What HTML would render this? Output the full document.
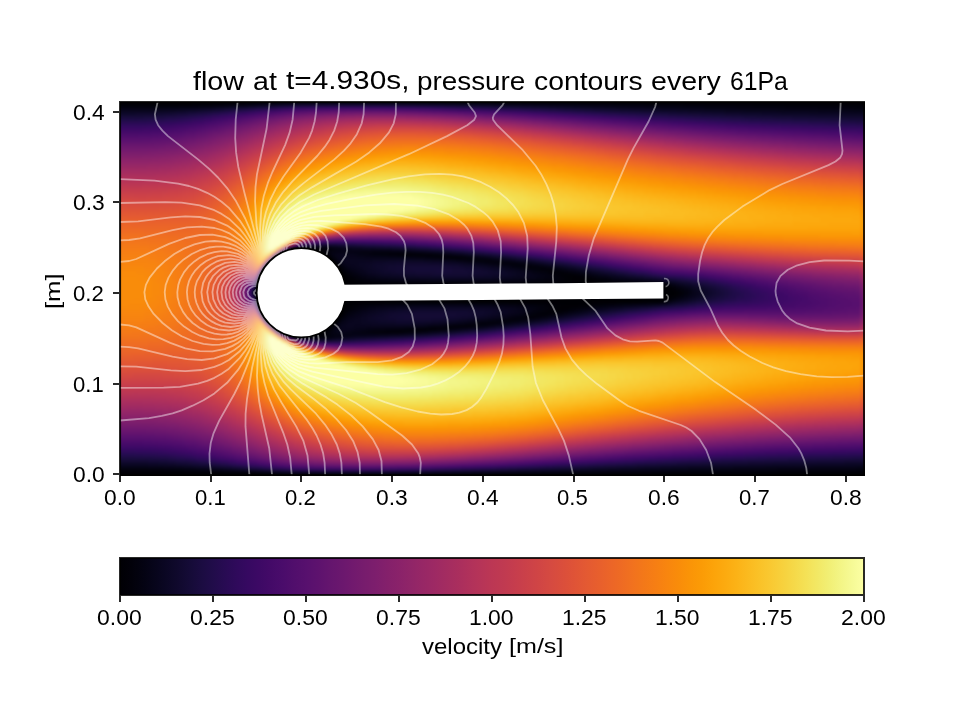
<!DOCTYPE html>
<html><head><meta charset="utf-8"><title>flow</title>
<style>
html,body{margin:0;padding:0;background:#fff}
#c{position:relative;width:960px;height:720px;overflow:hidden;background:#fff;font-family:"Liberation Sans",sans-serif}
#f{position:absolute;left:120px;top:102px;width:745px;height:374px;overflow:hidden;background:#000}
#g{display:flex;width:100%;height:100%;filter:blur(0.8px);}
#g i{display:block;flex:0 0 4px;height:100%}
#g i.n{flex-basis:2px}
#cb{position:absolute;left:120px;top:558px;width:744px;height:37px;background:linear-gradient(90deg,#000004,#02010a,#040312,#07051b,#0b0724,#10092d,#150b37,#1b0c41,#210c4a,#280b53,#2f0a5b,#360961,#3d0965,#440a68,#4a0c6b,#510e6c,#57106e,#5d126e,#64156e,#6a176e,#71196e,#771c6d,#7d1e6d,#84206b,#8a226a,#902568,#972766,#9d2964,#a32c61,#a92e5e,#b0315b,#b63458,#bc3754,#c03a51,#c63d4d,#cb4149,#d04545,#d54a41,#da4e3c,#df5337,#e35933,#e75e2e,#eb6429,#ee6a24,#f1711f,#f37819,#f67e14,#f8850f,#f98c0a,#fa9407,#fb9b06,#fca309,#fcaa0f,#fcb216,#fbba1f,#fac228,#f9c932,#f7d13d,#f5d949,#f4e156,#f2e865,#f1ef75,#f3f586,#f6fa96,#fcffa4)}
svg{position:absolute;left:0;top:0;opacity:.999}
text{font-family:"Liberation Sans",sans-serif;fill:#000}
</style></head><body>
<div id="c">
<div id="f"><div id="g"><i style="background:linear-gradient(#010005,#010106,#040312,#09061f,#0e092b,#160b39,#1f0c48,#280b53,#320a5e,#3b0964,#440a68,#4c0c6b,#540f6d,#5c126e,#64156e,#6c186e,#721a6e,#7a1d6d,#801f6c,#88226a,#8f2469,#952667,#9b2964,#a22b62,#a82e5f,#ae305c,#b43359,#b93556,#bf3952,#c33b4f,#c73e4c,#cc4248,#d04545,#d44842,#d84c3e,#db503b,#de5238,#e15635,#e45a31,#e65d2f,#e9612b,#eb6429,#ec6726,#ee6a24,#ef6e21,#f1711f,#f2741c,#f3761b,#f47918,#f57d15,#f67e14,#f68013,#f78212,#f78410,#f8850f,#f8870e,#f8890c,#f98b0b,#f98b0b,#f98c0a,#f98c0a,#f98c0a,#f98c0a,#f98c0a,#f98c0a,#f98c0a,#f98c0a,#f98b0b,#f98b0b,#f8890c,#f8870e,#f8850f,#f78410,#f78212,#f68013,#f67e14,#f57b17,#f47918,#f3761b,#f1731d,#f06f20,#ef6e21,#ee6a24,#eb6628,#ea632a,#e8602d,#e55c30,#e35933,#e05536,#de5238,#da4e3c,#d74b3f,#d34743,#cf4446,#cb4149,#c63d4d,#c13a50,#bc3754,#b73557,#b1325a,#ab2f5e,#a62d60,#a02a63,#9a2865,#932667,#8c2369,#85216b,#7f1e6c,#771c6d,#71196e,#69166e,#61136e,#59106e,#510e6c,#490b6a,#400a67,#380962,#2d0b59,#240c4f,#1b0c41,#140b34,#0c0826,#060419,#02020c,#010005,#000004)"></i><i style="background:linear-gradient(#010005,#010106,#040312,#09061f,#0e092b,#160b39,#1f0c48,#280b53,#320a5e,#3b0964,#440a68,#4c0c6b,#540f6d,#5c126e,#64156e,#6c186e,#721a6e,#7a1d6d,#801f6c,#88226a,#8f2469,#952667,#9b2964,#a22b62,#a82e5f,#ae305c,#b3325a,#b93556,#bf3952,#c33b4f,#c73e4c,#cc4248,#d04545,#d44842,#d84c3e,#db503b,#de5238,#e15635,#e45a31,#e65d2f,#e8602d,#eb6429,#ec6726,#ee6a24,#ef6e21,#f1711f,#f2741c,#f3761b,#f47918,#f57b17,#f67e14,#f68013,#f78212,#f78410,#f8850f,#f8870e,#f8890c,#f98b0b,#f98b0b,#f98c0a,#f98c0a,#f98c0a,#f98c0a,#f98c0a,#f98c0a,#f98c0a,#f98c0a,#f98b0b,#f98b0b,#f8890c,#f8870e,#f8850f,#f78410,#f78212,#f68013,#f67e14,#f57b17,#f47918,#f3761b,#f1731d,#f06f20,#ef6c23,#ed6925,#eb6628,#ea632a,#e8602d,#e55c30,#e35933,#e05536,#dd513a,#da4e3c,#d74b3f,#d34743,#cf4446,#ca404a,#c63d4d,#c13a50,#bc3754,#b73557,#b1325a,#ab2f5e,#a52c60,#a02a63,#982766,#922568,#8c2369,#85216b,#7d1e6d,#771c6d,#6f196e,#69166e,#61136e,#59106e,#510e6c,#490b6a,#400a67,#380962,#2d0b59,#240c4f,#1b0c41,#140b34,#0c0826,#060419,#02020c,#010005,#000004)"></i><i style="background:linear-gradient(#010005,#010106,#040312,#09061f,#0e092b,#160b39,#1f0c48,#280b53,#320a5e,#3b0964,#440a68,#4c0c6b,#540f6d,#5c126e,#64156e,#6c186e,#721a6e,#7a1d6d,#801f6c,#87216b,#8f2469,#952667,#9b2964,#a22b62,#a82e5f,#ae305c,#b3325a,#b93556,#bd3853,#c33b4f,#c73e4c,#cb4149,#d04545,#d44842,#d84c3e,#da4e3c,#de5238,#e15635,#e35933,#e65d2f,#e8602d,#eb6429,#ec6726,#ee6a24,#ef6e21,#f1711f,#f2741c,#f3761b,#f47918,#f57b17,#f67e14,#f68013,#f78212,#f78410,#f8850f,#f8870e,#f8890c,#f98b0b,#f98b0b,#f98c0a,#f98c0a,#f98c0a,#f98c0a,#f98c0a,#f98c0a,#f98c0a,#f98c0a,#f98b0b,#f8890c,#f8890c,#f8870e,#f8850f,#f78410,#f78212,#f68013,#f67e14,#f57b17,#f47918,#f3761b,#f1731d,#f06f20,#ef6c23,#ed6925,#eb6628,#ea632a,#e8602d,#e55c30,#e35933,#e05536,#dd513a,#d94d3d,#d74b3f,#d34743,#ce4347,#ca404a,#c63d4d,#c13a50,#bc3754,#b73557,#b1325a,#ab2f5e,#a52c60,#9f2a63,#982766,#922568,#8c2369,#85216b,#7d1e6d,#771c6d,#6f196e,#69166e,#61136e,#59106e,#510e6c,#490b6a,#400a67,#380962,#2d0b59,#240c4f,#1b0c41,#140b34,#0c0826,#060419,#02020c,#010005,#000004)"></i><i style="background:linear-gradient(#010005,#010106,#040312,#09061f,#0e092b,#160b39,#1f0c48,#280b53,#320a5e,#3b0964,#440a68,#4c0c6b,#540f6d,#5c126e,#64156e,#6c186e,#721a6e,#7a1d6d,#801f6c,#88226a,#8f2469,#952667,#9b2964,#a22b62,#a82e5f,#ae305c,#b3325a,#b93556,#bd3853,#c33b4f,#c73e4c,#cb4149,#cf4446,#d44842,#d74b3f,#da4e3c,#de5238,#e15635,#e35933,#e65d2f,#e8602d,#ea632a,#ec6726,#ee6a24,#ef6e21,#f1711f,#f2741c,#f3761b,#f47918,#f57b17,#f67e14,#f68013,#f78212,#f78410,#f8850f,#f8870e,#f8890c,#f98b0b,#f98b0b,#f98c0a,#f98c0a,#f98c0a,#f98c0a,#f98c0a,#f98c0a,#f98c0a,#f98b0b,#f98b0b,#f8890c,#f8890c,#f8870e,#f8850f,#f78410,#f78212,#f68013,#f57d15,#f57b17,#f37819,#f3761b,#f1731d,#f06f20,#ef6c23,#ed6925,#eb6628,#ea632a,#e75e2e,#e55c30,#e35933,#e05536,#dd513a,#d94d3d,#d54a41,#d24644,#ce4347,#ca404a,#c63d4d,#c13a50,#bc3754,#b63458,#b1325a,#ab2f5e,#a52c60,#9f2a63,#982766,#922568,#8c2369,#85216b,#7d1e6d,#771c6d,#6f196e,#69166e,#61136e,#59106e,#510e6c,#490b6a,#400a67,#380962,#2d0b59,#240c4f,#1b0c41,#140b34,#0c0826,#060419,#02020c,#010005,#000004)"></i><i style="background:linear-gradient(#010005,#010106,#040312,#09061f,#10092d,#160b39,#1f0c48,#280b53,#320a5e,#3b0964,#440a68,#4c0c6b,#540f6d,#5c126e,#64156e,#6c186e,#721a6e,#7a1d6d,#801f6c,#88226a,#8f2469,#952667,#9b2964,#a22b62,#a82e5f,#ae305c,#b3325a,#b93556,#bd3853,#c33b4f,#c73e4c,#cb4149,#cf4446,#d34743,#d74b3f,#da4e3c,#de5238,#e15635,#e35933,#e65d2f,#e8602d,#ea632a,#ec6726,#ee6a24,#ef6e21,#f1711f,#f1731d,#f3761b,#f47918,#f57b17,#f67e14,#f68013,#f78212,#f78410,#f8850f,#f8870e,#f8890c,#f8890c,#f98b0b,#f98b0b,#f98c0a,#f98c0a,#f98c0a,#f98c0a,#f98c0a,#f98c0a,#f98b0b,#f98b0b,#f8890c,#f8890c,#f8870e,#f8850f,#f78410,#f78212,#f68013,#f57d15,#f57b17,#f37819,#f3761b,#f1731d,#f06f20,#ef6c23,#ed6925,#eb6628,#ea632a,#e75e2e,#e55c30,#e25734,#e05536,#dd513a,#d94d3d,#d54a41,#d24644,#ce4347,#ca404a,#c63d4d,#c03a51,#bc3754,#b63458,#b1325a,#ab2f5e,#a52c60,#9f2a63,#982766,#922568,#8c2369,#85216b,#7d1e6d,#771c6d,#6f196e,#69166e,#61136e,#59106e,#510e6c,#490b6a,#400a67,#380962,#2f0a5b,#240c4f,#1c0c43,#140b34,#0c0826,#060419,#02020c,#010005,#000004)"></i><i style="background:linear-gradient(#010005,#010106,#040312,#09061f,#10092d,#160b39,#1f0c48,#290b55,#320a5e,#3b0964,#440a68,#4d0d6c,#550f6d,#5c126e,#64156e,#6c186e,#741a6e,#7a1d6d,#801f6c,#88226a,#8f2469,#952667,#9b2964,#a22b62,#a82e5f,#ae305c,#b3325a,#b93556,#bd3853,#c33b4f,#c73e4c,#cb4149,#cf4446,#d34743,#d74b3f,#da4e3c,#de5238,#e15635,#e35933,#e65d2f,#e8602d,#ea632a,#eb6628,#ee6a24,#ef6e21,#f06f20,#f1731d,#f3761b,#f37819,#f57b17,#f57d15,#f68013,#f78212,#f78410,#f8850f,#f8870e,#f8890c,#f8890c,#f98b0b,#f98b0b,#f98b0b,#f98c0a,#f98c0a,#f98c0a,#f98c0a,#f98b0b,#f98b0b,#f98b0b,#f8890c,#f8870e,#f8870e,#f8850f,#f78410,#f78212,#f67e14,#f57d15,#f57b17,#f37819,#f2741c,#f1731d,#f06f20,#ef6c23,#ed6925,#eb6628,#ea632a,#e75e2e,#e55c30,#e25734,#e05536,#dd513a,#d94d3d,#d54a41,#d24644,#ce4347,#ca404a,#c63d4d,#c03a51,#bc3754,#b73557,#b1325a,#ab2f5e,#a52c60,#9f2a63,#982766,#922568,#8c2369,#85216b,#7f1e6c,#771c6d,#71196e,#69166e,#61136e,#59106e,#510e6c,#490b6a,#400a67,#380962,#2f0a5b,#240c4f,#1c0c43,#140b34,#0c0826,#060419,#02020c,#000004,#000004)"></i><i style="background:linear-gradient(#010005,#010106,#040312,#09061f,#10092d,#180c3c,#1f0c48,#290b55,#320a5e,#3d0965,#450a69,#4d0d6c,#550f6d,#5d126e,#64156e,#6c186e,#741a6e,#7a1d6d,#82206c,#88226a,#8f2469,#952667,#9b2964,#a22b62,#a82e5f,#ae305c,#b43359,#b93556,#bf3952,#c33b4f,#c73e4c,#cb4149,#cf4446,#d34743,#d74b3f,#da4e3c,#de5238,#e15635,#e35933,#e65d2f,#e8602d,#ea632a,#eb6628,#ed6925,#ef6c23,#f06f20,#f1731d,#f3761b,#f37819,#f57b17,#f57d15,#f67e14,#f78212,#f78410,#f8850f,#f8850f,#f8870e,#f8890c,#f8890c,#f98b0b,#f98b0b,#f98b0b,#f98b0b,#f98b0b,#f98b0b,#f98b0b,#f98b0b,#f8890c,#f8890c,#f8870e,#f8850f,#f78410,#f78212,#f68013,#f67e14,#f57d15,#f47918,#f37819,#f2741c,#f1711f,#f06f20,#ef6c23,#ed6925,#eb6628,#e9612b,#e75e2e,#e55c30,#e25734,#e05536,#dd513a,#d94d3d,#d54a41,#d24644,#ce4347,#ca404a,#c63d4d,#c13a50,#bc3754,#b73557,#b1325a,#ab2f5e,#a62d60,#a02a63,#9a2865,#932667,#8c2369,#85216b,#7f1e6c,#771c6d,#71196e,#69166e,#61136e,#5a116e,#520e6d,#4a0c6b,#420a68,#380962,#2f0a5b,#260c51,#1c0c43,#140b34,#0c0826,#060419,#02020c,#000004,#000004)"></i><i style="background:linear-gradient(#010005,#010106,#040312,#09061f,#10092d,#180c3c,#210c4a,#290b55,#340a5f,#3d0965,#450a69,#4d0d6c,#550f6d,#5d126e,#65156e,#6d186e,#741a6e,#7c1d6d,#82206c,#88226a,#8f2469,#972766,#9d2964,#a32c61,#a82e5f,#ae305c,#b43359,#b93556,#bf3952,#c33b4f,#c73e4c,#cb4149,#d04545,#d44842,#d74b3f,#da4e3c,#de5238,#e15635,#e35933,#e55c30,#e8602d,#ea632a,#eb6628,#ed6925,#ef6c23,#f06f20,#f1731d,#f2741c,#f37819,#f47918,#f57d15,#f67e14,#f68013,#f78212,#f78410,#f8850f,#f8870e,#f8870e,#f8890c,#f8890c,#f98b0b,#f98b0b,#f98b0b,#f98b0b,#f98b0b,#f98b0b,#f8890c,#f8890c,#f8870e,#f8870e,#f8850f,#f78410,#f78212,#f68013,#f67e14,#f57b17,#f47918,#f3761b,#f2741c,#f1711f,#ef6e21,#ee6a24,#ec6726,#eb6429,#e9612b,#e75e2e,#e55c30,#e25734,#e05536,#dd513a,#d94d3d,#d54a41,#d24644,#ce4347,#ca404a,#c63d4d,#c13a50,#bc3754,#b73557,#b1325a,#ab2f5e,#a62d60,#a02a63,#9a2865,#932667,#8d2369,#85216b,#7f1e6c,#781c6d,#71196e,#6a176e,#62146e,#5a116e,#520e6d,#4a0c6b,#420a68,#390963,#2f0a5b,#260c51,#1c0c43,#150b37,#0d0829,#07051b,#02020c,#000004,#000004)"></i><i style="background:linear-gradient(#010005,#010106,#040312,#09061f,#10092d,#180c3c,#210c4a,#2b0b57,#340a5f,#3d0965,#470b6a,#4f0d6c,#57106e,#5f136e,#65156e,#6d186e,#751b6e,#7c1d6d,#82206c,#8a226a,#902568,#972766,#9d2964,#a32c61,#a92e5e,#ae305c,#b43359,#ba3655,#bf3952,#c33b4f,#c83f4b,#cc4248,#d04545,#d44842,#d84c3e,#da4e3c,#de5238,#e15635,#e35933,#e55c30,#e8602d,#ea632a,#eb6628,#ed6925,#ef6c23,#f06f20,#f1731d,#f2741c,#f37819,#f47918,#f57b17,#f67e14,#f68013,#f78212,#f78410,#f8850f,#f8850f,#f8870e,#f8870e,#f8890c,#f8890c,#f8890c,#f8890c,#f8890c,#f8890c,#f8890c,#f8890c,#f8870e,#f8870e,#f8850f,#f78410,#f78212,#f68013,#f67e14,#f57d15,#f57b17,#f47918,#f3761b,#f2741c,#f1711f,#ef6e21,#ee6a24,#ec6726,#eb6429,#e9612b,#e75e2e,#e45a31,#e25734,#df5337,#dd513a,#d94d3d,#d54a41,#d24644,#ce4347,#ca404a,#c63d4d,#c13a50,#bc3754,#b73557,#b1325a,#ad305d,#a62d60,#a02a63,#9a2865,#932667,#8d2369,#87216b,#7f1e6c,#781c6d,#721a6e,#6a176e,#62146e,#5a116e,#540f6d,#4c0c6b,#420a68,#390963,#310a5c,#260c51,#1e0c45,#150b37,#0d0829,#07051b,#02020c,#000004,#000004)"></i><i style="background:linear-gradient(#010005,#010106,#040312,#0a0722,#110a30,#190c3e,#230c4c,#2b0b57,#360961,#3e0966,#470b6a,#4f0d6c,#57106e,#5f136e,#67166e,#6d186e,#751b6e,#7d1e6d,#84206b,#8a226a,#902568,#972766,#9d2964,#a32c61,#a92e5e,#b0315b,#b43359,#ba3655,#bf3952,#c43c4e,#c83f4b,#cc4248,#d04545,#d44842,#d84c3e,#da4e3c,#de5238,#e15635,#e35933,#e55c30,#e8602d,#ea632a,#eb6628,#ed6925,#ef6c23,#f06f20,#f1711f,#f2741c,#f3761b,#f47918,#f57b17,#f57d15,#f67e14,#f68013,#f78212,#f78410,#f8850f,#f8850f,#f8870e,#f8870e,#f8870e,#f8890c,#f8890c,#f8890c,#f8890c,#f8870e,#f8870e,#f8870e,#f8850f,#f78410,#f78410,#f78212,#f68013,#f67e14,#f57d15,#f47918,#f37819,#f3761b,#f1731d,#f06f20,#ef6e21,#ee6a24,#ec6726,#eb6429,#e9612b,#e75e2e,#e45a31,#e25734,#df5337,#dd513a,#d94d3d,#d54a41,#d24644,#cf4446,#ca404a,#c63d4d,#c13a50,#bd3853,#b73557,#b3325a,#ad305d,#a62d60,#a22b62,#9b2964,#952667,#8d2369,#87216b,#801f6c,#7a1d6d,#721a6e,#6a176e,#64156e,#5c126e,#540f6d,#4c0c6b,#440a68,#3b0964,#310a5c,#280b53,#1e0c45,#150b37,#0d0829,#07051b,#02020c,#000004,#000004)"></i><i style="background:linear-gradient(#010005,#010106,#040312,#0a0722,#110a30,#190c3e,#230c4c,#2d0b59,#360961,#400a67,#490b6a,#510e6c,#59106e,#61136e,#67166e,#6f196e,#771c6d,#7d1e6d,#84206b,#8c2369,#922568,#982766,#9f2a63,#a52c60,#ab2f5e,#b0315b,#b63458,#ba3655,#c03a51,#c43c4e,#c83f4b,#cc4248,#d04545,#d44842,#d84c3e,#db503b,#de5238,#e15635,#e35933,#e55c30,#e8602d,#ea632a,#eb6628,#ed6925,#ef6c23,#ef6e21,#f1711f,#f1731d,#f3761b,#f37819,#f57b17,#f57d15,#f67e14,#f68013,#f78212,#f78212,#f78410,#f8850f,#f8850f,#f8850f,#f8870e,#f8870e,#f8870e,#f8870e,#f8870e,#f8870e,#f8850f,#f8850f,#f78410,#f78410,#f78212,#f68013,#f67e14,#f57d15,#f57b17,#f47918,#f37819,#f2741c,#f1731d,#f06f20,#ef6c23,#ee6a24,#ec6726,#eb6429,#e9612b,#e75e2e,#e45a31,#e25734,#df5337,#dd513a,#d94d3d,#d54a41,#d34743,#cf4446,#cb4149,#c73e4c,#c13a50,#bd3853,#b93556,#b3325a,#ad305d,#a82e5f,#a22b62,#9b2964,#952667,#8f2469,#88226a,#82206c,#7a1d6d,#741a6e,#6c186e,#64156e,#5d126e,#550f6d,#4d0d6c,#450a69,#3b0964,#320a5e,#290b55,#1f0c48,#160b39,#0e092b,#07051b,#02020c,#000004,#000004)"></i><i style="background:linear-gradient(#010005,#010106,#040314,#0a0722,#120a32,#1b0c41,#240c4f,#2f0a5b,#380962,#400a67,#4a0c6b,#520e6d,#5a116e,#61136e,#69166e,#71196e,#771c6d,#7f1e6c,#85216b,#8c2369,#922568,#9a2865,#9f2a63,#a52c60,#ab2f5e,#b1325a,#b63458,#bc3754,#c03a51,#c43c4e,#c83f4b,#ce4347,#d24644,#d44842,#d84c3e,#db503b,#de5238,#e15635,#e35933,#e55c30,#e8602d,#ea632a,#eb6628,#ed6925,#ee6a24,#ef6e21,#f1711f,#f1731d,#f3761b,#f37819,#f47918,#f57b17,#f57d15,#f67e14,#f68013,#f78212,#f78212,#f78410,#f78410,#f8850f,#f8850f,#f8850f,#f8850f,#f8850f,#f8850f,#f8850f,#f78410,#f78410,#f78212,#f78212,#f68013,#f67e14,#f57d15,#f57b17,#f47918,#f37819,#f3761b,#f2741c,#f1711f,#f06f20,#ef6c23,#ed6925,#eb6628,#eb6429,#e9612b,#e65d2f,#e45a31,#e25734,#df5337,#dd513a,#d94d3d,#d74b3f,#d34743,#cf4446,#cb4149,#c73e4c,#c33b4f,#bd3853,#b93556,#b43359,#ae305c,#a82e5f,#a32c61,#9d2964,#972766,#902568,#88226a,#82206c,#7c1d6d,#741a6e,#6d186e,#65156e,#5d126e,#550f6d,#4f0d6c,#450a69,#3d0965,#340a5f,#290b55,#1f0c48,#160b39,#0e092b,#08051d,#02020e,#000004,#000004)"></i><i style="background:linear-gradient(#010005,#010106,#040314,#0b0724,#120a32,#1c0c43,#260c51,#2f0a5b,#390963,#420a68,#4a0c6b,#520e6d,#5a116e,#62146e,#6a176e,#721a6e,#781c6d,#801f6c,#87216b,#8d2369,#932667,#9a2865,#a02a63,#a62d60,#ad305d,#b1325a,#b73557,#bc3754,#c13a50,#c63d4d,#ca404a,#ce4347,#d24644,#d54a41,#d84c3e,#db503b,#df5337,#e15635,#e35933,#e65d2f,#e8602d,#ea632a,#eb6628,#ec6726,#ee6a24,#ef6e21,#f06f20,#f1731d,#f2741c,#f3761b,#f37819,#f57b17,#f57b17,#f57d15,#f67e14,#f68013,#f68013,#f78212,#f78212,#f78410,#f78410,#f78410,#f78410,#f78410,#f78410,#f78410,#f78212,#f78212,#f68013,#f68013,#f67e14,#f57d15,#f57d15,#f57b17,#f47918,#f37819,#f2741c,#f1731d,#f1711f,#ef6e21,#ef6c23,#ed6925,#eb6628,#ea632a,#e8602d,#e65d2f,#e45a31,#e25734,#e05536,#dd513a,#da4e3c,#d74b3f,#d34743,#cf4446,#cb4149,#c73e4c,#c33b4f,#bf3952,#ba3655,#b43359,#b0315b,#a92e5e,#a32c61,#9d2964,#972766,#902568,#8a226a,#84206b,#7d1e6d,#751b6e,#6f196e,#67166e,#5f136e,#57106e,#4f0d6c,#470b6a,#3e0966,#360961,#2b0b57,#210c4a,#180c3c,#10092d,#08051d,#02020e,#000004,#000004)"></i><i style="background:linear-gradient(#010005,#010106,#040314,#0b0724,#140b34,#1c0c43,#260c51,#310a5c,#3b0964,#440a68,#4c0c6b,#540f6d,#5c126e,#64156e,#6c186e,#721a6e,#7a1d6d,#801f6c,#88226a,#8f2469,#952667,#9b2964,#a22b62,#a82e5f,#ad305d,#b3325a,#b93556,#bd3853,#c13a50,#c63d4d,#cb4149,#cf4446,#d24644,#d54a41,#d94d3d,#db503b,#df5337,#e15635,#e45a31,#e65d2f,#e8602d,#ea632a,#eb6628,#ec6726,#ee6a24,#ef6e21,#f06f20,#f1711f,#f2741c,#f3761b,#f37819,#f47918,#f57b17,#f57d15,#f57d15,#f67e14,#f67e14,#f68013,#f68013,#f68013,#f78212,#f78212,#f78212,#f78212,#f78212,#f68013,#f68013,#f68013,#f67e14,#f67e14,#f57d15,#f57b17,#f57b17,#f47918,#f37819,#f3761b,#f2741c,#f1711f,#f06f20,#ef6e21,#ee6a24,#ed6925,#eb6628,#ea632a,#e8602d,#e65d2f,#e45a31,#e25734,#e05536,#dd513a,#da4e3c,#d74b3f,#d44842,#d04545,#cc4248,#c83f4b,#c43c4e,#c03a51,#ba3655,#b63458,#b0315b,#ab2f5e,#a52c60,#9f2a63,#982766,#922568,#8c2369,#85216b,#7d1e6d,#771c6d,#6f196e,#69166e,#61136e,#59106e,#510e6c,#490b6a,#400a67,#360961,#2d0b59,#230c4c,#190c3e,#10092d,#08051d,#02020e,#000004,#000004)"></i><i style="background:linear-gradient(#010005,#010106,#040314,#0c0826,#150b37,#1e0c45,#280b53,#320a5e,#3d0965,#450a69,#4d0d6c,#550f6d,#5d126e,#65156e,#6d186e,#741a6e,#7c1d6d,#82206c,#8a226a,#902568,#972766,#9d2964,#a32c61,#a92e5e,#ae305c,#b43359,#b93556,#bf3952,#c33b4f,#c73e4c,#cb4149,#cf4446,#d34743,#d74b3f,#d94d3d,#dd513a,#df5337,#e25734,#e45a31,#e65d2f,#e8602d,#ea632a,#eb6628,#ec6726,#ee6a24,#ef6c23,#f06f20,#f1711f,#f1731d,#f2741c,#f3761b,#f37819,#f47918,#f57b17,#f57b17,#f57d15,#f57d15,#f67e14,#f67e14,#f67e14,#f67e14,#f67e14,#f67e14,#f67e14,#f67e14,#f67e14,#f67e14,#f57d15,#f57d15,#f57b17,#f57b17,#f47918,#f47918,#f37819,#f3761b,#f2741c,#f1731d,#f1711f,#ef6e21,#ef6c23,#ee6a24,#ec6726,#eb6628,#ea632a,#e8602d,#e65d2f,#e45a31,#e25734,#e05536,#de5238,#da4e3c,#d84c3e,#d44842,#d04545,#cc4248,#c83f4b,#c43c4e,#c03a51,#bc3754,#b73557,#b1325a,#ab2f5e,#a62d60,#a02a63,#9a2865,#932667,#8d2369,#87216b,#7f1e6c,#781c6d,#71196e,#6a176e,#62146e,#5a116e,#520e6d,#4a0c6b,#420a68,#380962,#2f0a5b,#240c4f,#1b0c41,#110a30,#09061f,#02020e,#000004,#000004)"></i><i style="background:linear-gradient(#010005,#010106,#050417,#0c0826,#150b37,#1f0c48,#290b55,#340a5f,#3e0966,#470b6a,#4f0d6c,#57106e,#5f136e,#67166e,#6f196e,#771c6d,#7d1e6d,#84206b,#8c2369,#922568,#982766,#9f2a63,#a52c60,#ab2f5e,#b0315b,#b63458,#ba3655,#c03a51,#c43c4e,#c83f4b,#cc4248,#d04545,#d44842,#d74b3f,#da4e3c,#dd513a,#e05536,#e25734,#e45a31,#e65d2f,#e8602d,#ea632a,#eb6628,#ec6726,#ee6a24,#ef6c23,#ef6e21,#f1711f,#f1731d,#f2741c,#f3761b,#f3761b,#f37819,#f47918,#f47918,#f57b17,#f57b17,#f57b17,#f57d15,#f57d15,#f57d15,#f57d15,#f57d15,#f57d15,#f57d15,#f57b17,#f57b17,#f57b17,#f47918,#f47918,#f47918,#f37819,#f3761b,#f3761b,#f2741c,#f1731d,#f1711f,#f06f20,#ef6e21,#ef6c23,#ed6925,#ec6726,#eb6429,#ea632a,#e8602d,#e65d2f,#e45a31,#e25734,#e05536,#de5238,#db503b,#d84c3e,#d54a41,#d24644,#ce4347,#ca404a,#c63d4d,#c13a50,#bd3853,#b73557,#b3325a,#ad305d,#a82e5f,#a22b62,#9b2964,#952667,#8f2469,#88226a,#82206c,#7a1d6d,#741a6e,#6c186e,#64156e,#5c126e,#540f6d,#4c0c6b,#440a68,#3b0964,#310a5c,#260c51,#1b0c41,#120a32,#09061f,#02020e,#000004,#000004)"></i><i style="background:linear-gradient(#010005,#010106,#050417,#0d0829,#160b39,#210c4a,#2b0b57,#360961,#400a67,#490b6a,#520e6d,#5a116e,#62146e,#69166e,#71196e,#781c6d,#7f1e6c,#87216b,#8d2369,#932667,#9a2865,#a02a63,#a62d60,#ad305d,#b1325a,#b73557,#bc3754,#c13a50,#c63d4d,#ca404a,#ce4347,#d24644,#d44842,#d84c3e,#db503b,#de5238,#e05536,#e35933,#e55c30,#e75e2e,#e8602d,#ea632a,#eb6628,#ec6726,#ee6a24,#ef6c23,#ef6e21,#f06f20,#f1711f,#f1731d,#f2741c,#f2741c,#f3761b,#f37819,#f37819,#f37819,#f47918,#f47918,#f47918,#f47918,#f47918,#f47918,#f47918,#f47918,#f47918,#f47918,#f37819,#f37819,#f37819,#f3761b,#f3761b,#f3761b,#f2741c,#f1731d,#f1731d,#f1711f,#f06f20,#ef6e21,#ef6c23,#ee6a24,#ed6925,#ec6726,#eb6429,#ea632a,#e8602d,#e65d2f,#e55c30,#e35933,#e15635,#de5238,#db503b,#d94d3d,#d54a41,#d34743,#cf4446,#cb4149,#c73e4c,#c33b4f,#bf3952,#b93556,#b43359,#ae305c,#a92e5e,#a32c61,#9d2964,#972766,#902568,#8a226a,#84206b,#7c1d6d,#751b6e,#6d186e,#67166e,#5f136e,#57106e,#4f0d6c,#450a69,#3d0965,#320a5e,#280b53,#1c0c43,#120a32,#0a0722,#030210,#010005,#000004)"></i><i style="background:linear-gradient(#010005,#010106,#050417,#0e092b,#180c3c,#230c4c,#2d0b59,#380962,#420a68,#4c0c6b,#540f6d,#5c126e,#64156e,#6c186e,#721a6e,#7a1d6d,#801f6c,#88226a,#8f2469,#952667,#9b2964,#a22b62,#a82e5f,#ae305c,#b3325a,#b93556,#bd3853,#c33b4f,#c73e4c,#cb4149,#cf4446,#d34743,#d54a41,#d94d3d,#db503b,#df5337,#e15635,#e35933,#e55c30,#e75e2e,#e9612b,#ea632a,#eb6628,#ec6726,#ee6a24,#ef6c23,#ef6e21,#f06f20,#f1711f,#f1711f,#f1731d,#f2741c,#f2741c,#f2741c,#f3761b,#f3761b,#f3761b,#f3761b,#f3761b,#f3761b,#f3761b,#f3761b,#f3761b,#f3761b,#f3761b,#f3761b,#f3761b,#f2741c,#f2741c,#f2741c,#f1731d,#f1731d,#f1731d,#f1711f,#f1711f,#f06f20,#ef6e21,#ef6c23,#ef6c23,#ee6a24,#ec6726,#eb6628,#eb6429,#ea632a,#e8602d,#e75e2e,#e55c30,#e35933,#e15635,#df5337,#dd513a,#d94d3d,#d74b3f,#d34743,#d04545,#cc4248,#c83f4b,#c43c4e,#c03a51,#bc3754,#b63458,#b1325a,#ab2f5e,#a52c60,#9f2a63,#9a2865,#922568,#8c2369,#85216b,#7f1e6c,#771c6d,#71196e,#69166e,#61136e,#59106e,#510e6c,#490b6a,#3e0966,#340a5f,#290b55,#1e0c45,#140b34,#0a0722,#030210,#010005,#000004)"></i><i style="background:linear-gradient(#010106,#010108,#060419,#0e092b,#190c3e,#240c4f,#310a5c,#3b0964,#440a68,#4d0d6c,#550f6d,#5d126e,#65156e,#6d186e,#751b6e,#7c1d6d,#84206b,#8a226a,#902568,#982766,#9f2a63,#a52c60,#a92e5e,#b0315b,#b63458,#ba3655,#c03a51,#c43c4e,#c83f4b,#cc4248,#d04545,#d44842,#d74b3f,#da4e3c,#dd513a,#e05536,#e25734,#e45a31,#e65d2f,#e8602d,#e9612b,#eb6429,#eb6628,#ed6925,#ee6a24,#ef6c23,#ef6e21,#f06f20,#f06f20,#f1711f,#f1711f,#f1731d,#f1731d,#f1731d,#f1731d,#f1731d,#f1731d,#f1731d,#f1731d,#f1731d,#f1731d,#f1731d,#f1731d,#f1731d,#f1731d,#f1711f,#f1711f,#f1711f,#f1711f,#f1711f,#f1711f,#f06f20,#f06f20,#f06f20,#ef6e21,#ef6e21,#ef6c23,#ef6c23,#ee6a24,#ed6925,#ec6726,#eb6628,#eb6429,#ea632a,#e8602d,#e75e2e,#e55c30,#e35933,#e25734,#e05536,#dd513a,#da4e3c,#d84c3e,#d44842,#d24644,#ce4347,#ca404a,#c63d4d,#c13a50,#bd3853,#b73557,#b3325a,#ad305d,#a82e5f,#a22b62,#9b2964,#952667,#8f2469,#87216b,#801f6c,#7a1d6d,#721a6e,#6a176e,#62146e,#5a116e,#520e6d,#4a0c6b,#400a67,#380962,#2b0b57,#1f0c48,#150b37,#0b0724,#030210,#010005,#000004)"></i><i style="background:linear-gradient(#010106,#010108,#060419,#10092d,#1b0c41,#260c51,#320a5e,#3d0965,#470b6a,#4f0d6c,#59106e,#61136e,#69166e,#71196e,#771c6d,#7f1e6c,#85216b,#8d2369,#932667,#9a2865,#a02a63,#a62d60,#ad305d,#b3325a,#b73557,#bd3853,#c13a50,#c63d4d,#ca404a,#ce4347,#d24644,#d54a41,#d94d3d,#db503b,#df5337,#e15635,#e35933,#e55c30,#e75e2e,#e8602d,#ea632a,#eb6429,#ec6726,#ed6925,#ee6a24,#ef6c23,#ef6e21,#ef6e21,#f06f20,#f06f20,#f1711f,#f1711f,#f1711f,#f1711f,#f1711f,#f1711f,#f1711f,#f06f20,#f06f20,#f06f20,#f06f20,#f06f20,#ef6e21,#ef6e21,#ef6e21,#ef6e21,#ef6e21,#ef6e21,#ef6e21,#ef6e21,#ef6c23,#ef6c23,#ef6c23,#ef6c23,#ef6c23,#ef6c23,#ee6a24,#ee6a24,#ed6925,#ed6925,#ec6726,#eb6628,#eb6429,#ea632a,#e9612b,#e75e2e,#e65d2f,#e45a31,#e25734,#e05536,#de5238,#db503b,#d94d3d,#d54a41,#d34743,#cf4446,#cb4149,#c73e4c,#c33b4f,#bf3952,#ba3655,#b43359,#b0315b,#a92e5e,#a32c61,#9d2964,#972766,#902568,#8a226a,#84206b,#7c1d6d,#751b6e,#6d186e,#65156e,#5d126e,#550f6d,#4d0d6c,#440a68,#390963,#2f0a5b,#230c4c,#160b39,#0c0826,#040312,#010005,#000004)"></i><i style="background:linear-gradient(#010106,#010108,#07051b,#110a30,#1c0c43,#280b53,#340a5f,#3e0966,#490b6a,#520e6d,#5a116e,#62146e,#6a176e,#721a6e,#7a1d6d,#801f6c,#88226a,#8f2469,#972766,#9d2964,#a32c61,#a92e5e,#ae305c,#b43359,#ba3655,#bf3952,#c43c4e,#c83f4b,#cc4248,#d04545,#d44842,#d74b3f,#da4e3c,#dd513a,#e05536,#e25734,#e45a31,#e65d2f,#e8602d,#e9612b,#eb6429,#eb6628,#ec6726,#ed6925,#ee6a24,#ef6c23,#ef6e21,#ef6e21,#ef6e21,#f06f20,#f06f20,#f06f20,#f06f20,#f06f20,#ef6e21,#ef6e21,#ef6e21,#ef6c23,#ef6c23,#ef6c23,#ee6a24,#ee6a24,#ee6a24,#ed6925,#ed6925,#ed6925,#ed6925,#ed6925,#ed6925,#ed6925,#ed6925,#ed6925,#ed6925,#ed6925,#ed6925,#ed6925,#ed6925,#ed6925,#ed6925,#ec6726,#ec6726,#eb6628,#eb6429,#ea632a,#e9612b,#e8602d,#e65d2f,#e55c30,#e35933,#e15635,#e05536,#dd513a,#da4e3c,#d84c3e,#d44842,#d24644,#ce4347,#ca404a,#c63d4d,#c13a50,#bc3754,#b73557,#b1325a,#ad305d,#a62d60,#a02a63,#9a2865,#932667,#8d2369,#85216b,#7f1e6c,#771c6d,#71196e,#69166e,#61136e,#59106e,#4f0d6c,#450a69,#3b0964,#310a5c,#240c4f,#180c3c,#0d0829,#040312,#010005,#000004)"></i><i style="background:linear-gradient(#010106,#010108,#08051d,#120a32,#1e0c45,#2b0b57,#380962,#420a68,#4c0c6b,#550f6d,#5d126e,#65156e,#6d186e,#751b6e,#7d1e6d,#84206b,#8c2369,#922568,#982766,#9f2a63,#a52c60,#ab2f5e,#b1325a,#b73557,#bc3754,#c13a50,#c63d4d,#ca404a,#cf4446,#d24644,#d54a41,#d94d3d,#dd513a,#df5337,#e15635,#e35933,#e55c30,#e75e2e,#e9612b,#ea632a,#eb6628,#ec6726,#ed6925,#ee6a24,#ef6c23,#ef6c23,#ef6e21,#ef6e21,#ef6e21,#ef6e21,#ef6e21,#ef6e21,#ef6e21,#ef6c23,#ef6c23,#ee6a24,#ed6925,#ed6925,#ec6726,#ec6726,#eb6628,#eb6628,#eb6429,#eb6429,#eb6429,#eb6429,#eb6429,#eb6429,#eb6429,#eb6429,#eb6628,#eb6628,#eb6628,#ec6726,#ec6726,#ec6726,#ec6726,#ec6726,#ec6726,#ec6726,#eb6628,#eb6628,#eb6429,#eb6429,#ea632a,#e9612b,#e75e2e,#e65d2f,#e45a31,#e35933,#e15635,#df5337,#dd513a,#d94d3d,#d74b3f,#d34743,#cf4446,#cc4248,#c83f4b,#c33b4f,#bf3952,#ba3655,#b43359,#b0315b,#a92e5e,#a32c61,#9d2964,#972766,#902568,#88226a,#82206c,#7a1d6d,#721a6e,#6c186e,#64156e,#5a116e,#520e6d,#490b6a,#3e0966,#320a5e,#260c51,#190c3e,#0d0829,#040314,#010005,#000004)"></i><i style="background:linear-gradient(#010106,#010108,#08051d,#140b34,#1f0c48,#2d0b59,#390963,#450a69,#4f0d6c,#57106e,#61136e,#69166e,#71196e,#781c6d,#7f1e6c,#87216b,#8d2369,#952667,#9b2964,#a22b62,#a82e5f,#ae305c,#b43359,#ba3655,#bf3952,#c43c4e,#c83f4b,#cc4248,#d04545,#d44842,#d84c3e,#db503b,#de5238,#e15635,#e35933,#e55c30,#e75e2e,#e9612b,#ea632a,#eb6628,#ec6726,#ed6925,#ee6a24,#ef6c23,#ef6c23,#ef6e21,#ef6e21,#ef6e21,#ef6e21,#ef6e21,#ef6c23,#ef6c23,#ee6a24,#ee6a24,#ed6925,#ec6726,#eb6628,#eb6429,#ea632a,#ea632a,#e9612b,#e8602d,#e8602d,#e8602d,#e75e2e,#e75e2e,#e75e2e,#e8602d,#e8602d,#e8602d,#e9612b,#e9612b,#ea632a,#eb6429,#eb6429,#eb6628,#eb6628,#eb6628,#ec6726,#ec6726,#eb6628,#eb6628,#eb6628,#eb6429,#ea632a,#ea632a,#e8602d,#e75e2e,#e65d2f,#e45a31,#e25734,#e05536,#de5238,#db503b,#d94d3d,#d54a41,#d24644,#ce4347,#ca404a,#c63d4d,#c13a50,#bd3853,#b73557,#b1325a,#ad305d,#a62d60,#a02a63,#9a2865,#922568,#8c2369,#85216b,#7d1e6d,#751b6e,#6d186e,#65156e,#5d126e,#550f6d,#4c0c6b,#420a68,#360961,#290b55,#1c0c43,#0e092b,#040314,#010005,#000004)"></i><i style="background:linear-gradient(#010106,#02010a,#09061f,#150b37,#230c4c,#310a5c,#3d0965,#470b6a,#510e6c,#5a116e,#64156e,#6c186e,#741a6e,#7c1d6d,#82206c,#8a226a,#902568,#982766,#9f2a63,#a52c60,#ab2f5e,#b1325a,#b73557,#bd3853,#c13a50,#c73e4c,#cb4149,#cf4446,#d34743,#d74b3f,#da4e3c,#de5238,#e05536,#e35933,#e55c30,#e75e2e,#e9612b,#ea632a,#eb6628,#ec6726,#ed6925,#ee6a24,#ef6c23,#ef6e21,#ef6e21,#f06f20,#f06f20,#ef6e21,#ef6e21,#ef6e21,#ef6c23,#ee6a24,#ed6925,#ec6726,#eb6628,#eb6429,#ea632a,#e8602d,#e75e2e,#e65d2f,#e55c30,#e45a31,#e45a31,#e35933,#e35933,#e35933,#e35933,#e45a31,#e45a31,#e55c30,#e65d2f,#e75e2e,#e8602d,#e9612b,#e9612b,#ea632a,#eb6429,#eb6628,#eb6628,#ec6726,#ec6726,#ec6726,#eb6628,#eb6628,#eb6628,#eb6429,#ea632a,#e9612b,#e75e2e,#e65d2f,#e45a31,#e25734,#e05536,#de5238,#db503b,#d84c3e,#d44842,#d04545,#cc4248,#c83f4b,#c43c4e,#c03a51,#ba3655,#b63458,#b0315b,#a92e5e,#a32c61,#9d2964,#952667,#8f2469,#88226a,#801f6c,#781c6d,#71196e,#69166e,#61136e,#59106e,#4f0d6c,#450a69,#390963,#2b0b57,#1e0c45,#10092d,#050417,#010005,#000004)"></i><i style="background:linear-gradient(#010106,#02010a,#0a0722,#160b39,#240c4f,#320a5e,#400a67,#4a0c6b,#540f6d,#5d126e,#65156e,#6f196e,#771c6d,#7f1e6c,#85216b,#8d2369,#932667,#9b2964,#a22b62,#a82e5f,#ae305c,#b43359,#ba3655,#c03a51,#c43c4e,#ca404a,#ce4347,#d24644,#d54a41,#d94d3d,#dd513a,#e05536,#e25734,#e55c30,#e75e2e,#e9612b,#eb6429,#eb6628,#ed6925,#ee6a24,#ef6c23,#ef6e21,#f06f20,#f06f20,#f1711f,#f1711f,#f06f20,#f06f20,#ef6e21,#ef6e21,#ef6c23,#ed6925,#ec6726,#eb6628,#ea632a,#e8602d,#e75e2e,#e55c30,#e35933,#e25734,#e15635,#e05536,#df5337,#de5238,#de5238,#de5238,#df5337,#df5337,#e05536,#e15635,#e25734,#e45a31,#e55c30,#e65d2f,#e8602d,#e9612b,#ea632a,#eb6429,#eb6628,#ec6726,#ec6726,#ec6726,#ec6726,#ec6726,#ec6726,#eb6628,#eb6429,#ea632a,#e9612b,#e8602d,#e65d2f,#e45a31,#e25734,#e05536,#de5238,#da4e3c,#d84c3e,#d44842,#d04545,#cc4248,#c73e4c,#c33b4f,#bd3853,#b93556,#b3325a,#ad305d,#a62d60,#a02a63,#9a2865,#922568,#8c2369,#84206b,#7c1d6d,#751b6e,#6d186e,#64156e,#5c126e,#520e6d,#490b6a,#3d0965,#2f0a5b,#1f0c48,#110a30,#050417,#010005,#000004)"></i><i style="background:linear-gradient(#010106,#02010a,#0b0724,#180c3c,#280b53,#360961,#420a68,#4d0d6c,#57106e,#61136e,#69166e,#721a6e,#7a1d6d,#82206c,#88226a,#902568,#982766,#9f2a63,#a52c60,#ab2f5e,#b1325a,#b73557,#bd3853,#c33b4f,#c83f4b,#cc4248,#d04545,#d54a41,#d94d3d,#dd513a,#df5337,#e25734,#e55c30,#e75e2e,#e9612b,#eb6429,#ec6726,#ee6a24,#ef6c23,#ef6e21,#f06f20,#f1711f,#f1731d,#f1731d,#f1731d,#f1731d,#f1731d,#f1711f,#f06f20,#ef6e21,#ee6a24,#ed6925,#eb6628,#ea632a,#e8602d,#e65d2f,#e45a31,#e25734,#df5337,#dd513a,#db503b,#d94d3d,#d84c3e,#d84c3e,#d74b3f,#d74b3f,#d84c3e,#d94d3d,#da4e3c,#dd513a,#df5337,#e05536,#e25734,#e45a31,#e65d2f,#e8602d,#ea632a,#eb6429,#eb6628,#ec6726,#ed6925,#ee6a24,#ee6a24,#ee6a24,#ee6a24,#ed6925,#ec6726,#eb6628,#eb6429,#ea632a,#e8602d,#e75e2e,#e55c30,#e25734,#e05536,#de5238,#da4e3c,#d74b3f,#d34743,#cf4446,#cb4149,#c63d4d,#c13a50,#bc3754,#b63458,#b0315b,#a92e5e,#a32c61,#9d2964,#972766,#8f2469,#87216b,#801f6c,#781c6d,#71196e,#67166e,#5f136e,#550f6d,#4c0c6b,#400a67,#320a5e,#230c4c,#140b34,#060419,#010005,#000004)"></i><i style="background:linear-gradient(#010106,#02020c,#0c0826,#1b0c41,#290b55,#390963,#450a69,#510e6c,#5a116e,#64156e,#6d186e,#751b6e,#7d1e6d,#85216b,#8d2369,#932667,#9b2964,#a22b62,#a82e5f,#b0315b,#b63458,#bc3754,#c13a50,#c63d4d,#cb4149,#cf4446,#d44842,#d84c3e,#db503b,#df5337,#e25734,#e55c30,#e75e2e,#e9612b,#eb6628,#ed6925,#ee6a24,#ef6e21,#f06f20,#f1731d,#f2741c,#f2741c,#f3761b,#f3761b,#f3761b,#f3761b,#f2741c,#f1731d,#f1711f,#ef6e21,#ef6c23,#ed6925,#eb6429,#e9612b,#e65d2f,#e35933,#e05536,#de5238,#da4e3c,#d74b3f,#d44842,#d24644,#d04545,#cf4446,#ce4347,#cf4446,#d04545,#d24644,#d44842,#d74b3f,#d94d3d,#dd513a,#df5337,#e25734,#e55c30,#e75e2e,#e9612b,#eb6429,#ec6726,#ed6925,#ee6a24,#ef6c23,#ef6e21,#ef6e21,#ef6e21,#ef6c23,#ef6c23,#ee6a24,#ed6925,#eb6628,#eb6429,#e9612b,#e75e2e,#e55c30,#e35933,#e05536,#de5238,#da4e3c,#d74b3f,#d34743,#ce4347,#ca404a,#c43c4e,#c03a51,#ba3655,#b43359,#ae305c,#a82e5f,#a02a63,#9a2865,#932667,#8c2369,#84206b,#7c1d6d,#741a6e,#6c186e,#62146e,#59106e,#4f0d6c,#440a68,#340a5f,#240c4f,#150b37,#07051b,#010106,#000004)"></i><i style="background:linear-gradient(#010106,#02020c,#0d0829,#1c0c43,#2d0b59,#3b0964,#490b6a,#540f6d,#5d126e,#67166e,#71196e,#781c6d,#801f6c,#88226a,#902568,#982766,#9f2a63,#a62d60,#ad305d,#b3325a,#b93556,#bf3952,#c43c4e,#ca404a,#cf4446,#d34743,#d74b3f,#db503b,#df5337,#e25734,#e55c30,#e75e2e,#ea632a,#eb6628,#ed6925,#ef6c23,#f06f20,#f1731d,#f2741c,#f3761b,#f37819,#f47918,#f47918,#f57b17,#f47918,#f47918,#f37819,#f3761b,#f1731d,#f1711f,#ef6c23,#ed6925,#eb6429,#e8602d,#e55c30,#e15635,#dd513a,#d84c3e,#d44842,#cf4446,#cb4149,#c83f4b,#c63d4d,#c43c4e,#c33b4f,#c43c4e,#c63d4d,#c83f4b,#cb4149,#cf4446,#d44842,#d84c3e,#dd513a,#e05536,#e35933,#e65d2f,#e9612b,#eb6628,#ed6925,#ef6c23,#ef6e21,#f06f20,#f1711f,#f1711f,#f1711f,#f1711f,#f1711f,#f06f20,#ef6e21,#ee6a24,#ed6925,#eb6628,#ea632a,#e8602d,#e65d2f,#e35933,#e05536,#de5238,#da4e3c,#d54a41,#d24644,#ce4347,#c83f4b,#c33b4f,#bf3952,#b93556,#b1325a,#ab2f5e,#a52c60,#9f2a63,#972766,#8f2469,#88226a,#801f6c,#771c6d,#6f196e,#65156e,#5c126e,#520e6d,#470b6a,#380962,#280b53,#160b39,#08051d,#010106,#000004)"></i><i style="background:linear-gradient(#010106,#02020e,#0e092b,#1e0c45,#2f0a5b,#3e0966,#4c0c6b,#57106e,#62146e,#6a176e,#741a6e,#7c1d6d,#84206b,#8c2369,#932667,#9b2964,#a22b62,#a92e5e,#b0315b,#b73557,#bd3853,#c33b4f,#c83f4b,#cc4248,#d24644,#d74b3f,#da4e3c,#de5238,#e25734,#e55c30,#e8602d,#ea632a,#ec6726,#ee6a24,#ef6e21,#f1731d,#f2741c,#f37819,#f47918,#f57d15,#f57d15,#f67e14,#f67e14,#f68013,#f67e14,#f67e14,#f57d15,#f47918,#f37819,#f1731d,#f06f20,#ee6a24,#eb6429,#e75e2e,#e35933,#df5337,#d94d3d,#d34743,#cc4248,#c73e4c,#c03a51,#bc3754,#b73557,#b63458,#b43359,#b63458,#b93556,#bc3754,#c13a50,#c73e4c,#ce4347,#d34743,#d94d3d,#de5238,#e25734,#e65d2f,#ea632a,#ec6726,#ee6a24,#f06f20,#f1711f,#f2741c,#f3761b,#f3761b,#f3761b,#f3761b,#f3761b,#f2741c,#f1731d,#f1711f,#ef6e21,#ee6a24,#ec6726,#eb6429,#e9612b,#e65d2f,#e45a31,#e15635,#de5238,#d94d3d,#d54a41,#d24644,#cc4248,#c73e4c,#c13a50,#bc3754,#b63458,#b0315b,#a92e5e,#a22b62,#9b2964,#932667,#8c2369,#84206b,#7c1d6d,#741a6e,#6a176e,#61136e,#550f6d,#4a0c6b,#3b0964,#2b0b57,#190c3e,#09061f,#010106,#000004)"></i><i style="background:linear-gradient(#010106,#02020e,#10092d,#210c4a,#320a5e,#420a68,#4f0d6c,#5a116e,#65156e,#6f196e,#771c6d,#801f6c,#88226a,#902568,#982766,#9f2a63,#a62d60,#ad305d,#b43359,#ba3655,#c03a51,#c63d4d,#cb4149,#d04545,#d54a41,#da4e3c,#de5238,#e15635,#e55c30,#e8602d,#eb6429,#ec6726,#ef6c23,#f1711f,#f2741c,#f37819,#f57b17,#f57d15,#f68013,#f78212,#f78410,#f8850f,#f8850f,#f8850f,#f8850f,#f78410,#f78212,#f67e14,#f57b17,#f37819,#f1731d,#ef6c23,#eb6628,#e8602d,#e35933,#dd513a,#d54a41,#ce4347,#c43c4e,#bc3754,#b3325a,#ab2f5e,#a52c60,#a22b62,#a22b62,#a32c61,#a62d60,#ad305d,#b43359,#bd3853,#c63d4d,#ce4347,#d54a41,#dd513a,#e25734,#e75e2e,#eb6429,#ee6a24,#f06f20,#f2741c,#f37819,#f47918,#f57b17,#f57d15,#f57d15,#f57d15,#f57d15,#f57b17,#f47918,#f3761b,#f2741c,#f1711f,#ef6e21,#ee6a24,#eb6628,#ea632a,#e75e2e,#e45a31,#e15635,#de5238,#d94d3d,#d54a41,#d04545,#cb4149,#c63d4d,#c03a51,#ba3655,#b43359,#ad305d,#a62d60,#9f2a63,#982766,#902568,#88226a,#801f6c,#771c6d,#6d186e,#64156e,#5a116e,#4d0d6c,#400a67,#2f0a5b,#1b0c41,#0a0722,#010106,#000004)"></i><i class="n" style="background:linear-gradient(#010106,#030210,#110a30,#230c4c,#360961,#450a69,#520e6d,#5d126e,#69166e,#721a6e,#7a1d6d,#84206b,#8c2369,#932667,#9b2964,#a22b62,#a92e5e,#b0315b,#b73557,#bd3853,#c33b4f,#ca404a,#cf4446,#d34743,#d84c3e,#dd513a,#e05536,#e45a31,#e75e2e,#ea632a,#ec6726,#ef6c23,#f1711f,#f2741c,#f47918,#f57d15,#f68013,#f78212,#f8850f,#f8870e,#f8890c,#f98b0b,#f98b0b,#f98b0b,#f98b0b,#f8890c,#f8870e,#f8850f,#f68013,#f57d15,#f3761b,#f1711f,#ed6925,#e9612b,#e35933,#db503b,#d34743,#c83f4b,#bf3952,#b3325a,#a62d60,#9d2964,#952667,#902568,#8f2469,#922568,#972766,#a02a63,#a92e5e,#b63458,#c03a51,#cb4149,#d44842,#dd513a,#e35933,#e9612b,#ec6726,#ef6e21,#f2741c,#f37819,#f57d15,#f67e14,#f68013,#f78212,#f78212,#f78212,#f78212,#f68013,#f67e14,#f57d15,#f47918,#f3761b,#f1731d,#f06f20,#ee6a24,#eb6628,#ea632a,#e75e2e,#e35933,#e05536,#dd513a,#d84c3e,#d34743,#cf4446,#ca404a,#c33b4f,#bd3853,#b73557,#b1325a,#a92e5e,#a22b62,#9b2964,#932667,#8c2369,#84206b,#7a1d6d,#71196e,#67166e,#5c126e,#510e6c,#420a68,#310a5c,#1c0c43,#0b0724,#010108,#000004)"></i><i class="n" style="background:linear-gradient(#010106,#030210,#110a30,#240c4f,#360961,#470b6a,#540f6d,#5f136e,#6a176e,#741a6e,#7c1d6d,#85216b,#8d2369,#952667,#9d2964,#a52c60,#ab2f5e,#b3325a,#b93556,#c03a51,#c63d4d,#cb4149,#d04545,#d54a41,#da4e3c,#de5238,#e25734,#e55c30,#e9612b,#eb6628,#ee6a24,#f06f20,#f2741c,#f37819,#f57d15,#f68013,#f78410,#f8870e,#f8890c,#f98b0b,#f98e09,#f98e09,#fa9008,#fa9008,#fa9008,#f98e09,#f98c0a,#f8890c,#f8850f,#f68013,#f57b17,#f1731d,#ef6c23,#ea632a,#e45a31,#db503b,#d24644,#c73e4c,#ba3655,#ad305d,#9f2a63,#922568,#88226a,#82206c,#801f6c,#84206b,#8c2369,#952667,#a22b62,#b0315b,#bd3853,#ca404a,#d44842,#dd513a,#e45a31,#ea632a,#ee6a24,#f1711f,#f37819,#f57d15,#f68013,#f78410,#f8850f,#f8870e,#f8870e,#f8870e,#f8850f,#f78410,#f78212,#f68013,#f57d15,#f47918,#f3761b,#f1731d,#ef6e21,#ee6a24,#eb6628,#e9612b,#e55c30,#e25734,#de5238,#da4e3c,#d54a41,#d04545,#cb4149,#c63d4d,#c03a51,#b93556,#b3325a,#ab2f5e,#a52c60,#9d2964,#952667,#8d2369,#85216b,#7c1d6d,#741a6e,#69166e,#5f136e,#520e6d,#440a68,#320a5e,#1e0c45,#0b0724,#010108,#000004)"></i><i class="n" style="background:linear-gradient(#010108,#030210,#120a32,#240c4f,#380962,#490b6a,#550f6d,#61136e,#6c186e,#751b6e,#7f1e6c,#87216b,#8f2469,#972766,#9f2a63,#a62d60,#ae305c,#b43359,#bc3754,#c13a50,#c73e4c,#cc4248,#d24644,#d74b3f,#db503b,#e05536,#e45a31,#e75e2e,#eb6429,#ed6925,#ef6e21,#f1731d,#f37819,#f57b17,#f68013,#f78410,#f8870e,#f98b0b,#f98e09,#fa9008,#fa9207,#fa9407,#fa9407,#fa9407,#fa9407,#fa9407,#fa9008,#f98e09,#f98b0b,#f8850f,#f67e14,#f37819,#f06f20,#eb6628,#e55c30,#dd513a,#d24644,#c43c4e,#b63458,#a52c60,#952667,#85216b,#7a1d6d,#721a6e,#71196e,#741a6e,#7d1e6d,#8c2369,#9a2865,#ab2f5e,#ba3655,#c83f4b,#d44842,#df5337,#e65d2f,#eb6628,#f06f20,#f3761b,#f57d15,#f78212,#f8850f,#f8890c,#f98b0b,#f98c0a,#f98c0a,#f98c0a,#f98b0b,#f8890c,#f8870e,#f78410,#f78212,#f67e14,#f47918,#f3761b,#f1711f,#ef6e21,#ed6925,#ea632a,#e75e2e,#e45a31,#e05536,#dd513a,#d84c3e,#d34743,#ce4347,#c83f4b,#c13a50,#bc3754,#b43359,#ae305c,#a62d60,#9f2a63,#982766,#8f2469,#87216b,#7f1e6c,#751b6e,#6c186e,#61136e,#540f6d,#450a69,#340a5f,#1f0c48,#0c0826,#010108,#000004)"></i><i class="n" style="background:linear-gradient(#010108,#040312,#120a32,#260c51,#390963,#4a0c6b,#57106e,#62146e,#6d186e,#771c6d,#801f6c,#88226a,#902568,#982766,#a02a63,#a82e5f,#b0315b,#b63458,#bd3853,#c33b4f,#ca404a,#cf4446,#d44842,#d94d3d,#de5238,#e25734,#e55c30,#e9612b,#eb6628,#ef6c23,#f1711f,#f3761b,#f57b17,#f67e14,#f78410,#f8870e,#f98b0b,#f98e09,#fa9207,#fa9407,#fb9706,#fb9906,#fb9906,#fb9906,#fb9906,#fb9906,#fb9606,#fa9407,#fa9008,#f98b0b,#f78410,#f57d15,#f1731d,#ed6925,#e75e2e,#de5238,#d24644,#c43c4e,#b3325a,#a02a63,#8c2369,#781c6d,#6a176e,#5f136e,#5d126e,#62146e,#6f196e,#7f1e6c,#922568,#a62d60,#b93556,#c83f4b,#d54a41,#e05536,#e8602d,#ee6a24,#f1731d,#f57b17,#f78212,#f8870e,#f98b0b,#f98e09,#fa9008,#fa9207,#fa9207,#fa9207,#fa9008,#f98e09,#f98c0a,#f8890c,#f8850f,#f78212,#f67e14,#f47918,#f3761b,#f1711f,#ef6c23,#ec6726,#e9612b,#e65d2f,#e25734,#de5238,#d94d3d,#d44842,#cf4446,#ca404a,#c43c4e,#bd3853,#b73557,#b0315b,#a92e5e,#a22b62,#9a2865,#922568,#8a226a,#801f6c,#771c6d,#6d186e,#62146e,#550f6d,#470b6a,#360961,#210c4a,#0d0829,#010108,#000004)"></i><i class="n" style="background:linear-gradient(#010108,#040312,#140b34,#280b53,#3b0964,#4c0c6b,#59106e,#65156e,#6f196e,#781c6d,#82206c,#8c2369,#932667,#9b2964,#a32c61,#ab2f5e,#b1325a,#b93556,#bf3952,#c63d4d,#cb4149,#d04545,#d74b3f,#db503b,#e05536,#e35933,#e75e2e,#eb6429,#ed6925,#f06f20,#f2741c,#f47918,#f67e14,#f78410,#f8870e,#f98c0a,#fa9008,#fa9407,#fb9706,#fb9906,#fb9b06,#fb9d07,#fc9f07,#fc9f07,#fc9f07,#fc9f07,#fb9d07,#fb9906,#fb9606,#fa9008,#f98b0b,#f78212,#f47918,#ef6e21,#e9612b,#e05536,#d44842,#c43c4e,#b1325a,#9a2865,#82206c,#6c186e,#59106e,#4a0c6b,#470b6a,#4f0d6c,#5f136e,#741a6e,#8c2369,#a32c61,#b73557,#ca404a,#d84c3e,#e35933,#eb6429,#f06f20,#f47918,#f78212,#f8890c,#f98e09,#fa9207,#fa9407,#fb9606,#fb9706,#fb9706,#fb9706,#fb9606,#fa9407,#fa9008,#f98e09,#f98b0b,#f8870e,#f78212,#f67e14,#f47918,#f2741c,#f06f20,#ee6a24,#eb6429,#e8602d,#e45a31,#e05536,#db503b,#d74b3f,#d24644,#cc4248,#c63d4d,#c03a51,#b93556,#b3325a,#ab2f5e,#a32c61,#9b2964,#932667,#8c2369,#84206b,#7a1d6d,#6f196e,#64156e,#59106e,#4a0c6b,#380962,#230c4c,#0d0829,#02010a,#000004)"></i><i class="n" style="background:linear-gradient(#010108,#040312,#150b37,#290b55,#3d0965,#4d0d6c,#5a116e,#67166e,#71196e,#7c1d6d,#84206b,#8d2369,#952667,#9d2964,#a52c60,#ad305d,#b43359,#ba3655,#c13a50,#c73e4c,#ce4347,#d34743,#d84c3e,#dd513a,#e15635,#e55c30,#e9612b,#ec6726,#ef6c23,#f1731d,#f37819,#f57d15,#f78212,#f8870e,#f98c0a,#fa9008,#fa9407,#fb9706,#fb9b06,#fc9f07,#fca108,#fca50a,#fca50a,#fca60c,#fca60c,#fca50a,#fca50a,#fca108,#fb9d07,#fb9706,#fa9207,#f8890c,#f68013,#f2741c,#ec6726,#e45a31,#d84c3e,#c63d4d,#b1325a,#972766,#7c1d6d,#5f136e,#450a69,#310a5c,#2b0b57,#380962,#4f0d6c,#6a176e,#87216b,#a22b62,#b93556,#cc4248,#db503b,#e75e2e,#ee6a24,#f3761b,#f68013,#f8890c,#fa9008,#fb9606,#fb9906,#fb9b06,#fb9d07,#fc9f07,#fb9d07,#fb9d07,#fb9b06,#fb9906,#fb9606,#fa9407,#fa9008,#f98b0b,#f8870e,#f78212,#f57d15,#f37819,#f1731d,#ef6e21,#ec6726,#ea632a,#e65d2f,#e25734,#de5238,#d94d3d,#d44842,#cf4446,#c83f4b,#c33b4f,#bc3754,#b43359,#ae305c,#a62d60,#9f2a63,#972766,#8d2369,#85216b,#7c1d6d,#721a6e,#67166e,#5a116e,#4c0c6b,#390963,#240c4f,#0e092b,#02010a,#000004)"></i><i class="n" style="background:linear-gradient(#010108,#040314,#150b37,#2b0b57,#3e0966,#4f0d6c,#5d126e,#69166e,#741a6e,#7d1e6d,#87216b,#8f2469,#972766,#9f2a63,#a62d60,#ae305c,#b63458,#bd3853,#c33b4f,#ca404a,#cf4446,#d54a41,#da4e3c,#df5337,#e35933,#e75e2e,#eb6429,#ee6a24,#f06f20,#f3761b,#f57b17,#f68013,#f8850f,#f98b0b,#fa9008,#fb9606,#fb9906,#fb9d07,#fca108,#fca50a,#fca60c,#fcaa0f,#fcac11,#fcac11,#fcac11,#fcac11,#fcaa0f,#fca80d,#fca50a,#fca108,#fb9906,#fa9207,#f8890c,#f57d15,#f06f20,#e8602d,#db503b,#ca404a,#b1325a,#932667,#721a6e,#4f0d6c,#2d0b59,#160b39,#120a32,#1f0c48,#3b0964,#5c126e,#7f1e6c,#a02a63,#bc3754,#d24644,#e15635,#eb6628,#f1731d,#f68013,#f8890c,#fa9207,#fb9706,#fb9d07,#fca108,#fca50a,#fca50a,#fca50a,#fca50a,#fca50a,#fca108,#fc9f07,#fb9b06,#fb9906,#fa9407,#fa9008,#f98b0b,#f8870e,#f78212,#f57d15,#f3761b,#f1711f,#ee6a24,#eb6628,#e8602d,#e45a31,#e05536,#db503b,#d74b3f,#d04545,#cb4149,#c43c4e,#bf3952,#b73557,#b0315b,#a82e5f,#a02a63,#982766,#902568,#87216b,#7d1e6d,#741a6e,#69166e,#5c126e,#4d0d6c,#3b0964,#260c51,#10092d,#02010a,#000004)"></i><i class="n" style="background:linear-gradient(#010108,#040314,#160b39,#2d0b59,#400a67,#510e6c,#5f136e,#6a176e,#751b6e,#7f1e6c,#88226a,#902568,#9a2865,#a22b62,#a92e5e,#b1325a,#b73557,#bf3952,#c63d4d,#cb4149,#d24644,#d74b3f,#db503b,#e15635,#e55c30,#e9612b,#ec6726,#ef6c23,#f1731d,#f47918,#f67e14,#f78410,#f98b0b,#fa9008,#fa9407,#fb9906,#fc9f07,#fca309,#fca60c,#fcaa0f,#fcae12,#fcb014,#fcb216,#fcb418,#fcb418,#fcb418,#fcb418,#fcb216,#fcae12,#fcaa0f,#fca50a,#fb9d07,#fa9407,#f8870e,#f47918,#ed6925,#e15635,#cb4149,#ab2f5e,#82206c,#57106e,#2d0b59,#120a32,#060419,#030210,#0a0722,#1b0c41,#3d0965,#67166e,#902568,#b73557,#d44842,#e65d2f,#f06f20,#f67e14,#f98b0b,#fa9407,#fb9b06,#fca309,#fca60c,#fcaa0f,#fcac11,#fcae12,#fcae12,#fcac11,#fcaa0f,#fca80d,#fca60c,#fca309,#fc9f07,#fb9906,#fb9606,#fa9008,#f98b0b,#f8850f,#f68013,#f57b17,#f2741c,#f06f20,#ed6925,#ea632a,#e65d2f,#e25734,#de5238,#d84c3e,#d34743,#cc4248,#c73e4c,#c03a51,#b93556,#b3325a,#ab2f5e,#a32c61,#9b2964,#922568,#8a226a,#801f6c,#751b6e,#6a176e,#5d126e,#4f0d6c,#3d0965,#260c51,#10092d,#02010a,#000004)"></i><i class="n" style="background:linear-gradient(#010108,#050417,#180c3c,#2f0a5b,#420a68,#520e6d,#61136e,#6c186e,#771c6d,#801f6c,#8a226a,#932667,#9b2964,#a32c61,#ab2f5e,#b3325a,#ba3655,#c03a51,#c73e4c,#ce4347,#d34743,#d94d3d,#de5238,#e25734,#e75e2e,#eb6429,#ee6a24,#f06f20,#f3761b,#f57d15,#f78212,#f8890c,#f98e09,#fa9407,#fb9906,#fc9f07,#fca309,#fca80d,#fcac11,#fcb014,#fcb418,#fbb61a,#fbba1f,#fbbc21,#fbbc21,#fbbc21,#fbbc21,#fbbc21,#fbb81d,#fcb418,#fcb014,#fca80d,#fc9f07,#fa9407,#f8850f,#f1711f,#df5337,#bc3754,#7f1e6c,#3b0964,#0d0829,#040312,#02010a,#010106,#010005,#010108,#02020c,#050417,#190c3e,#510e6c,#952667,#ca404a,#e75e2e,#f37819,#f98b0b,#fb9706,#fca108,#fca80d,#fcae12,#fcb216,#fcb418,#fbb61a,#fbb61a,#fbb61a,#fcb418,#fcb216,#fcb014,#fcac11,#fca80d,#fca50a,#fc9f07,#fb9b06,#fb9606,#fa9008,#f98b0b,#f78410,#f67e14,#f37819,#f1731d,#ef6c23,#eb6628,#e8602d,#e45a31,#e05536,#da4e3c,#d54a41,#cf4446,#ca404a,#c33b4f,#bc3754,#b43359,#ad305d,#a52c60,#9d2964,#952667,#8c2369,#82206c,#781c6d,#6d186e,#61136e,#510e6c,#3e0966,#280b53,#110a30,#02020c,#000004)"></i><i class="n" style="background:linear-gradient(#010108,#050417,#180c3c,#2f0a5b,#440a68,#540f6d,#62146e,#6f196e,#781c6d,#84206b,#8c2369,#952667,#9d2964,#a52c60,#ad305d,#b43359,#bc3754,#c33b4f,#ca404a,#cf4446,#d54a41,#da4e3c,#e05536,#e45a31,#e8602d,#eb6628,#ef6c23,#f1731d,#f47918,#f68013,#f8850f,#f98c0a,#fa9207,#fb9706,#fc9f07,#fca309,#fca80d,#fcae12,#fcb216,#fbb61a,#fbba1f,#fbbe23,#fac026,#fac42a,#fac42a,#fac62d,#fac62d,#fac62d,#fac42a,#fac026,#fbbc21,#fbb61a,#fcae12,#fca108,#f98e09,#ee6a24,#c63d4d,#6d186e,#150b37,#02020e,#000004,#000004,#000004,#000004,#000004,#000004,#000004,#000004,#010005,#050417,#2d0b59,#8d2369,#d84c3e,#f37819,#fb9606,#fca50a,#fcae12,#fbb61a,#fbba1f,#fbbe23,#fac026,#fac026,#fac026,#fbbe23,#fbbc21,#fbba1f,#fbb61a,#fcb418,#fcae12,#fcaa0f,#fca60c,#fca108,#fb9b06,#fb9606,#f98e09,#f8890c,#f78212,#f57d15,#f3761b,#f06f20,#ed6925,#ea632a,#e65d2f,#e15635,#dd513a,#d74b3f,#d24644,#cb4149,#c43c4e,#bf3952,#b73557,#b0315b,#a82e5f,#a02a63,#972766,#8f2469,#85216b,#7a1d6d,#6f196e,#62146e,#540f6d,#420a68,#290b55,#120a32,#02020c,#000004)"></i><i class="n" style="background:linear-gradient(#010108,#060419,#190c3e,#310a5c,#450a69,#550f6d,#64156e,#71196e,#7c1d6d,#85216b,#8f2469,#972766,#a02a63,#a82e5f,#b0315b,#b73557,#bf3952,#c43c4e,#cb4149,#d24644,#d74b3f,#dd513a,#e15635,#e65d2f,#ea632a,#ed6925,#f06f20,#f3761b,#f57d15,#f78410,#f98b0b,#fa9008,#fb9706,#fb9d07,#fca309,#fca80d,#fcae12,#fcb418,#fbb81d,#fbbe23,#fac228,#fac62d,#f9c72f,#f9cb35,#f8cd37,#f8cf3a,#f8cf3a,#f8cf3a,#f8cf3a,#f8cd37,#f9c932,#fac42a,#fbba1f,#fca80d,#f78410,#d34743,#61136e,#08051d,#010005,#000004,#000004,#000004,#000004,#000004,#000004,#000004,#000004,#000004,#000004,#000004,#010108,#150b37,#8a226a,#e55c30,#fa9008,#fcae12,#fbbc21,#fac42a,#f9c72f,#f9c932,#f9cb35,#f9cb35,#f9c932,#f9c72f,#fac62d,#fac228,#fbbe23,#fbba1f,#fbb61a,#fcb014,#fcac11,#fca60c,#fca108,#fb9906,#fa9407,#f98e09,#f8870e,#f68013,#f47918,#f1731d,#ef6c23,#eb6628,#e8602d,#e35933,#df5337,#d94d3d,#d44842,#ce4347,#c73e4c,#c03a51,#b93556,#b1325a,#a92e5e,#a22b62,#9a2865,#902568,#87216b,#7d1e6d,#71196e,#64156e,#550f6d,#440a68,#2b0b57,#120a32,#02020c,#000004)"></i><i class="n" style="background:linear-gradient(#010108,#060419,#1b0c41,#320a5e,#470b6a,#57106e,#65156e,#721a6e,#7d1e6d,#87216b,#902568,#9a2865,#a22b62,#a92e5e,#b1325a,#b93556,#c03a51,#c73e4c,#ce4347,#d34743,#d94d3d,#df5337,#e35933,#e8602d,#eb6628,#ef6c23,#f1731d,#f47918,#f68013,#f8870e,#f98e09,#fb9606,#fb9b06,#fca309,#fca80d,#fcae12,#fcb418,#fbba1f,#fbbe23,#fac42a,#f9c72f,#f9cb35,#f8cf3a,#f7d340,#f6d746,#f5d949,#f5db4c,#f5db4c,#f5db4c,#f5db4c,#f6d746,#f8cf3a,#fac026,#fb9b06,#e05536,#67166e,#040312,#000004,#000004,#000004,#000004,#000004,#000004,#000004,#000004,#000004,#000004,#000004,#000004,#000004,#000004,#010005,#0b0724,#952667,#ef6e21,#fca80d,#fac62d,#f7d13d,#f6d543,#f6d746,#f6d746,#f6d543,#f7d340,#f7d13d,#f8cd37,#f9c932,#fac62d,#fac228,#fbbc21,#fbb81d,#fcb216,#fcac11,#fca60c,#fc9f07,#fb9906,#fa9207,#f98b0b,#f8850f,#f67e14,#f37819,#f06f20,#ed6925,#ea632a,#e55c30,#e15635,#db503b,#d54a41,#d04545,#ca404a,#c33b4f,#bc3754,#b43359,#ad305d,#a32c61,#9b2964,#922568,#88226a,#7f1e6c,#741a6e,#67166e,#57106e,#450a69,#2d0b59,#140b34,#02020e,#000004)"></i><i class="n" style="background:linear-gradient(#010108,#07051b,#1c0c43,#340a5f,#490b6a,#5a116e,#67166e,#741a6e,#7f1e6c,#88226a,#922568,#9b2964,#a32c61,#ab2f5e,#b3325a,#ba3655,#c13a50,#c83f4b,#cf4446,#d54a41,#db503b,#e05536,#e55c30,#e9612b,#ed6925,#f06f20,#f3761b,#f57d15,#f8850f,#f98b0b,#fa9207,#fb9906,#fca108,#fca60c,#fcae12,#fcb418,#fbba1f,#fac026,#fac62d,#f9c932,#f8cf3a,#f7d340,#f6d746,#f5db4c,#f4df53,#f3e35a,#f3e55d,#f2e661,#f2e865,#f2e865,#f3e55d,#f6d746,#fbb61a,#ef6e21,#87216b,#050417,#000004,#000004,#000004,#000004,#000004,#000004,#000004,#000004,#000004,#000004,#000004,#000004,#000004,#000004,#000004,#000004,#000004,#1c0c43,#b3325a,#f8850f,#fac228,#f5db4c,#f3e35a,#f3e55d,#f3e55d,#f3e35a,#f4df53,#f5db4c,#f6d746,#f7d340,#f8cd37,#f9c932,#fac42a,#fbbe23,#fbb81d,#fcb216,#fcac11,#fca50a,#fc9f07,#fb9706,#fa9008,#f8890c,#f78212,#f57b17,#f2741c,#ef6c23,#eb6628,#e75e2e,#e35933,#de5238,#d84c3e,#d24644,#cb4149,#c43c4e,#bd3853,#b63458,#ae305c,#a62d60,#9f2a63,#952667,#8c2369,#801f6c,#751b6e,#69166e,#59106e,#470b6a,#2f0a5b,#150b37,#02020e,#000004)"></i><i class="n" style="background:linear-gradient(#010108,#07051b,#1c0c43,#360961,#4a0c6b,#5c126e,#6a176e,#751b6e,#801f6c,#8c2369,#952667,#9d2964,#a62d60,#ae305c,#b63458,#bd3853,#c43c4e,#cb4149,#d24644,#d84c3e,#dd513a,#e25734,#e75e2e,#eb6429,#ef6c23,#f1731d,#f47918,#f78212,#f8890c,#fa9008,#fb9706,#fb9d07,#fca50a,#fcac11,#fcb216,#fbba1f,#fac026,#fac62d,#f9cb35,#f7d13d,#f6d543,#f5db4c,#f4e156,#f3e55d,#f2e865,#f1ec6d,#f1ef75,#f2f27d,#f2f482,#f2f482,#f1ec6d,#f7d340,#fa9008,#b43359,#190c3e,#000004,#000004,#000004,#000004,#000004,#000004,#000004,#000004,#000004,#000004,#000004,#000004,#000004,#000004,#000004,#000004,#000004,#000004,#010106,#450a69,#d74b3f,#fca80d,#f5db4c,#f1ed71,#f1f179,#f1f179,#f1ed71,#f2ea69,#f3e55d,#f4e156,#f5db4c,#f6d746,#f7d13d,#f9cb35,#fac62d,#fbbe23,#fbb81d,#fcb216,#fcaa0f,#fca309,#fb9b06,#fb9606,#f98c0a,#f8850f,#f67e14,#f37819,#f06f20,#ed6925,#e9612b,#e55c30,#e05536,#da4e3c,#d44842,#ce4347,#c73e4c,#c03a51,#b93556,#b1325a,#a82e5f,#a02a63,#972766,#8d2369,#84206b,#771c6d,#6a176e,#5a116e,#490b6a,#310a5c,#160b39,#02020e,#000004)"></i><i class="n" style="background:linear-gradient(#010108,#08051d,#1e0c45,#380962,#4c0c6b,#5d126e,#6c186e,#781c6d,#84206b,#8d2369,#972766,#9f2a63,#a82e5f,#b0315b,#b73557,#bf3952,#c63d4d,#cc4248,#d34743,#d94d3d,#df5337,#e45a31,#e8602d,#ec6726,#f06f20,#f3761b,#f57d15,#f8850f,#f98c0a,#fa9407,#fb9b06,#fca309,#fcaa0f,#fcb014,#fbb81d,#fbbe23,#fac62d,#f9cb35,#f7d13d,#f6d746,#f4dd4f,#f3e35a,#f2e865,#f1ed71,#f1f179,#f3f586,#f4f88e,#f6fa96,#f9fc9d,#f6fa96,#f1ef75,#fbbc21,#df5337,#490b6a,#010106,#000004,#000004,#000004,#000004,#000004,#000004,#000004,#000004,#000004,#000004,#000004,#000004,#000004,#000004,#000004,#000004,#000004,#000004,#000004,#040314,#7d1e6d,#f2741c,#f8cd37,#f2f27d,#f5f992,#f5f992,#f3f68a,#f2f482,#f1ef75,#f2ea69,#f3e55d,#f4df53,#f5d949,#f7d13d,#f9cb35,#fac62d,#fbbe23,#fbb81d,#fcb014,#fca80d,#fca108,#fb9906,#fa9207,#f98b0b,#f78212,#f57b17,#f1731d,#ef6c23,#eb6429,#e65d2f,#e25734,#dd513a,#d74b3f,#d04545,#ca404a,#c33b4f,#ba3655,#b3325a,#ab2f5e,#a22b62,#9a2865,#902568,#85216b,#7a1d6d,#6c186e,#5d126e,#4a0c6b,#320a5e,#160b39,#030210,#000004)"></i><i class="n" style="background:linear-gradient(#010108,#08051d,#1f0c48,#390963,#4d0d6c,#5f136e,#6d186e,#7a1d6d,#85216b,#8f2469,#982766,#a22b62,#a92e5e,#b1325a,#ba3655,#c13a50,#c83f4b,#cf4446,#d54a41,#db503b,#e15635,#e55c30,#ea632a,#ee6a24,#f1711f,#f47918,#f68013,#f8890c,#fa9008,#fb9706,#fc9f07,#fca60c,#fcae12,#fbb61a,#fbbe23,#fac42a,#f9cb35,#f7d13d,#f6d746,#f4df53,#f3e55d,#f2ea69,#f1ef75,#f2f482,#f4f88e,#f8fb9a,#fcffa4,#fcffa4,#fcffa4,#fafda1,#f3e55d,#f98c0a,#8c2369,#060419,#000004,#000004,#000004,#000004,#000004,#000004,#000004,#000004,#000004,#000004,#000004,#000004,#000004,#000004,#000004,#000004,#000004,#000004,#000004,#000004,#000004,#150b37,#bd3853,#fcac11,#f1ef75,#fcffa4,#fcffa4,#fcffa4,#f8fb9a,#f3f68a,#f2f27d,#f1ed71,#f2e661,#f4e156,#f5d949,#f7d340,#f9cb35,#fac42a,#fbbe23,#fbb61a,#fcae12,#fca60c,#fc9f07,#fb9606,#f98e09,#f8870e,#f67e14,#f37819,#f06f20,#ec6726,#e8602d,#e45a31,#df5337,#d94d3d,#d34743,#cb4149,#c43c4e,#bd3853,#b63458,#ad305d,#a52c60,#9b2964,#922568,#88226a,#7c1d6d,#6f196e,#5f136e,#4c0c6b,#340a5f,#180c3c,#030210,#000004)"></i><i class="n" style="background:linear-gradient(#010108,#09061f,#1f0c48,#3b0964,#4f0d6c,#61136e,#6f196e,#7c1d6d,#87216b,#922568,#9a2865,#a32c61,#ad305d,#b43359,#bc3754,#c33b4f,#ca404a,#d04545,#d74b3f,#dd513a,#e25734,#e75e2e,#eb6628,#ef6e21,#f2741c,#f57d15,#f78410,#f98c0a,#fa9407,#fb9d07,#fca50a,#fcac11,#fcb418,#fbbc21,#fac228,#f9c932,#f7d13d,#f6d746,#f4df53,#f3e55d,#f1ec6d,#f1f179,#f3f586,#f6fa96,#fafda1,#fcffa4,#fcffa4,#fcffa4,#fcffa4,#f9fc9d,#f9c932,#d34743,#1c0c43,#000004,#000004,#000004,#000004,#000004,#000004,#000004,#000004,#000004,#000004,#000004,#000004,#000004,#000004,#000004,#000004,#000004,#000004,#000004,#000004,#000004,#000004,#000004,#57106e,#f1731d,#f4dd4f,#fcffa4,#fcffa4,#fcffa4,#fcffa4,#fafda1,#f5f992,#f2f482,#f1ed71,#f2e865,#f4e156,#f5d949,#f7d13d,#f9c932,#fac42a,#fbbc21,#fcb418,#fcac11,#fca309,#fb9b06,#fa9207,#f98b0b,#f78212,#f57b17,#f1731d,#ee6a24,#ea632a,#e55c30,#e05536,#da4e3c,#d44842,#ce4347,#c73e4c,#c03a51,#b73557,#b0315b,#a62d60,#9f2a63,#952667,#8a226a,#7d1e6d,#71196e,#61136e,#4d0d6c,#360961,#190c3e,#040312,#000004)"></i><i class="n" style="background:linear-gradient(#010108,#09061f,#210c4a,#3b0964,#510e6c,#62146e,#71196e,#7d1e6d,#88226a,#932667,#9d2964,#a52c60,#ae305c,#b63458,#bd3853,#c63d4d,#cc4248,#d34743,#d94d3d,#df5337,#e45a31,#e9612b,#ed6925,#f06f20,#f37819,#f68013,#f8870e,#fa9008,#fb9706,#fca108,#fca80d,#fcb014,#fbb81d,#fac026,#f9c72f,#f8cf3a,#f6d543,#f4dd4f,#f3e55d,#f1ec6d,#f1f179,#f3f68a,#f8fb9a,#fcffa4,#fcffa4,#fcffa4,#fcffa4,#fcffa4,#fcffa4,#f2f27d,#fa9207,#721a6e,#010005,#000004,#000004,#000004,#000004,#000004,#000004,#000004,#000004,#000004,#000004,#000004,#000004,#000004,#000004,#000004,#000004,#000004,#000004,#000004,#000004,#000004,#000004,#000004,#07051b,#b0315b,#fcb418,#f6fa96,#fcffa4,#fcffa4,#fcffa4,#fcffa4,#fcffa4,#f6fa96,#f3f586,#f1ef75,#f2e865,#f4e156,#f5d949,#f7d13d,#f9c932,#fac228,#fbb81d,#fcb014,#fca80d,#fc9f07,#fb9706,#f98e09,#f8870e,#f67e14,#f3761b,#ef6e21,#eb6628,#e75e2e,#e25734,#dd513a,#d74b3f,#d04545,#c83f4b,#c13a50,#ba3655,#b1325a,#a92e5e,#a02a63,#972766,#8c2369,#801f6c,#721a6e,#62146e,#4f0d6c,#380962,#1b0c41,#040312,#000004)"></i><i class="n" style="background:linear-gradient(#010108,#0a0722,#230c4c,#3d0965,#520e6d,#64156e,#721a6e,#7f1e6c,#8c2369,#952667,#9f2a63,#a82e5f,#b0315b,#b73557,#c03a51,#c73e4c,#ce4347,#d44842,#db503b,#e15635,#e65d2f,#eb6429,#ee6a24,#f1731d,#f57b17,#f78410,#f98b0b,#fa9407,#fb9d07,#fca50a,#fcac11,#fbb61a,#fbbe23,#fac62d,#f8cd37,#f7d340,#f5db4c,#f3e35a,#f2ea69,#f1f179,#f3f68a,#f8fb9a,#fcffa4,#fcffa4,#fcffa4,#fcffa4,#fcffa4,#fcffa4,#fcffa4,#f8cf3a,#d54a41,#180c3c,#000004,#000004,#000004,#000004,#000004,#000004,#000004,#000004,#000004,#000004,#000004,#000004,#000004,#000004,#000004,#000004,#000004,#000004,#000004,#000004,#000004,#000004,#000004,#000004,#000004,#4d0d6c,#f2741c,#f2e661,#fcffa4,#fcffa4,#fcffa4,#fcffa4,#fcffa4,#fcffa4,#f6fa96,#f2f482,#f1ed71,#f2e661,#f4df53,#f6d746,#f8cd37,#fac62d,#fbbe23,#fbb61a,#fcae12,#fca50a,#fb9b06,#fa9407,#f98b0b,#f78212,#f47918,#f1711f,#ed6925,#e9612b,#e45a31,#df5337,#d94d3d,#d24644,#cb4149,#c43c4e,#bc3754,#b43359,#ab2f5e,#a22b62,#982766,#8f2469,#82206c,#751b6e,#65156e,#510e6c,#390963,#1b0c41,#040314,#000004)"></i><i class="n" style="background:linear-gradient(#010108,#0a0722,#240c4f,#3e0966,#540f6d,#65156e,#751b6e,#82206c,#8d2369,#972766,#a02a63,#a92e5e,#b1325a,#ba3655,#c13a50,#c83f4b,#d04545,#d74b3f,#dd513a,#e25734,#e75e2e,#eb6628,#ef6e21,#f3761b,#f67e14,#f8870e,#f98e09,#fb9706,#fca108,#fca80d,#fcb216,#fbba1f,#fac228,#f9c932,#f7d13d,#f5d949,#f4e156,#f2e865,#f1ef75,#f3f586,#f6fa96,#fcffa4,#fcffa4,#fcffa4,#fcffa4,#fcffa4,#fcffa4,#fcffa4,#f6fa96,#fb9b06,#84206b,#02010a,#000004,#000004,#000004,#000004,#000004,#000004,#000004,#000004,#000004,#000004,#000004,#000004,#000004,#000004,#000004,#000004,#000004,#000004,#000004,#000004,#000004,#000004,#000004,#000004,#000004,#0d0829,#bc3754,#fbbe23,#fcffa4,#fcffa4,#fcffa4,#fcffa4,#fcffa4,#fcffa4,#fcffa4,#f5f992,#f2f482,#f1ec6d,#f3e55d,#f4dd4f,#f7d340,#f9cb35,#fac42a,#fbba1f,#fcb216,#fca80d,#fca108,#fb9706,#f98e09,#f8850f,#f57d15,#f2741c,#ef6c23,#eb6429,#e65d2f,#e15635,#da4e3c,#d44842,#ce4347,#c63d4d,#bf3952,#b63458,#ae305c,#a52c60,#9b2964,#902568,#84206b,#771c6d,#67166e,#540f6d,#3b0964,#1c0c43,#040314,#000004)"></i><i class="n" style="background:linear-gradient(#010108,#0b0724,#240c4f,#400a67,#550f6d,#67166e,#771c6d,#84206b,#8f2469,#9a2865,#a32c61,#ab2f5e,#b43359,#bc3754,#c43c4e,#cb4149,#d24644,#d84c3e,#df5337,#e45a31,#e9612b,#ed6925,#f1711f,#f47918,#f78212,#f98b0b,#fa9207,#fb9b06,#fca50a,#fcae12,#fbb61a,#fbbe23,#fac62d,#f8cf3a,#f6d746,#f4df53,#f2e661,#f1ed71,#f2f482,#f5f992,#fcffa4,#fcffa4,#fcffa4,#fcffa4,#fcffa4,#fcffa4,#fcffa4,#fcffa4,#f4df53,#e65d2f,#3d0965,#000004,#000004,#000004,#000004,#000004,#000004,#000004,#000004,#000004,#000004,#000004,#000004,#000004,#000004,#000004,#000004,#000004,#000004,#000004,#000004,#000004,#000004,#000004,#000004,#000004,#000004,#02020c,#721a6e,#f8870e,#f2f27d,#fcffa4,#fcffa4,#fcffa4,#fcffa4,#fcffa4,#fcffa4,#fafda1,#f4f88e,#f2f27d,#f2ea69,#f3e35a,#f5d949,#f7d13d,#f9c72f,#fac026,#fbb61a,#fcae12,#fca50a,#fb9b06,#fa9207,#f8890c,#f68013,#f37819,#f06f20,#ec6726,#e8602d,#e25734,#dd513a,#d74b3f,#cf4446,#c83f4b,#c03a51,#b93556,#b0315b,#a62d60,#9d2964,#922568,#87216b,#781c6d,#69166e,#550f6d,#3d0965,#1e0c45,#040314,#000004)"></i><i class="n" style="background:linear-gradient(#010108,#0b0724,#260c51,#420a68,#57106e,#69166e,#781c6d,#85216b,#902568,#9b2964,#a52c60,#ae305c,#b63458,#bd3853,#c63d4d,#cc4248,#d44842,#da4e3c,#e05536,#e55c30,#eb6429,#ef6c23,#f2741c,#f57d15,#f8850f,#f98e09,#fb9606,#fc9f07,#fca80d,#fcb216,#fbba1f,#fac228,#f9cb35,#f7d340,#f5db4c,#f3e35a,#f1ec6d,#f2f27d,#f4f88e,#fafda1,#fcffa4,#fcffa4,#fcffa4,#fcffa4,#fcffa4,#fcffa4,#fcffa4,#fcffa4,#fbb61a,#b1325a,#0e092b,#000004,#000004,#000004,#000004,#000004,#000004,#000004,#000004,#000004,#000004,#000004,#000004,#000004,#000004,#000004,#000004,#000004,#000004,#000004,#000004,#000004,#000004,#000004,#000004,#000004,#000004,#010005,#360961,#de5238,#f7d340,#fcffa4,#fcffa4,#fcffa4,#fcffa4,#fcffa4,#fcffa4,#fcffa4,#f8fb9a,#f3f68a,#f1ef75,#f2e661,#f4df53,#f6d543,#f8cd37,#fac42a,#fbbc21,#fcb216,#fca80d,#fc9f07,#fb9606,#f98c0a,#f78410,#f57b17,#f1731d,#ee6a24,#e9612b,#e45a31,#df5337,#d84c3e,#d24644,#ca404a,#c33b4f,#ba3655,#b1325a,#a92e5e,#9f2a63,#952667,#88226a,#7a1d6d,#6a176e,#57106e,#3e0966,#1f0c48,#050417,#000004)"></i><i class="n" style="background:linear-gradient(#010108,#0c0826,#280b53,#440a68,#59106e,#6a176e,#7a1d6d,#87216b,#922568,#9d2964,#a62d60,#b0315b,#b73557,#c03a51,#c73e4c,#cf4446,#d54a41,#db503b,#e25734,#e75e2e,#eb6628,#ef6e21,#f3761b,#f68013,#f8890c,#fa9207,#fb9906,#fca309,#fcac11,#fbb61a,#fbbe23,#f9c72f,#f8cf3a,#f6d746,#f4e156,#f2e865,#f1ef75,#f3f68a,#f8fb9a,#fcffa4,#fcffa4,#fcffa4,#fcffa4,#fcffa4,#fcffa4,#fcffa4,#fcffa4,#f2f27d,#f8850f,#751b6e,#02020e,#000004,#000004,#000004,#000004,#000004,#000004,#000004,#000004,#000004,#000004,#000004,#000004,#000004,#000004,#000004,#000004,#000004,#000004,#000004,#000004,#000004,#000004,#000004,#000004,#000004,#000004,#000004,#0b0724,#ad305d,#fcaa0f,#f9fc9d,#fcffa4,#fcffa4,#fcffa4,#fcffa4,#fcffa4,#fcffa4,#fcffa4,#f6fa96,#f2f482,#f1ec6d,#f3e55d,#f5db4c,#f7d13d,#f9c932,#fac026,#fbb61a,#fcae12,#fca50a,#fb9b06,#fa9008,#f8870e,#f67e14,#f3761b,#ef6e21,#eb6429,#e65d2f,#e05536,#da4e3c,#d34743,#cc4248,#c43c4e,#bd3853,#b43359,#ab2f5e,#a22b62,#972766,#8a226a,#7d1e6d,#6c186e,#59106e,#400a67,#1f0c48,#050417,#000004)"></i><i class="n" style="background:linear-gradient(#010108,#0c0826,#280b53,#440a68,#5a116e,#6c186e,#7c1d6d,#88226a,#952667,#9f2a63,#a82e5f,#b1325a,#ba3655,#c13a50,#ca404a,#d04545,#d84c3e,#de5238,#e35933,#e9612b,#ed6925,#f1711f,#f47918,#f78212,#f98b0b,#fa9407,#fb9d07,#fca60c,#fcb014,#fbba1f,#fac228,#f9cb35,#f7d340,#f4dd4f,#f3e55d,#f1ec6d,#f2f482,#f5f992,#fcffa4,#fcffa4,#fcffa4,#fcffa4,#fcffa4,#fcffa4,#fcffa4,#fcffa4,#fcffa4,#f6d543,#e15635,#400a67,#010005,#000004,#000004,#000004,#000004,#000004,#000004,#000004,#000004,#000004,#000004,#000004,#000004,#000004,#000004,#000004,#000004,#000004,#000004,#000004,#000004,#000004,#000004,#000004,#000004,#000004,#000004,#000004,#010106,#771c6d,#f57d15,#f2ea69,#fcffa4,#fcffa4,#fcffa4,#fcffa4,#fcffa4,#fcffa4,#fcffa4,#fafda1,#f4f88e,#f1f179,#f2e865,#f4df53,#f6d746,#f8cd37,#fac42a,#fbbc21,#fcb216,#fca80d,#fc9f07,#fa9407,#f98b0b,#f78212,#f47918,#f06f20,#ec6726,#e8602d,#e25734,#dd513a,#d54a41,#ce4347,#c73e4c,#bf3952,#b63458,#ad305d,#a32c61,#982766,#8d2369,#7f1e6c,#6d186e,#5a116e,#420a68,#210c4a,#060419,#000004)"></i><i class="n" style="background:linear-gradient(#02010a,#0c0826,#290b55,#450a69,#5c126e,#6d186e,#7d1e6d,#8a226a,#972766,#a02a63,#a92e5e,#b3325a,#bc3754,#c33b4f,#cb4149,#d34743,#d94d3d,#df5337,#e55c30,#ea632a,#ee6a24,#f2741c,#f57d15,#f8850f,#f98e09,#fb9706,#fca108,#fcaa0f,#fcb418,#fbbe23,#fac62d,#f8cf3a,#f6d746,#f4e156,#f2e865,#f1f179,#f3f68a,#f9fc9d,#fcffa4,#fcffa4,#fcffa4,#fcffa4,#fcffa4,#fcffa4,#fcffa4,#fcffa4,#fcffa4,#fcac11,#b93556,#1b0c41,#000004,#000004,#000004,#000004,#000004,#000004,#000004,#000004,#000004,#000004,#000004,#000004,#000004,#000004,#000004,#000004,#000004,#000004,#000004,#000004,#000004,#000004,#000004,#000004,#000004,#000004,#000004,#000004,#000004,#4a0c6b,#dd513a,#f9cb35,#fcffa4,#fcffa4,#fcffa4,#fcffa4,#fcffa4,#fcffa4,#fcffa4,#fcffa4,#f6fa96,#f2f482,#f1ed71,#f3e55d,#f5db4c,#f7d13d,#f9c932,#fac026,#fbb61a,#fcac11,#fca309,#fb9906,#f98e09,#f8850f,#f57d15,#f1731d,#ee6a24,#e9612b,#e45a31,#de5238,#d84c3e,#d04545,#c83f4b,#c03a51,#b93556,#b0315b,#a52c60,#9b2964,#8f2469,#801f6c,#6f196e,#5c126e,#420a68,#230c4c,#060419,#000004)"></i><i class="n" style="background:linear-gradient(#02010a,#0d0829,#2b0b57,#470b6a,#5d126e,#6f196e,#7f1e6c,#8d2369,#982766,#a32c61,#ad305d,#b43359,#bd3853,#c63d4d,#cc4248,#d44842,#da4e3c,#e15635,#e65d2f,#eb6628,#ef6e21,#f3761b,#f68013,#f8890c,#fa9207,#fb9b06,#fca50a,#fcae12,#fbb81d,#fac228,#f9c932,#f7d340,#f5db4c,#f3e55d,#f1ec6d,#f2f482,#f5f992,#fcffa4,#fcffa4,#fcffa4,#fcffa4,#fcffa4,#fcffa4,#fcffa4,#fcffa4,#fcffa4,#f1ed71,#f78410,#902568,#0b0724,#000004,#000004,#000004,#000004,#000004,#000004,#000004,#000004,#000004,#000004,#000004,#000004,#000004,#000004,#000004,#000004,#000004,#000004,#000004,#000004,#000004,#000004,#000004,#000004,#000004,#000004,#000004,#000004,#000004,#2b0b57,#ba3655,#fca60c,#f6fa96,#fcffa4,#fcffa4,#fcffa4,#fcffa4,#fcffa4,#fcffa4,#fcffa4,#fafda1,#f4f88e,#f1f179,#f2e865,#f4df53,#f6d746,#f8cd37,#fac42a,#fbba1f,#fcb014,#fca60c,#fb9d07,#fa9207,#f8890c,#f67e14,#f3761b,#ef6c23,#eb6429,#e55c30,#e05536,#d94d3d,#d24644,#cb4149,#c33b4f,#ba3655,#b1325a,#a82e5f,#9d2964,#902568,#82206c,#721a6e,#5d126e,#440a68,#230c4c,#060419,#000004)"></i><i class="n" style="background:linear-gradient(#02010a,#0d0829,#2b0b57,#490b6a,#5f136e,#71196e,#801f6c,#8f2469,#9a2865,#a52c60,#ae305c,#b73557,#bf3952,#c73e4c,#cf4446,#d54a41,#dd513a,#e25734,#e8602d,#ec6726,#f1711f,#f47918,#f78212,#f98c0a,#fb9606,#fc9f07,#fca80d,#fcb216,#fbbc21,#fac62d,#f8cd37,#f6d746,#f4df53,#f2e865,#f1ef75,#f3f68a,#f9fc9d,#fcffa4,#fcffa4,#fcffa4,#fcffa4,#fcffa4,#fcffa4,#fcffa4,#fcffa4,#fcffa4,#f6d543,#e9612b,#71196e,#02020e,#000004,#000004,#000004,#000004,#000004,#000004,#000004,#000004,#000004,#000004,#000004,#000004,#000004,#000004,#000004,#000004,#000004,#000004,#000004,#000004,#000004,#000004,#000004,#000004,#000004,#000004,#000004,#000004,#000004,#160b39,#9a2865,#f78212,#f2e865,#fcffa4,#fcffa4,#fcffa4,#fcffa4,#fcffa4,#fcffa4,#fcffa4,#fcffa4,#f6fa96,#f2f482,#f1ec6d,#f3e35a,#f5db4c,#f7d13d,#f9c72f,#fbbe23,#fcb418,#fcaa0f,#fc9f07,#fb9606,#f98c0a,#f78212,#f47918,#f06f20,#ec6726,#e75e2e,#e15635,#db503b,#d44842,#cc4248,#c43c4e,#bc3754,#b3325a,#a92e5e,#9f2a63,#922568,#84206b,#741a6e,#5f136e,#450a69,#240c4f,#07051b,#000004)"></i><i class="n" style="background:linear-gradient(#02010a,#0e092b,#2d0b59,#4a0c6b,#61136e,#721a6e,#82206c,#902568,#9b2964,#a62d60,#b0315b,#b93556,#c13a50,#c83f4b,#d04545,#d84c3e,#de5238,#e45a31,#e9612b,#ee6a24,#f1731d,#f57d15,#f8850f,#f98e09,#fb9906,#fca309,#fcac11,#fbb61a,#fac026,#f9c72f,#f7d13d,#f5db4c,#f3e35a,#f1ec6d,#f2f27d,#f5f992,#fcffa4,#fcffa4,#fcffa4,#fcffa4,#fcffa4,#fcffa4,#fcffa4,#fcffa4,#fcffa4,#fafda1,#fbb61a,#d34743,#550f6d,#010005,#000004,#000004,#000004,#000004,#000004,#000004,#000004,#000004,#000004,#000004,#000004,#000004,#000004,#000004,#000004,#000004,#000004,#000004,#000004,#000004,#000004,#000004,#000004,#000004,#000004,#000004,#000004,#000004,#000004,#09061f,#7f1e6c,#ea632a,#f8cf3a,#fcffa4,#fcffa4,#fcffa4,#fcffa4,#fcffa4,#fcffa4,#fcffa4,#fcffa4,#f9fc9d,#f3f68a,#f1ef75,#f2e865,#f4df53,#f6d543,#f9cb35,#fac228,#fbb81d,#fcae12,#fca309,#fb9906,#f98e09,#f8850f,#f57b17,#f1731d,#ed6925,#e9612b,#e35933,#dd513a,#d54a41,#cf4446,#c73e4c,#bf3952,#b63458,#ab2f5e,#a02a63,#932667,#85216b,#751b6e,#61136e,#470b6a,#260c51,#07051b,#000004)"></i><i class="n" style="background:linear-gradient(#02010a,#0e092b,#2d0b59,#4a0c6b,#61136e,#741a6e,#84206b,#922568,#9d2964,#a82e5f,#b1325a,#ba3655,#c33b4f,#cb4149,#d24644,#d94d3d,#e05536,#e55c30,#eb6429,#ef6c23,#f3761b,#f67e14,#f8870e,#fa9207,#fb9b06,#fca60c,#fcb014,#fbba1f,#fac228,#f9cb35,#f6d543,#f4df53,#f2e661,#f1ef75,#f3f586,#f8fb9a,#fcffa4,#fcffa4,#fcffa4,#fcffa4,#fcffa4,#fcffa4,#fcffa4,#fcffa4,#fcffa4,#f1ef75,#fb9606,#b93556,#3e0966,#010005,#000004,#000004,#000004,#000004,#000004,#000004,#000004,#000004,#000004,#000004,#000004,#000004,#000004,#000004,#000004,#000004,#000004,#000004,#000004,#000004,#000004,#000004,#000004,#000004,#000004,#000004,#000004,#000004,#000004,#050417,#65156e,#d74b3f,#fcb216,#f6fa96,#fcffa4,#fcffa4,#fcffa4,#fcffa4,#fcffa4,#fcffa4,#fcffa4,#fcffa4,#f5f992,#f2f27d,#f1ec6d,#f3e35a,#f5d949,#f8cf3a,#fac62d,#fbbc21,#fcb216,#fca60c,#fb9d07,#fa9207,#f8890c,#f67e14,#f2741c,#ef6c23,#ea632a,#e45a31,#df5337,#d84c3e,#d04545,#c83f4b,#c03a51,#b73557,#ad305d,#a22b62,#972766,#88226a,#771c6d,#62146e,#490b6a,#260c51,#07051b,#000004)"></i><i class="n" style="background:linear-gradient(#02010a,#0e092b,#2f0a5b,#4c0c6b,#62146e,#751b6e,#85216b,#932667,#9f2a63,#a92e5e,#b3325a,#bc3754,#c43c4e,#cc4248,#d44842,#da4e3c,#e15635,#e75e2e,#eb6628,#f06f20,#f37819,#f78212,#f98b0b,#fa9407,#fc9f07,#fca80d,#fcb418,#fbbc21,#fac62d,#f8cf3a,#f5d949,#f4e156,#f2ea69,#f2f27d,#f4f88e,#fafda1,#fcffa4,#fcffa4,#fcffa4,#fcffa4,#fcffa4,#fcffa4,#fcffa4,#fcffa4,#fcffa4,#f5db4c,#f47918,#9f2a63,#2f0a5b,#000004,#000004,#000004,#000004,#000004,#000004,#000004,#000004,#000004,#000004,#000004,#000004,#000004,#000004,#000004,#000004,#000004,#000004,#000004,#000004,#000004,#000004,#000004,#000004,#000004,#000004,#000004,#000004,#000004,#000004,#040312,#520e6d,#c03a51,#fb9606,#f1ed71,#fcffa4,#fcffa4,#fcffa4,#fcffa4,#fcffa4,#fcffa4,#fcffa4,#fcffa4,#f8fb9a,#f3f586,#f1ed71,#f3e55d,#f4dd4f,#f7d340,#f9c932,#fac026,#fbb61a,#fcaa0f,#fca108,#fb9606,#f98b0b,#f78212,#f37819,#ef6e21,#eb6628,#e65d2f,#e05536,#d94d3d,#d24644,#ca404a,#c13a50,#b93556,#b0315b,#a52c60,#982766,#8a226a,#781c6d,#62146e,#490b6a,#280b53,#08051d,#000004)"></i><i class="n" style="background:linear-gradient(#02010a,#10092d,#2f0a5b,#4d0d6c,#64156e,#771c6d,#87216b,#952667,#a02a63,#ab2f5e,#b43359,#bd3853,#c63d4d,#ce4347,#d54a41,#dd513a,#e25734,#e8602d,#ec6726,#f1711f,#f47918,#f78410,#f98c0a,#fb9706,#fca108,#fcac11,#fbb61a,#fac026,#f9c932,#f7d13d,#f5db4c,#f3e55d,#f1ec6d,#f2f482,#f6fa96,#fcffa4,#fcffa4,#fcffa4,#fcffa4,#fcffa4,#fcffa4,#fcffa4,#fcffa4,#fcffa4,#fcffa4,#fac62d,#e8602d,#8c2369,#260c51,#000004,#000004,#000004,#000004,#000004,#000004,#000004,#000004,#000004,#000004,#000004,#000004,#000004,#000004,#000004,#000004,#000004,#000004,#000004,#000004,#000004,#000004,#000004,#000004,#000004,#000004,#000004,#000004,#000004,#000004,#030210,#440a68,#ab2f5e,#f57d15,#f5db4c,#fcffa4,#fcffa4,#fcffa4,#fcffa4,#fcffa4,#fcffa4,#fcffa4,#fcffa4,#fafda1,#f4f88e,#f1f179,#f2e865,#f4df53,#f6d543,#f9cb35,#fac228,#fbb81d,#fcae12,#fca309,#fb9706,#f98e09,#f78410,#f47918,#f1711f,#ec6726,#e75e2e,#e15635,#db503b,#d44842,#cc4248,#c43c4e,#ba3655,#b1325a,#a62d60,#9a2865,#8c2369,#7a1d6d,#64156e,#4a0c6b,#280b53,#08051d,#000004)"></i><i class="n" style="background:linear-gradient(#02010a,#10092d,#310a5c,#4d0d6c,#65156e,#781c6d,#88226a,#972766,#a22b62,#ad305d,#b63458,#bf3952,#c73e4c,#cf4446,#d74b3f,#de5238,#e35933,#e9612b,#ee6a24,#f1731d,#f57d15,#f8850f,#fa9008,#fb9906,#fca309,#fcae12,#fbb81d,#fac228,#f9cb35,#f7d340,#f4dd4f,#f2e661,#f1ed71,#f3f586,#f8fb9a,#fcffa4,#fcffa4,#fcffa4,#fcffa4,#fcffa4,#fcffa4,#fcffa4,#fcffa4,#fcffa4,#f3f68a,#fcae12,#d94d3d,#7c1d6d,#1e0c45,#000004,#000004,#000004,#000004,#000004,#000004,#000004,#000004,#000004,#000004,#000004,#000004,#000004,#000004,#000004,#000004,#000004,#000004,#000004,#000004,#000004,#000004,#000004,#000004,#000004,#000004,#000004,#000004,#000004,#000004,#02020e,#390963,#9a2865,#eb6628,#f9c72f,#fafda1,#fcffa4,#fcffa4,#fcffa4,#fcffa4,#fcffa4,#fcffa4,#fcffa4,#fcffa4,#f5f992,#f2f27d,#f2ea69,#f4e156,#f6d746,#f8cd37,#fac42a,#fbba1f,#fcb014,#fca50a,#fb9b06,#fa9008,#f8850f,#f57d15,#f1731d,#ed6925,#e9612b,#e35933,#dd513a,#d54a41,#ce4347,#c63d4d,#bc3754,#b3325a,#a82e5f,#9b2964,#8c2369,#7a1d6d,#65156e,#4a0c6b,#290b55,#08051d,#000004)"></i><i class="n" style="background:linear-gradient(#02010a,#10092d,#310a5c,#4f0d6c,#65156e,#7a1d6d,#8a226a,#982766,#a32c61,#ae305c,#b73557,#c03a51,#c83f4b,#d04545,#d84c3e,#df5337,#e45a31,#ea632a,#ef6c23,#f2741c,#f67e14,#f8870e,#fa9207,#fb9b06,#fca60c,#fcb014,#fbba1f,#fac42a,#f8cd37,#f6d543,#f4df53,#f2e865,#f1ef75,#f3f68a,#f9fc9d,#fcffa4,#fcffa4,#fcffa4,#fcffa4,#fcffa4,#fcffa4,#fcffa4,#fcffa4,#fcffa4,#f2ea69,#fb9906,#cb4149,#6f196e,#190c3e,#000004,#000004,#000004,#000004,#000004,#000004,#000004,#000004,#000004,#000004,#000004,#000004,#000004,#000004,#000004,#000004,#000004,#000004,#000004,#000004,#000004,#000004,#000004,#000004,#000004,#000004,#000004,#000004,#000004,#000004,#02020c,#320a5e,#8c2369,#e15635,#fcb418,#f3f586,#fcffa4,#fcffa4,#fcffa4,#fcffa4,#fcffa4,#fcffa4,#fcffa4,#fcffa4,#f6fa96,#f2f482,#f1ec6d,#f3e35a,#f5d949,#f8cf3a,#fac62d,#fbbc21,#fcb216,#fca80d,#fb9d07,#fa9207,#f8890c,#f67e14,#f2741c,#ef6c23,#ea632a,#e45a31,#de5238,#d74b3f,#cf4446,#c73e4c,#bd3853,#b43359,#a92e5e,#9d2964,#8d2369,#7c1d6d,#67166e,#4c0c6b,#290b55,#08051d,#000004)"></i><i class="n" style="background:linear-gradient(#02010a,#10092d,#310a5c,#4f0d6c,#67166e,#7a1d6d,#8c2369,#982766,#a52c60,#b0315b,#b93556,#c13a50,#ca404a,#d24644,#d94d3d,#e05536,#e65d2f,#eb6429,#ef6e21,#f3761b,#f68013,#f8890c,#fa9407,#fb9d07,#fca80d,#fcb216,#fbbc21,#fac62d,#f8cf3a,#f6d746,#f4e156,#f2ea69,#f1f179,#f4f88e,#fafda1,#fcffa4,#fcffa4,#fcffa4,#fcffa4,#fcffa4,#fcffa4,#fcffa4,#fcffa4,#fcffa4,#f5db4c,#f78410,#bc3754,#64156e,#160b39,#000004,#000004,#000004,#000004,#000004,#000004,#000004,#000004,#000004,#000004,#000004,#000004,#000004,#000004,#000004,#000004,#000004,#000004,#000004,#000004,#000004,#000004,#000004,#000004,#000004,#000004,#000004,#000004,#000004,#000004,#02020c,#2b0b57,#7f1e6c,#d44842,#fc9f07,#f2ea69,#fcffa4,#fcffa4,#fcffa4,#fcffa4,#fcffa4,#fcffa4,#fcffa4,#fcffa4,#f8fb9a,#f3f586,#f1ed71,#f3e55d,#f5db4c,#f7d13d,#f9c932,#fbbe23,#fcb418,#fcaa0f,#fc9f07,#fb9606,#f98b0b,#f68013,#f3761b,#ef6e21,#eb6429,#e55c30,#df5337,#d84c3e,#d04545,#c83f4b,#c03a51,#b63458,#ab2f5e,#9f2a63,#8f2469,#7d1e6d,#67166e,#4c0c6b,#290b55,#08051d,#000004)"></i><i class="n" style="background:linear-gradient(#02010a,#10092d,#320a5e,#510e6c,#69166e,#7c1d6d,#8c2369,#9a2865,#a62d60,#b1325a,#ba3655,#c33b4f,#cc4248,#d34743,#da4e3c,#e15635,#e75e2e,#eb6628,#f06f20,#f37819,#f78212,#f98c0a,#fb9606,#fc9f07,#fcaa0f,#fcb418,#fbbe23,#f9c72f,#f7d13d,#f5d949,#f3e35a,#f1ec6d,#f2f27d,#f5f992,#fafda1,#fcffa4,#fcffa4,#fcffa4,#fcffa4,#fcffa4,#fcffa4,#fcffa4,#fcffa4,#fafda1,#f9cb35,#f1731d,#ae305c,#5a116e,#140b34,#000004,#000004,#000004,#000004,#000004,#000004,#000004,#000004,#000004,#000004,#000004,#000004,#000004,#000004,#000004,#000004,#000004,#000004,#000004,#000004,#000004,#000004,#000004,#000004,#000004,#000004,#000004,#000004,#000004,#000004,#02020c,#260c51,#741a6e,#c73e4c,#f98c0a,#f4dd4f,#fcffa4,#fcffa4,#fcffa4,#fcffa4,#fcffa4,#fcffa4,#fcffa4,#fcffa4,#f9fc9d,#f3f68a,#f1ef75,#f2e661,#f4dd4f,#f6d543,#f9cb35,#fac228,#fbb61a,#fcac11,#fca108,#fb9706,#f98c0a,#f78212,#f47918,#f06f20,#eb6628,#e65d2f,#e05536,#d94d3d,#d24644,#ca404a,#c13a50,#b73557,#ad305d,#a02a63,#902568,#7f1e6c,#69166e,#4d0d6c,#290b55,#08051d,#000004)"></i><i class="n" style="background:linear-gradient(#02010a,#10092d,#320a5e,#510e6c,#69166e,#7d1e6d,#8d2369,#9b2964,#a82e5f,#b3325a,#bc3754,#c63d4d,#ce4347,#d44842,#db503b,#e25734,#e8602d,#ec6726,#f1711f,#f57b17,#f78410,#f98e09,#fb9706,#fca309,#fcac11,#fbb61a,#fac026,#f9c932,#f7d340,#f5db4c,#f3e55d,#f1ed71,#f2f482,#f6fa96,#fcffa4,#fcffa4,#fcffa4,#fcffa4,#fcffa4,#fcffa4,#fcffa4,#fcffa4,#fcffa4,#f3f68a,#fbba1f,#ea632a,#a32c61,#520e6d,#110a30,#010005,#000004,#000004,#000004,#000004,#000004,#000004,#000004,#000004,#000004,#000004,#000004,#000004,#000004,#000004,#000004,#000004,#000004,#000004,#000004,#000004,#000004,#000004,#000004,#000004,#000004,#000004,#000004,#000004,#000004,#02020c,#230c4c,#6a176e,#bc3754,#f57d15,#f8cd37,#f9fc9d,#fcffa4,#fcffa4,#fcffa4,#fcffa4,#fcffa4,#fcffa4,#fcffa4,#fafda1,#f4f88e,#f1f179,#f2e865,#f4df53,#f6d543,#f8cd37,#fac42a,#fbb81d,#fcae12,#fca50a,#fb9906,#f98e09,#f8850f,#f57b17,#f1711f,#ec6726,#e75e2e,#e25734,#db503b,#d44842,#cb4149,#c33b4f,#b93556,#ae305c,#a22b62,#922568,#7f1e6c,#69166e,#4d0d6c,#2b0b57,#08051d,#000004)"></i><i class="n" style="background:linear-gradient(#02010a,#110a30,#320a5e,#510e6c,#6a176e,#7d1e6d,#8f2469,#9d2964,#a92e5e,#b43359,#bd3853,#c73e4c,#cf4446,#d54a41,#dd513a,#e35933,#e9612b,#ed6925,#f1731d,#f57d15,#f8850f,#fa9008,#fb9906,#fca50a,#fcae12,#fbb81d,#fac228,#f9cb35,#f6d543,#f4dd4f,#f2e661,#f1ef75,#f3f586,#f8fb9a,#fcffa4,#fcffa4,#fcffa4,#fcffa4,#fcffa4,#fcffa4,#fcffa4,#fcffa4,#fcffa4,#f1ed71,#fcaa0f,#e15635,#982766,#4c0c6b,#10092d,#010106,#000004,#000004,#000004,#000004,#000004,#000004,#000004,#000004,#000004,#000004,#000004,#000004,#000004,#000004,#000004,#000004,#000004,#000004,#000004,#000004,#000004,#000004,#000004,#000004,#000004,#000004,#000004,#000004,#000004,#02020e,#1e0c45,#62146e,#b1325a,#ef6e21,#fac026,#f3f68a,#fcffa4,#fcffa4,#fcffa4,#fcffa4,#fcffa4,#fcffa4,#fcffa4,#fafda1,#f5f992,#f2f27d,#f2ea69,#f4e156,#f6d746,#f8cd37,#fac62d,#fbba1f,#fcb014,#fca60c,#fb9b06,#fa9008,#f8870e,#f57d15,#f1731d,#ed6925,#e9612b,#e35933,#dd513a,#d54a41,#cc4248,#c43c4e,#ba3655,#b0315b,#a32c61,#932667,#801f6c,#6a176e,#4f0d6c,#2b0b57,#08051d,#000004)"></i><i class="n" style="background:linear-gradient(#02010a,#110a30,#320a5e,#520e6d,#6a176e,#7f1e6c,#902568,#9f2a63,#ab2f5e,#b63458,#bf3952,#c83f4b,#d04545,#d84c3e,#de5238,#e45a31,#ea632a,#ee6a24,#f2741c,#f67e14,#f8870e,#fa9207,#fb9b06,#fca60c,#fcb014,#fbba1f,#fac42a,#f8cd37,#f6d543,#f4df53,#f2e865,#f1ef75,#f3f68a,#f8fb9a,#fcffa4,#fcffa4,#fcffa4,#fcffa4,#fcffa4,#fcffa4,#fcffa4,#fcffa4,#fcffa4,#f3e35a,#fb9b06,#d84c3e,#8f2469,#450a69,#10092d,#010106,#000004,#000004,#000004,#000004,#000004,#000004,#000004,#000004,#000004,#000004,#000004,#000004,#000004,#000004,#000004,#000004,#000004,#000004,#000004,#000004,#000004,#000004,#000004,#000004,#000004,#000004,#000004,#000004,#000004,#02020e,#1c0c43,#5c126e,#a62d60,#e9612b,#fcb216,#f1ed71,#fcffa4,#fcffa4,#fcffa4,#fcffa4,#fcffa4,#fcffa4,#fcffa4,#fcffa4,#f5f992,#f2f482,#f1ec6d,#f3e35a,#f5d949,#f8cf3a,#fac62d,#fbbc21,#fcb216,#fca80d,#fb9d07,#fa9207,#f8890c,#f67e14,#f2741c,#ee6a24,#ea632a,#e45a31,#de5238,#d74b3f,#cf4446,#c63d4d,#bc3754,#b1325a,#a32c61,#952667,#82206c,#6c186e,#4f0d6c,#2b0b57,#08051d,#000004)"></i><i class="n" style="background:linear-gradient(#02010a,#110a30,#340a5f,#520e6d,#6c186e,#801f6c,#922568,#a02a63,#ad305d,#b73557,#c03a51,#ca404a,#d24644,#d94d3d,#df5337,#e55c30,#eb6429,#ef6c23,#f3761b,#f68013,#f8890c,#fa9407,#fb9d07,#fca80d,#fcb216,#fbbc21,#fac62d,#f8cf3a,#f6d746,#f4e156,#f2ea69,#f1f179,#f4f88e,#f9fc9d,#fcffa4,#fcffa4,#fcffa4,#fcffa4,#fcffa4,#fcffa4,#fcffa4,#fcffa4,#fcffa4,#f6d746,#f98c0a,#cf4446,#85216b,#400a67,#0e092b,#010106,#000004,#000004,#000004,#000004,#000004,#000004,#000004,#000004,#000004,#000004,#000004,#000004,#000004,#000004,#000004,#000004,#000004,#000004,#000004,#000004,#000004,#000004,#000004,#000004,#000004,#000004,#000004,#000004,#000004,#02020e,#1b0c41,#550f6d,#9f2a63,#e25734,#fca50a,#f3e55d,#fcffa4,#fcffa4,#fcffa4,#fcffa4,#fcffa4,#fcffa4,#fcffa4,#fcffa4,#f6fa96,#f3f586,#f1ed71,#f3e55d,#f5db4c,#f7d13d,#f9c72f,#fbbe23,#fcb418,#fcaa0f,#fc9f07,#fb9606,#f98b0b,#f68013,#f3761b,#ef6e21,#eb6429,#e55c30,#df5337,#d84c3e,#d04545,#c73e4c,#bd3853,#b3325a,#a52c60,#952667,#84206b,#6c186e,#510e6c,#2d0b59,#09061f,#000004)"></i><i class="n" style="background:linear-gradient(#02010a,#110a30,#340a5f,#540f6d,#6c186e,#801f6c,#922568,#a02a63,#ad305d,#b73557,#c13a50,#ca404a,#d34743,#d94d3d,#e05536,#e65d2f,#eb6628,#ef6e21,#f37819,#f78212,#f98b0b,#fb9606,#fc9f07,#fca80d,#fcb418,#fbbe23,#f9c72f,#f8cf3a,#f5d949,#f3e35a,#f2ea69,#f2f27d,#f4f88e,#fafda1,#fcffa4,#fcffa4,#fcffa4,#fcffa4,#fcffa4,#fcffa4,#fcffa4,#fcffa4,#f5f992,#f9cb35,#f68013,#c73e4c,#7f1e6c,#3d0965,#0d0829,#010106,#000004,#000004,#000004,#000004,#000004,#000004,#000004,#000004,#000004,#000004,#000004,#000004,#000004,#000004,#000004,#000004,#000004,#000004,#000004,#000004,#000004,#000004,#000004,#000004,#000004,#000004,#000004,#000004,#000004,#02020e,#190c3e,#510e6c,#972766,#da4e3c,#fb9706,#f5db4c,#fafda1,#fcffa4,#fcffa4,#fcffa4,#fcffa4,#fcffa4,#fcffa4,#fcffa4,#f8fb9a,#f3f586,#f1ef75,#f2e661,#f4dd4f,#f7d340,#f9c932,#fac026,#fbb61a,#fcac11,#fca108,#fb9706,#f98c0a,#f78212,#f37819,#f06f20,#eb6628,#e65d2f,#e05536,#d94d3d,#d24644,#c83f4b,#bf3952,#b43359,#a62d60,#972766,#84206b,#6d186e,#510e6c,#2d0b59,#09061f,#000004)"></i><i class="n" style="background:linear-gradient(#02010a,#110a30,#340a5f,#540f6d,#6d186e,#82206c,#932667,#a22b62,#ae305c,#b93556,#c33b4f,#cb4149,#d44842,#da4e3c,#e15635,#e75e2e,#ec6726,#f06f20,#f47918,#f78212,#f98c0a,#fb9706,#fca108,#fcaa0f,#fbb61a,#fac026,#f9c72f,#f7d13d,#f5db4c,#f3e35a,#f1ec6d,#f2f27d,#f5f992,#fafda1,#fcffa4,#fcffa4,#fcffa4,#fcffa4,#fcffa4,#fcffa4,#fcffa4,#fcffa4,#f2f482,#fac026,#f2741c,#bf3952,#781c6d,#390963,#0d0829,#010106,#010005,#000004,#000004,#000004,#000004,#000004,#000004,#000004,#000004,#000004,#000004,#000004,#000004,#000004,#000004,#000004,#000004,#000004,#000004,#000004,#000004,#000004,#000004,#000004,#000004,#000004,#000004,#000004,#010005,#02020e,#180c3c,#4d0d6c,#8f2469,#d34743,#f98c0a,#f7d13d,#f6fa96,#fcffa4,#fcffa4,#fcffa4,#fcffa4,#fcffa4,#fcffa4,#fcffa4,#f8fb9a,#f3f68a,#f1ef75,#f2e865,#f4df53,#f6d543,#f9cb35,#fac228,#fbb81d,#fcae12,#fca309,#fb9906,#f98e09,#f78410,#f47918,#f1711f,#ec6726,#e75e2e,#e15635,#da4e3c,#d34743,#ca404a,#c03a51,#b43359,#a82e5f,#982766,#85216b,#6d186e,#510e6c,#2d0b59,#09061f,#000004)"></i><i class="n" style="background:linear-gradient(#02010a,#110a30,#360961,#540f6d,#6d186e,#84206b,#952667,#a32c61,#b0315b,#ba3655,#c43c4e,#cc4248,#d44842,#db503b,#e25734,#e8602d,#ed6925,#f1711f,#f57b17,#f78410,#f98e09,#fb9706,#fca309,#fcac11,#fbb61a,#fac026,#f9c932,#f7d340,#f4dd4f,#f3e55d,#f1ed71,#f2f482,#f5f992,#fcffa4,#fcffa4,#fcffa4,#fcffa4,#fcffa4,#fcffa4,#fcffa4,#fcffa4,#fcffa4,#f1ed71,#fbb61a,#ee6a24,#b73557,#721a6e,#360961,#0d0829,#010108,#010106,#000004,#000004,#000004,#000004,#000004,#000004,#000004,#000004,#000004,#000004,#000004,#000004,#000004,#000004,#000004,#000004,#000004,#000004,#000004,#000004,#000004,#000004,#000004,#000004,#000004,#000004,#000004,#010106,#030210,#160b39,#4a0c6b,#88226a,#cc4248,#f78212,#f9c72f,#f3f586,#fcffa4,#fcffa4,#fcffa4,#fcffa4,#fcffa4,#fcffa4,#fcffa4,#f9fc9d,#f3f68a,#f1f179,#f2e865,#f4df53,#f6d746,#f8cd37,#fac42a,#fbba1f,#fcb014,#fca50a,#fb9906,#fa9008,#f8850f,#f57b17,#f1731d,#ed6925,#e8602d,#e25734,#db503b,#d44842,#cb4149,#c13a50,#b63458,#a92e5e,#9a2865,#85216b,#6f196e,#520e6d,#2d0b59,#09061f,#000004)"></i><i class="n" style="background:linear-gradient(#02010a,#110a30,#360961,#550f6d,#6f196e,#84206b,#952667,#a52c60,#b1325a,#bc3754,#c63d4d,#ce4347,#d54a41,#dd513a,#e35933,#e9612b,#ee6a24,#f1731d,#f57d15,#f8850f,#fa9008,#fb9906,#fca50a,#fcae12,#fbb81d,#fac228,#f9cb35,#f6d543,#f4dd4f,#f2e661,#f1ed71,#f3f586,#f6fa96,#fcffa4,#fcffa4,#fcffa4,#fcffa4,#fcffa4,#fcffa4,#fcffa4,#fcffa4,#fcffa4,#f3e55d,#fcaa0f,#e9612b,#b0315b,#6d186e,#340a5f,#0c0826,#010108,#010108,#010005,#000004,#000004,#000004,#000004,#000004,#000004,#000004,#000004,#000004,#000004,#000004,#000004,#000004,#000004,#000004,#000004,#000004,#000004,#000004,#000004,#000004,#000004,#000004,#000004,#000004,#010005,#010108,#030210,#160b39,#470b6a,#84206b,#c63d4d,#f37819,#fbbe23,#f1ef75,#fcffa4,#fcffa4,#fcffa4,#fcffa4,#fcffa4,#fcffa4,#fcffa4,#f9fc9d,#f4f88e,#f1f179,#f2ea69,#f4e156,#f6d746,#f8cf3a,#fac62d,#fbbc21,#fcb216,#fca60c,#fb9b06,#fa9207,#f8870e,#f57d15,#f2741c,#ee6a24,#e9612b,#e35933,#dd513a,#d54a41,#cc4248,#c33b4f,#b73557,#ab2f5e,#9a2865,#87216b,#6f196e,#520e6d,#2d0b59,#09061f,#000004)"></i><i class="n" style="background:linear-gradient(#02010a,#110a30,#360961,#550f6d,#6f196e,#85216b,#972766,#a52c60,#b3325a,#bd3853,#c73e4c,#cf4446,#d74b3f,#de5238,#e45a31,#ea632a,#ee6a24,#f2741c,#f67e14,#f8870e,#fa9207,#fb9b06,#fca60c,#fcb014,#fbba1f,#fac42a,#f8cd37,#f6d543,#f4df53,#f2e661,#f1ef75,#f3f586,#f8fb9a,#fcffa4,#fcffa4,#fcffa4,#fcffa4,#fcffa4,#fcffa4,#fcffa4,#fcffa4,#fafda1,#f4dd4f,#fca108,#e45a31,#a92e5e,#6a176e,#320a5e,#0c0826,#02010a,#02020c,#010106,#000004,#000004,#000004,#000004,#000004,#000004,#000004,#000004,#000004,#000004,#000004,#000004,#000004,#000004,#000004,#000004,#000004,#000004,#000004,#000004,#000004,#000004,#000004,#000004,#000004,#010108,#02010a,#040312,#160b39,#450a69,#7f1e6c,#bf3952,#f06f20,#fcb418,#f2e865,#fcffa4,#fcffa4,#fcffa4,#fcffa4,#fcffa4,#fcffa4,#fcffa4,#fafda1,#f5f992,#f2f27d,#f2ea69,#f3e35a,#f5d949,#f8cf3a,#fac62d,#fbbc21,#fcb216,#fca80d,#fb9d07,#fa9407,#f8890c,#f67e14,#f3761b,#ef6c23,#ea632a,#e45a31,#de5238,#d74b3f,#ce4347,#c43c4e,#b93556,#ab2f5e,#9b2964,#88226a,#71196e,#520e6d,#2f0a5b,#09061f,#000004)"></i><i class="n" style="background:linear-gradient(#02010a,#110a30,#360961,#550f6d,#71196e,#85216b,#982766,#a62d60,#b3325a,#bf3952,#c83f4b,#d04545,#d84c3e,#df5337,#e55c30,#eb6429,#ef6c23,#f3761b,#f67e14,#f8890c,#fa9407,#fb9d07,#fca60c,#fcb216,#fbbc21,#fac42a,#f8cd37,#f6d746,#f4df53,#f2e865,#f1ef75,#f3f68a,#f8fb9a,#fcffa4,#fcffa4,#fcffa4,#fcffa4,#fcffa4,#fcffa4,#fcffa4,#fcffa4,#f6fa96,#f6d543,#fb9706,#df5337,#a52c60,#67166e,#310a5c,#0d0829,#02020c,#02020e,#02010a,#010005,#000004,#000004,#000004,#000004,#000004,#000004,#000004,#000004,#000004,#000004,#000004,#000004,#000004,#000004,#000004,#000004,#000004,#000004,#000004,#000004,#000004,#000004,#000004,#010106,#02020c,#02020c,#040312,#160b39,#440a68,#7c1d6d,#ba3655,#ec6726,#fcac11,#f3e35a,#fafda1,#fcffa4,#fcffa4,#fcffa4,#fcffa4,#fcffa4,#fcffa4,#fafda1,#f5f992,#f2f482,#f1ec6d,#f3e35a,#f5db4c,#f7d13d,#f9c72f,#fbbe23,#fcb418,#fcaa0f,#fc9f07,#fb9606,#f98b0b,#f68013,#f3761b,#ef6e21,#eb6429,#e55c30,#df5337,#d84c3e,#cf4446,#c63d4d,#ba3655,#ad305d,#9d2964,#88226a,#71196e,#540f6d,#2f0a5b,#09061f,#000004)"></i><i class="n" style="background:linear-gradient(#02010a,#120a32,#360961,#57106e,#71196e,#87216b,#982766,#a82e5f,#b43359,#bf3952,#c83f4b,#d24644,#d94d3d,#e05536,#e65d2f,#eb6429,#ef6e21,#f37819,#f68013,#f98b0b,#fa9407,#fc9f07,#fca80d,#fcb216,#fbbc21,#fac62d,#f8cf3a,#f5d949,#f4e156,#f2ea69,#f1f179,#f3f68a,#f8fb9a,#fcffa4,#fcffa4,#fcffa4,#fcffa4,#fcffa4,#fcffa4,#fcffa4,#fcffa4,#f3f68a,#f8cd37,#f98e09,#da4e3c,#a02a63,#64156e,#310a5c,#0d0829,#02020e,#030210,#030210,#010108,#000004,#000004,#000004,#000004,#000004,#000004,#000004,#000004,#000004,#000004,#000004,#000004,#000004,#000004,#000004,#000004,#000004,#000004,#000004,#000004,#000004,#000004,#000004,#02010a,#030210,#02020e,#040314,#160b39,#420a68,#781c6d,#b43359,#e9612b,#fca309,#f5db4c,#f6fa96,#fcffa4,#fcffa4,#fcffa4,#fcffa4,#fcffa4,#fcffa4,#fcffa4,#f6fa96,#f2f482,#f1ed71,#f3e55d,#f5db4c,#f7d340,#f9c932,#fac026,#fbb61a,#fcac11,#fca108,#fb9606,#f98c0a,#f78212,#f37819,#f06f20,#eb6628,#e65d2f,#e05536,#d84c3e,#d04545,#c73e4c,#bc3754,#ae305c,#9d2964,#8a226a,#721a6e,#540f6d,#2f0a5b,#09061f,#000004)"></i><i class="n" style="background:linear-gradient(#02010a,#120a32,#380962,#57106e,#721a6e,#87216b,#9a2865,#a82e5f,#b63458,#c03a51,#ca404a,#d34743,#da4e3c,#e15635,#e75e2e,#eb6628,#f06f20,#f47918,#f78212,#f98c0a,#fb9606,#fca108,#fcaa0f,#fcb418,#fbbe23,#f9c72f,#f8cf3a,#f5d949,#f3e35a,#f2ea69,#f1f179,#f4f88e,#f9fc9d,#fcffa4,#fcffa4,#fcffa4,#fcffa4,#fcffa4,#fcffa4,#fcffa4,#fcffa4,#f2f27d,#fac62d,#f8850f,#d54a41,#9b2964,#61136e,#310a5c,#0e092b,#030210,#040312,#040314,#02020e,#010106,#000004,#000004,#000004,#000004,#000004,#000004,#000004,#000004,#000004,#000004,#000004,#000004,#000004,#000004,#000004,#000004,#000004,#000004,#000004,#000004,#000004,#010108,#030210,#040314,#030210,#050417,#180c3c,#400a67,#751b6e,#b0315b,#e55c30,#fb9b06,#f6d543,#f4f88e,#fcffa4,#fcffa4,#fcffa4,#fcffa4,#fcffa4,#fcffa4,#fcffa4,#f6fa96,#f3f586,#f1ed71,#f2e661,#f4dd4f,#f7d340,#f9c932,#fac228,#fbb81d,#fcac11,#fca309,#fb9706,#f98e09,#f78410,#f47918,#f06f20,#ec6726,#e75e2e,#e15635,#d94d3d,#d24644,#c73e4c,#bc3754,#ae305c,#9f2a63,#8a226a,#721a6e,#540f6d,#2f0a5b,#09061f,#000004)"></i><i class="n" style="background:linear-gradient(#02010a,#120a32,#380962,#57106e,#721a6e,#88226a,#9a2865,#a92e5e,#b63458,#c13a50,#cb4149,#d44842,#db503b,#e25734,#e75e2e,#ec6726,#f1711f,#f47918,#f78410,#f98c0a,#fb9706,#fca108,#fcac11,#fbb61a,#fac026,#f9c72f,#f7d13d,#f5db4c,#f3e35a,#f1ec6d,#f2f27d,#f4f88e,#f9fc9d,#fcffa4,#fcffa4,#fcffa4,#fcffa4,#fcffa4,#fcffa4,#fcffa4,#fcffa4,#f1ed71,#fbbe23,#f67e14,#d04545,#972766,#5f136e,#2f0a5b,#0e092b,#040312,#040312,#050417,#040312,#02010a,#010005,#000004,#000004,#000004,#000004,#000004,#000004,#000004,#000004,#000004,#000004,#000004,#000004,#000004,#000004,#000004,#000004,#000004,#000004,#000004,#010005,#02020e,#040314,#040314,#030210,#060419,#180c3c,#400a67,#721a6e,#ad305d,#e15635,#fa9407,#f8cd37,#f2f482,#fcffa4,#fcffa4,#fcffa4,#fcffa4,#fcffa4,#fcffa4,#fcffa4,#f6fa96,#f3f586,#f1ef75,#f2e661,#f4df53,#f6d543,#f9cb35,#fac228,#fbb81d,#fcae12,#fca50a,#fb9906,#f98e09,#f8850f,#f57b17,#f1711f,#ec6726,#e8602d,#e15635,#da4e3c,#d24644,#c83f4b,#bd3853,#b0315b,#9f2a63,#8c2369,#721a6e,#550f6d,#2f0a5b,#09061f,#000004)"></i><i class="n" style="background:linear-gradient(#02010a,#120a32,#380962,#59106e,#721a6e,#88226a,#9b2964,#ab2f5e,#b73557,#c33b4f,#cc4248,#d44842,#db503b,#e25734,#e8602d,#ed6925,#f1731d,#f57b17,#f8850f,#f98e09,#fb9906,#fca309,#fcac11,#fbb61a,#fac026,#f9c932,#f7d340,#f5db4c,#f3e55d,#f1ec6d,#f2f27d,#f5f992,#fafda1,#fcffa4,#fcffa4,#fcffa4,#fcffa4,#fcffa4,#fcffa4,#fcffa4,#fcffa4,#f2e865,#fbb81d,#f37819,#cc4248,#932667,#5d126e,#2f0a5b,#10092d,#040314,#040314,#060419,#050417,#030210,#010108,#000004,#000004,#000004,#000004,#000004,#000004,#000004,#000004,#000004,#000004,#000004,#000004,#000004,#000004,#000004,#000004,#000004,#000004,#010005,#02010a,#040312,#050417,#050417,#040312,#07051b,#190c3e,#400a67,#71196e,#a82e5f,#de5238,#f98c0a,#f9c72f,#f1f179,#fcffa4,#fcffa4,#fcffa4,#fcffa4,#fcffa4,#fcffa4,#fcffa4,#f8fb9a,#f3f586,#f1ef75,#f2e865,#f4df53,#f6d543,#f8cd37,#fac42a,#fbba1f,#fcb014,#fca50a,#fb9b06,#fa9008,#f8870e,#f57d15,#f1731d,#ed6925,#e8602d,#e25734,#db503b,#d34743,#ca404a,#bf3952,#b1325a,#a02a63,#8c2369,#741a6e,#550f6d,#2f0a5b,#09061f,#000004)"></i><i class="n" style="background:linear-gradient(#02010a,#120a32,#380962,#59106e,#741a6e,#8a226a,#9b2964,#ab2f5e,#b93556,#c43c4e,#ce4347,#d54a41,#dd513a,#e35933,#e9612b,#ee6a24,#f1731d,#f57d15,#f8850f,#fa9008,#fb9906,#fca50a,#fcae12,#fbb81d,#fac228,#f9cb35,#f7d340,#f4dd4f,#f3e55d,#f1ed71,#f2f482,#f5f992,#fafda1,#fcffa4,#fcffa4,#fcffa4,#fcffa4,#fcffa4,#fcffa4,#fcffa4,#fafda1,#f3e35a,#fcb014,#f1731d,#c83f4b,#902568,#5c126e,#2f0a5b,#110a30,#040314,#040314,#060419,#060419,#050417,#02020e,#010005,#000004,#000004,#000004,#000004,#000004,#000004,#000004,#000004,#000004,#000004,#000004,#000004,#000004,#000004,#000004,#000004,#000004,#010108,#030210,#050417,#060419,#050417,#040312,#07051b,#190c3e,#400a67,#6f196e,#a52c60,#da4e3c,#f8870e,#fac228,#f1ec6d,#fcffa4,#fcffa4,#fcffa4,#fcffa4,#fcffa4,#fcffa4,#fcffa4,#f8fb9a,#f3f68a,#f1f179,#f2e865,#f4e156,#f6d746,#f8cd37,#fac42a,#fbbc21,#fcb216,#fca60c,#fb9d07,#fa9207,#f8870e,#f67e14,#f2741c,#ee6a24,#e9612b,#e35933,#dd513a,#d44842,#cb4149,#c03a51,#b1325a,#a22b62,#8d2369,#741a6e,#550f6d,#2f0a5b,#09061f,#000004)"></i><i class="n" style="background:linear-gradient(#02010a,#120a32,#380962,#59106e,#741a6e,#8a226a,#9d2964,#ad305d,#b93556,#c43c4e,#ce4347,#d74b3f,#de5238,#e45a31,#ea632a,#ee6a24,#f2741c,#f67e14,#f8870e,#fa9207,#fb9b06,#fca50a,#fcb014,#fbba1f,#fac228,#f9cb35,#f6d543,#f4dd4f,#f2e661,#f1ed71,#f2f482,#f5f992,#fafda1,#fcffa4,#fcffa4,#fcffa4,#fcffa4,#fcffa4,#fcffa4,#fcffa4,#f6fa96,#f4dd4f,#fcaa0f,#ef6c23,#c43c4e,#8f2469,#5c126e,#2f0a5b,#110a30,#050417,#040314,#07051b,#07051b,#060419,#040314,#02020c,#010005,#000004,#000004,#000004,#000004,#000004,#000004,#000004,#000004,#000004,#000004,#000004,#000004,#000004,#000004,#000004,#010106,#02020e,#050417,#07051b,#07051b,#060419,#040312,#08051d,#1b0c41,#400a67,#6d186e,#a22b62,#d74b3f,#f78212,#fbbc21,#f2e865,#f9fc9d,#fcffa4,#fcffa4,#fcffa4,#fcffa4,#fcffa4,#fcffa4,#f8fb9a,#f3f68a,#f1f179,#f2ea69,#f4e156,#f6d746,#f8cf3a,#fac62d,#fbbc21,#fcb216,#fca80d,#fb9d07,#fa9407,#f8890c,#f67e14,#f3761b,#ef6c23,#ea632a,#e45a31,#de5238,#d54a41,#cb4149,#c03a51,#b3325a,#a22b62,#8d2369,#741a6e,#550f6d,#310a5c,#09061f,#000004)"></i><i class="n" style="background:linear-gradient(#02010a,#120a32,#380962,#59106e,#741a6e,#8a226a,#9d2964,#ad305d,#ba3655,#c63d4d,#cf4446,#d84c3e,#df5337,#e55c30,#ea632a,#ef6c23,#f3761b,#f67e14,#f8890c,#fa9207,#fb9d07,#fca60c,#fcb014,#fbba1f,#fac42a,#f8cd37,#f6d543,#f4df53,#f2e661,#f1ed71,#f3f586,#f6fa96,#fcffa4,#fcffa4,#fcffa4,#fcffa4,#fcffa4,#fcffa4,#fcffa4,#fcffa4,#f4f88e,#f6d746,#fca50a,#ec6726,#c13a50,#8c2369,#5a116e,#310a5c,#120a32,#060419,#040314,#07051b,#08051d,#08051d,#060419,#030210,#02010a,#010005,#000004,#000004,#000004,#000004,#000004,#000004,#000004,#000004,#000004,#000004,#000004,#000004,#000004,#010106,#02020c,#040314,#060419,#08051d,#08051d,#060419,#040314,#09061f,#1b0c41,#400a67,#6c186e,#a02a63,#d44842,#f57d15,#fbb61a,#f3e35a,#f8fb9a,#fcffa4,#fcffa4,#fcffa4,#fcffa4,#fcffa4,#fcffa4,#f9fc9d,#f4f88e,#f1f179,#f2ea69,#f3e35a,#f5d949,#f8cf3a,#f9c72f,#fbbe23,#fcb418,#fca80d,#fc9f07,#fa9407,#f98b0b,#f68013,#f37819,#ef6e21,#eb6429,#e55c30,#de5238,#d74b3f,#cc4248,#c13a50,#b3325a,#a32c61,#8d2369,#751b6e,#550f6d,#310a5c,#09061f,#000004)"></i><i class="n" style="background:linear-gradient(#02010a,#120a32,#380962,#59106e,#741a6e,#8c2369,#9f2a63,#ae305c,#bc3754,#c73e4c,#d04545,#d84c3e,#df5337,#e55c30,#eb6429,#ef6e21,#f3761b,#f68013,#f8890c,#fa9407,#fb9d07,#fca80d,#fcb216,#fbbc21,#fac42a,#f8cd37,#f6d746,#f4df53,#f2e865,#f1ef75,#f3f586,#f6fa96,#fcffa4,#fcffa4,#fcffa4,#fcffa4,#fcffa4,#fcffa4,#fcffa4,#fcffa4,#f3f586,#f7d340,#fc9f07,#ea632a,#bf3952,#8a226a,#5a116e,#310a5c,#120a32,#060419,#040314,#07051b,#08051d,#08051d,#07051b,#040314,#02020e,#010108,#010005,#000004,#000004,#000004,#000004,#000004,#000004,#000004,#000004,#000004,#000004,#000004,#010106,#02010a,#030210,#050417,#07051b,#08051d,#08051d,#060419,#040314,#0a0722,#1c0c43,#400a67,#6c186e,#9d2964,#d04545,#f37819,#fcb216,#f4df53,#f5f992,#fcffa4,#fcffa4,#fcffa4,#fcffa4,#fcffa4,#fcffa4,#f9fc9d,#f4f88e,#f2f27d,#f2ea69,#f3e35a,#f5d949,#f7d13d,#f9c72f,#fbbe23,#fcb418,#fcaa0f,#fca108,#fb9606,#f98c0a,#f78212,#f37819,#ef6e21,#eb6628,#e55c30,#df5337,#d74b3f,#ce4347,#c33b4f,#b43359,#a32c61,#8f2469,#751b6e,#550f6d,#310a5c,#09061f,#000004)"></i><i class="n" style="background:linear-gradient(#02010a,#120a32,#380962,#5a116e,#751b6e,#8c2369,#9f2a63,#b0315b,#bc3754,#c73e4c,#d04545,#d94d3d,#e05536,#e65d2f,#eb6628,#f06f20,#f37819,#f78212,#f98b0b,#fb9606,#fc9f07,#fca80d,#fcb216,#fbbc21,#fac62d,#f8cf3a,#f6d746,#f4e156,#f2e865,#f1ef75,#f3f586,#f6fa96,#fcffa4,#fcffa4,#fcffa4,#fcffa4,#fcffa4,#fcffa4,#fcffa4,#fcffa4,#f2f27d,#f8cd37,#fb9906,#e8602d,#bc3754,#88226a,#59106e,#310a5c,#140b34,#07051b,#040314,#07051b,#09061f,#09061f,#08051d,#060419,#040312,#02020c,#010108,#010005,#000004,#000004,#000004,#000004,#000004,#000004,#000004,#000004,#000004,#010005,#010108,#02020e,#040314,#060419,#08051d,#09061f,#08051d,#050417,#040314,#0a0722,#1e0c45,#400a67,#6a176e,#9b2964,#ce4347,#f1731d,#fcac11,#f5db4c,#f3f68a,#fcffa4,#fcffa4,#fcffa4,#fcffa4,#fcffa4,#fcffa4,#f9fc9d,#f4f88e,#f2f27d,#f1ec6d,#f3e35a,#f5db4c,#f7d13d,#f9c932,#fac026,#fbb61a,#fcac11,#fca108,#fb9706,#f98c0a,#f78410,#f47918,#f06f20,#eb6628,#e65d2f,#e05536,#d84c3e,#cf4446,#c33b4f,#b63458,#a32c61,#8f2469,#751b6e,#57106e,#310a5c,#09061f,#000004)"></i><i class="n" style="background:linear-gradient(#02010a,#120a32,#380962,#5a116e,#751b6e,#8d2369,#a02a63,#b0315b,#bd3853,#c83f4b,#d24644,#da4e3c,#e15635,#e75e2e,#ec6726,#f06f20,#f47918,#f78212,#f98c0a,#fb9606,#fca108,#fcaa0f,#fcb418,#fbbe23,#fac62d,#f8cf3a,#f5d949,#f4e156,#f2e865,#f1f179,#f3f68a,#f8fb9a,#fcffa4,#fcffa4,#fcffa4,#fcffa4,#fcffa4,#fcffa4,#fcffa4,#fcffa4,#f1ef75,#f9c932,#fa9407,#e55c30,#b93556,#87216b,#59106e,#320a5e,#150b37,#07051b,#040314,#060419,#08051d,#09061f,#08051d,#07051b,#040314,#02020e,#02010a,#010106,#000004,#000004,#000004,#000004,#000004,#000004,#000004,#000004,#010005,#010106,#02020c,#030210,#050417,#07051b,#09061f,#09061f,#08051d,#050417,#040314,#0b0724,#1e0c45,#400a67,#6a176e,#9a2865,#cb4149,#f06f20,#fca80d,#f6d746,#f3f586,#fcffa4,#fcffa4,#fcffa4,#fcffa4,#fcffa4,#fcffa4,#f9fc9d,#f4f88e,#f2f27d,#f1ec6d,#f3e55d,#f5db4c,#f7d340,#f9c932,#fac026,#fbb61a,#fcac11,#fca309,#fb9706,#f98e09,#f78410,#f57b17,#f1711f,#ec6726,#e75e2e,#e15635,#d94d3d,#cf4446,#c43c4e,#b63458,#a52c60,#8f2469,#751b6e,#57106e,#310a5c,#09061f,#000004)"></i><i class="n" style="background:linear-gradient(#02010a,#120a32,#390963,#5a116e,#751b6e,#8d2369,#a02a63,#b0315b,#bd3853,#c83f4b,#d34743,#da4e3c,#e15635,#e75e2e,#ec6726,#f1711f,#f47918,#f78410,#f98c0a,#fb9706,#fca108,#fcaa0f,#fcb418,#fbbe23,#f9c72f,#f8cf3a,#f5d949,#f4e156,#f2ea69,#f1f179,#f3f68a,#f8fb9a,#fcffa4,#fcffa4,#fcffa4,#fcffa4,#fcffa4,#fcffa4,#fcffa4,#fcffa4,#f1ec6d,#fac42a,#f98e09,#e35933,#b73557,#85216b,#59106e,#320a5e,#150b37,#08051d,#040314,#060419,#08051d,#09061f,#09061f,#07051b,#050417,#030210,#02020c,#010108,#010005,#000004,#000004,#000004,#000004,#000004,#000004,#000004,#010005,#010108,#02020e,#040312,#060419,#08051d,#09061f,#09061f,#07051b,#050417,#040314,#0c0826,#1f0c48,#420a68,#6a176e,#982766,#ca404a,#ef6c23,#fca309,#f7d340,#f2f27d,#fcffa4,#fcffa4,#fcffa4,#fcffa4,#fcffa4,#fcffa4,#fafda1,#f5f992,#f2f482,#f1ec6d,#f3e55d,#f4dd4f,#f7d340,#f9c932,#fac228,#fbb81d,#fcae12,#fca309,#fb9906,#fa9008,#f8850f,#f57b17,#f1731d,#ed6925,#e8602d,#e15635,#d94d3d,#d04545,#c43c4e,#b73557,#a52c60,#902568,#751b6e,#57106e,#310a5c,#09061f,#000004)"></i><i class="n" style="background:linear-gradient(#02010a,#120a32,#390963,#5a116e,#751b6e,#8d2369,#a02a63,#b1325a,#bf3952,#ca404a,#d34743,#db503b,#e25734,#e8602d,#ed6925,#f1711f,#f57b17,#f8850f,#f98e09,#fb9706,#fca309,#fcac11,#fbb61a,#fac026,#f9c72f,#f7d13d,#f5d949,#f3e35a,#f2ea69,#f1f179,#f3f68a,#f8fb9a,#fcffa4,#fcffa4,#fcffa4,#fcffa4,#fcffa4,#fcffa4,#fcffa4,#f9fc9d,#f2e865,#fac026,#f98b0b,#e15635,#b43359,#84206b,#59106e,#320a5e,#160b39,#08051d,#040314,#060419,#08051d,#09061f,#09061f,#08051d,#060419,#040312,#02020e,#010108,#010005,#000004,#000004,#000004,#000004,#000004,#000004,#000004,#010106,#02010a,#030210,#040314,#060419,#08051d,#09061f,#09061f,#07051b,#040314,#050417,#0c0826,#1f0c48,#420a68,#6a176e,#972766,#c73e4c,#ed6925,#fc9f07,#f8cf3a,#f1ef75,#fcffa4,#fcffa4,#fcffa4,#fcffa4,#fcffa4,#fcffa4,#fafda1,#f5f992,#f2f482,#f1ed71,#f3e55d,#f4dd4f,#f6d543,#f9cb35,#fac228,#fbb81d,#fcae12,#fca50a,#fb9b06,#fa9008,#f8870e,#f57d15,#f1731d,#ed6925,#e8602d,#e25734,#da4e3c,#d04545,#c63d4d,#b73557,#a62d60,#902568,#771c6d,#57106e,#310a5c,#09061f,#000004)"></i><i class="n" style="background:linear-gradient(#02010a,#120a32,#390963,#5a116e,#771c6d,#8d2369,#a22b62,#b1325a,#bf3952,#cb4149,#d44842,#db503b,#e35933,#e9612b,#ed6925,#f1731d,#f57d15,#f8850f,#fa9008,#fb9906,#fca309,#fcac11,#fbb61a,#fac026,#f9c932,#f7d13d,#f5db4c,#f3e35a,#f2ea69,#f1f179,#f4f88e,#f8fb9a,#fcffa4,#fcffa4,#fcffa4,#fcffa4,#fcffa4,#fcffa4,#fcffa4,#f8fb9a,#f3e55d,#fbbc21,#f8870e,#df5337,#b3325a,#84206b,#59106e,#340a5f,#160b39,#09061f,#040314,#050417,#08051d,#09061f,#09061f,#08051d,#060419,#040314,#030210,#02010a,#010106,#000004,#000004,#000004,#000004,#000004,#000004,#000004,#010108,#02020c,#030210,#050417,#07051b,#09061f,#09061f,#08051d,#060419,#040314,#050417,#0d0829,#210c4a,#420a68,#69166e,#972766,#c63d4d,#eb6628,#fb9b06,#f9cb35,#f1ed71,#fafda1,#fcffa4,#fcffa4,#fcffa4,#fcffa4,#fcffa4,#fafda1,#f5f992,#f2f482,#f1ed71,#f2e661,#f4dd4f,#f6d543,#f9cb35,#fac42a,#fbba1f,#fcb014,#fca60c,#fb9b06,#fa9207,#f8870e,#f67e14,#f2741c,#ee6a24,#e9612b,#e25734,#db503b,#d24644,#c63d4d,#b73557,#a62d60,#902568,#771c6d,#57106e,#310a5c,#09061f,#000004)"></i><i class="n" style="background:linear-gradient(#02010a,#120a32,#390963,#5a116e,#771c6d,#8f2469,#a22b62,#b3325a,#c03a51,#cb4149,#d44842,#dd513a,#e35933,#e9612b,#ee6a24,#f2741c,#f57d15,#f8870e,#fa9008,#fb9906,#fca50a,#fcae12,#fbb81d,#fac026,#f9c932,#f7d340,#f5db4c,#f3e35a,#f1ec6d,#f2f27d,#f4f88e,#f9fc9d,#fcffa4,#fcffa4,#fcffa4,#fcffa4,#fcffa4,#fcffa4,#fcffa4,#f6fa96,#f3e35a,#fbb81d,#f78410,#dd513a,#b1325a,#82206c,#59106e,#340a5f,#180c3c,#09061f,#040314,#050417,#07051b,#09061f,#09061f,#09061f,#07051b,#050417,#030210,#02020c,#010106,#000004,#000004,#000004,#000004,#000004,#000004,#010005,#010108,#02020e,#040312,#060419,#08051d,#09061f,#09061f,#08051d,#060419,#040314,#050417,#0e092b,#230c4c,#440a68,#69166e,#952667,#c43c4e,#ea632a,#fb9706,#f9c72f,#f2ea69,#f8fb9a,#fcffa4,#fcffa4,#fcffa4,#fcffa4,#fcffa4,#fafda1,#f5f992,#f2f482,#f1ed71,#f2e661,#f4df53,#f6d543,#f8cd37,#fac42a,#fbba1f,#fcb014,#fca60c,#fb9d07,#fa9207,#f8890c,#f67e14,#f2741c,#ef6c23,#e9612b,#e35933,#db503b,#d24644,#c73e4c,#b93556,#a62d60,#902568,#771c6d,#57106e,#310a5c,#09061f,#000004)"></i><i class="n" style="background:linear-gradient(#02010a,#120a32,#390963,#5a116e,#771c6d,#8f2469,#a22b62,#b3325a,#c03a51,#cc4248,#d54a41,#de5238,#e45a31,#ea632a,#ef6c23,#f2741c,#f67e14,#f8870e,#fa9207,#fb9b06,#fca50a,#fcae12,#fbb81d,#fac228,#f9c932,#f7d340,#f5db4c,#f3e55d,#f1ec6d,#f2f27d,#f4f88e,#f9fc9d,#fcffa4,#fcffa4,#fcffa4,#fcffa4,#fcffa4,#fcffa4,#fcffa4,#f4f88e,#f4df53,#fcb418,#f68013,#db503b,#b0315b,#82206c,#59106e,#340a5f,#180c3c,#09061f,#040314,#040314,#07051b,#09061f,#0a0722,#09061f,#08051d,#060419,#040312,#02020e,#010108,#000004,#000004,#000004,#000004,#000004,#000004,#010005,#02010a,#02020e,#040314,#060419,#08051d,#09061f,#09061f,#08051d,#060419,#040312,#050417,#0e092b,#230c4c,#440a68,#69166e,#952667,#c33b4f,#e9612b,#fa9407,#fac42a,#f2e865,#f6fa96,#fcffa4,#fcffa4,#fcffa4,#fcffa4,#fcffa4,#fafda1,#f6fa96,#f3f586,#f1ef75,#f2e661,#f4df53,#f6d746,#f8cd37,#fac42a,#fbbc21,#fcb216,#fca80d,#fb9d07,#fa9407,#f8890c,#f68013,#f3761b,#ef6c23,#ea632a,#e45a31,#dd513a,#d34743,#c73e4c,#b93556,#a82e5f,#922568,#771c6d,#57106e,#310a5c,#09061f,#000004)"></i><i class="n" style="background:linear-gradient(#02010a,#120a32,#390963,#5a116e,#771c6d,#8f2469,#a32c61,#b3325a,#c13a50,#cc4248,#d54a41,#de5238,#e45a31,#ea632a,#ef6c23,#f3761b,#f67e14,#f8890c,#fa9207,#fb9b06,#fca60c,#fcb014,#fbba1f,#fac228,#f9cb35,#f7d340,#f4dd4f,#f3e55d,#f1ec6d,#f2f27d,#f4f88e,#f9fc9d,#fcffa4,#fcffa4,#fcffa4,#fcffa4,#fcffa4,#fcffa4,#fcffa4,#f3f68a,#f5db4c,#fcb014,#f57d15,#d94d3d,#ae305c,#801f6c,#59106e,#360961,#190c3e,#09061f,#040312,#040314,#07051b,#09061f,#0a0722,#0a0722,#08051d,#07051b,#040314,#02020e,#010108,#000004,#000004,#000004,#000004,#000004,#000004,#010005,#02010a,#030210,#050417,#07051b,#09061f,#0a0722,#09061f,#08051d,#050417,#040312,#050417,#10092d,#240c4f,#440a68,#69166e,#932667,#c13a50,#e75e2e,#fa9008,#fac228,#f3e55d,#f5f992,#fcffa4,#fcffa4,#fcffa4,#fcffa4,#fcffa4,#fafda1,#f6fa96,#f3f586,#f1ef75,#f2e865,#f4df53,#f6d746,#f8cd37,#fac62d,#fbbc21,#fcb216,#fca80d,#fc9f07,#fa9407,#f98b0b,#f68013,#f37819,#ef6e21,#eb6429,#e45a31,#dd513a,#d34743,#c83f4b,#b93556,#a82e5f,#922568,#771c6d,#57106e,#310a5c,#09061f,#000004)"></i><i class="n" style="background:linear-gradient(#02010a,#120a32,#390963,#5a116e,#771c6d,#8f2469,#a32c61,#b43359,#c13a50,#ce4347,#d74b3f,#df5337,#e55c30,#eb6429,#ef6e21,#f3761b,#f68013,#f8890c,#fa9407,#fb9d07,#fca60c,#fcb014,#fbba1f,#fac42a,#f9cb35,#f6d543,#f4dd4f,#f3e55d,#f1ec6d,#f2f482,#f4f88e,#f9fc9d,#fcffa4,#fcffa4,#fcffa4,#fcffa4,#fcffa4,#fcffa4,#fcffa4,#f2f482,#f6d746,#fcac11,#f47918,#d84c3e,#ad305d,#801f6c,#59106e,#360961,#190c3e,#0a0722,#040312,#040312,#07051b,#09061f,#0a0722,#0a0722,#09061f,#07051b,#050417,#030210,#010108,#000004,#000004,#000004,#000004,#000004,#000004,#010005,#02010a,#040312,#060419,#08051d,#0a0722,#0a0722,#0a0722,#08051d,#050417,#030210,#050417,#10092d,#240c4f,#450a69,#6a176e,#932667,#c03a51,#e65d2f,#f98e09,#fbbe23,#f3e35a,#f4f88e,#fcffa4,#fcffa4,#fcffa4,#fcffa4,#fcffa4,#fafda1,#f6fa96,#f3f586,#f1ef75,#f2e865,#f4e156,#f6d746,#f8cf3a,#fac62d,#fbbc21,#fcb418,#fcaa0f,#fc9f07,#fb9606,#f98b0b,#f78212,#f37819,#ef6e21,#eb6429,#e55c30,#de5238,#d44842,#c83f4b,#ba3655,#a82e5f,#922568,#771c6d,#57106e,#310a5c,#09061f,#000004)"></i><i class="n" style="background:linear-gradient(#02010a,#120a32,#390963,#5a116e,#771c6d,#8f2469,#a32c61,#b43359,#c33b4f,#ce4347,#d74b3f,#df5337,#e55c30,#eb6429,#ef6e21,#f37819,#f68013,#f98b0b,#fa9407,#fb9d07,#fca80d,#fcb216,#fbba1f,#fac42a,#f8cd37,#f6d543,#f4dd4f,#f2e661,#f1ed71,#f2f482,#f5f992,#f9fc9d,#fcffa4,#fcffa4,#fcffa4,#fcffa4,#fcffa4,#fcffa4,#fcffa4,#f2f27d,#f6d543,#fcaa0f,#f3761b,#d74b3f,#ad305d,#801f6c,#59106e,#360961,#1b0c41,#0a0722,#040312,#040312,#060419,#09061f,#0a0722,#0b0724,#0a0722,#08051d,#050417,#030210,#02010a,#000004,#000004,#000004,#000004,#000004,#000004,#010005,#02020c,#040312,#060419,#09061f,#0a0722,#0a0722,#0a0722,#08051d,#050417,#030210,#050417,#10092d,#260c51,#450a69,#6a176e,#932667,#bf3952,#e55c30,#f98b0b,#fbbc21,#f4e156,#f3f68a,#fcffa4,#fcffa4,#fcffa4,#fcffa4,#fcffa4,#fafda1,#f6fa96,#f3f586,#f1ef75,#f2e865,#f4e156,#f5d949,#f8cf3a,#fac62d,#fbbe23,#fcb418,#fcaa0f,#fca108,#fb9606,#f98c0a,#f78212,#f47918,#f06f20,#eb6628,#e55c30,#de5238,#d44842,#c83f4b,#ba3655,#a82e5f,#922568,#771c6d,#57106e,#310a5c,#09061f,#000004)"></i><i class="n" style="background:linear-gradient(#02010a,#120a32,#390963,#5a116e,#771c6d,#902568,#a32c61,#b43359,#c33b4f,#ce4347,#d84c3e,#e05536,#e65d2f,#eb6628,#f06f20,#f37819,#f78212,#f98b0b,#fa9407,#fc9f07,#fca80d,#fcb216,#fbbc21,#fac42a,#f8cd37,#f6d543,#f4df53,#f2e661,#f1ed71,#f2f482,#f5f992,#f9fc9d,#fcffa4,#fcffa4,#fcffa4,#fcffa4,#fcffa4,#fcffa4,#fcffa4,#f1f179,#f7d13d,#fca60c,#f2741c,#d54a41,#ab2f5e,#801f6c,#59106e,#380962,#1b0c41,#0a0722,#040312,#040312,#060419,#09061f,#0b0724,#0b0724,#0a0722,#09061f,#060419,#040312,#02010a,#000004,#000004,#000004,#000004,#000004,#000004,#010005,#02020c,#040314,#07051b,#09061f,#0b0724,#0b0724,#0a0722,#08051d,#040314,#030210,#050417,#110a30,#260c51,#470b6a,#6a176e,#922568,#bf3952,#e45a31,#f8890c,#fbb81d,#f4dd4f,#f3f586,#fcffa4,#fcffa4,#fcffa4,#fcffa4,#fcffa4,#fcffa4,#f6fa96,#f3f586,#f1ef75,#f2e865,#f4e156,#f5d949,#f8cf3a,#f9c72f,#fbbe23,#fcb418,#fcaa0f,#fca108,#fb9706,#f98c0a,#f78410,#f47918,#f06f20,#eb6628,#e65d2f,#df5337,#d54a41,#ca404a,#ba3655,#a82e5f,#922568,#771c6d,#57106e,#310a5c,#09061f,#000004)"></i><i style="background:linear-gradient(#02010a,#120a32,#380962,#5a116e,#771c6d,#902568,#a52c60,#b63458,#c33b4f,#cf4446,#d84c3e,#e05536,#e75e2e,#ec6726,#f06f20,#f47918,#f78212,#f98c0a,#fb9606,#fc9f07,#fca80d,#fcb216,#fbbc21,#fac62d,#f8cd37,#f6d746,#f4df53,#f2e661,#f1ed71,#f2f482,#f5f992,#fafda1,#fcffa4,#fcffa4,#fcffa4,#fcffa4,#fcffa4,#fcffa4,#f9fc9d,#f1ed71,#f8cd37,#fca309,#f1711f,#d34743,#a92e5e,#7f1e6c,#59106e,#380962,#1c0c43,#0b0724,#040312,#030210,#060419,#09061f,#0b0724,#0c0826,#0b0724,#0a0722,#07051b,#040314,#02010a,#000004,#000004,#000004,#000004,#000004,#000004,#010005,#02020e,#050417,#08051d,#0a0722,#0c0826,#0c0826,#0a0722,#08051d,#040314,#02020e,#060419,#110a30,#280b53,#470b6a,#6a176e,#922568,#bd3853,#e25734,#f8850f,#fcb418,#f5d949,#f2f27d,#fafda1,#fcffa4,#fcffa4,#fcffa4,#fcffa4,#fcffa4,#f6fa96,#f3f68a,#f1f179,#f2ea69,#f4e156,#f5d949,#f7d13d,#f9c72f,#fac026,#fbb61a,#fcac11,#fca309,#fb9706,#f98e09,#f78410,#f57b17,#f1711f,#ec6726,#e65d2f,#df5337,#d54a41,#ca404a,#bc3754,#a92e5e,#922568,#771c6d,#57106e,#2f0a5b,#09061f,#000004)"></i><i style="background:linear-gradient(#02010a,#120a32,#380962,#5a116e,#771c6d,#902568,#a52c60,#b63458,#c43c4e,#d04545,#d94d3d,#e15635,#e75e2e,#ec6726,#f1711f,#f57b17,#f78410,#f98e09,#fb9706,#fca108,#fcaa0f,#fcb418,#fbbe23,#fac62d,#f8cf3a,#f6d746,#f4df53,#f2e865,#f1ef75,#f2f482,#f5f992,#fafda1,#fcffa4,#fcffa4,#fcffa4,#fcffa4,#fcffa4,#fcffa4,#f8fb9a,#f2ea69,#f9c932,#fb9d07,#ef6e21,#d24644,#a82e5f,#7f1e6c,#5a116e,#390963,#1c0c43,#0b0724,#030210,#02020e,#060419,#0a0722,#0c0826,#0d0829,#0c0826,#0b0724,#08051d,#040314,#02020c,#000004,#000004,#000004,#000004,#000004,#000004,#010005,#02020e,#060419,#09061f,#0b0724,#0d0829,#0c0826,#0b0724,#08051d,#040312,#02020c,#060419,#120a32,#290b55,#490b6a,#6c186e,#922568,#bc3754,#e15635,#f78212,#fcb014,#f6d543,#f1ef75,#f9fc9d,#fcffa4,#fcffa4,#fcffa4,#fcffa4,#fcffa4,#f6fa96,#f3f68a,#f1f179,#f2ea69,#f3e35a,#f5db4c,#f7d13d,#f9c932,#fac026,#fbb61a,#fcae12,#fca309,#fb9906,#fa9008,#f8850f,#f57d15,#f1731d,#ed6925,#e75e2e,#e05536,#d74b3f,#cb4149,#bc3754,#a92e5e,#922568,#771c6d,#57106e,#2f0a5b,#09061f,#000004)"></i><i style="background:linear-gradient(#02010a,#120a32,#380962,#5a116e,#771c6d,#902568,#a52c60,#b73557,#c63d4d,#d04545,#da4e3c,#e25734,#e8602d,#ed6925,#f1731d,#f57d15,#f8850f,#f98e09,#fb9906,#fca309,#fcac11,#fbb61a,#fbbe23,#f9c72f,#f8cf3a,#f5d949,#f4e156,#f2e865,#f1ef75,#f3f586,#f5f992,#fafda1,#fcffa4,#fcffa4,#fcffa4,#fcffa4,#fcffa4,#fcffa4,#f5f992,#f3e55d,#fac42a,#fb9706,#ee6a24,#cf4446,#a82e5f,#7f1e6c,#5a116e,#3b0964,#1e0c45,#0c0826,#030210,#02020e,#060419,#0a0722,#0d0829,#0e092b,#0d0829,#0c0826,#09061f,#050417,#02020c,#000004,#000004,#000004,#000004,#000004,#000004,#010005,#030210,#07051b,#0a0722,#0c0826,#0e092b,#0d0829,#0b0724,#08051d,#040312,#02020c,#060419,#140b34,#2b0b57,#4a0c6b,#6c186e,#922568,#ba3655,#df5337,#f67e14,#fcac11,#f7d13d,#f1ed71,#f6fa96,#fcffa4,#fcffa4,#fcffa4,#fcffa4,#fcffa4,#f6fa96,#f3f68a,#f1f179,#f2ea69,#f3e35a,#f5db4c,#f7d340,#f9c932,#fac228,#fbb81d,#fcae12,#fca50a,#fb9b06,#fa9008,#f8870e,#f57d15,#f1731d,#ed6925,#e8602d,#e15635,#d84c3e,#cb4149,#bc3754,#a92e5e,#922568,#771c6d,#550f6d,#2f0a5b,#09061f,#000004)"></i><i style="background:linear-gradient(#02010a,#110a30,#380962,#5a116e,#771c6d,#902568,#a52c60,#b73557,#c63d4d,#d24644,#db503b,#e35933,#e9612b,#ee6a24,#f2741c,#f57d15,#f8870e,#fa9008,#fb9906,#fca309,#fcac11,#fbb61a,#fac026,#f9c72f,#f7d13d,#f5d949,#f4e156,#f2e865,#f1ef75,#f3f586,#f6fa96,#fafda1,#fcffa4,#fcffa4,#fcffa4,#fcffa4,#fcffa4,#fcffa4,#f3f68a,#f4e156,#fac026,#fa9407,#ec6726,#ce4347,#a62d60,#801f6c,#5c126e,#3b0964,#1f0c48,#0c0826,#030210,#02020c,#060419,#0a0722,#0d0829,#0e092b,#0e092b,#0d0829,#0a0722,#060419,#02020c,#000004,#000004,#000004,#000004,#000004,#000004,#010005,#030210,#07051b,#0b0724,#0d0829,#0e092b,#0e092b,#0c0826,#08051d,#040312,#02010a,#07051b,#150b37,#2d0b59,#4c0c6b,#6d186e,#932667,#ba3655,#de5238,#f57b17,#fca80d,#f8cd37,#f2ea69,#f5f992,#fcffa4,#fcffa4,#fcffa4,#fcffa4,#fafda1,#f6fa96,#f3f68a,#f1f179,#f2ea69,#f3e35a,#f5db4c,#f7d340,#f9cb35,#fac228,#fbb81d,#fcb014,#fca60c,#fb9b06,#fa9207,#f8890c,#f67e14,#f2741c,#ee6a24,#e8602d,#e15635,#d84c3e,#cc4248,#bd3853,#a92e5e,#922568,#771c6d,#550f6d,#2f0a5b,#09061f,#000004)"></i><i style="background:linear-gradient(#02010a,#110a30,#380962,#59106e,#771c6d,#902568,#a52c60,#b73557,#c63d4d,#d24644,#db503b,#e35933,#ea632a,#ef6c23,#f2741c,#f67e14,#f8870e,#fa9008,#fb9b06,#fca50a,#fcae12,#fbb61a,#fac026,#f9c72f,#f7d13d,#f5d949,#f4e156,#f2e865,#f1ef75,#f3f586,#f6fa96,#fafda1,#fcffa4,#fcffa4,#fcffa4,#fcffa4,#fcffa4,#fcffa4,#f2f482,#f4dd4f,#fbbc21,#fa9207,#eb6628,#ce4347,#a62d60,#801f6c,#5d126e,#3d0965,#210c4a,#0d0829,#030210,#02020c,#060419,#0a0722,#0e092b,#10092d,#10092d,#0e092b,#0b0724,#060419,#02020e,#000004,#000004,#000004,#000004,#000004,#000004,#010106,#040312,#08051d,#0c0826,#0e092b,#10092d,#0e092b,#0c0826,#08051d,#030210,#02010a,#07051b,#160b39,#2f0a5b,#4d0d6c,#6f196e,#932667,#ba3655,#de5238,#f47918,#fca50a,#f9c932,#f2e661,#f3f68a,#fafda1,#fcffa4,#fcffa4,#fcffa4,#fafda1,#f6fa96,#f3f68a,#f1f179,#f1ec6d,#f3e55d,#f5db4c,#f7d340,#f9cb35,#fac228,#fbba1f,#fcb014,#fca60c,#fb9d07,#fa9407,#f8890c,#f68013,#f3761b,#ef6c23,#e9612b,#e25734,#d84c3e,#cc4248,#bd3853,#a92e5e,#922568,#751b6e,#550f6d,#2f0a5b,#09061f,#000004)"></i><i style="background:linear-gradient(#02010a,#110a30,#360961,#59106e,#771c6d,#902568,#a52c60,#b73557,#c73e4c,#d34743,#dd513a,#e45a31,#ea632a,#ef6c23,#f3761b,#f67e14,#f8890c,#fa9207,#fb9b06,#fca50a,#fcae12,#fbb81d,#fac026,#f9c932,#f7d13d,#f5d949,#f4e156,#f2e865,#f1ef75,#f3f586,#f6fa96,#fafda1,#fcffa4,#fcffa4,#fcffa4,#fcffa4,#fcffa4,#f9fc9d,#f2f27d,#f5db4c,#fbb81d,#f98e09,#eb6429,#cc4248,#a62d60,#801f6c,#5d126e,#3e0966,#210c4a,#0d0829,#030210,#02010a,#050417,#0b0724,#0e092b,#110a30,#110a30,#0e092b,#0b0724,#07051b,#02020e,#000004,#000004,#000004,#000004,#000004,#000004,#010106,#040312,#09061f,#0d0829,#10092d,#110a30,#10092d,#0c0826,#08051d,#030210,#02010a,#08051d,#180c3c,#310a5c,#4f0d6c,#71196e,#932667,#ba3655,#dd513a,#f37819,#fca309,#f9c72f,#f3e55d,#f3f586,#f9fc9d,#fcffa4,#fcffa4,#fcffa4,#fafda1,#f6fa96,#f3f68a,#f1f179,#f1ec6d,#f3e55d,#f4dd4f,#f7d340,#f9cb35,#fac42a,#fbba1f,#fcb014,#fca60c,#fb9d07,#fa9407,#f98b0b,#f68013,#f3761b,#ef6c23,#e9612b,#e25734,#d94d3d,#cc4248,#bd3853,#a92e5e,#922568,#751b6e,#540f6d,#2d0b59,#08051d,#000004)"></i><i style="background:linear-gradient(#02010a,#110a30,#360961,#59106e,#751b6e,#8f2469,#a52c60,#b73557,#c73e4c,#d34743,#dd513a,#e45a31,#eb6429,#ef6e21,#f3761b,#f68013,#f8890c,#fa9207,#fb9d07,#fca60c,#fcae12,#fbb81d,#fac228,#f9c932,#f7d13d,#f5db4c,#f3e35a,#f2ea69,#f1ef75,#f3f586,#f6fa96,#fafda1,#fcffa4,#fcffa4,#fcffa4,#fcffa4,#fcffa4,#f8fb9a,#f1ef75,#f6d746,#fbb61a,#f98c0a,#ea632a,#cc4248,#a62d60,#82206c,#5f136e,#400a67,#230c4c,#0e092b,#040312,#02010a,#050417,#0b0724,#0e092b,#110a30,#110a30,#10092d,#0c0826,#07051b,#02020e,#000004,#000004,#000004,#000004,#000004,#000004,#010106,#040312,#09061f,#0d0829,#110a30,#110a30,#10092d,#0c0826,#08051d,#02020e,#02010a,#09061f,#190c3e,#320a5e,#510e6c,#721a6e,#952667,#ba3655,#dd513a,#f3761b,#fc9f07,#fac42a,#f4e156,#f2f482,#f8fb9a,#fcffa4,#fcffa4,#fcffa4,#fafda1,#f6fa96,#f3f68a,#f1f179,#f1ec6d,#f3e55d,#f4dd4f,#f6d543,#f9cb35,#fac42a,#fbba1f,#fcb216,#fca80d,#fc9f07,#fa9407,#f98b0b,#f78212,#f37819,#ef6e21,#ea632a,#e25734,#d94d3d,#cc4248,#bd3853,#a92e5e,#902568,#741a6e,#540f6d,#2d0b59,#08051d,#000004)"></i><i style="background:linear-gradient(#02010a,#110a30,#360961,#57106e,#751b6e,#8f2469,#a52c60,#b73557,#c73e4c,#d34743,#dd513a,#e45a31,#eb6429,#ef6e21,#f37819,#f68013,#f98b0b,#fa9407,#fb9d07,#fca60c,#fcb014,#fbb81d,#fac228,#f9c932,#f7d13d,#f5db4c,#f3e35a,#f2ea69,#f1ef75,#f3f586,#f5f992,#fafda1,#fcffa4,#fcffa4,#fcffa4,#fcffa4,#fcffa4,#f6fa96,#f1ed71,#f6d543,#fcb216,#f98b0b,#e9612b,#cc4248,#a82e5f,#82206c,#61136e,#420a68,#240c4f,#10092d,#040312,#010108,#050417,#0b0724,#10092d,#120a32,#120a32,#110a30,#0c0826,#08051d,#02020e,#000004,#000004,#000004,#000004,#000004,#000004,#010106,#040314,#0a0722,#0e092b,#110a30,#120a32,#110a30,#0d0829,#08051d,#02020e,#02010a,#09061f,#1b0c41,#340a5f,#520e6d,#741a6e,#972766,#bc3754,#dd513a,#f3761b,#fb9d07,#fac228,#f4df53,#f2f27d,#f6fa96,#fcffa4,#fcffa4,#fcffa4,#f9fc9d,#f6fa96,#f3f68a,#f1f179,#f1ec6d,#f3e55d,#f4dd4f,#f6d543,#f9cb35,#fac42a,#fbbc21,#fcb216,#fca80d,#fc9f07,#fb9606,#f98b0b,#f78212,#f37819,#ef6e21,#ea632a,#e35933,#d94d3d,#cc4248,#bd3853,#a82e5f,#902568,#741a6e,#520e6d,#2b0b57,#08051d,#000004)"></i><i style="background:linear-gradient(#02010a,#10092d,#340a5f,#57106e,#741a6e,#8f2469,#a52c60,#b73557,#c73e4c,#d34743,#dd513a,#e55c30,#eb6429,#ef6e21,#f37819,#f68013,#f98b0b,#fa9407,#fb9d07,#fca60c,#fcb014,#fbb81d,#fac228,#f9c932,#f7d13d,#f5db4c,#f3e35a,#f2e865,#f1ef75,#f3f586,#f5f992,#f9fc9d,#fcffa4,#fcffa4,#fcffa4,#fcffa4,#fcffa4,#f5f992,#f2ea69,#f7d13d,#fcb014,#f8890c,#e9612b,#cc4248,#a82e5f,#84206b,#62146e,#440a68,#260c51,#110a30,#040314,#010108,#050417,#0b0724,#10092d,#120a32,#120a32,#110a30,#0d0829,#08051d,#030210,#000004,#000004,#000004,#000004,#000004,#000004,#010106,#040314,#0a0722,#0e092b,#120a32,#120a32,#110a30,#0d0829,#08051d,#02020c,#02010a,#0a0722,#1c0c43,#360961,#540f6d,#751b6e,#982766,#bc3754,#dd513a,#f2741c,#fb9d07,#fac026,#f4dd4f,#f1f179,#f5f992,#fafda1,#fcffa4,#fcffa4,#f9fc9d,#f6fa96,#f3f68a,#f1f179,#f1ec6d,#f3e55d,#f4dd4f,#f6d543,#f8cd37,#fac42a,#fbbc21,#fcb216,#fca80d,#fc9f07,#fb9606,#f98c0a,#f78212,#f37819,#ef6e21,#ea632a,#e35933,#d94d3d,#cc4248,#bc3754,#a82e5f,#8f2469,#721a6e,#520e6d,#2b0b57,#08051d,#000004)"></i><i style="background:linear-gradient(#02010a,#10092d,#340a5f,#550f6d,#741a6e,#8d2369,#a32c61,#b73557,#c73e4c,#d34743,#dd513a,#e55c30,#eb6429,#ef6e21,#f37819,#f78212,#f98b0b,#fa9407,#fb9d07,#fca60c,#fcb014,#fbb81d,#fac228,#f9c932,#f7d13d,#f5d949,#f4e156,#f2e865,#f1ef75,#f2f482,#f5f992,#f9fc9d,#fcffa4,#fcffa4,#fcffa4,#fcffa4,#fafda1,#f3f68a,#f2e865,#f8cf3a,#fcae12,#f8870e,#e8602d,#cc4248,#a92e5e,#85216b,#64156e,#450a69,#280b53,#110a30,#040314,#010108,#040314,#0b0724,#10092d,#120a32,#140b34,#120a32,#0d0829,#08051d,#030210,#000004,#000004,#000004,#000004,#000004,#000004,#010106,#040314,#0a0722,#10092d,#120a32,#140b34,#110a30,#0d0829,#07051b,#02020c,#02020c,#0b0724,#1e0c45,#390963,#57106e,#771c6d,#9a2865,#bd3853,#dd513a,#f2741c,#fb9b06,#fbbe23,#f5db4c,#f1ef75,#f5f992,#f9fc9d,#fcffa4,#fafda1,#f9fc9d,#f5f992,#f3f586,#f1f179,#f1ec6d,#f3e55d,#f4dd4f,#f6d543,#f8cd37,#fac42a,#fbbc21,#fcb216,#fcaa0f,#fca108,#fb9606,#f98c0a,#f78212,#f47918,#ef6e21,#ea632a,#e35933,#d94d3d,#cc4248,#bc3754,#a62d60,#8f2469,#721a6e,#510e6c,#2b0b57,#08051d,#000004)"></i><i style="background:linear-gradient(#02010a,#10092d,#320a5e,#550f6d,#721a6e,#8d2369,#a32c61,#b63458,#c63d4d,#d34743,#dd513a,#e55c30,#eb6429,#ef6e21,#f37819,#f78212,#f98b0b,#fa9407,#fb9d07,#fca60c,#fcae12,#fbb81d,#fac026,#f9c932,#f7d13d,#f5d949,#f4e156,#f2e865,#f1ed71,#f2f482,#f4f88e,#f8fb9a,#fcffa4,#fcffa4,#fcffa4,#fcffa4,#f9fc9d,#f3f586,#f2e661,#f9cb35,#fcac11,#f8850f,#e8602d,#cc4248,#ab2f5e,#87216b,#65156e,#470b6a,#290b55,#120a32,#050417,#010106,#040314,#0b0724,#10092d,#140b34,#140b34,#120a32,#0e092b,#09061f,#030210,#010005,#000004,#000004,#000004,#000004,#000004,#010106,#040314,#0b0724,#10092d,#120a32,#140b34,#110a30,#0d0829,#07051b,#02010a,#02020e,#0c0826,#1f0c48,#3b0964,#59106e,#781c6d,#9b2964,#bf3952,#de5238,#f2741c,#fb9906,#fbbe23,#f5d949,#f1ed71,#f4f88e,#f9fc9d,#fafda1,#fafda1,#f8fb9a,#f5f992,#f3f586,#f1f179,#f2ea69,#f3e55d,#f4dd4f,#f6d543,#f8cd37,#fac42a,#fbbc21,#fcb216,#fcaa0f,#fca108,#fb9706,#f98c0a,#f78410,#f47918,#ef6e21,#eb6429,#e35933,#d94d3d,#cc4248,#bc3754,#a62d60,#8d2369,#71196e,#510e6c,#290b55,#08051d,#000004)"></i><i style="background:linear-gradient(#02010a,#10092d,#320a5e,#540f6d,#71196e,#8c2369,#a22b62,#b63458,#c63d4d,#d34743,#dd513a,#e55c30,#eb6429,#ef6e21,#f37819,#f78212,#f98b0b,#fa9407,#fb9d07,#fca60c,#fcae12,#fbb81d,#fac026,#f9c72f,#f8cf3a,#f5d949,#f4df53,#f2e661,#f1ed71,#f2f27d,#f4f88e,#f6fa96,#fafda1,#fcffa4,#fcffa4,#fcffa4,#f8fb9a,#f2f482,#f3e35a,#f9c932,#fcaa0f,#f78410,#e8602d,#ce4347,#ab2f5e,#88226a,#67166e,#490b6a,#2b0b57,#140b34,#060419,#010108,#040314,#0a0722,#10092d,#140b34,#150b37,#120a32,#0e092b,#09061f,#030210,#010005,#000004,#000004,#000004,#000004,#000004,#010106,#050417,#0b0724,#10092d,#140b34,#140b34,#110a30,#0c0826,#07051b,#02010a,#02020e,#0d0829,#210c4a,#3d0965,#5c126e,#7c1d6d,#9d2964,#c03a51,#de5238,#f2741c,#fb9906,#fbbc21,#f6d746,#f1ec6d,#f3f68a,#f8fb9a,#fafda1,#f9fc9d,#f8fb9a,#f5f992,#f3f586,#f1f179,#f2ea69,#f3e55d,#f4dd4f,#f6d543,#f8cd37,#fac42a,#fbbc21,#fcb216,#fcaa0f,#fca108,#fb9706,#f98c0a,#f78410,#f47918,#f06f20,#eb6429,#e35933,#d94d3d,#cb4149,#ba3655,#a52c60,#8c2369,#6f196e,#4f0d6c,#290b55,#07051b,#000004)"></i><i style="background:linear-gradient(#02010a,#0e092b,#310a5c,#520e6d,#71196e,#8a226a,#a22b62,#b43359,#c63d4d,#d24644,#dd513a,#e45a31,#eb6429,#ef6e21,#f37819,#f68013,#f98b0b,#fa9407,#fb9d07,#fca50a,#fcae12,#fbb61a,#fac026,#f9c72f,#f8cf3a,#f6d746,#f4df53,#f2e661,#f1ec6d,#f2f27d,#f3f68a,#f6fa96,#f9fc9d,#fcffa4,#fcffa4,#fafda1,#f5f992,#f1f179,#f4e156,#f9c72f,#fca80d,#f78410,#e8602d,#ce4347,#ad305d,#8a226a,#6a176e,#4c0c6b,#2f0a5b,#160b39,#07051b,#010108,#040312,#0a0722,#10092d,#140b34,#150b37,#140b34,#10092d,#09061f,#030210,#010005,#000004,#000004,#000004,#000004,#000004,#010106,#050417,#0b0724,#110a30,#140b34,#140b34,#110a30,#0c0826,#060419,#010108,#030210,#0e092b,#240c4f,#400a67,#5d126e,#7d1e6d,#9f2a63,#c13a50,#df5337,#f2741c,#fb9906,#fbbc21,#f6d746,#f2ea69,#f3f586,#f6fa96,#f9fc9d,#f9fc9d,#f8fb9a,#f4f88e,#f3f586,#f1f179,#f2ea69,#f3e35a,#f4dd4f,#f6d543,#f8cd37,#fac42a,#fbbc21,#fcb216,#fcaa0f,#fca108,#fb9706,#f98c0a,#f78410,#f47918,#ef6e21,#ea632a,#e25734,#d84c3e,#cb4149,#b93556,#a52c60,#8c2369,#6d186e,#4d0d6c,#280b53,#07051b,#000004)"></i><i style="background:linear-gradient(#02010a,#0e092b,#310a5c,#520e6d,#6f196e,#8a226a,#a02a63,#b43359,#c43c4e,#d24644,#dd513a,#e45a31,#eb6429,#ef6e21,#f37819,#f68013,#f8890c,#fa9207,#fb9b06,#fca50a,#fcae12,#fbb61a,#fbbe23,#f9c72f,#f8cf3a,#f6d746,#f4df53,#f3e55d,#f1ec6d,#f1f179,#f3f586,#f5f992,#f8fb9a,#fafda1,#fafda1,#f9fc9d,#f4f88e,#f1ef75,#f4df53,#fac62d,#fca60c,#f78410,#e8602d,#cf4446,#ae305c,#8c2369,#6c186e,#4d0d6c,#310a5c,#180c3c,#08051d,#010108,#040312,#0a0722,#10092d,#140b34,#150b37,#140b34,#10092d,#0a0722,#030210,#010005,#000004,#000004,#000004,#000004,#000004,#010106,#050417,#0c0826,#110a30,#140b34,#140b34,#110a30,#0c0826,#060419,#010108,#040312,#110a30,#260c51,#420a68,#61136e,#7f1e6c,#a22b62,#c33b4f,#df5337,#f3761b,#fb9906,#fbba1f,#f6d543,#f2e865,#f2f482,#f6fa96,#f8fb9a,#f8fb9a,#f6fa96,#f4f88e,#f2f482,#f1ef75,#f2ea69,#f3e35a,#f4dd4f,#f6d543,#f9cb35,#fac42a,#fbbc21,#fcb216,#fcaa0f,#fca108,#fb9706,#f98c0a,#f78410,#f47918,#ef6e21,#ea632a,#e25734,#d84c3e,#ca404a,#b93556,#a32c61,#8a226a,#6d186e,#4d0d6c,#280b53,#07051b,#000004)"></i><i style="background:linear-gradient(#02010a,#0e092b,#2f0a5b,#510e6c,#6d186e,#88226a,#9f2a63,#b3325a,#c43c4e,#d24644,#db503b,#e45a31,#eb6429,#ef6e21,#f37819,#f68013,#f8890c,#fa9207,#fb9b06,#fca50a,#fcac11,#fbb61a,#fbbe23,#fac62d,#f8cd37,#f6d543,#f4dd4f,#f3e55d,#f2ea69,#f1f179,#f3f586,#f4f88e,#f6fa96,#f9fc9d,#f9fc9d,#f8fb9a,#f3f68a,#f1ed71,#f4dd4f,#fac42a,#fca50a,#f78410,#e9612b,#d04545,#b0315b,#8f2469,#6d186e,#4f0d6c,#320a5e,#190c3e,#09061f,#02010a,#030210,#09061f,#10092d,#140b34,#150b37,#140b34,#10092d,#0a0722,#030210,#010005,#000004,#000004,#000004,#000004,#000004,#010106,#050417,#0c0826,#110a30,#140b34,#140b34,#110a30,#0b0724,#050417,#010108,#040314,#120a32,#290b55,#450a69,#62146e,#82206c,#a32c61,#c43c4e,#e05536,#f3761b,#fb9906,#fbba1f,#f7d340,#f2e865,#f2f482,#f5f992,#f8fb9a,#f8fb9a,#f6fa96,#f4f88e,#f2f482,#f1ef75,#f2ea69,#f3e35a,#f5db4c,#f7d340,#f9cb35,#fac42a,#fbbc21,#fcb216,#fcaa0f,#fca108,#fb9706,#f98c0a,#f78410,#f47918,#ef6e21,#ea632a,#e25734,#d74b3f,#ca404a,#b73557,#a22b62,#88226a,#6c186e,#4c0c6b,#260c51,#07051b,#000004)"></i><i style="background:linear-gradient(#010108,#0d0829,#2f0a5b,#4f0d6c,#6c186e,#87216b,#9f2a63,#b3325a,#c33b4f,#d04545,#db503b,#e35933,#ea632a,#ef6e21,#f3761b,#f68013,#f8890c,#fa9207,#fb9b06,#fca309,#fcac11,#fcb418,#fbbc21,#fac62d,#f8cd37,#f6d543,#f5db4c,#f3e35a,#f2ea69,#f1ef75,#f2f482,#f4f88e,#f6fa96,#f8fb9a,#f8fb9a,#f6fa96,#f3f586,#f1ec6d,#f5db4c,#fac228,#fca50a,#f78212,#e9612b,#d04545,#b1325a,#902568,#71196e,#520e6d,#360961,#1b0c41,#0a0722,#02010a,#02020e,#09061f,#0e092b,#140b34,#150b37,#140b34,#10092d,#0a0722,#040312,#010005,#000004,#000004,#000004,#000004,#000004,#010106,#050417,#0c0826,#110a30,#140b34,#140b34,#110a30,#0b0724,#040314,#010108,#060419,#140b34,#2b0b57,#490b6a,#65156e,#85216b,#a52c60,#c63d4d,#e15635,#f3761b,#fb9906,#fbba1f,#f7d340,#f2e661,#f2f27d,#f4f88e,#f6fa96,#f6fa96,#f5f992,#f3f68a,#f2f482,#f1ef75,#f2e865,#f3e35a,#f5db4c,#f7d340,#f9cb35,#fac42a,#fbbc21,#fcb216,#fcaa0f,#fca108,#fb9706,#f98c0a,#f78410,#f47918,#ef6e21,#ea632a,#e15635,#d74b3f,#c83f4b,#b63458,#a02a63,#87216b,#6a176e,#4a0c6b,#260c51,#07051b,#000004)"></i><i style="background:linear-gradient(#010108,#0d0829,#2d0b59,#4d0d6c,#6a176e,#85216b,#9d2964,#b1325a,#c13a50,#cf4446,#da4e3c,#e35933,#ea632a,#ef6c23,#f3761b,#f67e14,#f8870e,#fa9008,#fb9906,#fca309,#fcaa0f,#fcb418,#fbbc21,#fac42a,#f9cb35,#f7d340,#f5db4c,#f4e156,#f2e865,#f1ed71,#f2f27d,#f3f68a,#f5f992,#f6fa96,#f6fa96,#f5f992,#f2f482,#f2ea69,#f5d949,#fac228,#fca309,#f78212,#e9612b,#d24644,#b43359,#932667,#721a6e,#540f6d,#380962,#1e0c45,#0b0724,#02020c,#02020e,#08051d,#0e092b,#140b34,#150b37,#140b34,#110a30,#0a0722,#040312,#010005,#000004,#000004,#000004,#000004,#000004,#010106,#050417,#0c0826,#110a30,#140b34,#140b34,#10092d,#0a0722,#040312,#010108,#07051b,#160b39,#2f0a5b,#4a0c6b,#69166e,#87216b,#a82e5f,#c73e4c,#e25734,#f37819,#fb9906,#fbb81d,#f7d340,#f3e55d,#f1f179,#f4f88e,#f6fa96,#f6fa96,#f5f992,#f3f68a,#f2f27d,#f1ed71,#f2e865,#f4e156,#f5db4c,#f7d340,#f9cb35,#fac42a,#fbba1f,#fcb216,#fca80d,#fca108,#fb9606,#f98c0a,#f78212,#f37819,#ef6e21,#e9612b,#e15635,#d54a41,#c73e4c,#b63458,#9f2a63,#85216b,#69166e,#490b6a,#240c4f,#060419,#000004)"></i><i style="background:linear-gradient(#010108,#0d0829,#2b0b57,#4d0d6c,#6a176e,#84206b,#9b2964,#b0315b,#c13a50,#cf4446,#da4e3c,#e35933,#ea632a,#ef6c23,#f3761b,#f67e14,#f8870e,#fa9008,#fb9906,#fca108,#fcaa0f,#fcb216,#fbba1f,#fac228,#f9c932,#f7d13d,#f5d949,#f4e156,#f2e661,#f1ec6d,#f1f179,#f3f586,#f4f88e,#f5f992,#f5f992,#f4f88e,#f2f27d,#f2e865,#f6d746,#fac026,#fca309,#f78410,#ea632a,#d34743,#b63458,#952667,#751b6e,#57106e,#3b0964,#1f0c48,#0c0826,#02020e,#02020c,#08051d,#0e092b,#140b34,#150b37,#150b37,#110a30,#0a0722,#040312,#010005,#000004,#000004,#000004,#000004,#000004,#010106,#050417,#0c0826,#110a30,#140b34,#140b34,#10092d,#0a0722,#040312,#02010a,#08051d,#180c3c,#310a5c,#4d0d6c,#6a176e,#8a226a,#ab2f5e,#ca404a,#e35933,#f47918,#fb9906,#fbb81d,#f7d13d,#f3e55d,#f1f179,#f3f68a,#f5f992,#f5f992,#f4f88e,#f3f586,#f2f27d,#f1ed71,#f2e865,#f4e156,#f5d949,#f7d340,#f9cb35,#fac228,#fbba1f,#fcb216,#fca80d,#fc9f07,#fb9606,#f98c0a,#f78212,#f37819,#ef6c23,#e9612b,#e05536,#d54a41,#c63d4d,#b43359,#9d2964,#84206b,#67166e,#470b6a,#230c4c,#060419,#000004)"></i><i style="background:linear-gradient(#010108,#0d0829,#2b0b57,#4c0c6b,#69166e,#82206c,#9a2865,#ae305c,#c03a51,#ce4347,#d94d3d,#e25734,#e9612b,#ee6a24,#f2741c,#f67e14,#f8870e,#fa9008,#fb9706,#fca108,#fca80d,#fcb216,#fbba1f,#fac228,#f9c932,#f7d13d,#f6d746,#f4df53,#f3e55d,#f1ec6d,#f1f179,#f2f482,#f3f68a,#f4f88e,#f4f88e,#f3f68a,#f1f179,#f2e661,#f6d543,#fbbe23,#fca309,#f78410,#eb6429,#d44842,#b73557,#982766,#781c6d,#5a116e,#3d0965,#230c4c,#0e092b,#030210,#02010a,#07051b,#0d0829,#120a32,#150b37,#150b37,#110a30,#0a0722,#040312,#010005,#000004,#000004,#000004,#000004,#000004,#010106,#050417,#0c0826,#110a30,#140b34,#140b34,#0e092b,#09061f,#030210,#02010a,#0a0722,#1b0c41,#340a5f,#510e6c,#6d186e,#8d2369,#ad305d,#cb4149,#e45a31,#f47918,#fb9b06,#fbb81d,#f7d13d,#f3e35a,#f1ef75,#f3f586,#f4f88e,#f4f88e,#f4f88e,#f3f586,#f1f179,#f1ec6d,#f2e661,#f4e156,#f5d949,#f7d13d,#f9c932,#fac228,#fbba1f,#fcb216,#fca80d,#fc9f07,#fb9606,#f98c0a,#f78212,#f37819,#ef6c23,#e8602d,#e05536,#d44842,#c63d4d,#b3325a,#9b2964,#82206c,#65156e,#470b6a,#230c4c,#060419,#000004)"></i><i style="background:linear-gradient(#010108,#0c0826,#290b55,#4a0c6b,#67166e,#801f6c,#982766,#ad305d,#bf3952,#cc4248,#d84c3e,#e15635,#e8602d,#ee6a24,#f2741c,#f57d15,#f8850f,#f98e09,#fb9706,#fc9f07,#fca80d,#fcb014,#fbb81d,#fac026,#f9c72f,#f8cf3a,#f6d746,#f4dd4f,#f3e55d,#f2ea69,#f1ef75,#f2f27d,#f3f586,#f3f68a,#f3f68a,#f3f586,#f1ef75,#f3e55d,#f7d340,#fbbe23,#fca309,#f78410,#eb6429,#d54a41,#ba3655,#9a2865,#7a1d6d,#5c126e,#400a67,#240c4f,#10092d,#040312,#02010a,#060419,#0d0829,#120a32,#150b37,#150b37,#110a30,#0b0724,#040312,#010005,#000004,#000004,#000004,#000004,#000004,#010106,#060419,#0c0826,#110a30,#140b34,#120a32,#0e092b,#08051d,#02020e,#02020c,#0b0724,#1e0c45,#380962,#540f6d,#71196e,#902568,#b0315b,#ce4347,#e55c30,#f57b17,#fb9b06,#fbb81d,#f7d13d,#f3e35a,#f1ef75,#f3f586,#f4f88e,#f4f88e,#f3f68a,#f2f482,#f1f179,#f1ec6d,#f2e661,#f4df53,#f5d949,#f7d13d,#f9c932,#fac228,#fbba1f,#fcb014,#fca80d,#fc9f07,#fb9606,#f98b0b,#f78212,#f3761b,#ef6c23,#e8602d,#df5337,#d34743,#c43c4e,#b1325a,#9a2865,#801f6c,#64156e,#450a69,#210c4a,#060419,#000004)"></i><i style="background:linear-gradient(#010108,#0c0826,#280b53,#490b6a,#65156e,#7f1e6c,#972766,#ab2f5e,#bd3853,#cc4248,#d84c3e,#e15635,#e8602d,#ed6925,#f1731d,#f57d15,#f8850f,#f98c0a,#fb9606,#fc9f07,#fca60c,#fcae12,#fbb61a,#fac026,#fac62d,#f8cd37,#f6d543,#f5db4c,#f3e35a,#f2e865,#f1ed71,#f1f179,#f2f482,#f3f586,#f3f586,#f2f482,#f1ed71,#f3e35a,#f7d340,#fbbc21,#fca108,#f78410,#eb6628,#d74b3f,#bc3754,#9d2964,#7d1e6d,#5f136e,#440a68,#280b53,#120a32,#040314,#010108,#060419,#0c0826,#120a32,#150b37,#150b37,#110a30,#0b0724,#040312,#010005,#000004,#000004,#000004,#000004,#000004,#010106,#060419,#0c0826,#110a30,#140b34,#120a32,#0d0829,#08051d,#02020c,#02020e,#0d0829,#1f0c48,#3b0964,#57106e,#741a6e,#922568,#b1325a,#cf4446,#e65d2f,#f57d15,#fb9b06,#fbb81d,#f8cf3a,#f3e35a,#f1ed71,#f2f482,#f3f68a,#f3f68a,#f3f586,#f2f482,#f1ef75,#f2ea69,#f3e55d,#f4df53,#f6d746,#f7d13d,#f9c932,#fac228,#fbb81d,#fcb014,#fca60c,#fb9d07,#fa9407,#f98b0b,#f68013,#f3761b,#ee6a24,#e75e2e,#de5238,#d24644,#c33b4f,#b0315b,#982766,#7f1e6c,#62146e,#440a68,#210c4a,#060419,#000004)"></i><i style="background:linear-gradient(#010108,#0c0826,#280b53,#470b6a,#64156e,#7d1e6d,#952667,#a92e5e,#bc3754,#cb4149,#d74b3f,#e05536,#e75e2e,#ed6925,#f1731d,#f57b17,#f78410,#f98c0a,#fb9606,#fb9d07,#fca60c,#fcae12,#fbb61a,#fbbe23,#fac62d,#f8cd37,#f7d340,#f5db4c,#f4e156,#f2e661,#f1ec6d,#f1f179,#f2f27d,#f2f482,#f2f482,#f2f27d,#f1ec6d,#f3e35a,#f7d13d,#fbbc21,#fca309,#f8850f,#ec6726,#d94d3d,#bf3952,#a02a63,#801f6c,#62146e,#470b6a,#2b0b57,#140b34,#060419,#010108,#050417,#0c0826,#110a30,#140b34,#140b34,#110a30,#0b0724,#040312,#010005,#000004,#000004,#000004,#000004,#000004,#010106,#060419,#0c0826,#110a30,#140b34,#110a30,#0d0829,#07051b,#02010a,#040312,#0e092b,#230c4c,#3e0966,#5a116e,#771c6d,#952667,#b43359,#d24644,#e8602d,#f67e14,#fb9d07,#fbba1f,#f7d13d,#f4e156,#f1ed71,#f2f482,#f3f68a,#f3f68a,#f3f586,#f2f27d,#f1ef75,#f2ea69,#f3e55d,#f4df53,#f6d746,#f8cf3a,#f9c72f,#fac026,#fbb81d,#fcb014,#fca60c,#fb9d07,#fa9407,#f98b0b,#f68013,#f3761b,#ee6a24,#e75e2e,#de5238,#d24644,#c13a50,#ae305c,#972766,#7d1e6d,#61136e,#420a68,#1f0c48,#050417,#000004)"></i><i style="background:linear-gradient(#010108,#0b0724,#260c51,#450a69,#62146e,#7c1d6d,#932667,#a82e5f,#ba3655,#ca404a,#d54a41,#df5337,#e75e2e,#ec6726,#f1711f,#f57b17,#f78410,#f98c0a,#fa9407,#fb9d07,#fca50a,#fcac11,#fcb418,#fbbe23,#fac42a,#f9cb35,#f7d340,#f5d949,#f4e156,#f2e661,#f1ec6d,#f1ef75,#f2f27d,#f2f482,#f2f482,#f1f179,#f1ec6d,#f4e156,#f7d13d,#fbbc21,#fca309,#f8850f,#ed6925,#da4e3c,#c03a51,#a22b62,#84206b,#65156e,#490b6a,#2d0b59,#160b39,#07051b,#010108,#040314,#0b0724,#110a30,#140b34,#140b34,#110a30,#0b0724,#040312,#010005,#000004,#000004,#000004,#000004,#000004,#010106,#060419,#0c0826,#110a30,#120a32,#110a30,#0c0826,#060419,#02010a,#040314,#110a30,#260c51,#420a68,#5d126e,#7a1d6d,#982766,#b73557,#d34743,#e9612b,#f68013,#fc9f07,#fbba1f,#f7d13d,#f4e156,#f1ed71,#f2f27d,#f3f586,#f3f68a,#f3f586,#f2f27d,#f1ef75,#f2ea69,#f3e55d,#f4dd4f,#f6d746,#f8cf3a,#f9c72f,#fac026,#fbb81d,#fcb014,#fca60c,#fb9d07,#fa9407,#f98b0b,#f68013,#f2741c,#ed6925,#e65d2f,#dd513a,#d04545,#c03a51,#ad305d,#952667,#7c1d6d,#5f136e,#400a67,#1f0c48,#050417,#000004)"></i><i style="background:linear-gradient(#010108,#0b0724,#240c4f,#440a68,#61136e,#7a1d6d,#902568,#a62d60,#b93556,#c83f4b,#d44842,#df5337,#e65d2f,#ec6726,#f1711f,#f47918,#f78212,#f98b0b,#fa9407,#fb9b06,#fca50a,#fcac11,#fcb418,#fbbc21,#fac42a,#f9cb35,#f7d13d,#f5d949,#f4df53,#f3e55d,#f2ea69,#f1ed71,#f1f179,#f2f27d,#f2f27d,#f1ef75,#f2ea69,#f4e156,#f7d13d,#fbbc21,#fca309,#f8870e,#ee6a24,#db503b,#c33b4f,#a52c60,#87216b,#69166e,#4c0c6b,#310a5c,#180c3c,#08051d,#02010a,#040312,#0a0722,#10092d,#140b34,#140b34,#110a30,#0b0724,#040312,#010005,#000004,#000004,#000004,#000004,#000004,#010106,#060419,#0c0826,#110a30,#120a32,#10092d,#0b0724,#050417,#02010a,#060419,#140b34,#290b55,#450a69,#61136e,#7d1e6d,#9b2964,#ba3655,#d54a41,#ea632a,#f78212,#fc9f07,#fbbc21,#f7d13d,#f4e156,#f1ec6d,#f2f27d,#f3f586,#f3f586,#f2f482,#f2f27d,#f1ed71,#f2ea69,#f3e55d,#f4dd4f,#f6d746,#f8cf3a,#f9c72f,#fac026,#fbb81d,#fcb014,#fca60c,#fb9d07,#fa9407,#f8890c,#f67e14,#f2741c,#ed6925,#e65d2f,#db503b,#cf4446,#bf3952,#ab2f5e,#932667,#7a1d6d,#5d126e,#3e0966,#1e0c45,#050417,#000004)"></i><i style="background:linear-gradient(#010108,#0b0724,#240c4f,#440a68,#5d126e,#771c6d,#8f2469,#a52c60,#b73557,#c73e4c,#d34743,#de5238,#e55c30,#eb6628,#f06f20,#f47918,#f78212,#f98b0b,#fa9207,#fb9b06,#fca309,#fcaa0f,#fcb216,#fbba1f,#fac228,#f9c932,#f7d13d,#f6d746,#f4dd4f,#f3e35a,#f2e865,#f1ed71,#f1ef75,#f1f179,#f1f179,#f1ef75,#f2e865,#f4df53,#f8cf3a,#fbbc21,#fca309,#f8870e,#ef6c23,#dd513a,#c43c4e,#a82e5f,#88226a,#6c186e,#4f0d6c,#340a5f,#1b0c41,#0a0722,#02020c,#030210,#09061f,#0e092b,#120a32,#140b34,#110a30,#0b0724,#040312,#010005,#000004,#000004,#000004,#000004,#000004,#010106,#050417,#0c0826,#110a30,#110a30,#10092d,#0a0722,#040314,#02010a,#07051b,#160b39,#2d0b59,#490b6a,#64156e,#801f6c,#9f2a63,#bd3853,#d74b3f,#eb6628,#f78410,#fca108,#fbbc21,#f7d13d,#f4e156,#f1ec6d,#f2f27d,#f3f586,#f3f586,#f2f482,#f1f179,#f1ed71,#f2e865,#f3e35a,#f4dd4f,#f6d543,#f8cf3a,#f9c72f,#fac026,#fbb81d,#fcae12,#fca60c,#fb9d07,#fa9407,#f8890c,#f67e14,#f1731d,#ec6726,#e55c30,#da4e3c,#ce4347,#bd3853,#a82e5f,#922568,#771c6d,#5c126e,#3e0966,#1c0c43,#050417,#000004)"></i><i style="background:linear-gradient(#010108,#0a0722,#230c4c,#420a68,#5c126e,#751b6e,#8d2369,#a32c61,#b63458,#c63d4d,#d24644,#dd513a,#e55c30,#eb6429,#ef6e21,#f37819,#f68013,#f8890c,#fa9207,#fb9906,#fca108,#fcaa0f,#fcb216,#fbba1f,#fac228,#f9c72f,#f8cf3a,#f6d543,#f4dd4f,#f3e35a,#f2e865,#f1ec6d,#f1ef75,#f1f179,#f1ef75,#f1ed71,#f2e865,#f4df53,#f8cf3a,#fbbc21,#fca309,#f8890c,#ef6c23,#df5337,#c73e4c,#ab2f5e,#8c2369,#6f196e,#520e6d,#380962,#1e0c45,#0c0826,#02020e,#02020e,#08051d,#0e092b,#120a32,#120a32,#10092d,#0b0724,#040312,#010005,#000004,#000004,#000004,#000004,#000004,#010106,#050417,#0c0826,#10092d,#110a30,#0e092b,#09061f,#040312,#02010a,#09061f,#180c3c,#310a5c,#4c0c6b,#67166e,#84206b,#a22b62,#bf3952,#d94d3d,#ec6726,#f8850f,#fca309,#fbbc21,#f7d13d,#f4e156,#f1ec6d,#f2f27d,#f2f482,#f2f482,#f2f482,#f1f179,#f1ed71,#f2e865,#f3e35a,#f4dd4f,#f6d543,#f8cf3a,#f9c72f,#fac026,#fbb81d,#fcae12,#fca60c,#fb9d07,#fa9207,#f8890c,#f67e14,#f1731d,#eb6628,#e45a31,#da4e3c,#cc4248,#bc3754,#a62d60,#8f2469,#751b6e,#5a116e,#3d0965,#1c0c43,#050417,#000004)"></i><i style="background:linear-gradient(#010108,#0a0722,#210c4a,#400a67,#5a116e,#741a6e,#8c2369,#a02a63,#b43359,#c43c4e,#d04545,#db503b,#e45a31,#eb6429,#ef6e21,#f3761b,#f68013,#f8890c,#fa9008,#fb9906,#fca108,#fca80d,#fcb014,#fbb81d,#fac026,#f9c72f,#f8cd37,#f6d543,#f5db4c,#f4e156,#f2e661,#f2ea69,#f1ed71,#f1ef75,#f1ef75,#f1ec6d,#f2e661,#f4dd4f,#f8cf3a,#fbbc21,#fca50a,#f8890c,#ef6e21,#e05536,#ca404a,#ae305c,#8f2469,#721a6e,#550f6d,#3b0964,#210c4a,#0d0829,#030210,#02020e,#07051b,#0d0829,#110a30,#120a32,#10092d,#0a0722,#040312,#010005,#000004,#000004,#000004,#000004,#000004,#010106,#050417,#0c0826,#10092d,#10092d,#0d0829,#08051d,#030210,#02020c,#0a0722,#1b0c41,#340a5f,#4f0d6c,#6a176e,#87216b,#a52c60,#c13a50,#db503b,#ed6925,#f8870e,#fca50a,#fbbe23,#f7d13d,#f4e156,#f1ec6d,#f1f179,#f2f482,#f2f482,#f2f27d,#f1f179,#f1ec6d,#f2e865,#f3e35a,#f5db4c,#f6d543,#f8cd37,#fac62d,#fbbe23,#fbb61a,#fcae12,#fca50a,#fb9b06,#fa9207,#f8870e,#f57d15,#f1711f,#eb6628,#e35933,#d94d3d,#cb4149,#b93556,#a52c60,#8d2369,#741a6e,#59106e,#3b0964,#1b0c41,#040314,#000004)"></i><i style="background:linear-gradient(#010108,#0a0722,#210c4a,#3e0966,#59106e,#721a6e,#88226a,#9f2a63,#b3325a,#c33b4f,#cf4446,#da4e3c,#e35933,#ea632a,#ef6c23,#f3761b,#f67e14,#f8870e,#fa9008,#fb9706,#fc9f07,#fca60c,#fcb014,#fbb81d,#fbbe23,#fac62d,#f8cd37,#f7d340,#f5d949,#f4df53,#f3e55d,#f2e865,#f1ec6d,#f1ed71,#f1ed71,#f1ec6d,#f2e661,#f4dd4f,#f8cd37,#fbbc21,#fca50a,#f98b0b,#f06f20,#e15635,#cb4149,#b0315b,#922568,#751b6e,#59106e,#3e0966,#240c4f,#10092d,#040312,#02020c,#060419,#0c0826,#110a30,#120a32,#10092d,#0a0722,#040312,#010005,#000004,#000004,#000004,#000004,#000004,#010106,#050417,#0b0724,#0e092b,#10092d,#0c0826,#07051b,#02020e,#030210,#0c0826,#1e0c45,#380962,#520e6d,#6d186e,#8a226a,#a82e5f,#c43c4e,#dd513a,#ef6c23,#f8890c,#fca60c,#fbbe23,#f7d13d,#f4e156,#f1ec6d,#f1f179,#f2f27d,#f2f482,#f2f27d,#f1ef75,#f1ec6d,#f2e661,#f4e156,#f5db4c,#f6d543,#f8cd37,#fac62d,#fbbe23,#fbb61a,#fcae12,#fca50a,#fb9b06,#fa9207,#f8870e,#f57d15,#f1711f,#eb6429,#e25734,#d84c3e,#ca404a,#b73557,#a32c61,#8c2369,#721a6e,#57106e,#390963,#1b0c41,#040314,#000004)"></i><i style="background:linear-gradient(#010108,#09061f,#1f0c48,#3d0965,#57106e,#71196e,#87216b,#9d2964,#b0315b,#c03a51,#ce4347,#d94d3d,#e25734,#e9612b,#ee6a24,#f2741c,#f57d15,#f8850f,#f98e09,#fb9606,#fc9f07,#fca60c,#fcae12,#fbb61a,#fbbe23,#fac42a,#f9cb35,#f7d13d,#f5d949,#f4df53,#f3e35a,#f2e865,#f2ea69,#f1ec6d,#f1ec6d,#f2ea69,#f3e55d,#f5db4c,#f8cd37,#fbbc21,#fca50a,#f98c0a,#f1711f,#e35933,#ce4347,#b3325a,#952667,#781c6d,#5c126e,#420a68,#280b53,#120a32,#050417,#02020c,#050417,#0b0724,#10092d,#110a30,#10092d,#0a0722,#040312,#010005,#000004,#000004,#000004,#000004,#000004,#010106,#050417,#0b0724,#0e092b,#0e092b,#0b0724,#060419,#02020c,#040312,#0e092b,#210c4a,#3b0964,#550f6d,#721a6e,#8f2469,#ab2f5e,#c73e4c,#df5337,#ef6e21,#f98b0b,#fca60c,#fac026,#f7d340,#f4e156,#f2ea69,#f1f179,#f2f27d,#f2f27d,#f1f179,#f1ef75,#f1ec6d,#f2e661,#f4e156,#f5db4c,#f7d340,#f8cd37,#fac62d,#fbbe23,#fbb61a,#fcac11,#fca50a,#fb9906,#fa9008,#f8850f,#f57b17,#f06f20,#ea632a,#e25734,#d74b3f,#c73e4c,#b63458,#a22b62,#8a226a,#71196e,#550f6d,#380962,#190c3e,#040314,#000004)"></i><i style="background:linear-gradient(#010108,#09061f,#1f0c48,#3b0964,#550f6d,#6d186e,#85216b,#9a2865,#ae305c,#bf3952,#cc4248,#d84c3e,#e15635,#e8602d,#ee6a24,#f1731d,#f57d15,#f8850f,#f98c0a,#fb9606,#fb9d07,#fca50a,#fcac11,#fcb418,#fbbc21,#fac42a,#f9c932,#f7d13d,#f6d746,#f4dd4f,#f3e35a,#f2e661,#f2ea69,#f1ec6d,#f1ec6d,#f2e865,#f3e35a,#f5db4c,#f8cd37,#fbbc21,#fca60c,#f98c0a,#f1731d,#e45a31,#cf4446,#b63458,#9a2865,#7c1d6d,#61136e,#450a69,#2b0b57,#150b37,#060419,#02020c,#040314,#0a0722,#0e092b,#110a30,#0e092b,#0a0722,#040312,#010005,#000004,#000004,#000004,#000004,#000004,#010106,#050417,#0b0724,#0d0829,#0d0829,#0a0722,#050417,#02020c,#040314,#110a30,#240c4f,#3e0966,#5a116e,#751b6e,#922568,#ae305c,#ca404a,#e15635,#f1711f,#f98c0a,#fca80d,#fac026,#f7d340,#f4e156,#f2ea69,#f1ef75,#f2f27d,#f2f27d,#f1f179,#f1ed71,#f2ea69,#f2e661,#f4e156,#f5d949,#f7d340,#f9cb35,#fac62d,#fbbe23,#fcb418,#fcac11,#fca309,#fb9906,#fa9008,#f8850f,#f47918,#ef6e21,#e9612b,#e15635,#d54a41,#c63d4d,#b43359,#9f2a63,#87216b,#6f196e,#540f6d,#360961,#190c3e,#040314,#000004)"></i><i style="background:linear-gradient(#010108,#09061f,#1e0c45,#390963,#540f6d,#6c186e,#84206b,#982766,#ad305d,#bd3853,#cb4149,#d74b3f,#e05536,#e75e2e,#ed6925,#f1731d,#f57b17,#f78410,#f98c0a,#fa9407,#fb9b06,#fca309,#fcac11,#fcb216,#fbba1f,#fac228,#f9c932,#f8cf3a,#f6d543,#f5db4c,#f4e156,#f3e55d,#f2e865,#f2ea69,#f2ea69,#f2e865,#f3e35a,#f5d949,#f8cd37,#fbbc21,#fca60c,#f98e09,#f2741c,#e55c30,#d24644,#b93556,#9d2964,#7f1e6c,#64156e,#490b6a,#2f0a5b,#160b39,#08051d,#02020c,#040312,#09061f,#0d0829,#10092d,#0e092b,#0a0722,#040312,#010005,#000004,#000004,#000004,#000004,#000004,#010106,#050417,#0a0722,#0d0829,#0c0826,#09061f,#040314,#02020c,#060419,#140b34,#280b53,#420a68,#5d126e,#781c6d,#952667,#b1325a,#cc4248,#e25734,#f1731d,#f98e09,#fcaa0f,#fac228,#f7d340,#f4e156,#f2ea69,#f1ef75,#f1f179,#f1f179,#f1f179,#f1ed71,#f2ea69,#f3e55d,#f4df53,#f5d949,#f7d340,#f9cb35,#fac42a,#fbbc21,#fcb418,#fcac11,#fca309,#fb9906,#f98e09,#f78410,#f47918,#ef6e21,#e9612b,#e05536,#d34743,#c43c4e,#b3325a,#9d2964,#85216b,#6c186e,#520e6d,#360961,#180c3c,#040314,#000004)"></i><i style="background:linear-gradient(#010106,#08051d,#1c0c43,#380962,#520e6d,#6a176e,#801f6c,#972766,#a92e5e,#bc3754,#ca404a,#d54a41,#df5337,#e65d2f,#ec6726,#f1711f,#f47918,#f78212,#f98b0b,#fa9207,#fb9b06,#fca309,#fcaa0f,#fcb216,#fbba1f,#fac026,#f9c72f,#f8cd37,#f7d340,#f5d949,#f4df53,#f3e35a,#f2e661,#f2e865,#f2e865,#f2e661,#f4e156,#f5d949,#f9cb35,#fbbc21,#fca60c,#fa9008,#f3761b,#e75e2e,#d44842,#bc3754,#a02a63,#84206b,#67166e,#4c0c6b,#320a5e,#190c3e,#0a0722,#02020e,#030210,#08051d,#0c0826,#0e092b,#0d0829,#09061f,#040312,#010005,#000004,#000004,#000004,#000004,#000004,#010106,#040314,#0a0722,#0c0826,#0b0724,#08051d,#040312,#02020c,#08051d,#160b39,#2b0b57,#470b6a,#61136e,#7c1d6d,#982766,#b43359,#cf4446,#e45a31,#f2741c,#fa9207,#fcac11,#fac228,#f7d340,#f4e156,#f2ea69,#f1ef75,#f1f179,#f1f179,#f1ef75,#f1ec6d,#f2e865,#f3e55d,#f4df53,#f5d949,#f7d13d,#f9cb35,#fac42a,#fbbc21,#fcb418,#fcaa0f,#fca108,#fb9706,#f98e09,#f78410,#f37819,#ef6c23,#e8602d,#df5337,#d24644,#c33b4f,#b0315b,#9b2964,#84206b,#6a176e,#510e6c,#340a5f,#180c3c,#040312,#000004)"></i><i style="background:linear-gradient(#010106,#08051d,#1c0c43,#360961,#510e6c,#67166e,#7f1e6c,#932667,#a82e5f,#b93556,#c83f4b,#d44842,#de5238,#e55c30,#eb6628,#f06f20,#f37819,#f68013,#f8890c,#fa9207,#fb9906,#fca108,#fca80d,#fcb014,#fbb81d,#fac026,#fac62d,#f9cb35,#f7d340,#f5d949,#f4dd4f,#f4e156,#f3e55d,#f2e661,#f2e661,#f3e55d,#f4e156,#f6d746,#f9cb35,#fbbc21,#fca60c,#fa9008,#f37819,#e8602d,#d54a41,#bf3952,#a32c61,#87216b,#6a176e,#4f0d6c,#360961,#1c0c43,#0c0826,#030210,#02020e,#07051b,#0c0826,#0e092b,#0d0829,#09061f,#030210,#010005,#000004,#000004,#000004,#000004,#000004,#010106,#040314,#09061f,#0b0724,#0a0722,#07051b,#030210,#02020e,#0a0722,#190c3e,#310a5c,#4a0c6b,#64156e,#7f1e6c,#9b2964,#b73557,#d24644,#e65d2f,#f37819,#fa9407,#fcae12,#fac42a,#f7d340,#f4e156,#f2ea69,#f1ed71,#f1f179,#f1f179,#f1ef75,#f1ec6d,#f2e865,#f3e35a,#f4dd4f,#f6d746,#f7d13d,#f9c932,#fac228,#fbba1f,#fcb216,#fcaa0f,#fca108,#fb9706,#f98c0a,#f78212,#f3761b,#ee6a24,#e75e2e,#dd513a,#d04545,#c03a51,#ae305c,#982766,#82206c,#69166e,#4f0d6c,#320a5e,#160b39,#040312,#000004)"></i><i style="background:linear-gradient(#010106,#08051d,#1b0c41,#340a5f,#4d0d6c,#65156e,#7c1d6d,#922568,#a52c60,#b73557,#c63d4d,#d34743,#dd513a,#e45a31,#eb6429,#ef6e21,#f37819,#f68013,#f8870e,#fa9008,#fb9706,#fc9f07,#fca60c,#fcae12,#fbb61a,#fbbe23,#fac42a,#f9cb35,#f7d13d,#f6d746,#f5db4c,#f4e156,#f3e35a,#f3e55d,#f2e661,#f3e55d,#f4df53,#f6d746,#f9cb35,#fbbc21,#fca80d,#fa9207,#f47918,#e9612b,#d84c3e,#c13a50,#a62d60,#8a226a,#6d186e,#540f6d,#390963,#1f0c48,#0d0829,#040312,#02020c,#060419,#0b0724,#0d0829,#0c0826,#09061f,#030210,#010005,#000004,#000004,#000004,#000004,#000004,#010106,#040314,#09061f,#0a0722,#09061f,#060419,#02020e,#030210,#0b0724,#1c0c43,#340a5f,#4d0d6c,#69166e,#84206b,#9f2a63,#ba3655,#d44842,#e75e2e,#f47918,#fb9606,#fcae12,#fac42a,#f6d543,#f4e156,#f2e865,#f1ed71,#f1ef75,#f1ef75,#f1ed71,#f1ec6d,#f2e661,#f3e35a,#f4dd4f,#f6d746,#f8cf3a,#f9c932,#fac228,#fbba1f,#fcb216,#fca80d,#fc9f07,#fb9606,#f98b0b,#f68013,#f3761b,#ed6925,#e65d2f,#db503b,#cf4446,#bf3952,#ad305d,#972766,#7f1e6c,#67166e,#4d0d6c,#310a5c,#150b37,#040312,#000004)"></i><i style="background:linear-gradient(#010106,#07051b,#190c3e,#320a5e,#4c0c6b,#64156e,#7a1d6d,#8f2469,#a32c61,#b63458,#c43c4e,#d04545,#db503b,#e35933,#ea632a,#ef6c23,#f3761b,#f67e14,#f8870e,#f98e09,#fb9606,#fc9f07,#fca60c,#fcae12,#fcb418,#fbbc21,#fac42a,#f9c932,#f8cf3a,#f6d543,#f5db4c,#f4df53,#f3e35a,#f3e55d,#f3e55d,#f3e35a,#f4df53,#f6d746,#f9cb35,#fbbc21,#fca80d,#fa9207,#f57b17,#eb6429,#d94d3d,#c43c4e,#a92e5e,#8d2369,#721a6e,#57106e,#3d0965,#230c4c,#10092d,#050417,#02020c,#050417,#09061f,#0c0826,#0c0826,#08051d,#030210,#010005,#000004,#000004,#000004,#000004,#000004,#010106,#040314,#08051d,#0a0722,#08051d,#050417,#02020c,#040312,#0d0829,#1f0c48,#380962,#510e6c,#6c186e,#87216b,#a32c61,#bd3853,#d54a41,#e9612b,#f57d15,#fb9706,#fcb014,#fac62d,#f6d543,#f4e156,#f2e865,#f1ed71,#f1ef75,#f1ef75,#f1ed71,#f2ea69,#f2e661,#f4e156,#f4dd4f,#f6d543,#f8cf3a,#f9c72f,#fac228,#fbba1f,#fcb014,#fca80d,#fc9f07,#fb9606,#f98b0b,#f68013,#f2741c,#ec6726,#e55c30,#da4e3c,#ce4347,#bd3853,#a92e5e,#952667,#7d1e6d,#65156e,#4c0c6b,#2f0a5b,#150b37,#040312,#000004)"></i><i style="background:linear-gradient(#010106,#07051b,#190c3e,#310a5c,#4a0c6b,#62146e,#781c6d,#8d2369,#a22b62,#b3325a,#c33b4f,#cf4446,#da4e3c,#e25734,#e9612b,#ee6a24,#f2741c,#f57d15,#f8850f,#f98c0a,#fb9606,#fb9d07,#fca50a,#fcac11,#fcb418,#fbba1f,#fac228,#f9c72f,#f8cd37,#f7d340,#f5d949,#f4dd4f,#f4e156,#f3e35a,#f3e35a,#f4e156,#f4dd4f,#f6d543,#f9cb35,#fbbc21,#fca80d,#fa9407,#f57d15,#eb6628,#db503b,#c63d4d,#ad305d,#902568,#751b6e,#5a116e,#400a67,#280b53,#120a32,#060419,#02020c,#040314,#08051d,#0b0724,#0b0724,#08051d,#030210,#010005,#000004,#000004,#000004,#000004,#000004,#010106,#040312,#08051d,#09061f,#07051b,#040312,#02020c,#050417,#10092d,#230c4c,#3b0964,#550f6d,#6f196e,#8a226a,#a62d60,#c03a51,#d84c3e,#eb6429,#f67e14,#fb9906,#fcb216,#fac62d,#f6d543,#f4e156,#f2e865,#f1ed71,#f1ef75,#f1ed71,#f1ec6d,#f2ea69,#f2e661,#f4e156,#f5db4c,#f6d543,#f8cf3a,#f9c72f,#fac026,#fbb81d,#fcb014,#fca60c,#fb9d07,#fa9407,#f8890c,#f67e14,#f1731d,#eb6628,#e45a31,#d94d3d,#cb4149,#ba3655,#a82e5f,#922568,#7c1d6d,#62146e,#490b6a,#2d0b59,#140b34,#040312,#000004)"></i><i style="background:linear-gradient(#010106,#07051b,#180c3c,#310a5c,#490b6a,#5f136e,#751b6e,#8c2369,#9f2a63,#b1325a,#c03a51,#ce4347,#d94d3d,#e15635,#e8602d,#ed6925,#f1731d,#f57b17,#f78410,#f98c0a,#fa9407,#fb9b06,#fca309,#fcaa0f,#fcb216,#fbba1f,#fac026,#fac62d,#f8cd37,#f7d13d,#f6d746,#f5db4c,#f4df53,#f4e156,#f4e156,#f4e156,#f4dd4f,#f6d543,#f9c932,#fbbc21,#fcaa0f,#fb9606,#f67e14,#ec6726,#de5238,#c83f4b,#b0315b,#932667,#781c6d,#5d126e,#440a68,#2b0b57,#150b37,#08051d,#02020c,#030210,#07051b,#0a0722,#0a0722,#07051b,#030210,#010005,#000004,#000004,#000004,#000004,#000004,#010106,#040312,#07051b,#08051d,#060419,#030210,#02020c,#07051b,#120a32,#260c51,#3e0966,#59106e,#721a6e,#8d2369,#a92e5e,#c33b4f,#da4e3c,#eb6628,#f68013,#fb9b06,#fcb418,#fac62d,#f6d543,#f4e156,#f2e865,#f1ec6d,#f1ed71,#f1ed71,#f1ec6d,#f2e865,#f3e55d,#f4e156,#f5db4c,#f6d543,#f8cd37,#f9c72f,#fac026,#fbb81d,#fcb014,#fca60c,#fb9d07,#fa9207,#f8890c,#f57d15,#f1711f,#eb6429,#e35933,#d84c3e,#ca404a,#b93556,#a52c60,#902568,#781c6d,#61136e,#470b6a,#2d0b59,#140b34,#040312,#000004)"></i><i style="background:linear-gradient(#010106,#07051b,#180c3c,#2f0a5b,#470b6a,#5d126e,#741a6e,#88226a,#9d2964,#ae305c,#bf3952,#cc4248,#d74b3f,#e05536,#e75e2e,#ec6726,#f1711f,#f47918,#f78212,#f98b0b,#fa9207,#fb9906,#fca108,#fca80d,#fcb014,#fbb81d,#fbbe23,#fac62d,#f9cb35,#f7d13d,#f6d543,#f5db4c,#f4dd4f,#f4df53,#f4e156,#f4df53,#f5db4c,#f6d543,#f9c932,#fbbc21,#fcaa0f,#fb9606,#f68013,#ed6925,#df5337,#cb4149,#b3325a,#982766,#7c1d6d,#62146e,#490b6a,#2f0a5b,#180c3c,#0a0722,#02020e,#02020e,#060419,#09061f,#09061f,#07051b,#030210,#010005,#000004,#000004,#000004,#000004,#000004,#010106,#030210,#060419,#07051b,#050417,#02020e,#02020e,#08051d,#150b37,#290b55,#440a68,#5c126e,#771c6d,#922568,#ad305d,#c63d4d,#dd513a,#ed6925,#f78410,#fb9d07,#fcb418,#f9c72f,#f6d746,#f4e156,#f2e865,#f1ec6d,#f1ed71,#f1ed71,#f1ec6d,#f2e865,#f3e55d,#f4df53,#f5d949,#f7d340,#f8cd37,#fac62d,#fbbe23,#fbb61a,#fcae12,#fca50a,#fb9b06,#fa9207,#f8870e,#f57b17,#f06f20,#ea632a,#e15635,#d74b3f,#c83f4b,#b73557,#a32c61,#8d2369,#771c6d,#5f136e,#450a69,#2b0b57,#120a32,#030210,#000004)"></i><i style="background:linear-gradient(#010106,#060419,#160b39,#2d0b59,#450a69,#5c126e,#71196e,#87216b,#9a2865,#ad305d,#bd3853,#ca404a,#d54a41,#df5337,#e65d2f,#eb6628,#f06f20,#f47918,#f68013,#f8890c,#fa9008,#fb9906,#fca108,#fca60c,#fcae12,#fbb61a,#fbbc21,#fac42a,#f9c932,#f8cf3a,#f6d543,#f5d949,#f4dd4f,#f4df53,#f4df53,#f4dd4f,#f5d949,#f7d340,#f9c932,#fbbc21,#fcaa0f,#fb9706,#f78212,#ef6c23,#e15635,#ce4347,#b63458,#9b2964,#801f6c,#65156e,#4c0c6b,#320a5e,#1b0c41,#0c0826,#030210,#02020c,#050417,#08051d,#09061f,#060419,#02020e,#000004,#000004,#000004,#000004,#000004,#000004,#010106,#030210,#050417,#060419,#040314,#02020c,#030210,#0a0722,#180c3c,#2f0a5b,#470b6a,#61136e,#7a1d6d,#952667,#b0315b,#c83f4b,#df5337,#ee6a24,#f8850f,#fc9f07,#fbb61a,#f9c72f,#f6d746,#f4e156,#f2e865,#f1ec6d,#f1ec6d,#f1ec6d,#f2ea69,#f2e661,#f3e35a,#f4df53,#f5d949,#f7d340,#f9cb35,#fac62d,#fbbe23,#fbb61a,#fcac11,#fca50a,#fb9906,#fa9008,#f8850f,#f47918,#ef6e21,#e9612b,#e05536,#d44842,#c63d4d,#b43359,#a22b62,#8c2369,#751b6e,#5d126e,#440a68,#290b55,#120a32,#030210,#000004)"></i><i style="background:linear-gradient(#010106,#060419,#150b37,#2b0b57,#440a68,#5a116e,#6f196e,#84206b,#982766,#a92e5e,#ba3655,#c83f4b,#d44842,#de5238,#e55c30,#eb6429,#ef6e21,#f37819,#f68013,#f8870e,#fa9008,#fb9706,#fc9f07,#fca60c,#fcac11,#fcb418,#fbbc21,#fac228,#f9c72f,#f8cd37,#f7d340,#f6d746,#f5db4c,#f4dd4f,#f4dd4f,#f4dd4f,#f5d949,#f7d340,#f9c932,#fbbc21,#fcac11,#fb9706,#f78410,#ef6e21,#e25734,#d04545,#b93556,#9f2a63,#84206b,#69166e,#4f0d6c,#360961,#1f0c48,#0d0829,#040314,#02020c,#040312,#07051b,#08051d,#060419,#02020e,#000004,#000004,#000004,#000004,#000004,#000004,#010005,#030210,#050417,#050417,#030210,#02010a,#040312,#0c0826,#1c0c43,#320a5e,#4a0c6b,#64156e,#7d1e6d,#982766,#b3325a,#cb4149,#e05536,#ef6e21,#f8870e,#fca108,#fbb61a,#f9c72f,#f6d746,#f4e156,#f2e661,#f2ea69,#f1ec6d,#f2ea69,#f2e865,#f2e661,#f4e156,#f4dd4f,#f6d746,#f7d13d,#f9c932,#fac42a,#fbbc21,#fcb418,#fcac11,#fca309,#fb9906,#f98e09,#f78410,#f37819,#ef6c23,#e8602d,#df5337,#d34743,#c43c4e,#b3325a,#9f2a63,#88226a,#721a6e,#5a116e,#420a68,#280b53,#110a30,#030210,#000004)"></i><i style="background:linear-gradient(#010106,#060419,#150b37,#290b55,#420a68,#57106e,#6d186e,#82206c,#952667,#a82e5f,#b93556,#c73e4c,#d34743,#dd513a,#e45a31,#ea632a,#ef6c23,#f3761b,#f67e14,#f8850f,#f98e09,#fb9606,#fb9d07,#fca50a,#fcac11,#fcb216,#fbba1f,#fac026,#fac62d,#f9cb35,#f7d13d,#f6d543,#f5d949,#f5db4c,#f4dd4f,#f5db4c,#f6d746,#f7d13d,#f9c932,#fbbc21,#fcac11,#fb9906,#f8850f,#f06f20,#e45a31,#d24644,#bc3754,#a22b62,#87216b,#6d186e,#540f6d,#3b0964,#230c4c,#10092d,#050417,#02010a,#030210,#060419,#07051b,#050417,#02020e,#000004,#000004,#000004,#000004,#000004,#000004,#010005,#02020e,#040314,#040314,#02020e,#02010a,#050417,#0e092b,#1f0c48,#360961,#4f0d6c,#67166e,#82206c,#9b2964,#b63458,#ce4347,#e25734,#f06f20,#f8890c,#fca309,#fbb81d,#f9c932,#f6d543,#f4df53,#f2e661,#f2ea69,#f2ea69,#f2ea69,#f2e865,#f3e55d,#f4e156,#f5db4c,#f6d543,#f8cf3a,#f9c932,#fac228,#fbba1f,#fcb216,#fcaa0f,#fca108,#fb9706,#f98c0a,#f78212,#f3761b,#ee6a24,#e65d2f,#dd513a,#d04545,#c13a50,#b0315b,#9b2964,#87216b,#71196e,#59106e,#400a67,#260c51,#110a30,#030210,#000004)"></i><i style="background:linear-gradient(#010106,#050417,#140b34,#280b53,#400a67,#550f6d,#6a176e,#7f1e6c,#932667,#a52c60,#b63458,#c43c4e,#d04545,#da4e3c,#e35933,#e9612b,#ee6a24,#f2741c,#f57d15,#f8850f,#f98c0a,#fa9407,#fb9b06,#fca309,#fcaa0f,#fcb216,#fbb81d,#fbbe23,#fac62d,#f9c932,#f8cf3a,#f7d340,#f6d746,#f5d949,#f5db4c,#f5d949,#f6d746,#f7d13d,#f9c72f,#fbbc21,#fcac11,#fb9906,#f8850f,#f1711f,#e55c30,#d44842,#bf3952,#a52c60,#8c2369,#71196e,#57106e,#3e0966,#260c51,#120a32,#07051b,#02020c,#02020e,#040314,#060419,#050417,#02020c,#000004,#000004,#000004,#000004,#000004,#000004,#010005,#02020e,#040312,#030210,#02020c,#02010a,#060419,#110a30,#230c4c,#390963,#520e6d,#6c186e,#85216b,#9f2a63,#b93556,#d04545,#e45a31,#f1731d,#f98b0b,#fca309,#fbb81d,#f9c932,#f6d543,#f4df53,#f3e55d,#f2e865,#f2e865,#f2e865,#f2e661,#f3e35a,#f4df53,#f5d949,#f7d340,#f8cd37,#f9c72f,#fac026,#fbba1f,#fcb014,#fca80d,#fc9f07,#fb9606,#f98b0b,#f68013,#f2741c,#ec6726,#e55c30,#db503b,#cf4446,#bf3952,#ad305d,#9a2865,#84206b,#6d186e,#57106e,#3e0966,#260c51,#10092d,#030210,#000004)"></i><i style="background:linear-gradient(#010106,#050417,#140b34,#280b53,#3e0966,#540f6d,#69166e,#7d1e6d,#902568,#a32c61,#b43359,#c33b4f,#cf4446,#d94d3d,#e25734,#e8602d,#ed6925,#f1731d,#f57b17,#f78410,#f98b0b,#fa9207,#fb9906,#fca108,#fca80d,#fcb014,#fbb61a,#fbbe23,#fac42a,#f9c932,#f8cd37,#f7d340,#f6d543,#f5d949,#f5d949,#f5d949,#f6d543,#f7d13d,#f9c72f,#fbbc21,#fcac11,#fb9b06,#f8870e,#f1731d,#e65d2f,#d74b3f,#c13a50,#a92e5e,#8f2469,#741a6e,#5a116e,#420a68,#290b55,#160b39,#09061f,#02020e,#02020c,#040312,#050417,#040314,#02020c,#000004,#000004,#000004,#000004,#000004,#000004,#010005,#02020c,#030210,#02020e,#02010a,#02020c,#08051d,#140b34,#260c51,#3e0966,#550f6d,#6f196e,#88226a,#a32c61,#bc3754,#d34743,#e55c30,#f2741c,#f98c0a,#fca50a,#fbba1f,#f9c932,#f6d543,#f4df53,#f3e55d,#f2e661,#f2e865,#f2e661,#f3e55d,#f4e156,#f4dd4f,#f5d949,#f7d340,#f8cd37,#fac62d,#fac026,#fbb81d,#fcb014,#fca60c,#fb9d07,#fa9407,#f8890c,#f67e14,#f1731d,#eb6628,#e45a31,#d94d3d,#cc4248,#bd3853,#ab2f5e,#972766,#82206c,#6c186e,#550f6d,#3d0965,#240c4f,#10092d,#030210,#000004)"></i><i style="background:linear-gradient(#010106,#050417,#120a32,#260c51,#3d0965,#520e6d,#67166e,#7a1d6d,#8f2469,#a02a63,#b1325a,#c13a50,#ce4347,#d84c3e,#e05536,#e75e2e,#ec6726,#f1711f,#f47918,#f78212,#f8890c,#fa9207,#fb9906,#fc9f07,#fca60c,#fcae12,#fcb418,#fbbc21,#fac228,#f9c72f,#f8cd37,#f7d13d,#f6d543,#f6d746,#f5d949,#f6d746,#f6d543,#f8cf3a,#f9c72f,#fbbc21,#fcae12,#fb9b06,#f8890c,#f2741c,#e8602d,#d84c3e,#c43c4e,#ad305d,#922568,#781c6d,#5f136e,#450a69,#2d0b59,#190c3e,#0b0724,#030210,#02010a,#030210,#040314,#040312,#02020c,#000004,#000004,#000004,#000004,#000004,#000004,#010005,#02020c,#02020e,#02020c,#010108,#030210,#0a0722,#160b39,#290b55,#420a68,#5a116e,#721a6e,#8c2369,#a62d60,#bf3952,#d54a41,#e75e2e,#f3761b,#f98e09,#fca60c,#fbba1f,#f9c932,#f6d543,#f4df53,#f3e35a,#f2e661,#f2e661,#f2e661,#f3e55d,#f4e156,#f4dd4f,#f6d746,#f7d13d,#f9cb35,#fac42a,#fbbe23,#fbb61a,#fcae12,#fca50a,#fb9b06,#fa9207,#f8870e,#f57d15,#f1711f,#eb6429,#e25734,#d84c3e,#ca404a,#ba3655,#a82e5f,#952667,#7f1e6c,#6a176e,#520e6d,#3b0964,#230c4c,#0e092b,#02020e,#000004)"></i><i style="background:linear-gradient(#010106,#050417,#120a32,#240c4f,#3b0964,#510e6c,#64156e,#781c6d,#8c2369,#9f2a63,#b0315b,#bf3952,#cb4149,#d74b3f,#df5337,#e65d2f,#eb6628,#f06f20,#f37819,#f68013,#f8890c,#fa9008,#fb9706,#fc9f07,#fca60c,#fcac11,#fcb418,#fbba1f,#fac026,#fac62d,#f9cb35,#f8cf3a,#f7d340,#f6d543,#f6d746,#f6d746,#f7d340,#f8cf3a,#f9c72f,#fbbc21,#fcae12,#fb9d07,#f98b0b,#f3761b,#e9612b,#da4e3c,#c73e4c,#b0315b,#952667,#7c1d6d,#62146e,#4a0c6b,#320a5e,#1c0c43,#0d0829,#040314,#02010a,#02020e,#040312,#030210,#02010a,#000004,#000004,#000004,#000004,#000004,#000004,#010005,#02010a,#02020c,#02010a,#010108,#040312,#0c0826,#190c3e,#2f0a5b,#450a69,#5d126e,#751b6e,#8f2469,#a92e5e,#c13a50,#d84c3e,#e9612b,#f47918,#fa9008,#fca80d,#fbba1f,#f9c932,#f6d543,#f4dd4f,#f3e35a,#f3e55d,#f2e661,#f3e55d,#f3e35a,#f4df53,#f5db4c,#f6d543,#f8cf3a,#f9c932,#fac42a,#fbbc21,#fcb418,#fcac11,#fca309,#fb9906,#fa9008,#f8850f,#f57b17,#ef6e21,#ea632a,#e15635,#d54a41,#c83f4b,#b93556,#a62d60,#922568,#7d1e6d,#67166e,#510e6c,#390963,#210c4a,#0e092b,#02020e,#000004)"></i><i style="background:linear-gradient(#010106,#040314,#110a30,#230c4c,#390963,#4d0d6c,#62146e,#771c6d,#8a226a,#9b2964,#ad305d,#bd3853,#ca404a,#d44842,#de5238,#e55c30,#eb6429,#ef6e21,#f3761b,#f67e14,#f8870e,#f98e09,#fb9606,#fb9d07,#fca50a,#fcaa0f,#fcb216,#fbb81d,#fac026,#fac42a,#f9c932,#f8cd37,#f7d13d,#f6d543,#f6d543,#f6d543,#f7d340,#f8cf3a,#f9c72f,#fbbc21,#fcae12,#fc9f07,#f98c0a,#f37819,#ea632a,#db503b,#ca404a,#b3325a,#982766,#7f1e6c,#65156e,#4d0d6c,#360961,#1f0c48,#10092d,#050417,#02010a,#02010a,#030210,#030210,#02010a,#000004,#000004,#000004,#000004,#000004,#000004,#010005,#010108,#02010a,#010108,#02010a,#050417,#0e092b,#1e0c45,#320a5e,#4a0c6b,#61136e,#7a1d6d,#932667,#ad305d,#c43c4e,#d94d3d,#ea632a,#f57b17,#fa9207,#fca80d,#fbbc21,#f9c932,#f6d543,#f4dd4f,#f3e35a,#f3e55d,#f3e55d,#f3e55d,#f4e156,#f4df53,#f5d949,#f6d543,#f8cf3a,#f9c932,#fac228,#fbba1f,#fcb418,#fcaa0f,#fca108,#fb9706,#f98e09,#f78410,#f37819,#ef6c23,#e8602d,#e05536,#d44842,#c63d4d,#b63458,#a32c61,#902568,#7c1d6d,#65156e,#4f0d6c,#380962,#210c4a,#0e092b,#02020e,#000004)"></i><i style="background:linear-gradient(#010106,#040314,#110a30,#230c4c,#380962,#4c0c6b,#61136e,#741a6e,#87216b,#9a2865,#ab2f5e,#ba3655,#c83f4b,#d34743,#dd513a,#e45a31,#ea632a,#ef6c23,#f2741c,#f57d15,#f8850f,#f98c0a,#fa9407,#fb9b06,#fca309,#fcaa0f,#fcb014,#fbb81d,#fbbe23,#fac42a,#f9c72f,#f8cd37,#f7d13d,#f7d340,#f6d543,#f6d543,#f7d340,#f8cd37,#f9c72f,#fbbc21,#fcb014,#fc9f07,#f98c0a,#f47918,#eb6628,#de5238,#cb4149,#b63458,#9d2964,#82206c,#6a176e,#510e6c,#390963,#230c4c,#120a32,#07051b,#02020c,#010108,#02020c,#02020e,#02010a,#000004,#000004,#000004,#000004,#000004,#000004,#010005,#010108,#010108,#010106,#02020c,#07051b,#110a30,#210c4a,#360961,#4d0d6c,#65156e,#7d1e6d,#972766,#b0315b,#c73e4c,#db503b,#eb6628,#f57d15,#fa9407,#fcaa0f,#fbbc21,#f9c932,#f6d543,#f4dd4f,#f4e156,#f3e55d,#f3e55d,#f3e35a,#f4e156,#f4dd4f,#f5d949,#f7d340,#f8cd37,#f9c72f,#fac026,#fbba1f,#fcb216,#fca80d,#fca108,#fb9606,#f98c0a,#f78212,#f3761b,#ee6a24,#e75e2e,#de5238,#d24644,#c43c4e,#b3325a,#a22b62,#8d2369,#781c6d,#64156e,#4d0d6c,#360961,#1f0c48,#0d0829,#02020e,#000004)"></i><i style="background:linear-gradient(#010106,#040314,#10092d,#210c4a,#360961,#4a0c6b,#5d126e,#721a6e,#85216b,#972766,#a82e5f,#b93556,#c63d4d,#d24644,#db503b,#e35933,#e9612b,#ee6a24,#f2741c,#f57d15,#f78410,#f98c0a,#fa9407,#fb9906,#fca108,#fca80d,#fcb014,#fbb61a,#fbbc21,#fac228,#f9c72f,#f9cb35,#f8cf3a,#f7d13d,#f7d340,#f7d340,#f7d13d,#f8cd37,#fac62d,#fbbc21,#fcb014,#fca108,#f98e09,#f57b17,#ec6726,#e05536,#ce4347,#b93556,#a02a63,#87216b,#6d186e,#550f6d,#3e0966,#260c51,#150b37,#09061f,#02020e,#010108,#02010a,#02020c,#010108,#000004,#000004,#000004,#000004,#000004,#000004,#010005,#010106,#010106,#010106,#030210,#09061f,#140b34,#240c4f,#390963,#510e6c,#69166e,#801f6c,#9a2865,#b3325a,#ca404a,#de5238,#ec6726,#f67e14,#fb9606,#fcac11,#fbbe23,#f9cb35,#f6d543,#f4dd4f,#f4e156,#f3e35a,#f3e35a,#f4e156,#f4df53,#f5db4c,#f6d746,#f7d13d,#f9cb35,#fac62d,#fac026,#fbb81d,#fcb014,#fca80d,#fc9f07,#fb9606,#f98b0b,#f68013,#f2741c,#ed6925,#e65d2f,#dd513a,#d04545,#c13a50,#b1325a,#9f2a63,#8c2369,#771c6d,#61136e,#4c0c6b,#340a5f,#1e0c45,#0d0829,#02020e,#000004)"></i><i style="background:linear-gradient(#010106,#040314,#10092d,#1f0c48,#340a5f,#490b6a,#5c126e,#6f196e,#82206c,#952667,#a62d60,#b63458,#c43c4e,#cf4446,#d94d3d,#e25734,#e8602d,#ed6925,#f1731d,#f57b17,#f78212,#f98b0b,#fa9207,#fb9906,#fca108,#fca60c,#fcae12,#fcb418,#fbba1f,#fac026,#fac62d,#f9c932,#f8cd37,#f7d13d,#f7d340,#f7d340,#f7d13d,#f8cd37,#fac62d,#fbbc21,#fcb014,#fca108,#fa9008,#f57d15,#ed6925,#e15635,#d04545,#bc3754,#a32c61,#8a226a,#71196e,#59106e,#420a68,#2b0b57,#180c3c,#0b0724,#040312,#010108,#010108,#02010a,#010108,#000004,#000004,#000004,#000004,#000004,#000004,#000004,#010106,#010005,#010108,#040312,#0b0724,#160b39,#280b53,#3e0966,#550f6d,#6c186e,#84206b,#9d2964,#b63458,#cc4248,#e05536,#ee6a24,#f78212,#fb9706,#fcac11,#fbbe23,#f9cb35,#f6d543,#f5db4c,#f4e156,#f3e35a,#f3e35a,#f4e156,#f4df53,#f5db4c,#f6d543,#f7d13d,#f9cb35,#fac62d,#fbbe23,#fbb61a,#fcae12,#fca60c,#fb9d07,#fa9407,#f8890c,#f67e14,#f1731d,#eb6628,#e45a31,#da4e3c,#ce4347,#c03a51,#ae305c,#9d2964,#88226a,#741a6e,#5f136e,#4a0c6b,#320a5e,#1e0c45,#0c0826,#02020e,#000004)"></i><i style="background:linear-gradient(#010106,#040314,#0e092b,#1e0c45,#320a5e,#470b6a,#5a116e,#6d186e,#801f6c,#922568,#a32c61,#b43359,#c13a50,#ce4347,#d84c3e,#e05536,#e75e2e,#ec6726,#f1711f,#f47918,#f78212,#f8890c,#fa9008,#fb9706,#fc9f07,#fca50a,#fcac11,#fcb216,#fbba1f,#fac026,#fac42a,#f9c932,#f8cd37,#f8cf3a,#f7d13d,#f7d13d,#f8cf3a,#f9cb35,#fac62d,#fbbc21,#fcb014,#fca309,#fa9207,#f67e14,#ee6a24,#e25734,#d34743,#bf3952,#a62d60,#8d2369,#751b6e,#5d126e,#450a69,#2f0a5b,#1b0c41,#0d0829,#050417,#02010a,#010106,#010108,#010106,#000004,#000004,#000004,#000004,#000004,#000004,#000004,#010005,#010005,#02010a,#050417,#0d0829,#190c3e,#2b0b57,#420a68,#59106e,#6f196e,#88226a,#a02a63,#b93556,#cf4446,#e15635,#ef6c23,#f78410,#fb9906,#fcae12,#fbbe23,#f9cb35,#f6d543,#f5db4c,#f4df53,#f4e156,#f4e156,#f4df53,#f4dd4f,#f5d949,#f6d543,#f8cf3a,#f9c932,#fac42a,#fbbc21,#fbb61a,#fcac11,#fca50a,#fb9b06,#fa9207,#f8870e,#f57d15,#f1711f,#eb6429,#e35933,#d94d3d,#cc4248,#bd3853,#ad305d,#9a2865,#87216b,#721a6e,#5d126e,#490b6a,#320a5e,#1c0c43,#0c0826,#02020c,#000004)"></i><i style="background:linear-gradient(#010106,#040312,#0e092b,#1e0c45,#310a5c,#450a69,#59106e,#6c186e,#7d1e6d,#902568,#a22b62,#b1325a,#c03a51,#cc4248,#d74b3f,#df5337,#e65d2f,#eb6628,#f06f20,#f37819,#f68013,#f8870e,#f98e09,#fb9606,#fb9d07,#fca50a,#fcaa0f,#fcb216,#fbb81d,#fbbe23,#fac42a,#f9c72f,#f9cb35,#f8cf3a,#f8cf3a,#f7d13d,#f8cf3a,#f9cb35,#fac62d,#fbbc21,#fcb014,#fca309,#fa9207,#f68013,#ef6e21,#e45a31,#d44842,#c13a50,#a92e5e,#902568,#781c6d,#61136e,#4a0c6b,#320a5e,#1e0c45,#10092d,#07051b,#02020c,#010106,#010106,#010106,#000004,#000004,#000004,#000004,#000004,#000004,#000004,#010005,#010106,#02020e,#07051b,#10092d,#1c0c43,#310a5c,#450a69,#5c126e,#741a6e,#8c2369,#a32c61,#bc3754,#d04545,#e35933,#f06f20,#f8850f,#fb9b06,#fcb014,#fac026,#f9cb35,#f6d543,#f5db4c,#f4df53,#f4e156,#f4e156,#f4df53,#f5db4c,#f6d746,#f7d340,#f8cd37,#f9c72f,#fac228,#fbbc21,#fcb418,#fcac11,#fca309,#fb9906,#fa9008,#f8850f,#f57b17,#f06f20,#ea632a,#e25734,#d74b3f,#ca404a,#ba3655,#a92e5e,#982766,#84206b,#71196e,#5c126e,#470b6a,#310a5c,#1b0c41,#0c0826,#02020c,#000004)"></i><i style="background:linear-gradient(#010106,#040312,#0d0829,#1c0c43,#2f0a5b,#440a68,#57106e,#69166e,#7c1d6d,#8d2369,#9f2a63,#b0315b,#bd3853,#ca404a,#d44842,#de5238,#e55c30,#eb6429,#ef6e21,#f3761b,#f67e14,#f8850f,#f98e09,#fa9407,#fb9b06,#fca309,#fcaa0f,#fcb014,#fbb61a,#fbbc21,#fac228,#fac62d,#f9c932,#f8cd37,#f8cf3a,#f8cf3a,#f8cd37,#f9cb35,#fac62d,#fbbc21,#fcb216,#fca309,#fa9407,#f78212,#f06f20,#e55c30,#d74b3f,#c33b4f,#ad305d,#952667,#7c1d6d,#64156e,#4d0d6c,#380962,#230c4c,#120a32,#08051d,#030210,#010106,#010005,#010005,#000004,#000004,#000004,#000004,#000004,#000004,#000004,#010005,#010108,#030210,#09061f,#120a32,#210c4a,#340a5f,#4a0c6b,#5f136e,#771c6d,#8f2469,#a62d60,#bf3952,#d34743,#e55c30,#f1711f,#f8870e,#fb9d07,#fcb014,#fac026,#f9cb35,#f6d543,#f5db4c,#f4df53,#f4df53,#f4df53,#f4dd4f,#f5db4c,#f6d746,#f7d340,#f8cd37,#f9c72f,#fac228,#fbba1f,#fcb216,#fcaa0f,#fca108,#fb9706,#f98e09,#f78410,#f37819,#ef6c23,#e9612b,#e05536,#d54a41,#c83f4b,#b93556,#a82e5f,#952667,#82206c,#6d186e,#59106e,#450a69,#2f0a5b,#1b0c41,#0b0724,#02020c,#000004)"></i><i style="background:linear-gradient(#010005,#040312,#0d0829,#1b0c41,#2d0b59,#420a68,#540f6d,#67166e,#781c6d,#8c2369,#9d2964,#ad305d,#bc3754,#c83f4b,#d34743,#dd513a,#e45a31,#ea632a,#ef6c23,#f2741c,#f57d15,#f78410,#f98c0a,#fa9407,#fb9906,#fca108,#fca80d,#fcae12,#fcb418,#fbba1f,#fac026,#fac62d,#f9c932,#f9cb35,#f8cd37,#f8cf3a,#f8cd37,#f9c932,#fac62d,#fbbc21,#fcb216,#fca50a,#fa9407,#f78410,#f1711f,#e75e2e,#d84c3e,#c63d4d,#b0315b,#982766,#7f1e6c,#69166e,#510e6c,#3b0964,#260c51,#150b37,#0a0722,#040312,#010108,#010005,#010005,#000004,#000004,#000004,#000004,#000004,#000004,#000004,#010005,#02010a,#040314,#0a0722,#150b37,#240c4f,#380962,#4d0d6c,#64156e,#7a1d6d,#922568,#a92e5e,#c03a51,#d54a41,#e65d2f,#f1731d,#f8890c,#fc9f07,#fcb216,#fac026,#f9cb35,#f6d543,#f5db4c,#f4dd4f,#f4df53,#f4df53,#f4dd4f,#f5d949,#f6d543,#f7d13d,#f9cb35,#fac62d,#fac026,#fbb81d,#fcb014,#fca80d,#fc9f07,#fb9606,#f98c0a,#f78212,#f3761b,#ee6a24,#e75e2e,#df5337,#d34743,#c63d4d,#b63458,#a52c60,#932667,#7f1e6c,#6c186e,#57106e,#440a68,#2d0b59,#190c3e,#0b0724,#02020c,#000004)"></i><i style="background:linear-gradient(#010005,#040312,#0c0826,#1b0c41,#2d0b59,#400a67,#520e6d,#65156e,#771c6d,#88226a,#9a2865,#ab2f5e,#ba3655,#c73e4c,#d24644,#db503b,#e25734,#e9612b,#ee6a24,#f1731d,#f57b17,#f78410,#f98b0b,#fa9207,#fb9906,#fc9f07,#fca60c,#fcac11,#fcb418,#fbba1f,#fbbe23,#fac42a,#f9c72f,#f9cb35,#f8cd37,#f8cd37,#f9cb35,#f9c932,#fac42a,#fbbc21,#fcb216,#fca50a,#fb9606,#f8850f,#f1731d,#e8602d,#da4e3c,#c83f4b,#b3325a,#9b2964,#84206b,#6c186e,#550f6d,#3e0966,#290b55,#180c3c,#0c0826,#050417,#02010a,#010005,#000004,#000004,#000004,#000004,#000004,#000004,#000004,#000004,#010106,#02020c,#050417,#0c0826,#180c3c,#280b53,#3b0964,#510e6c,#67166e,#7d1e6d,#952667,#ad305d,#c33b4f,#d84c3e,#e8602d,#f3761b,#f98b0b,#fc9f07,#fcb216,#fac228,#f9cb35,#f6d543,#f5d949,#f4dd4f,#f4df53,#f4dd4f,#f5db4c,#f5d949,#f6d543,#f8cf3a,#f9cb35,#fac62d,#fbbe23,#fbb81d,#fcb014,#fca60c,#fb9d07,#fa9407,#f98b0b,#f68013,#f2741c,#ed6925,#e65d2f,#dd513a,#d24644,#c43c4e,#b43359,#a32c61,#902568,#7d1e6d,#6a176e,#550f6d,#420a68,#2b0b57,#190c3e,#0a0722,#02020c,#000004)"></i><i style="background:linear-gradient(#010005,#040312,#0c0826,#190c3e,#2b0b57,#3e0966,#510e6c,#62146e,#751b6e,#87216b,#982766,#a82e5f,#b73557,#c43c4e,#d04545,#d94d3d,#e15635,#e8602d,#ed6925,#f1711f,#f47918,#f78212,#f8890c,#fa9008,#fb9706,#fc9f07,#fca50a,#fcac11,#fcb216,#fbb81d,#fbbe23,#fac228,#fac62d,#f9c932,#f9cb35,#f8cd37,#f9cb35,#f9c932,#fac42a,#fbbc21,#fcb216,#fca50a,#fb9706,#f8850f,#f2741c,#e9612b,#db503b,#cb4149,#b63458,#9f2a63,#87216b,#6f196e,#59106e,#440a68,#2d0b59,#1b0c41,#0e092b,#07051b,#02020e,#010106,#000004,#000004,#000004,#000004,#000004,#000004,#000004,#000004,#010106,#02020e,#07051b,#0e092b,#1b0c41,#2b0b57,#400a67,#540f6d,#6a176e,#82206c,#982766,#b0315b,#c63d4d,#da4e3c,#e9612b,#f37819,#f98c0a,#fca108,#fcb418,#fac228,#f9cb35,#f7d340,#f5d949,#f4dd4f,#f4dd4f,#f4dd4f,#f5db4c,#f6d746,#f7d340,#f8cf3a,#f9c932,#fac42a,#fbbe23,#fbb61a,#fcae12,#fca50a,#fb9d07,#fa9207,#f8890c,#f67e14,#f1731d,#ec6726,#e55c30,#db503b,#cf4446,#c13a50,#b1325a,#a02a63,#8f2469,#7c1d6d,#67166e,#540f6d,#400a67,#2b0b57,#180c3c,#0a0722,#02020c,#000004)"></i><i style="background:linear-gradient(#010005,#030210,#0c0826,#190c3e,#290b55,#3d0965,#4f0d6c,#61136e,#721a6e,#84206b,#952667,#a62d60,#b63458,#c33b4f,#ce4347,#d84c3e,#e05536,#e75e2e,#ec6726,#f06f20,#f37819,#f68013,#f8870e,#f98e09,#fb9606,#fb9d07,#fca50a,#fcaa0f,#fcb014,#fbb61a,#fbbc21,#fac228,#fac62d,#f9c72f,#f9cb35,#f9cb35,#f9cb35,#f9c72f,#fac42a,#fbbc21,#fcb216,#fca60c,#fb9706,#f8870e,#f3761b,#ea632a,#de5238,#cc4248,#b93556,#a22b62,#8a226a,#721a6e,#5c126e,#470b6a,#320a5e,#1f0c48,#110a30,#08051d,#030210,#010108,#010005,#000004,#000004,#000004,#000004,#000004,#000004,#000004,#010108,#040312,#09061f,#110a30,#1e0c45,#2f0a5b,#440a68,#59106e,#6d186e,#85216b,#9b2964,#b3325a,#c83f4b,#db503b,#eb6429,#f47918,#f98e09,#fca309,#fcb418,#fac228,#f9cb35,#f7d340,#f5d949,#f5db4c,#f4dd4f,#f5db4c,#f5d949,#f6d746,#f7d340,#f8cd37,#f9c72f,#fac228,#fbbc21,#fcb418,#fcac11,#fca50a,#fb9b06,#fa9008,#f8870e,#f57d15,#f1711f,#eb6429,#e35933,#d94d3d,#ce4347,#c03a51,#b0315b,#9f2a63,#8c2369,#781c6d,#65156e,#520e6d,#3e0966,#290b55,#160b39,#0a0722,#02020c,#000004)"></i><i style="background:linear-gradient(#010005,#030210,#0b0724,#180c3c,#280b53,#3b0964,#4d0d6c,#5f136e,#71196e,#82206c,#932667,#a32c61,#b3325a,#c03a51,#cc4248,#d74b3f,#df5337,#e65d2f,#eb6628,#ef6e21,#f3761b,#f67e14,#f8850f,#f98e09,#fb9606,#fb9b06,#fca309,#fca80d,#fcb014,#fbb61a,#fbba1f,#fac026,#fac42a,#f9c72f,#f9c932,#f9cb35,#f9c932,#f9c72f,#fac42a,#fbbc21,#fcb216,#fca60c,#fb9906,#f8890c,#f37819,#eb6628,#df5337,#cf4446,#bc3754,#a52c60,#8d2369,#771c6d,#61136e,#4a0c6b,#360961,#230c4c,#140b34,#0a0722,#040314,#02010a,#010005,#000004,#000004,#000004,#000004,#000004,#000004,#010005,#02010a,#040314,#0a0722,#140b34,#210c4a,#320a5e,#470b6a,#5c126e,#721a6e,#88226a,#9f2a63,#b63458,#cb4149,#de5238,#eb6628,#f57b17,#fa9008,#fca50a,#fbb61a,#fac228,#f8cd37,#f7d340,#f5d949,#f5db4c,#f5db4c,#f5db4c,#f5d949,#f6d543,#f7d13d,#f8cd37,#f9c72f,#fac228,#fbba1f,#fcb418,#fcaa0f,#fca309,#fb9906,#fa9008,#f8850f,#f47918,#f06f20,#ea632a,#e25734,#d84c3e,#cb4149,#bd3853,#ae305c,#9d2964,#8a226a,#771c6d,#64156e,#510e6c,#3d0965,#280b53,#160b39,#09061f,#02020c,#000004)"></i><i style="background:linear-gradient(#010005,#030210,#0b0724,#160b39,#280b53,#390963,#4c0c6b,#5d126e,#6f196e,#801f6c,#902568,#a22b62,#b1325a,#bf3952,#cb4149,#d44842,#de5238,#e45a31,#eb6429,#ef6c23,#f2741c,#f57d15,#f8850f,#f98c0a,#fa9407,#fb9906,#fca108,#fca80d,#fcae12,#fcb418,#fbba1f,#fbbe23,#fac228,#fac62d,#f9c72f,#f9c932,#f9c932,#f9c72f,#fac42a,#fbbc21,#fcb418,#fca60c,#fb9906,#f98b0b,#f47918,#ec6726,#e15635,#d24644,#bf3952,#a82e5f,#922568,#7a1d6d,#64156e,#4f0d6c,#390963,#260c51,#160b39,#0c0826,#050417,#02020c,#010106,#000004,#000004,#000004,#000004,#000004,#000004,#010005,#02020c,#050417,#0c0826,#160b39,#240c4f,#380962,#4a0c6b,#5f136e,#751b6e,#8c2369,#a22b62,#b93556,#ce4347,#df5337,#ec6726,#f57d15,#fa9207,#fca50a,#fbb61a,#fac42a,#f8cd37,#f7d340,#f5d949,#f5db4c,#f5db4c,#f5d949,#f6d746,#f6d543,#f7d13d,#f9cb35,#fac62d,#fac026,#fbba1f,#fcb216,#fcaa0f,#fca108,#fb9706,#f98e09,#f78410,#f37819,#ef6c23,#e9612b,#e15635,#d74b3f,#ca404a,#bc3754,#ab2f5e,#9a2865,#88226a,#751b6e,#62146e,#4f0d6c,#3b0964,#260c51,#150b37,#09061f,#02020c,#000004)"></i><i style="background:linear-gradient(#010005,#030210,#0b0724,#160b39,#260c51,#380962,#4a0c6b,#5c126e,#6c186e,#7d1e6d,#8f2469,#9f2a63,#ae305c,#bd3853,#c83f4b,#d34743,#dd513a,#e35933,#ea632a,#ee6a24,#f2741c,#f57b17,#f78410,#f98b0b,#fa9207,#fb9906,#fc9f07,#fca60c,#fcac11,#fcb216,#fbb81d,#fbbe23,#fac228,#fac62d,#f9c72f,#f9c932,#f9c72f,#fac62d,#fac228,#fbbc21,#fcb418,#fca80d,#fb9b06,#f98b0b,#f57b17,#ed6925,#e25734,#d34743,#c13a50,#ab2f5e,#952667,#7d1e6d,#67166e,#520e6d,#3d0965,#290b55,#190c3e,#0e092b,#07051b,#02020e,#010106,#000004,#000004,#000004,#000004,#000004,#000004,#010005,#02020c,#060419,#0d0829,#190c3e,#280b53,#3b0964,#4f0d6c,#62146e,#781c6d,#8f2469,#a52c60,#bc3754,#d04545,#e15635,#ee6a24,#f68013,#fa9407,#fca60c,#fbb61a,#fac42a,#f8cd37,#f7d340,#f6d746,#f5d949,#f5d949,#f5d949,#f6d746,#f7d340,#f8cf3a,#f9c932,#fac42a,#fbbe23,#fbb81d,#fcb014,#fca80d,#fc9f07,#fb9606,#f98c0a,#f78212,#f3761b,#ee6a24,#e8602d,#df5337,#d44842,#c73e4c,#b93556,#a92e5e,#982766,#85216b,#721a6e,#61136e,#4d0d6c,#390963,#260c51,#150b37,#09061f,#02010a,#000004)"></i><i style="background:linear-gradient(#010005,#030210,#0a0722,#150b37,#240c4f,#360961,#490b6a,#59106e,#6a176e,#7c1d6d,#8d2369,#9d2964,#ad305d,#ba3655,#c73e4c,#d24644,#da4e3c,#e25734,#e9612b,#ed6925,#f1731d,#f57b17,#f78212,#f8890c,#fa9008,#fb9706,#fc9f07,#fca50a,#fcac11,#fcb216,#fbb61a,#fbbc21,#fac026,#fac42a,#fac62d,#f9c72f,#f9c72f,#fac62d,#fac228,#fbbc21,#fcb418,#fca80d,#fb9b06,#f98c0a,#f57d15,#ee6a24,#e45a31,#d54a41,#c43c4e,#ae305c,#982766,#801f6c,#6a176e,#550f6d,#420a68,#2d0b59,#1c0c43,#110a30,#08051d,#030210,#010108,#000004,#000004,#000004,#000004,#000004,#000004,#010005,#02020e,#07051b,#10092d,#1b0c41,#2b0b57,#3e0966,#520e6d,#67166e,#7c1d6d,#922568,#a82e5f,#bf3952,#d24644,#e35933,#ef6c23,#f78212,#fb9606,#fca80d,#fbb81d,#fac42a,#f9cb35,#f7d340,#f6d746,#f5d949,#f5d949,#f6d746,#f6d543,#f7d13d,#f8cd37,#f9c932,#fac42a,#fbbe23,#fbb61a,#fcae12,#fca60c,#fb9d07,#fa9407,#f8890c,#f68013,#f2741c,#ed6925,#e65d2f,#de5238,#d34743,#c63d4d,#b73557,#a62d60,#952667,#84206b,#71196e,#5d126e,#4c0c6b,#380962,#240c4f,#140b34,#09061f,#02010a,#000004)"></i><i style="background:linear-gradient(#010005,#030210,#0a0722,#150b37,#230c4c,#340a5f,#470b6a,#57106e,#69166e,#7a1d6d,#8a226a,#9a2865,#a92e5e,#b93556,#c63d4d,#d04545,#d94d3d,#e15635,#e75e2e,#ec6726,#f1711f,#f47918,#f68013,#f8890c,#fa9008,#fb9606,#fb9d07,#fca50a,#fcaa0f,#fcb014,#fbb61a,#fbba1f,#fac026,#fac42a,#fac62d,#f9c72f,#f9c72f,#fac62d,#fac228,#fbbc21,#fcb418,#fca80d,#fb9d07,#f98e09,#f67e14,#ef6c23,#e55c30,#d74b3f,#c63d4d,#b1325a,#9b2964,#85216b,#6f196e,#59106e,#450a69,#320a5e,#1f0c48,#120a32,#0a0722,#040312,#010108,#000004,#000004,#000004,#000004,#000004,#000004,#010005,#030210,#09061f,#120a32,#1e0c45,#2f0a5b,#420a68,#550f6d,#6a176e,#7f1e6c,#952667,#ab2f5e,#c03a51,#d44842,#e45a31,#ef6e21,#f78410,#fb9706,#fca80d,#fbb81d,#fac42a,#f9cb35,#f7d13d,#f6d543,#f6d746,#f6d746,#f6d746,#f7d340,#f7d13d,#f9cb35,#f9c72f,#fac228,#fbbc21,#fcb418,#fcac11,#fca50a,#fb9b06,#fa9207,#f8870e,#f57d15,#f1731d,#ec6726,#e55c30,#dd513a,#d04545,#c43c4e,#b43359,#a52c60,#932667,#82206c,#6f196e,#5c126e,#4a0c6b,#360961,#230c4c,#140b34,#08051d,#02010a,#000004)"></i><i style="background:linear-gradient(#010005,#02020e,#0a0722,#140b34,#230c4c,#340a5f,#450a69,#550f6d,#67166e,#771c6d,#88226a,#982766,#a82e5f,#b73557,#c33b4f,#ce4347,#d84c3e,#e05536,#e65d2f,#eb6628,#f06f20,#f37819,#f67e14,#f8870e,#f98e09,#fb9606,#fb9b06,#fca309,#fca80d,#fcae12,#fcb418,#fbba1f,#fbbe23,#fac228,#fac42a,#fac62d,#fac62d,#fac62d,#fac228,#fbbc21,#fcb418,#fcaa0f,#fb9d07,#fa9008,#f68013,#ef6e21,#e65d2f,#d94d3d,#c83f4b,#b43359,#9f2a63,#88226a,#721a6e,#5d126e,#490b6a,#360961,#230c4c,#150b37,#0b0724,#050417,#02010a,#000004,#000004,#000004,#000004,#000004,#000004,#010005,#030210,#0a0722,#140b34,#210c4a,#320a5e,#450a69,#59106e,#6d186e,#82206c,#982766,#ae305c,#c33b4f,#d74b3f,#e55c30,#f1711f,#f78410,#fb9706,#fcaa0f,#fbb81d,#fac42a,#f9cb35,#f7d13d,#f6d543,#f6d746,#f6d746,#f6d543,#f7d340,#f8cf3a,#f9cb35,#fac62d,#fac026,#fbba1f,#fcb216,#fcaa0f,#fca309,#fb9906,#fa9008,#f8850f,#f57b17,#f1711f,#eb6429,#e45a31,#da4e3c,#cf4446,#c13a50,#b3325a,#a32c61,#922568,#7f1e6c,#6d186e,#5a116e,#490b6a,#360961,#230c4c,#140b34,#08051d,#02010a,#000004)"></i><i style="background:linear-gradient(#010005,#02020e,#09061f,#140b34,#210c4a,#320a5e,#440a68,#540f6d,#65156e,#751b6e,#85216b,#972766,#a62d60,#b43359,#c13a50,#cc4248,#d74b3f,#df5337,#e55c30,#eb6429,#ef6e21,#f3761b,#f67e14,#f8850f,#f98c0a,#fa9407,#fb9b06,#fca108,#fca80d,#fcae12,#fcb418,#fbb81d,#fbbe23,#fac228,#fac42a,#fac62d,#fac62d,#fac42a,#fac228,#fbbc21,#fcb418,#fcaa0f,#fc9f07,#fa9008,#f68013,#f1711f,#e8602d,#db503b,#cb4149,#b73557,#a22b62,#8c2369,#751b6e,#61136e,#4d0d6c,#390963,#280b53,#180c3c,#0d0829,#060419,#02010a,#000004,#000004,#000004,#000004,#000004,#000004,#010106,#040312,#0b0724,#160b39,#240c4f,#360961,#490b6a,#5c126e,#71196e,#87216b,#9b2964,#b1325a,#c63d4d,#d84c3e,#e75e2e,#f1731d,#f8850f,#fb9906,#fcaa0f,#fbb81d,#fac42a,#f9cb35,#f7d13d,#f6d543,#f6d543,#f6d543,#f7d340,#f7d13d,#f8cd37,#f9c932,#fac42a,#fbbe23,#fbb81d,#fcb216,#fca80d,#fca108,#fb9706,#f98e09,#f78410,#f47918,#ef6e21,#ea632a,#e25734,#d94d3d,#ce4347,#c03a51,#b1325a,#a02a63,#8f2469,#7d1e6d,#6c186e,#59106e,#470b6a,#340a5f,#210c4a,#120a32,#08051d,#02010a,#000004)"></i><i style="background:linear-gradient(#010005,#02020e,#09061f,#120a32,#1f0c48,#310a5c,#420a68,#520e6d,#62146e,#741a6e,#84206b,#932667,#a32c61,#b3325a,#c03a51,#cb4149,#d54a41,#de5238,#e45a31,#ea632a,#ef6c23,#f2741c,#f57d15,#f78410,#f98b0b,#fa9207,#fb9906,#fc9f07,#fca60c,#fcac11,#fcb216,#fbb81d,#fbbc21,#fac026,#fac228,#fac42a,#fac62d,#fac42a,#fac026,#fbbc21,#fcb418,#fcaa0f,#fc9f07,#fa9207,#f78212,#f1731d,#e9612b,#dd513a,#cc4248,#ba3655,#a52c60,#8f2469,#7a1d6d,#64156e,#510e6c,#3d0965,#2b0b57,#1b0c41,#0e092b,#07051b,#02020c,#000004,#000004,#000004,#000004,#000004,#000004,#010106,#040314,#0c0826,#180c3c,#280b53,#390963,#4d0d6c,#61136e,#741a6e,#8a226a,#9f2a63,#b43359,#c83f4b,#da4e3c,#e8602d,#f2741c,#f8870e,#fb9b06,#fcaa0f,#fbb81d,#fac42a,#f9cb35,#f7d13d,#f7d340,#f6d543,#f6d543,#f7d340,#f8cf3a,#f8cd37,#f9c72f,#fac42a,#fbbe23,#fbb61a,#fcb014,#fca60c,#fc9f07,#fb9606,#f98c0a,#f78212,#f37819,#ef6c23,#e9612b,#e15635,#d74b3f,#cb4149,#bd3853,#ae305c,#9f2a63,#8d2369,#7c1d6d,#6a176e,#57106e,#450a69,#320a5e,#210c4a,#120a32,#07051b,#02010a,#000004)"></i><i style="background:linear-gradient(#010005,#02020e,#09061f,#120a32,#1f0c48,#2f0a5b,#400a67,#510e6c,#61136e,#721a6e,#82206c,#922568,#a22b62,#b0315b,#bd3853,#ca404a,#d34743,#dd513a,#e35933,#e9612b,#ee6a24,#f1731d,#f57b17,#f78212,#f98b0b,#fa9207,#fb9706,#fc9f07,#fca50a,#fcaa0f,#fcb014,#fbb61a,#fbba1f,#fbbe23,#fac228,#fac42a,#fac42a,#fac42a,#fac026,#fbbc21,#fcb418,#fcac11,#fc9f07,#fa9207,#f78410,#f2741c,#ea632a,#de5238,#cf4446,#bd3853,#a82e5f,#922568,#7d1e6d,#69166e,#540f6d,#400a67,#2f0a5b,#1e0c45,#110a30,#08051d,#02020e,#000004,#000004,#000004,#000004,#000004,#000004,#010106,#050417,#0e092b,#1b0c41,#2b0b57,#3d0965,#510e6c,#64156e,#771c6d,#8d2369,#a22b62,#b73557,#cb4149,#db503b,#ea632a,#f3761b,#f8890c,#fb9b06,#fcac11,#fbba1f,#fac42a,#f9cb35,#f8cf3a,#f7d340,#f7d340,#f7d340,#f7d13d,#f8cf3a,#f9cb35,#f9c72f,#fac228,#fbbc21,#fbb61a,#fcae12,#fca60c,#fb9d07,#fa9407,#f98b0b,#f68013,#f3761b,#ee6a24,#e8602d,#e05536,#d54a41,#ca404a,#bc3754,#ad305d,#9d2964,#8c2369,#7a1d6d,#67166e,#550f6d,#440a68,#310a5c,#1f0c48,#110a30,#07051b,#02010a,#000004)"></i><i style="background:linear-gradient(#010005,#02020e,#08051d,#120a32,#1e0c45,#2d0b59,#3e0966,#4f0d6c,#5f136e,#6f196e,#801f6c,#902568,#9f2a63,#ae305c,#bc3754,#c73e4c,#d24644,#da4e3c,#e25734,#e8602d,#ed6925,#f1711f,#f47918,#f78212,#f8890c,#fa9008,#fb9706,#fb9d07,#fca50a,#fcaa0f,#fcb014,#fbb61a,#fbba1f,#fbbe23,#fac228,#fac42a,#fac42a,#fac228,#fac026,#fbbc21,#fcb418,#fcac11,#fca108,#fa9407,#f8850f,#f3761b,#eb6429,#e05536,#d24644,#c03a51,#ab2f5e,#972766,#801f6c,#6c186e,#57106e,#450a69,#320a5e,#210c4a,#140b34,#09061f,#02020e,#000004,#000004,#000004,#000004,#000004,#000004,#010106,#050417,#10092d,#1e0c45,#2f0a5b,#400a67,#540f6d,#67166e,#7c1d6d,#902568,#a52c60,#b93556,#cc4248,#de5238,#eb6429,#f37819,#f98b0b,#fb9d07,#fcac11,#fbba1f,#fac42a,#f9c932,#f8cf3a,#f7d13d,#f7d340,#f7d340,#f7d13d,#f8cd37,#f9c932,#fac62d,#fac026,#fbba1f,#fcb418,#fcac11,#fca50a,#fb9b06,#fa9207,#f8890c,#f67e14,#f2741c,#ed6925,#e65d2f,#de5238,#d44842,#c73e4c,#ba3655,#ab2f5e,#9a2865,#8a226a,#781c6d,#65156e,#540f6d,#420a68,#310a5c,#1f0c48,#110a30,#07051b,#02010a,#000004)"></i><i style="background:linear-gradient(#010005,#02020e,#08051d,#110a30,#1e0c45,#2d0b59,#3d0965,#4d0d6c,#5d126e,#6d186e,#7d1e6d,#8d2369,#9d2964,#ad305d,#ba3655,#c63d4d,#d04545,#d94d3d,#e15635,#e75e2e,#ec6726,#f06f20,#f37819,#f68013,#f8870e,#f98e09,#fb9606,#fb9d07,#fca309,#fca80d,#fcae12,#fcb418,#fbb81d,#fbbc21,#fac026,#fac228,#fac42a,#fac228,#fac026,#fbbc21,#fbb61a,#fcac11,#fca108,#fb9606,#f8870e,#f37819,#eb6628,#e15635,#d34743,#c33b4f,#ae305c,#9a2865,#84206b,#6f196e,#5c126e,#490b6a,#360961,#240c4f,#150b37,#0a0722,#030210,#000004,#000004,#000004,#000004,#000004,#000004,#010106,#060419,#110a30,#1f0c48,#320a5e,#440a68,#57106e,#6a176e,#7f1e6c,#932667,#a82e5f,#bc3754,#cf4446,#df5337,#eb6628,#f47918,#f98c0a,#fb9d07,#fcae12,#fbba1f,#fac42a,#f9c932,#f8cf3a,#f7d13d,#f7d13d,#f7d13d,#f8cf3a,#f8cd37,#f9c932,#fac42a,#fbbe23,#fbb81d,#fcb216,#fcaa0f,#fca309,#fb9906,#fa9008,#f8870e,#f57d15,#f1731d,#ec6726,#e55c30,#dd513a,#d24644,#c63d4d,#b73557,#a82e5f,#982766,#87216b,#751b6e,#64156e,#520e6d,#400a67,#2f0a5b,#1e0c45,#110a30,#07051b,#02010a,#000004)"></i><i style="background:linear-gradient(#010005,#02020e,#08051d,#110a30,#1c0c43,#2b0b57,#3b0964,#4c0c6b,#5c126e,#6c186e,#7c1d6d,#8c2369,#9b2964,#a92e5e,#b73557,#c43c4e,#cf4446,#d84c3e,#e05536,#e65d2f,#eb6628,#ef6e21,#f3761b,#f67e14,#f8850f,#f98e09,#fa9407,#fb9b06,#fca108,#fca80d,#fcae12,#fcb216,#fbb81d,#fbbc21,#fac026,#fac228,#fac228,#fac228,#fac026,#fbbc21,#fbb61a,#fcac11,#fca309,#fb9606,#f8870e,#f47918,#ed6925,#e35933,#d54a41,#c43c4e,#b1325a,#9d2964,#87216b,#721a6e,#5f136e,#4c0c6b,#390963,#280b53,#180c3c,#0b0724,#030210,#010005,#000004,#000004,#000004,#000004,#000004,#010106,#07051b,#120a32,#230c4c,#340a5f,#490b6a,#5a116e,#6d186e,#82206c,#972766,#ab2f5e,#bf3952,#d24644,#e15635,#ed6925,#f57b17,#f98e09,#fc9f07,#fcae12,#fbba1f,#fac42a,#f9c932,#f8cd37,#f7d13d,#f7d13d,#f7d13d,#f8cf3a,#f9cb35,#f9c72f,#fac42a,#fbbe23,#fbb81d,#fcb014,#fca80d,#fca108,#fb9706,#f98e09,#f8850f,#f57b17,#f06f20,#eb6628,#e45a31,#db503b,#d04545,#c43c4e,#b63458,#a62d60,#972766,#85216b,#741a6e,#62146e,#510e6c,#400a67,#2d0b59,#1c0c43,#10092d,#07051b,#02010a,#000004)"></i><i style="background:linear-gradient(#010005,#02020e,#08051d,#10092d,#1c0c43,#290b55,#3b0964,#4a0c6b,#5a116e,#6a176e,#7a1d6d,#8a226a,#982766,#a82e5f,#b63458,#c33b4f,#cc4248,#d74b3f,#df5337,#e55c30,#eb6429,#ef6e21,#f3761b,#f57d15,#f8850f,#f98c0a,#fa9407,#fb9906,#fca108,#fca60c,#fcac11,#fcb216,#fbb61a,#fbba1f,#fbbe23,#fac026,#fac228,#fac228,#fac026,#fbbc21,#fbb61a,#fcae12,#fca309,#fb9706,#f8890c,#f57b17,#ee6a24,#e45a31,#d74b3f,#c73e4c,#b43359,#a02a63,#8c2369,#771c6d,#62146e,#4f0d6c,#3d0965,#290b55,#190c3e,#0c0826,#040312,#010005,#000004,#000004,#000004,#000004,#000004,#010106,#08051d,#150b37,#240c4f,#380962,#4c0c6b,#5d126e,#71196e,#85216b,#9a2865,#ae305c,#c13a50,#d34743,#e25734,#ee6a24,#f57d15,#f98e09,#fca108,#fcae12,#fbba1f,#fac42a,#f9c932,#f8cd37,#f8cf3a,#f7d13d,#f8cf3a,#f8cd37,#f9c932,#fac62d,#fac228,#fbbc21,#fbb61a,#fcae12,#fca60c,#fc9f07,#fb9606,#f98c0a,#f78410,#f47918,#ef6e21,#ea632a,#e35933,#da4e3c,#cf4446,#c13a50,#b43359,#a52c60,#952667,#84206b,#721a6e,#61136e,#4f0d6c,#3e0966,#2d0b59,#1c0c43,#10092d,#060419,#02010a,#000004)"></i><i style="background:linear-gradient(#010005,#02020c,#07051b,#10092d,#1b0c41,#290b55,#390963,#490b6a,#59106e,#69166e,#781c6d,#87216b,#972766,#a62d60,#b43359,#c03a51,#cb4149,#d54a41,#de5238,#e45a31,#ea632a,#ef6c23,#f2741c,#f57d15,#f78410,#f98b0b,#fa9207,#fb9906,#fc9f07,#fca50a,#fcaa0f,#fcb014,#fbb61a,#fbba1f,#fbbe23,#fac026,#fac228,#fac026,#fbbe23,#fbbc21,#fbb61a,#fcae12,#fca309,#fb9706,#f98b0b,#f57b17,#ef6c23,#e55c30,#d94d3d,#ca404a,#b73557,#a32c61,#8f2469,#7a1d6d,#65156e,#540f6d,#400a67,#2d0b59,#1c0c43,#0e092b,#040312,#010005,#000004,#000004,#000004,#000004,#000004,#010108,#08051d,#160b39,#280b53,#3b0964,#4f0d6c,#61136e,#741a6e,#88226a,#9d2964,#b1325a,#c43c4e,#d54a41,#e45a31,#ef6c23,#f67e14,#fa9008,#fca108,#fcb014,#fbba1f,#fac42a,#f9c932,#f8cd37,#f8cf3a,#f8cf3a,#f8cf3a,#f9cb35,#f9c932,#fac62d,#fac026,#fbba1f,#fcb418,#fcae12,#fca60c,#fb9d07,#fa9407,#f98b0b,#f78212,#f37819,#ef6c23,#e9612b,#e25734,#d84c3e,#ce4347,#c03a51,#b3325a,#a32c61,#922568,#82206c,#71196e,#5f136e,#4f0d6c,#3d0965,#2b0b57,#1b0c41,#0e092b,#060419,#02010a,#000004)"></i><i style="background:linear-gradient(#010005,#02020c,#07051b,#10092d,#1b0c41,#280b53,#380962,#470b6a,#57106e,#67166e,#751b6e,#85216b,#952667,#a32c61,#b1325a,#bf3952,#ca404a,#d44842,#dd513a,#e35933,#e9612b,#ee6a24,#f1731d,#f57b17,#f78212,#f8890c,#fa9008,#fb9706,#fb9d07,#fca50a,#fcaa0f,#fcb014,#fcb418,#fbb81d,#fbbc21,#fac026,#fac026,#fac026,#fbbe23,#fbbc21,#fbb61a,#fcae12,#fca50a,#fb9906,#f98c0a,#f57d15,#ef6e21,#e75e2e,#da4e3c,#cb4149,#ba3655,#a62d60,#922568,#7d1e6d,#6a176e,#57106e,#440a68,#310a5c,#1f0c48,#10092d,#040314,#010005,#000004,#000004,#000004,#000004,#000004,#010108,#09061f,#180c3c,#2b0b57,#3e0966,#520e6d,#65156e,#781c6d,#8c2369,#a02a63,#b3325a,#c63d4d,#d74b3f,#e55c30,#ef6e21,#f68013,#fa9207,#fca309,#fcb014,#fbba1f,#fac42a,#f9c932,#f8cd37,#f8cd37,#f8cf3a,#f8cd37,#f9cb35,#f9c72f,#fac42a,#fac026,#fbba1f,#fcb418,#fcac11,#fca50a,#fb9b06,#fa9207,#f8890c,#f68013,#f3761b,#ee6a24,#e8602d,#e05536,#d74b3f,#cb4149,#bf3952,#b0315b,#a02a63,#902568,#801f6c,#6f196e,#5d126e,#4d0d6c,#3b0964,#290b55,#1b0c41,#0e092b,#060419,#02010a,#000004)"></i><i style="background:linear-gradient(#010005,#02020c,#07051b,#0e092b,#190c3e,#260c51,#360961,#450a69,#550f6d,#65156e,#741a6e,#84206b,#932667,#a22b62,#b0315b,#bd3853,#c83f4b,#d24644,#db503b,#e25734,#e8602d,#ed6925,#f1711f,#f47918,#f68013,#f8890c,#fa9008,#fb9606,#fb9d07,#fca309,#fca80d,#fcae12,#fcb418,#fbb81d,#fbbc21,#fbbe23,#fac026,#fac026,#fbbe23,#fbba1f,#fbb61a,#fcae12,#fca50a,#fb9906,#f98c0a,#f67e14,#f06f20,#e8602d,#dd513a,#ce4347,#bd3853,#a92e5e,#952667,#801f6c,#6d186e,#5a116e,#490b6a,#360961,#230c4c,#110a30,#050417,#010005,#000004,#000004,#000004,#000004,#000004,#010108,#0a0722,#1b0c41,#2f0a5b,#420a68,#550f6d,#69166e,#7c1d6d,#8f2469,#a32c61,#b63458,#c83f4b,#d94d3d,#e65d2f,#f06f20,#f78212,#fa9407,#fca309,#fcb014,#fbba1f,#fac228,#f9c72f,#f9cb35,#f8cd37,#f8cd37,#f9cb35,#f9c932,#f9c72f,#fac228,#fbbe23,#fbb81d,#fcb216,#fcaa0f,#fca309,#fb9906,#fa9207,#f8870e,#f67e14,#f2741c,#ed6925,#e75e2e,#df5337,#d54a41,#ca404a,#bd3853,#ae305c,#9f2a63,#8f2469,#7f1e6c,#6d186e,#5c126e,#4c0c6b,#3b0964,#290b55,#1b0c41,#0e092b,#060419,#010108,#000004)"></i><i style="background:linear-gradient(#010005,#02020c,#07051b,#0e092b,#190c3e,#260c51,#340a5f,#450a69,#540f6d,#62146e,#721a6e,#82206c,#902568,#a02a63,#ae305c,#bc3754,#c73e4c,#d04545,#d94d3d,#e15635,#e75e2e,#ec6726,#f06f20,#f37819,#f68013,#f8870e,#f98e09,#fb9606,#fb9b06,#fca309,#fca80d,#fcae12,#fcb216,#fbb81d,#fbba1f,#fbbe23,#fac026,#fac026,#fbbe23,#fbba1f,#fbb61a,#fcae12,#fca50a,#fb9b06,#f98e09,#f68013,#f1711f,#e9612b,#de5238,#cf4446,#bf3952,#ad305d,#982766,#84206b,#71196e,#5d126e,#4c0c6b,#390963,#260c51,#140b34,#060419,#010005,#000004,#000004,#000004,#000004,#000004,#010108,#0b0724,#1e0c45,#320a5e,#450a69,#59106e,#6c186e,#7f1e6c,#922568,#a52c60,#b93556,#cb4149,#da4e3c,#e8602d,#f1711f,#f78410,#fa9407,#fca309,#fcb014,#fbba1f,#fac228,#f9c72f,#f9cb35,#f8cd37,#f8cd37,#f9cb35,#f9c932,#fac62d,#fac228,#fbbc21,#fbb61a,#fcb014,#fca80d,#fca108,#fb9906,#fa9008,#f8850f,#f57d15,#f1731d,#ec6726,#e65d2f,#de5238,#d44842,#c83f4b,#ba3655,#ad305d,#9d2964,#8d2369,#7d1e6d,#6c186e,#5a116e,#4a0c6b,#390963,#280b53,#190c3e,#0e092b,#060419,#010108,#000004)"></i><i style="background:linear-gradient(#010005,#02020c,#060419,#0d0829,#180c3c,#240c4f,#340a5f,#440a68,#520e6d,#61136e,#71196e,#801f6c,#8f2469,#9f2a63,#ad305d,#b93556,#c63d4d,#cf4446,#d84c3e,#e05536,#e65d2f,#eb6628,#ef6e21,#f3761b,#f67e14,#f8850f,#f98c0a,#fa9407,#fb9b06,#fca108,#fca60c,#fcac11,#fcb216,#fbb61a,#fbba1f,#fbbc21,#fbbe23,#fbbe23,#fbbe23,#fbba1f,#fbb61a,#fcae12,#fca60c,#fb9b06,#f98e09,#f78212,#f1731d,#ea632a,#df5337,#d24644,#c13a50,#b0315b,#9b2964,#87216b,#741a6e,#61136e,#4f0d6c,#3d0965,#290b55,#160b39,#07051b,#010005,#000004,#000004,#000004,#000004,#000004,#02010a,#0d0829,#210c4a,#360961,#490b6a,#5c126e,#6f196e,#82206c,#952667,#a82e5f,#ba3655,#cc4248,#dd513a,#e9612b,#f1731d,#f78410,#fb9606,#fca50a,#fcb014,#fbba1f,#fac228,#f9c72f,#f9cb35,#f9cb35,#f9cb35,#f9c932,#f9c72f,#fac42a,#fac026,#fbbc21,#fbb61a,#fcae12,#fca60c,#fc9f07,#fb9706,#f98e09,#f8850f,#f57b17,#f1711f,#eb6628,#e55c30,#dd513a,#d24644,#c73e4c,#b93556,#ab2f5e,#9b2964,#8c2369,#7a1d6d,#6a176e,#5a116e,#490b6a,#380962,#280b53,#190c3e,#0d0829,#050417,#010108,#000004)"></i><i style="background:linear-gradient(#010005,#02020c,#060419,#0d0829,#180c3c,#240c4f,#320a5e,#420a68,#510e6c,#5f136e,#6f196e,#7d1e6d,#8d2369,#9b2964,#a92e5e,#b73557,#c33b4f,#ce4347,#d74b3f,#df5337,#e55c30,#eb6429,#ef6e21,#f3761b,#f57d15,#f8850f,#f98c0a,#fa9207,#fb9906,#fc9f07,#fca60c,#fcac11,#fcb014,#fbb61a,#fbba1f,#fbbc21,#fbbe23,#fbbe23,#fbbc21,#fbba1f,#fbb61a,#fcae12,#fca60c,#fb9d07,#fa9008,#f78212,#f2741c,#eb6429,#e15635,#d34743,#c43c4e,#b1325a,#9f2a63,#8a226a,#771c6d,#64156e,#520e6d,#400a67,#2b0b57,#190c3e,#0a0722,#010108,#000004,#000004,#000004,#000004,#000004,#02020e,#10092d,#230c4c,#380962,#4c0c6b,#5f136e,#71196e,#84206b,#972766,#ab2f5e,#bd3853,#cf4446,#de5238,#ea632a,#f2741c,#f8850f,#fb9606,#fca50a,#fcb216,#fbba1f,#fac228,#f9c72f,#f9c932,#f9cb35,#f9cb35,#f9c932,#f9c72f,#fac42a,#fac026,#fbba1f,#fcb418,#fcac11,#fca60c,#fb9d07,#fb9606,#f98c0a,#f78410,#f47918,#f06f20,#eb6429,#e45a31,#db503b,#d04545,#c43c4e,#b73557,#a92e5e,#9a2865,#8a226a,#781c6d,#69166e,#59106e,#490b6a,#380962,#260c51,#180c3c,#0d0829,#050417,#010108,#000004)"></i><i style="background:linear-gradient(#010005,#02020c,#060419,#0d0829,#160b39,#230c4c,#310a5c,#400a67,#4f0d6c,#5d126e,#6d186e,#7c1d6d,#8c2369,#9a2865,#a82e5f,#b63458,#c13a50,#cc4248,#d54a41,#de5238,#e45a31,#ea632a,#ef6c23,#f2741c,#f57d15,#f78410,#f98b0b,#fa9207,#fb9706,#fc9f07,#fca50a,#fcaa0f,#fcb014,#fcb418,#fbb81d,#fbbc21,#fbbc21,#fbbe23,#fbbc21,#fbba1f,#fbb61a,#fcb014,#fca60c,#fb9d07,#fa9207,#f78410,#f3761b,#eb6628,#e25734,#d54a41,#c63d4d,#b43359,#a02a63,#8d2369,#7a1d6d,#67166e,#540f6d,#420a68,#2f0a5b,#1b0c41,#0c0826,#030210,#010106,#000004,#000004,#010005,#010108,#060419,#120a32,#240c4f,#390963,#4d0d6c,#61136e,#741a6e,#87216b,#9a2865,#ad305d,#bf3952,#d04545,#df5337,#eb6429,#f3761b,#f8870e,#fb9706,#fca50a,#fcb216,#fbba1f,#fac228,#fac62d,#f9c932,#f9c932,#f9c932,#f9c72f,#fac62d,#fac228,#fbbe23,#fbb81d,#fcb216,#fcac11,#fca50a,#fb9d07,#fa9407,#f98b0b,#f78212,#f37819,#ef6e21,#ea632a,#e25734,#da4e3c,#cf4446,#c33b4f,#b63458,#a82e5f,#982766,#88226a,#771c6d,#67166e,#57106e,#470b6a,#360961,#260c51,#180c3c,#0d0829,#050417,#010108,#000004)"></i><i style="background:linear-gradient(#010005,#02020c,#060419,#0d0829,#160b39,#230c4c,#310a5c,#3e0966,#4d0d6c,#5c126e,#6c186e,#7a1d6d,#8a226a,#982766,#a62d60,#b43359,#c03a51,#cb4149,#d44842,#dd513a,#e35933,#e9612b,#ee6a24,#f1731d,#f57b17,#f78212,#f8890c,#fa9008,#fb9706,#fb9d07,#fca50a,#fcaa0f,#fcae12,#fcb418,#fbb81d,#fbba1f,#fbbc21,#fbbc21,#fbbc21,#fbba1f,#fbb61a,#fcb014,#fca60c,#fb9d07,#fa9207,#f8850f,#f3761b,#ec6726,#e35933,#d74b3f,#c73e4c,#b63458,#a32c61,#902568,#7d1e6d,#6a176e,#57106e,#440a68,#310a5c,#1c0c43,#0e092b,#050417,#02010a,#010005,#000004,#010106,#02020e,#09061f,#150b37,#260c51,#3b0964,#4f0d6c,#62146e,#751b6e,#88226a,#9b2964,#b0315b,#c13a50,#d24644,#e05536,#eb6628,#f37819,#f8870e,#fb9706,#fca60c,#fcb216,#fbba1f,#fac228,#fac62d,#f9c932,#f9c932,#f9c932,#f9c72f,#fac42a,#fac228,#fbbc21,#fbb81d,#fcb216,#fcaa0f,#fca309,#fb9b06,#fa9207,#f8890c,#f68013,#f3761b,#ef6c23,#e9612b,#e15635,#d84c3e,#ce4347,#c13a50,#b43359,#a52c60,#972766,#87216b,#751b6e,#65156e,#550f6d,#450a69,#340a5f,#240c4f,#180c3c,#0c0826,#050417,#010108,#000004)"></i><i style="background:linear-gradient(#010005,#02020c,#060419,#0c0826,#150b37,#210c4a,#2f0a5b,#3e0966,#4c0c6b,#5c126e,#6a176e,#781c6d,#87216b,#972766,#a52c60,#b1325a,#bf3952,#ca404a,#d34743,#db503b,#e25734,#e8602d,#ed6925,#f1711f,#f47918,#f68013,#f8890c,#fa9008,#fb9606,#fb9d07,#fca309,#fca80d,#fcae12,#fcb216,#fbb61a,#fbba1f,#fbbc21,#fbbc21,#fbbc21,#fbba1f,#fbb61a,#fcb014,#fca80d,#fb9d07,#fa9207,#f8850f,#f37819,#ed6925,#e45a31,#d84c3e,#ca404a,#b93556,#a62d60,#922568,#7f1e6c,#6c186e,#59106e,#450a69,#320a5e,#1f0c48,#110a30,#08051d,#030210,#010108,#010106,#02010a,#040314,#0b0724,#180c3c,#280b53,#3d0965,#510e6c,#64156e,#781c6d,#8c2369,#9f2a63,#b1325a,#c33b4f,#d34743,#e15635,#ec6726,#f37819,#f8890c,#fb9906,#fca60c,#fcb216,#fbba1f,#fac228,#fac62d,#f9c72f,#f9c932,#f9c72f,#fac62d,#fac42a,#fac026,#fbbc21,#fbb61a,#fcb014,#fca80d,#fca108,#fb9906,#fa9008,#f8870e,#f67e14,#f2741c,#ed6925,#e8602d,#e05536,#d74b3f,#cc4248,#c03a51,#b3325a,#a32c61,#952667,#85216b,#741a6e,#64156e,#540f6d,#440a68,#340a5f,#240c4f,#160b39,#0c0826,#050417,#010108,#000004)"></i><i style="background:linear-gradient(#010005,#02020c,#050417,#0c0826,#150b37,#210c4a,#2f0a5b,#3d0965,#4c0c6b,#5a116e,#69166e,#771c6d,#85216b,#952667,#a32c61,#b0315b,#bd3853,#c83f4b,#d24644,#da4e3c,#e15635,#e75e2e,#ec6726,#f06f20,#f37819,#f68013,#f8870e,#f98e09,#fb9606,#fb9b06,#fca108,#fca60c,#fcac11,#fcb216,#fbb61a,#fbb81d,#fbba1f,#fbbc21,#fbbc21,#fbba1f,#fbb61a,#fcb014,#fca80d,#fc9f07,#fa9407,#f8870e,#f47918,#ee6a24,#e55c30,#d94d3d,#cb4149,#ba3655,#a82e5f,#952667,#801f6c,#6d186e,#5a116e,#470b6a,#340a5f,#210c4a,#140b34,#0a0722,#040314,#02020c,#02010a,#02020e,#060419,#0d0829,#190c3e,#2b0b57,#3e0966,#520e6d,#67166e,#7a1d6d,#8d2369,#a02a63,#b3325a,#c43c4e,#d54a41,#e25734,#ed6925,#f47918,#f8890c,#fb9906,#fca60c,#fcb216,#fbba1f,#fac026,#fac62d,#f9c72f,#f9c72f,#f9c72f,#fac62d,#fac228,#fbbe23,#fbba1f,#fcb418,#fcae12,#fca60c,#fc9f07,#fb9706,#f98e09,#f8850f,#f57d15,#f1731d,#ec6726,#e75e2e,#df5337,#d54a41,#cb4149,#bf3952,#b1325a,#a22b62,#932667,#84206b,#741a6e,#62146e,#520e6d,#440a68,#320a5e,#230c4c,#160b39,#0c0826,#050417,#010108,#000004)"></i><i style="background:linear-gradient(#010005,#02010a,#050417,#0c0826,#150b37,#1f0c48,#2d0b59,#3b0964,#4a0c6b,#59106e,#67166e,#751b6e,#84206b,#922568,#a02a63,#ae305c,#bc3754,#c63d4d,#d04545,#d94d3d,#e05536,#e75e2e,#eb6628,#f06f20,#f3761b,#f67e14,#f8850f,#f98c0a,#fa9407,#fb9b06,#fca108,#fca60c,#fcac11,#fcb014,#fcb418,#fbb81d,#fbba1f,#fbbc21,#fbba1f,#fbb81d,#fbb61a,#fcb014,#fca80d,#fc9f07,#fa9407,#f8870e,#f47918,#ef6c23,#e65d2f,#da4e3c,#cc4248,#bc3754,#a92e5e,#972766,#84206b,#6f196e,#5c126e,#4a0c6b,#360961,#240c4f,#150b37,#0c0826,#060419,#030210,#02020e,#040314,#08051d,#10092d,#1c0c43,#2d0b59,#420a68,#540f6d,#69166e,#7c1d6d,#8f2469,#a22b62,#b43359,#c63d4d,#d74b3f,#e35933,#ed6925,#f57b17,#f98b0b,#fb9906,#fca60c,#fcb216,#fbba1f,#fac026,#fac42a,#fac62d,#f9c72f,#fac62d,#fac42a,#fac228,#fbbe23,#fbb81d,#fcb418,#fcac11,#fca60c,#fc9f07,#fb9606,#f98e09,#f78410,#f57b17,#f1711f,#eb6628,#e65d2f,#de5238,#d44842,#ca404a,#bd3853,#b0315b,#a02a63,#902568,#82206c,#721a6e,#62146e,#520e6d,#420a68,#320a5e,#230c4c,#150b37,#0c0826,#050417,#010108,#000004)"></i><i style="background:linear-gradient(#010005,#02010a,#050417,#0b0724,#140b34,#1f0c48,#2b0b57,#3b0964,#490b6a,#57106e,#65156e,#741a6e,#82206c,#902568,#9f2a63,#ad305d,#b93556,#c43c4e,#cf4446,#d84c3e,#df5337,#e65d2f,#eb6429,#ef6e21,#f3761b,#f57d15,#f8850f,#f98c0a,#fa9207,#fb9906,#fc9f07,#fca50a,#fcaa0f,#fcb014,#fcb418,#fbb61a,#fbba1f,#fbba1f,#fbba1f,#fbb81d,#fcb418,#fcb014,#fca80d,#fc9f07,#fb9606,#f8890c,#f57b17,#ef6c23,#e75e2e,#db503b,#ce4347,#bf3952,#ad305d,#982766,#85216b,#721a6e,#5f136e,#4c0c6b,#390963,#260c51,#180c3c,#0d0829,#08051d,#040314,#040314,#060419,#0a0722,#120a32,#1f0c48,#310a5c,#440a68,#57106e,#6a176e,#7d1e6d,#902568,#a32c61,#b63458,#c83f4b,#d84c3e,#e45a31,#ee6a24,#f57b17,#f98b0b,#fb9906,#fca60c,#fcb216,#fbba1f,#fac026,#fac42a,#fac62d,#fac62d,#fac62d,#fac42a,#fac026,#fbbc21,#fbb81d,#fcb216,#fcac11,#fca50a,#fb9d07,#fb9606,#f98c0a,#f78410,#f47918,#f06f20,#eb6429,#e45a31,#dd513a,#d34743,#c73e4c,#ba3655,#ad305d,#9f2a63,#8f2469,#801f6c,#71196e,#61136e,#510e6c,#400a67,#310a5c,#210c4a,#150b37,#0b0724,#040314,#010108,#000004)"></i><i style="background:linear-gradient(#010005,#02010a,#050417,#0b0724,#140b34,#1e0c45,#2b0b57,#390963,#470b6a,#550f6d,#64156e,#721a6e,#801f6c,#8f2469,#9d2964,#ab2f5e,#b73557,#c33b4f,#ce4347,#d74b3f,#de5238,#e55c30,#eb6429,#ef6c23,#f2741c,#f57d15,#f78410,#f98b0b,#fa9207,#fb9706,#fc9f07,#fca50a,#fcaa0f,#fcae12,#fcb216,#fbb61a,#fbb81d,#fbba1f,#fbba1f,#fbb81d,#fcb418,#fcb014,#fca80d,#fc9f07,#fb9606,#f8890c,#f57d15,#ef6e21,#e8602d,#dd513a,#cf4446,#c03a51,#ae305c,#9b2964,#87216b,#741a6e,#61136e,#4d0d6c,#3b0964,#290b55,#1b0c41,#10092d,#0a0722,#07051b,#060419,#08051d,#0c0826,#150b37,#210c4a,#320a5e,#450a69,#59106e,#6c186e,#7f1e6c,#922568,#a52c60,#b73557,#c83f4b,#d84c3e,#e55c30,#ef6c23,#f57d15,#f98c0a,#fb9b06,#fca60c,#fcb216,#fbba1f,#fac026,#fac42a,#fac62d,#fac62d,#fac42a,#fac228,#fac026,#fbbc21,#fbb61a,#fcb014,#fcaa0f,#fca309,#fb9b06,#fa9407,#f98b0b,#f78212,#f37819,#ef6e21,#ea632a,#e35933,#db503b,#d24644,#c63d4d,#b93556,#ab2f5e,#9d2964,#8d2369,#7f1e6c,#6f196e,#5f136e,#4f0d6c,#400a67,#310a5c,#210c4a,#150b37,#0b0724,#040314,#010108,#000004)"></i><i style="background:linear-gradient(#010005,#02010a,#050417,#0b0724,#140b34,#1e0c45,#290b55,#380962,#470b6a,#540f6d,#62146e,#71196e,#7f1e6c,#8d2369,#9b2964,#a92e5e,#b63458,#c13a50,#cc4248,#d54a41,#de5238,#e45a31,#ea632a,#ee6a24,#f1731d,#f57b17,#f78212,#f8890c,#fa9008,#fb9706,#fb9d07,#fca309,#fca80d,#fcae12,#fcb216,#fbb61a,#fbb81d,#fbba1f,#fbb81d,#fbb81d,#fcb418,#fcb014,#fca80d,#fca108,#fb9606,#f98b0b,#f57d15,#f06f20,#e8602d,#de5238,#d04545,#c13a50,#b0315b,#9d2964,#8a226a,#751b6e,#62146e,#510e6c,#3e0966,#2d0b59,#1e0c45,#120a32,#0c0826,#09061f,#08051d,#0a0722,#0e092b,#180c3c,#240c4f,#360961,#470b6a,#5a116e,#6d186e,#801f6c,#932667,#a62d60,#b93556,#ca404a,#d94d3d,#e65d2f,#ef6c23,#f57d15,#f98c0a,#fb9b06,#fca60c,#fcb216,#fbba1f,#fbbe23,#fac228,#fac42a,#fac42a,#fac42a,#fac228,#fbbe23,#fbba1f,#fbb61a,#fcb014,#fca80d,#fca108,#fb9906,#fa9207,#f8890c,#f68013,#f3761b,#ef6c23,#e9612b,#e25734,#da4e3c,#d04545,#c43c4e,#b73557,#a92e5e,#9b2964,#8d2369,#7d1e6d,#6d186e,#5d126e,#4f0d6c,#3e0966,#2f0a5b,#210c4a,#150b37,#0b0724,#040314,#010108,#000004)"></i><i style="background:linear-gradient(#010005,#02010a,#050417,#0b0724,#120a32,#1c0c43,#290b55,#380962,#450a69,#520e6d,#61136e,#6f196e,#7d1e6d,#8c2369,#9a2865,#a82e5f,#b43359,#c03a51,#cb4149,#d44842,#dd513a,#e35933,#e9612b,#ed6925,#f1711f,#f47918,#f78212,#f8890c,#fa9008,#fb9606,#fb9d07,#fca309,#fca80d,#fcac11,#fcb014,#fcb418,#fbb61a,#fbb81d,#fbb81d,#fbb61a,#fcb418,#fcb014,#fca80d,#fca108,#fb9606,#f98b0b,#f67e14,#f06f20,#e9612b,#df5337,#d24644,#c33b4f,#b1325a,#9f2a63,#8c2369,#781c6d,#65156e,#520e6d,#400a67,#2f0a5b,#210c4a,#150b37,#0e092b,#0b0724,#0a0722,#0c0826,#110a30,#190c3e,#260c51,#380962,#490b6a,#5c126e,#6f196e,#82206c,#952667,#a82e5f,#ba3655,#cb4149,#da4e3c,#e65d2f,#ef6e21,#f57d15,#f98c0a,#fb9b06,#fca60c,#fcb014,#fbb81d,#fbbe23,#fac228,#fac42a,#fac42a,#fac228,#fac026,#fbbc21,#fbb81d,#fcb418,#fcae12,#fca60c,#fca108,#fb9906,#fa9008,#f8870e,#f67e14,#f2741c,#ee6a24,#e8602d,#e15635,#d94d3d,#cf4446,#c33b4f,#b63458,#a82e5f,#9a2865,#8c2369,#7c1d6d,#6c186e,#5c126e,#4d0d6c,#3e0966,#2f0a5b,#1f0c48,#140b34,#0b0724,#040314,#010108,#000004)"></i><i style="background:linear-gradient(#010005,#02010a,#040314,#0a0722,#120a32,#1c0c43,#280b53,#360961,#440a68,#520e6d,#5f136e,#6d186e,#7c1d6d,#8a226a,#982766,#a62d60,#b3325a,#bf3952,#ca404a,#d34743,#db503b,#e25734,#e8602d,#ec6726,#f1711f,#f37819,#f68013,#f8870e,#f98e09,#fb9606,#fb9b06,#fca108,#fca60c,#fcac11,#fcb014,#fcb418,#fbb61a,#fbb81d,#fbb81d,#fbb61a,#fcb418,#fcae12,#fca80d,#fca108,#fb9706,#f98b0b,#f67e14,#f1711f,#ea632a,#e05536,#d34743,#c43c4e,#b43359,#a02a63,#8d2369,#7a1d6d,#67166e,#550f6d,#440a68,#320a5e,#230c4c,#180c3c,#110a30,#0d0829,#0c0826,#0e092b,#140b34,#1c0c43,#290b55,#390963,#4a0c6b,#5c126e,#6f196e,#82206c,#952667,#a82e5f,#ba3655,#cb4149,#da4e3c,#e65d2f,#ef6e21,#f67e14,#f98c0a,#fb9b06,#fca60c,#fcb014,#fbb81d,#fbbe23,#fac026,#fac228,#fac228,#fac228,#fbbe23,#fbbc21,#fbb81d,#fcb216,#fcac11,#fca60c,#fc9f07,#fb9706,#f98e09,#f8850f,#f57d15,#f1731d,#ed6925,#e75e2e,#e05536,#d84c3e,#ce4347,#c13a50,#b43359,#a62d60,#982766,#8a226a,#7a1d6d,#6a176e,#5c126e,#4c0c6b,#3d0965,#2d0b59,#1f0c48,#140b34,#0b0724,#040314,#010108,#000004)"></i><i style="background:linear-gradient(#010005,#02010a,#040314,#0a0722,#120a32,#1b0c41,#280b53,#340a5f,#420a68,#510e6c,#5d126e,#6c186e,#7a1d6d,#88226a,#972766,#a32c61,#b1325a,#bd3853,#c83f4b,#d24644,#da4e3c,#e15635,#e75e2e,#ec6726,#f06f20,#f37819,#f67e14,#f8870e,#f98c0a,#fa9407,#fb9b06,#fca108,#fca60c,#fcaa0f,#fcae12,#fcb216,#fbb61a,#fbb61a,#fbb81d,#fbb61a,#fcb418,#fcae12,#fca80d,#fca108,#fb9706,#f98c0a,#f68013,#f1731d,#eb6429,#e15635,#d44842,#c63d4d,#b63458,#a32c61,#902568,#7d1e6d,#6a176e,#57106e,#470b6a,#360961,#260c51,#1b0c41,#140b34,#10092d,#0e092b,#110a30,#160b39,#1e0c45,#2b0b57,#3b0964,#4c0c6b,#5d126e,#71196e,#84206b,#972766,#a92e5e,#bc3754,#cc4248,#db503b,#e75e2e,#ef6e21,#f67e14,#f98c0a,#fb9b06,#fca60c,#fcb014,#fbb81d,#fbbc21,#fac026,#fac228,#fac228,#fac026,#fbbe23,#fbba1f,#fbb61a,#fcb014,#fcaa0f,#fca50a,#fb9d07,#fb9606,#f98c0a,#f78410,#f57b17,#f1711f,#ec6726,#e75e2e,#df5337,#d74b3f,#cc4248,#c03a51,#b3325a,#a52c60,#972766,#88226a,#781c6d,#6a176e,#5a116e,#4c0c6b,#3b0964,#2d0b59,#1e0c45,#140b34,#0a0722,#040314,#010108,#000004)"></i><i style="background:linear-gradient(#010005,#02010a,#040314,#0a0722,#110a30,#1b0c41,#260c51,#340a5f,#420a68,#4f0d6c,#5d126e,#6a176e,#781c6d,#87216b,#952667,#a22b62,#b0315b,#bc3754,#c73e4c,#d04545,#d94d3d,#e05536,#e65d2f,#eb6628,#ef6e21,#f3761b,#f67e14,#f8850f,#f98c0a,#fa9407,#fb9906,#fc9f07,#fca50a,#fcaa0f,#fcae12,#fcb216,#fcb418,#fbb61a,#fbb61a,#fbb61a,#fcb216,#fcae12,#fca80d,#fca108,#fb9706,#f98c0a,#f68013,#f1731d,#eb6429,#e25734,#d54a41,#c73e4c,#b73557,#a52c60,#922568,#7f1e6c,#6c186e,#5a116e,#490b6a,#390963,#290b55,#1e0c45,#160b39,#120a32,#110a30,#140b34,#180c3c,#210c4a,#2d0b59,#3d0965,#4d0d6c,#5f136e,#71196e,#84206b,#972766,#a92e5e,#bc3754,#cc4248,#db503b,#e75e2e,#ef6e21,#f67e14,#f98c0a,#fb9b06,#fca60c,#fcb014,#fbb61a,#fbbc21,#fbbe23,#fac026,#fac026,#fbbe23,#fbbc21,#fbb81d,#fcb418,#fcb014,#fcaa0f,#fca309,#fb9b06,#fa9407,#f98c0a,#f78410,#f47918,#f06f20,#eb6628,#e65d2f,#de5238,#d54a41,#cb4149,#bf3952,#b1325a,#a32c61,#952667,#87216b,#771c6d,#69166e,#59106e,#4a0c6b,#3b0964,#2b0b57,#1e0c45,#120a32,#0a0722,#040314,#010108,#000004)"></i><i style="background:linear-gradient(#010005,#02010a,#040314,#0a0722,#110a30,#1b0c41,#260c51,#320a5e,#400a67,#4d0d6c,#5c126e,#69166e,#771c6d,#85216b,#932667,#a02a63,#ae305c,#ba3655,#c63d4d,#cf4446,#d84c3e,#df5337,#e55c30,#eb6429,#ef6c23,#f2741c,#f57d15,#f78410,#f98b0b,#fa9207,#fb9706,#fc9f07,#fca50a,#fca80d,#fcae12,#fcb014,#fcb418,#fbb61a,#fbb61a,#fcb418,#fcb216,#fcae12,#fca80d,#fca108,#fb9706,#f98c0a,#f78212,#f2741c,#eb6628,#e25734,#d74b3f,#c83f4b,#b93556,#a62d60,#932667,#801f6c,#6f196e,#5d126e,#4c0c6b,#3d0965,#2d0b59,#210c4a,#190c3e,#150b37,#140b34,#160b39,#1b0c41,#230c4c,#2f0a5b,#3e0966,#4d0d6c,#5f136e,#71196e,#84206b,#972766,#a92e5e,#bc3754,#cc4248,#db503b,#e75e2e,#ef6e21,#f67e14,#f98c0a,#fb9906,#fca60c,#fcae12,#fbb61a,#fbba1f,#fbbe23,#fac026,#fbbe23,#fbbe23,#fbbc21,#fbb81d,#fcb418,#fcae12,#fca80d,#fca108,#fb9b06,#fa9207,#f98b0b,#f78212,#f37819,#f06f20,#eb6429,#e55c30,#dd513a,#d44842,#ca404a,#bd3853,#b0315b,#a32c61,#932667,#85216b,#751b6e,#67166e,#59106e,#490b6a,#390963,#2b0b57,#1e0c45,#120a32,#0a0722,#040314,#010108,#000004)"></i><i style="background:linear-gradient(#010005,#02010a,#040314,#0a0722,#110a30,#190c3e,#240c4f,#320a5e,#400a67,#4d0d6c,#5a116e,#69166e,#751b6e,#84206b,#922568,#9f2a63,#ad305d,#b93556,#c43c4e,#ce4347,#d74b3f,#de5238,#e45a31,#ea632a,#ef6c23,#f2741c,#f57b17,#f78410,#f98b0b,#fa9008,#fb9706,#fb9d07,#fca309,#fca80d,#fcac11,#fcb014,#fcb216,#fcb418,#fbb61a,#fcb418,#fcb216,#fcae12,#fca80d,#fca108,#fb9706,#f98e09,#f78212,#f2741c,#ec6726,#e35933,#d84c3e,#ca404a,#ba3655,#a82e5f,#972766,#84206b,#71196e,#5f136e,#4f0d6c,#3e0966,#310a5c,#240c4f,#1c0c43,#180c3c,#160b39,#180c3c,#1c0c43,#240c4f,#310a5c,#3e0966,#4f0d6c,#5f136e,#71196e,#84206b,#972766,#a92e5e,#bc3754,#cc4248,#db503b,#e75e2e,#ef6e21,#f67e14,#f98c0a,#fb9906,#fca50a,#fcae12,#fbb61a,#fbba1f,#fbbc21,#fbbe23,#fbbe23,#fbbc21,#fbba1f,#fbb61a,#fcb216,#fcac11,#fca60c,#fca108,#fb9906,#fa9008,#f8890c,#f68013,#f3761b,#ef6e21,#ea632a,#e45a31,#db503b,#d34743,#c83f4b,#bc3754,#ae305c,#a22b62,#922568,#84206b,#751b6e,#65156e,#57106e,#490b6a,#390963,#290b55,#1c0c43,#120a32,#0a0722,#040312,#010108,#000004)"></i><i style="background:linear-gradient(#010005,#02010a,#040314,#09061f,#10092d,#190c3e,#240c4f,#310a5c,#3e0966,#4c0c6b,#59106e,#67166e,#741a6e,#82206c,#902568,#9d2964,#ab2f5e,#b73557,#c33b4f,#cc4248,#d54a41,#dd513a,#e45a31,#e9612b,#ee6a24,#f1731d,#f57b17,#f78212,#f8890c,#fa9008,#fb9606,#fb9d07,#fca309,#fca60c,#fcac11,#fcb014,#fcb216,#fcb418,#fcb418,#fcb418,#fcb216,#fcae12,#fca80d,#fca108,#fb9706,#f98e09,#f78212,#f3761b,#ec6726,#e45a31,#d94d3d,#cb4149,#bc3754,#ab2f5e,#982766,#85216b,#741a6e,#62146e,#510e6c,#420a68,#340a5f,#280b53,#1f0c48,#1b0c41,#190c3e,#1b0c41,#1f0c48,#280b53,#320a5e,#400a67,#4f0d6c,#5f136e,#71196e,#84206b,#972766,#a92e5e,#bc3754,#cc4248,#db503b,#e75e2e,#ef6e21,#f67e14,#f98c0a,#fb9906,#fca50a,#fcae12,#fcb418,#fbba1f,#fbbc21,#fbbe23,#fbbc21,#fbbc21,#fbb81d,#fcb418,#fcb014,#fcac11,#fca50a,#fc9f07,#fb9706,#fa9008,#f8870e,#f67e14,#f3761b,#ef6c23,#e9612b,#e35933,#da4e3c,#d24644,#c73e4c,#ba3655,#ae305c,#a02a63,#922568,#82206c,#741a6e,#65156e,#550f6d,#470b6a,#380962,#290b55,#1c0c43,#120a32,#0a0722,#040312,#010108,#000004)"></i><i style="background:linear-gradient(#010005,#02010a,#040314,#09061f,#10092d,#190c3e,#230c4c,#310a5c,#3d0965,#4a0c6b,#59106e,#65156e,#741a6e,#801f6c,#8f2469,#9b2964,#a92e5e,#b63458,#c13a50,#cb4149,#d44842,#dd513a,#e35933,#e9612b,#ed6925,#f1711f,#f47918,#f68013,#f8870e,#f98e09,#fb9606,#fb9b06,#fca108,#fca60c,#fcaa0f,#fcae12,#fcb216,#fcb418,#fcb418,#fcb418,#fcb216,#fcae12,#fca80d,#fca108,#fb9906,#f98e09,#f78410,#f3761b,#ed6925,#e55c30,#da4e3c,#cc4248,#bd3853,#ad305d,#9a2865,#88226a,#751b6e,#64156e,#540f6d,#450a69,#380962,#2b0b57,#230c4c,#1e0c45,#1c0c43,#1e0c45,#210c4a,#290b55,#340a5f,#400a67,#4f0d6c,#5f136e,#71196e,#84206b,#972766,#a92e5e,#bc3754,#cc4248,#db503b,#e75e2e,#ef6e21,#f67e14,#f98c0a,#fb9906,#fca50a,#fcac11,#fcb418,#fbb81d,#fbbc21,#fbbc21,#fbbc21,#fbba1f,#fbb81d,#fcb418,#fcb014,#fcaa0f,#fca50a,#fb9d07,#fb9606,#f98e09,#f8850f,#f57d15,#f2741c,#ee6a24,#e9612b,#e25734,#da4e3c,#d04545,#c63d4d,#b93556,#ad305d,#9f2a63,#902568,#801f6c,#721a6e,#64156e,#550f6d,#470b6a,#380962,#290b55,#1c0c43,#110a30,#0a0722,#040312,#010108,#000004)"></i><i style="background:linear-gradient(#010005,#02010a,#040314,#09061f,#10092d,#180c3c,#230c4c,#2f0a5b,#3d0965,#4a0c6b,#57106e,#64156e,#721a6e,#7f1e6c,#8d2369,#9a2865,#a82e5f,#b43359,#c03a51,#ca404a,#d34743,#db503b,#e25734,#e8602d,#ec6726,#f06f20,#f37819,#f68013,#f8870e,#f98e09,#fa9407,#fb9b06,#fca108,#fca50a,#fcaa0f,#fcae12,#fcb014,#fcb216,#fcb418,#fcb216,#fcb014,#fcae12,#fca80d,#fca108,#fb9906,#f98e09,#f78410,#f37819,#ed6925,#e55c30,#db503b,#ce4347,#bf3952,#ae305c,#9b2964,#8a226a,#781c6d,#67166e,#57106e,#490b6a,#3b0964,#2f0a5b,#260c51,#210c4a,#1f0c48,#1f0c48,#230c4c,#2b0b57,#340a5f,#420a68,#4f0d6c,#5f136e,#71196e,#82206c,#952667,#a82e5f,#ba3655,#cc4248,#db503b,#e75e2e,#ef6e21,#f57d15,#f98c0a,#fb9906,#fca50a,#fcac11,#fcb216,#fbb81d,#fbba1f,#fbbc21,#fbba1f,#fbb81d,#fbb61a,#fcb216,#fcae12,#fca80d,#fca309,#fb9b06,#fa9407,#f98c0a,#f78410,#f57b17,#f1731d,#ed6925,#e8602d,#e15635,#d94d3d,#cf4446,#c43c4e,#b73557,#ab2f5e,#9d2964,#8f2469,#801f6c,#71196e,#62146e,#540f6d,#450a69,#380962,#280b53,#1b0c41,#110a30,#09061f,#040312,#010108,#000004)"></i><i style="background:linear-gradient(#010005,#02010a,#040312,#09061f,#10092d,#180c3c,#230c4c,#2f0a5b,#3b0964,#490b6a,#550f6d,#62146e,#71196e,#7d1e6d,#8c2369,#982766,#a62d60,#b3325a,#bf3952,#c83f4b,#d24644,#da4e3c,#e15635,#e75e2e,#ec6726,#f06f20,#f37819,#f67e14,#f8850f,#f98c0a,#fa9407,#fb9906,#fc9f07,#fca50a,#fca80d,#fcac11,#fcb014,#fcb216,#fcb216,#fcb216,#fcb014,#fcac11,#fca80d,#fca108,#fb9906,#fa9008,#f78410,#f37819,#ee6a24,#e65d2f,#db503b,#cf4446,#c03a51,#b0315b,#9f2a63,#8c2369,#7a1d6d,#69166e,#59106e,#4a0c6b,#3d0965,#320a5e,#290b55,#240c4f,#210c4a,#230c4c,#260c51,#2d0b59,#360961,#420a68,#4f0d6c,#5f136e,#71196e,#82206c,#952667,#a82e5f,#ba3655,#cb4149,#da4e3c,#e65d2f,#ef6e21,#f57d15,#f98b0b,#fb9706,#fca309,#fcac11,#fcb216,#fbb61a,#fbba1f,#fbba1f,#fbba1f,#fbb81d,#fcb418,#fcb216,#fcac11,#fca60c,#fca108,#fb9b06,#fa9407,#f98b0b,#f78410,#f57b17,#f1711f,#ec6726,#e75e2e,#e05536,#d84c3e,#ce4347,#c33b4f,#b63458,#a92e5e,#9b2964,#8d2369,#7f1e6c,#71196e,#62146e,#520e6d,#450a69,#360961,#280b53,#1b0c41,#110a30,#09061f,#040312,#010108,#000004)"></i><i style="background:linear-gradient(#010005,#02010a,#040312,#09061f,#0e092b,#180c3c,#210c4a,#2d0b59,#3b0964,#470b6a,#540f6d,#62146e,#6f196e,#7d1e6d,#8a226a,#972766,#a52c60,#b1325a,#bd3853,#c73e4c,#d04545,#d94d3d,#e05536,#e65d2f,#eb6628,#ef6e21,#f3761b,#f57d15,#f8850f,#f98c0a,#fa9207,#fb9906,#fc9f07,#fca309,#fca80d,#fcac11,#fcae12,#fcb216,#fcb216,#fcb216,#fcb014,#fcac11,#fca80d,#fca108,#fb9906,#fa9008,#f8850f,#f47918,#ef6c23,#e75e2e,#dd513a,#d04545,#c13a50,#b1325a,#a02a63,#8f2469,#7c1d6d,#6c186e,#5c126e,#4d0d6c,#400a67,#360961,#2d0b59,#280b53,#240c4f,#240c4f,#280b53,#2f0a5b,#380962,#420a68,#4f0d6c,#5f136e,#6f196e,#82206c,#932667,#a62d60,#ba3655,#cb4149,#da4e3c,#e65d2f,#ef6e21,#f57d15,#f98b0b,#fb9706,#fca309,#fcac11,#fcb216,#fbb61a,#fbb81d,#fbba1f,#fbb81d,#fbb61a,#fcb418,#fcb014,#fcac11,#fca60c,#fca108,#fb9906,#fa9207,#f98b0b,#f78212,#f47918,#f06f20,#eb6628,#e65d2f,#df5337,#d74b3f,#cc4248,#c13a50,#b63458,#a82e5f,#9a2865,#8c2369,#7d1e6d,#6f196e,#61136e,#520e6d,#440a68,#360961,#280b53,#1b0c41,#110a30,#09061f,#040312,#010108,#000004)"></i><i style="background:linear-gradient(#010005,#02010a,#040312,#08051d,#0e092b,#160b39,#210c4a,#2d0b59,#390963,#470b6a,#540f6d,#61136e,#6d186e,#7c1d6d,#88226a,#972766,#a32c61,#b0315b,#bc3754,#c63d4d,#cf4446,#d84c3e,#df5337,#e55c30,#eb6429,#ef6c23,#f2741c,#f57d15,#f78410,#f98b0b,#fa9207,#fb9706,#fb9d07,#fca309,#fca60c,#fcaa0f,#fcae12,#fcb014,#fcb216,#fcb216,#fcb014,#fcac11,#fca80d,#fca108,#fb9906,#fa9008,#f8850f,#f47918,#ef6c23,#e75e2e,#de5238,#d24644,#c33b4f,#b3325a,#a22b62,#902568,#7f1e6c,#6d186e,#5f136e,#510e6c,#440a68,#390963,#310a5c,#290b55,#280b53,#280b53,#290b55,#2f0a5b,#380962,#440a68,#510e6c,#5f136e,#6f196e,#801f6c,#932667,#a62d60,#b93556,#cb4149,#da4e3c,#e65d2f,#ef6c23,#f57d15,#f98b0b,#fb9706,#fca309,#fcaa0f,#fcb014,#fcb418,#fbb81d,#fbb81d,#fbb81d,#fbb61a,#fcb216,#fcae12,#fcaa0f,#fca50a,#fc9f07,#fb9706,#fa9008,#f8890c,#f68013,#f37819,#ef6e21,#eb6429,#e55c30,#de5238,#d54a41,#cb4149,#c03a51,#b43359,#a62d60,#982766,#8c2369,#7c1d6d,#6d186e,#5f136e,#510e6c,#440a68,#340a5f,#260c51,#1b0c41,#110a30,#09061f,#040312,#010108,#000004)"></i><i style="background:linear-gradient(#010005,#02010a,#040312,#08051d,#0e092b,#160b39,#1f0c48,#2b0b57,#390963,#450a69,#520e6d,#5f136e,#6c186e,#7a1d6d,#87216b,#952667,#a22b62,#ae305c,#ba3655,#c43c4e,#cf4446,#d74b3f,#df5337,#e55c30,#ea632a,#ef6c23,#f2741c,#f57b17,#f78212,#f8890c,#fa9008,#fb9706,#fb9d07,#fca108,#fca60c,#fcaa0f,#fcae12,#fcb014,#fcb014,#fcb014,#fcb014,#fcac11,#fca80d,#fca108,#fb9906,#fa9008,#f8850f,#f47918,#ef6e21,#e8602d,#df5337,#d34743,#c43c4e,#b43359,#a32c61,#922568,#801f6c,#71196e,#61136e,#520e6d,#470b6a,#3b0964,#320a5e,#2d0b59,#290b55,#290b55,#2b0b57,#310a5c,#390963,#440a68,#510e6c,#5d126e,#6d186e,#7f1e6c,#922568,#a52c60,#b93556,#ca404a,#d94d3d,#e65d2f,#ef6c23,#f57d15,#f98b0b,#fb9706,#fca108,#fcaa0f,#fcb014,#fcb418,#fbb61a,#fbb81d,#fbb61a,#fcb418,#fcb216,#fcae12,#fca80d,#fca309,#fb9d07,#fb9706,#fa9008,#f8870e,#f67e14,#f3761b,#ef6e21,#eb6429,#e45a31,#dd513a,#d44842,#ca404a,#bf3952,#b3325a,#a52c60,#982766,#8a226a,#7c1d6d,#6d186e,#5f136e,#510e6c,#420a68,#340a5f,#260c51,#190c3e,#10092d,#09061f,#040312,#010108,#000004)"></i><i style="background:linear-gradient(#010005,#010108,#040312,#08051d,#0e092b,#160b39,#1f0c48,#2b0b57,#380962,#450a69,#510e6c,#5f136e,#6c186e,#781c6d,#85216b,#932667,#a02a63,#ad305d,#b93556,#c43c4e,#ce4347,#d54a41,#de5238,#e45a31,#ea632a,#ee6a24,#f1731d,#f57b17,#f78212,#f8890c,#fa9008,#fb9606,#fb9b06,#fca108,#fca60c,#fcaa0f,#fcac11,#fcb014,#fcb014,#fcb014,#fcae12,#fcac11,#fca80d,#fca108,#fb9906,#fa9008,#f8870e,#f57b17,#ef6e21,#e9612b,#df5337,#d44842,#c63d4d,#b73557,#a52c60,#932667,#84206b,#721a6e,#64156e,#550f6d,#490b6a,#3e0966,#360961,#310a5c,#2d0b59,#2b0b57,#2f0a5b,#320a5e,#3b0964,#440a68,#510e6c,#5d126e,#6d186e,#7f1e6c,#922568,#a52c60,#b73557,#ca404a,#d94d3d,#e55c30,#ef6c23,#f57b17,#f8890c,#fb9606,#fca108,#fca80d,#fcb014,#fcb418,#fbb61a,#fbb61a,#fbb61a,#fcb418,#fcb014,#fcac11,#fca80d,#fca309,#fb9b06,#fb9606,#f98e09,#f8850f,#f67e14,#f2741c,#ef6c23,#ea632a,#e35933,#dd513a,#d34743,#c83f4b,#bd3853,#b1325a,#a52c60,#972766,#88226a,#7a1d6d,#6c186e,#5d126e,#4f0d6c,#420a68,#320a5e,#260c51,#190c3e,#10092d,#09061f,#040312,#010106,#000004)"></i><i style="background:linear-gradient(#010005,#010108,#040312,#08051d,#0e092b,#150b37,#1f0c48,#2b0b57,#380962,#440a68,#510e6c,#5d126e,#6a176e,#771c6d,#85216b,#922568,#9f2a63,#ab2f5e,#b73557,#c33b4f,#cc4248,#d54a41,#dd513a,#e35933,#e9612b,#ed6925,#f1711f,#f47918,#f68013,#f8870e,#f98e09,#fb9606,#fb9b06,#fca108,#fca50a,#fca80d,#fcac11,#fcae12,#fcb014,#fcb014,#fcae12,#fcac11,#fca60c,#fca108,#fb9906,#fa9207,#f8870e,#f57b17,#f06f20,#e9612b,#e05536,#d44842,#c73e4c,#b93556,#a82e5f,#972766,#85216b,#751b6e,#65156e,#59106e,#4c0c6b,#420a68,#390963,#320a5e,#2f0a5b,#2f0a5b,#310a5c,#340a5f,#3b0964,#450a69,#510e6c,#5d126e,#6d186e,#7d1e6d,#902568,#a32c61,#b63458,#c83f4b,#d84c3e,#e55c30,#ee6a24,#f57b17,#f8890c,#fb9606,#fca108,#fca80d,#fcae12,#fcb216,#fcb418,#fbb61a,#fcb418,#fcb216,#fcb014,#fcac11,#fca60c,#fca108,#fb9b06,#fa9407,#f98c0a,#f8850f,#f57d15,#f2741c,#ee6a24,#e9612b,#e35933,#db503b,#d24644,#c83f4b,#bd3853,#b0315b,#a32c61,#952667,#87216b,#781c6d,#6a176e,#5c126e,#4f0d6c,#400a67,#320a5e,#240c4f,#190c3e,#10092d,#09061f,#040312,#010106,#000004)"></i><i style="background:linear-gradient(#010005,#010108,#040312,#08051d,#0d0829,#150b37,#1e0c45,#290b55,#360961,#440a68,#4f0d6c,#5c126e,#69166e,#751b6e,#84206b,#902568,#9d2964,#a92e5e,#b63458,#c13a50,#cb4149,#d44842,#db503b,#e25734,#e8602d,#ed6925,#f1711f,#f37819,#f68013,#f8870e,#f98e09,#fa9407,#fb9906,#fc9f07,#fca50a,#fca80d,#fcac11,#fcae12,#fcb014,#fcb014,#fcae12,#fcac11,#fca60c,#fca108,#fb9906,#fa9207,#f8870e,#f57d15,#f06f20,#ea632a,#e15635,#d54a41,#c83f4b,#ba3655,#a92e5e,#982766,#87216b,#771c6d,#69166e,#5a116e,#4f0d6c,#450a69,#3d0965,#360961,#320a5e,#310a5c,#320a5e,#360961,#3d0965,#450a69,#510e6c,#5d126e,#6c186e,#7d1e6d,#8f2469,#a22b62,#b63458,#c73e4c,#d84c3e,#e45a31,#ee6a24,#f57b17,#f8890c,#fb9606,#fc9f07,#fca80d,#fcae12,#fcb216,#fcb418,#fcb418,#fcb418,#fcb216,#fcae12,#fcaa0f,#fca50a,#fca108,#fb9906,#fa9207,#f98b0b,#f78410,#f57b17,#f1731d,#ed6925,#e8602d,#e25734,#da4e3c,#d24644,#c73e4c,#bc3754,#b0315b,#a22b62,#932667,#87216b,#781c6d,#6a176e,#5c126e,#4d0d6c,#400a67,#320a5e,#240c4f,#190c3e,#10092d,#09061f,#040312,#010106,#000004)"></i><i style="background:linear-gradient(#010005,#010108,#040312,#08051d,#0d0829,#150b37,#1e0c45,#290b55,#360961,#420a68,#4f0d6c,#5c126e,#69166e,#751b6e,#82206c,#8f2469,#9b2964,#a82e5f,#b43359,#c03a51,#ca404a,#d34743,#db503b,#e25734,#e75e2e,#ec6726,#f06f20,#f37819,#f67e14,#f8850f,#f98c0a,#fa9407,#fb9906,#fc9f07,#fca309,#fca60c,#fcaa0f,#fcae12,#fcae12,#fcae12,#fcae12,#fcaa0f,#fca60c,#fca108,#fb9b06,#fa9207,#f8870e,#f57d15,#f1711f,#ea632a,#e25734,#d74b3f,#ca404a,#bc3754,#ab2f5e,#9a2865,#8a226a,#7a1d6d,#6a176e,#5d126e,#510e6c,#470b6a,#3e0966,#390963,#340a5f,#340a5f,#340a5f,#380962,#3d0965,#450a69,#510e6c,#5c126e,#6c186e,#7c1d6d,#8d2369,#a22b62,#b43359,#c73e4c,#d74b3f,#e45a31,#ee6a24,#f47918,#f8890c,#fb9606,#fc9f07,#fca60c,#fcae12,#fcb014,#fcb216,#fcb418,#fcb216,#fcb014,#fcac11,#fca80d,#fca50a,#fc9f07,#fb9906,#fa9207,#f98b0b,#f78212,#f47918,#f1711f,#ed6925,#e75e2e,#e15635,#d94d3d,#d04545,#c63d4d,#ba3655,#ae305c,#a02a63,#932667,#85216b,#771c6d,#69166e,#5a116e,#4d0d6c,#3e0966,#310a5c,#240c4f,#180c3c,#10092d,#08051d,#040312,#010106,#000004)"></i><i style="background:linear-gradient(#010005,#010108,#040312,#08051d,#0d0829,#150b37,#1e0c45,#280b53,#340a5f,#420a68,#4d0d6c,#5a116e,#67166e,#741a6e,#801f6c,#8d2369,#9b2964,#a82e5f,#b43359,#bf3952,#c83f4b,#d24644,#da4e3c,#e15635,#e75e2e,#eb6628,#ef6e21,#f3761b,#f67e14,#f8850f,#f98c0a,#fa9207,#fb9706,#fb9d07,#fca309,#fca60c,#fcaa0f,#fcac11,#fcae12,#fcae12,#fcae12,#fcaa0f,#fca60c,#fca108,#fb9b06,#fa9207,#f8890c,#f57d15,#f1711f,#eb6429,#e25734,#d84c3e,#cb4149,#bd3853,#ad305d,#9b2964,#8c2369,#7c1d6d,#6d186e,#5f136e,#540f6d,#4a0c6b,#420a68,#3b0964,#380962,#360961,#360961,#390963,#3e0966,#470b6a,#510e6c,#5c126e,#6a176e,#7a1d6d,#8d2369,#a02a63,#b3325a,#c63d4d,#d74b3f,#e45a31,#ed6925,#f47918,#f8870e,#fa9407,#fc9f07,#fca60c,#fcac11,#fcb014,#fcb216,#fcb216,#fcb216,#fcb014,#fcac11,#fca80d,#fca309,#fb9d07,#fb9706,#fa9008,#f8890c,#f78212,#f47918,#f06f20,#ec6726,#e75e2e,#e05536,#d84c3e,#cf4446,#c43c4e,#b93556,#ad305d,#a02a63,#922568,#84206b,#751b6e,#69166e,#5a116e,#4c0c6b,#3e0966,#310a5c,#230c4c,#180c3c,#10092d,#08051d,#040312,#010106,#000004)"></i><i style="background:linear-gradient(#010005,#010108,#040312,#08051d,#0d0829,#140b34,#1e0c45,#280b53,#340a5f,#400a67,#4d0d6c,#59106e,#65156e,#721a6e,#7f1e6c,#8d2369,#9a2865,#a62d60,#b3325a,#bd3853,#c83f4b,#d04545,#d94d3d,#e05536,#e65d2f,#eb6628,#ef6e21,#f3761b,#f57d15,#f78410,#f98b0b,#fa9207,#fb9706,#fb9d07,#fca108,#fca60c,#fcaa0f,#fcac11,#fcae12,#fcae12,#fcac11,#fcaa0f,#fca60c,#fca108,#fb9b06,#fa9207,#f8890c,#f67e14,#f1711f,#eb6628,#e35933,#d94d3d,#cc4248,#bd3853,#ae305c,#9d2964,#8d2369,#7d1e6d,#6f196e,#62146e,#57106e,#4c0c6b,#450a69,#3e0966,#390963,#380962,#380962,#3b0964,#400a67,#470b6a,#510e6c,#5c126e,#6a176e,#7a1d6d,#8c2369,#9f2a63,#b3325a,#c63d4d,#d54a41,#e35933,#ed6925,#f47918,#f8870e,#fa9407,#fc9f07,#fca60c,#fcac11,#fcb014,#fcb216,#fcb216,#fcb014,#fcae12,#fcaa0f,#fca60c,#fca309,#fb9d07,#fb9606,#fa9008,#f8870e,#f68013,#f37819,#f06f20,#eb6628,#e65d2f,#df5337,#d84c3e,#ce4347,#c43c4e,#b93556,#ab2f5e,#9f2a63,#902568,#84206b,#751b6e,#67166e,#59106e,#4c0c6b,#3e0966,#310a5c,#230c4c,#180c3c,#0e092b,#08051d,#040312,#010106,#000004)"></i><i style="background:linear-gradient(#010005,#010108,#040312,#07051b,#0d0829,#140b34,#1c0c43,#280b53,#340a5f,#400a67,#4c0c6b,#59106e,#65156e,#721a6e,#7f1e6c,#8c2369,#982766,#a52c60,#b1325a,#bc3754,#c73e4c,#d04545,#d84c3e,#e05536,#e55c30,#eb6429,#ef6c23,#f2741c,#f57d15,#f78410,#f98b0b,#fa9008,#fb9706,#fb9b06,#fca108,#fca50a,#fca80d,#fcac11,#fcac11,#fcae12,#fcac11,#fcaa0f,#fca60c,#fca108,#fb9b06,#fa9207,#f8890c,#f67e14,#f1731d,#eb6628,#e35933,#d94d3d,#cc4248,#bf3952,#b0315b,#a02a63,#8f2469,#801f6c,#721a6e,#64156e,#59106e,#4f0d6c,#470b6a,#400a67,#3d0965,#3b0964,#3b0964,#3d0965,#400a67,#470b6a,#510e6c,#5c126e,#69166e,#781c6d,#8a226a,#9f2a63,#b1325a,#c43c4e,#d54a41,#e35933,#ed6925,#f37819,#f8870e,#fa9407,#fb9d07,#fca50a,#fcaa0f,#fcae12,#fcb014,#fcb014,#fcb014,#fcae12,#fcaa0f,#fca60c,#fca108,#fb9b06,#fb9606,#f98e09,#f8870e,#f67e14,#f3761b,#ef6e21,#eb6429,#e55c30,#df5337,#d74b3f,#cc4248,#c33b4f,#b73557,#ab2f5e,#9d2964,#902568,#82206c,#741a6e,#67166e,#59106e,#4a0c6b,#3d0965,#2f0a5b,#230c4c,#180c3c,#0e092b,#08051d,#030210,#010106,#000004)"></i><i style="background:linear-gradient(#010005,#010108,#040312,#07051b,#0c0826,#140b34,#1c0c43,#260c51,#320a5e,#3e0966,#4c0c6b,#57106e,#64156e,#71196e,#7d1e6d,#8a226a,#972766,#a32c61,#b0315b,#bc3754,#c63d4d,#cf4446,#d84c3e,#df5337,#e55c30,#ea632a,#ef6c23,#f1731d,#f57b17,#f78212,#f8890c,#fa9008,#fb9606,#fb9b06,#fca108,#fca50a,#fca80d,#fcaa0f,#fcac11,#fcac11,#fcac11,#fcaa0f,#fca60c,#fca108,#fb9b06,#fa9207,#f8890c,#f67e14,#f1731d,#ec6726,#e45a31,#da4e3c,#ce4347,#c03a51,#b1325a,#a22b62,#902568,#82206c,#741a6e,#67166e,#5c126e,#520e6d,#4a0c6b,#440a68,#3e0966,#3d0965,#3d0965,#3e0966,#420a68,#490b6a,#510e6c,#5c126e,#69166e,#781c6d,#8a226a,#9d2964,#b0315b,#c33b4f,#d44842,#e25734,#ec6726,#f37819,#f8850f,#fa9207,#fb9d07,#fca50a,#fcaa0f,#fcae12,#fcb014,#fcb014,#fcae12,#fcac11,#fca80d,#fca50a,#fca108,#fb9b06,#fa9407,#f98c0a,#f8850f,#f67e14,#f3761b,#ef6c23,#eb6429,#e55c30,#de5238,#d54a41,#cc4248,#c13a50,#b63458,#a92e5e,#9d2964,#8f2469,#801f6c,#741a6e,#65156e,#57106e,#4a0c6b,#3d0965,#2f0a5b,#230c4c,#180c3c,#0e092b,#08051d,#030210,#010106,#000004)"></i><i style="background:linear-gradient(#010005,#010108,#030210,#07051b,#0c0826,#140b34,#1c0c43,#260c51,#320a5e,#3e0966,#4a0c6b,#57106e,#62146e,#6f196e,#7c1d6d,#88226a,#952667,#a22b62,#ae305c,#ba3655,#c43c4e,#ce4347,#d74b3f,#de5238,#e45a31,#ea632a,#ee6a24,#f1731d,#f47918,#f78212,#f8890c,#f98e09,#fb9606,#fb9b06,#fc9f07,#fca50a,#fca80d,#fcaa0f,#fcac11,#fcac11,#fcac11,#fcaa0f,#fca60c,#fca108,#fb9b06,#fa9407,#f98b0b,#f67e14,#f2741c,#ec6726,#e55c30,#db503b,#cf4446,#c13a50,#b3325a,#a32c61,#932667,#84206b,#751b6e,#69166e,#5d126e,#540f6d,#4c0c6b,#450a69,#420a68,#3e0966,#3e0966,#400a67,#440a68,#490b6a,#510e6c,#5a116e,#69166e,#771c6d,#88226a,#9b2964,#b0315b,#c33b4f,#d44842,#e25734,#ec6726,#f37819,#f8850f,#fa9207,#fb9d07,#fca50a,#fcaa0f,#fcae12,#fcae12,#fcae12,#fcae12,#fcac11,#fca80d,#fca50a,#fc9f07,#fb9906,#fa9407,#f98c0a,#f8850f,#f57d15,#f2741c,#ef6c23,#ea632a,#e45a31,#dd513a,#d44842,#cb4149,#c03a51,#b43359,#a82e5f,#9b2964,#8d2369,#801f6c,#721a6e,#65156e,#57106e,#4a0c6b,#3d0965,#2f0a5b,#230c4c,#180c3c,#0e092b,#08051d,#030210,#010106,#000004)"></i><i style="background:linear-gradient(#010005,#010108,#030210,#07051b,#0c0826,#140b34,#1c0c43,#260c51,#310a5c,#3d0965,#4a0c6b,#550f6d,#62146e,#6f196e,#7c1d6d,#88226a,#952667,#a22b62,#ad305d,#b93556,#c33b4f,#cc4248,#d54a41,#dd513a,#e35933,#e9612b,#ed6925,#f1711f,#f47918,#f68013,#f8870e,#f98e09,#fa9407,#fb9906,#fc9f07,#fca309,#fca60c,#fcaa0f,#fcac11,#fcac11,#fcac11,#fcaa0f,#fca60c,#fca108,#fb9b06,#fa9407,#f98b0b,#f68013,#f2741c,#ec6726,#e55c30,#db503b,#d04545,#c33b4f,#b43359,#a52c60,#952667,#85216b,#781c6d,#6c186e,#61136e,#57106e,#4f0d6c,#490b6a,#440a68,#420a68,#400a67,#420a68,#440a68,#4a0c6b,#510e6c,#5a116e,#67166e,#771c6d,#88226a,#9a2865,#ae305c,#c13a50,#d34743,#e15635,#ec6726,#f3761b,#f8850f,#fa9207,#fb9b06,#fca50a,#fca80d,#fcac11,#fcae12,#fcae12,#fcac11,#fcaa0f,#fca60c,#fca309,#fb9d07,#fb9706,#fa9207,#f98b0b,#f78410,#f57b17,#f1731d,#ee6a24,#e9612b,#e35933,#dd513a,#d44842,#ca404a,#c03a51,#b43359,#a82e5f,#9a2865,#8d2369,#7f1e6c,#721a6e,#64156e,#57106e,#490b6a,#3b0964,#2f0a5b,#210c4a,#160b39,#0e092b,#08051d,#030210,#010106,#000004)"></i><i style="background:linear-gradient(#010005,#010108,#030210,#07051b,#0c0826,#120a32,#1b0c41,#240c4f,#310a5c,#3d0965,#490b6a,#550f6d,#61136e,#6d186e,#7a1d6d,#87216b,#932667,#a02a63,#ad305d,#b73557,#c33b4f,#cc4248,#d44842,#dd513a,#e35933,#e8602d,#ed6925,#f1711f,#f37819,#f68013,#f8870e,#f98e09,#fa9407,#fb9906,#fc9f07,#fca309,#fca60c,#fca80d,#fcaa0f,#fcac11,#fcaa0f,#fca80d,#fca60c,#fca108,#fb9b06,#fa9407,#f98b0b,#f68013,#f2741c,#ed6925,#e65d2f,#dd513a,#d24644,#c43c4e,#b63458,#a62d60,#972766,#88226a,#7a1d6d,#6d186e,#62146e,#59106e,#510e6c,#4a0c6b,#470b6a,#440a68,#420a68,#440a68,#450a69,#4a0c6b,#510e6c,#5a116e,#67166e,#751b6e,#87216b,#9a2865,#ae305c,#c13a50,#d34743,#e15635,#eb6628,#f3761b,#f8850f,#fa9207,#fb9b06,#fca309,#fca80d,#fcac11,#fcae12,#fcac11,#fcac11,#fcaa0f,#fca60c,#fca309,#fb9d07,#fb9706,#fa9008,#f98b0b,#f78212,#f57b17,#f1731d,#ed6925,#e9612b,#e35933,#db503b,#d34743,#ca404a,#bf3952,#b3325a,#a62d60,#9a2865,#8c2369,#7f1e6c,#71196e,#64156e,#550f6d,#490b6a,#3b0964,#2d0b59,#210c4a,#160b39,#0e092b,#08051d,#030210,#010106,#000004)"></i><i style="background:linear-gradient(#010005,#010108,#030210,#07051b,#0c0826,#120a32,#1b0c41,#240c4f,#310a5c,#3d0965,#490b6a,#540f6d,#61136e,#6c186e,#781c6d,#85216b,#922568,#9f2a63,#ab2f5e,#b73557,#c13a50,#cb4149,#d44842,#db503b,#e25734,#e8602d,#ec6726,#f06f20,#f37819,#f67e14,#f8850f,#f98c0a,#fa9407,#fb9906,#fb9d07,#fca309,#fca60c,#fca80d,#fcaa0f,#fcac11,#fcaa0f,#fca80d,#fca60c,#fca108,#fb9b06,#fa9407,#f98b0b,#f68013,#f3761b,#ed6925,#e65d2f,#dd513a,#d24644,#c63d4d,#b73557,#a82e5f,#982766,#8a226a,#7c1d6d,#6f196e,#64156e,#5a116e,#540f6d,#4d0d6c,#490b6a,#450a69,#440a68,#450a69,#470b6a,#4c0c6b,#520e6d,#5a116e,#67166e,#751b6e,#85216b,#982766,#ad305d,#c03a51,#d24644,#e05536,#eb6628,#f3761b,#f78410,#fa9008,#fb9b06,#fca309,#fca80d,#fcaa0f,#fcac11,#fcac11,#fcaa0f,#fca80d,#fca50a,#fca108,#fb9b06,#fb9606,#fa9008,#f8890c,#f78212,#f47918,#f1711f,#ed6925,#e8602d,#e25734,#da4e3c,#d24644,#c83f4b,#bd3853,#b1325a,#a52c60,#982766,#8c2369,#7d1e6d,#71196e,#62146e,#550f6d,#490b6a,#3b0964,#2d0b59,#210c4a,#160b39,#0e092b,#08051d,#030210,#010106,#000004)"></i><i style="background:linear-gradient(#010005,#010108,#030210,#07051b,#0c0826,#120a32,#1b0c41,#240c4f,#2f0a5b,#3b0964,#470b6a,#540f6d,#5f136e,#6c186e,#781c6d,#85216b,#922568,#9d2964,#a92e5e,#b63458,#c03a51,#ca404a,#d34743,#da4e3c,#e25734,#e75e2e,#ec6726,#f06f20,#f3761b,#f67e14,#f8850f,#f98c0a,#fa9207,#fb9706,#fb9d07,#fca108,#fca50a,#fca80d,#fcaa0f,#fcaa0f,#fcaa0f,#fca80d,#fca60c,#fca108,#fb9b06,#fa9407,#f98b0b,#f78212,#f3761b,#ee6a24,#e75e2e,#de5238,#d34743,#c63d4d,#b93556,#a92e5e,#9a2865,#8c2369,#7d1e6d,#71196e,#67166e,#5d126e,#550f6d,#4f0d6c,#4a0c6b,#470b6a,#450a69,#470b6a,#490b6a,#4c0c6b,#520e6d,#5a116e,#67166e,#741a6e,#85216b,#982766,#ab2f5e,#c03a51,#d24644,#e05536,#eb6429,#f2741c,#f78410,#fa9008,#fb9906,#fca309,#fca60c,#fcaa0f,#fcac11,#fcac11,#fcaa0f,#fca80d,#fca50a,#fca108,#fb9b06,#fb9606,#f98e09,#f8870e,#f68013,#f47918,#f1711f,#ec6726,#e75e2e,#e15635,#da4e3c,#d24644,#c73e4c,#bd3853,#b1325a,#a52c60,#982766,#8a226a,#7d1e6d,#6f196e,#62146e,#540f6d,#470b6a,#390963,#2d0b59,#210c4a,#160b39,#0e092b,#08051d,#030210,#010106,#000004)"></i><i style="background:linear-gradient(#010005,#010108,#030210,#07051b,#0c0826,#120a32,#1b0c41,#240c4f,#2f0a5b,#3b0964,#470b6a,#520e6d,#5f136e,#6a176e,#771c6d,#84206b,#902568,#9d2964,#a92e5e,#b43359,#c03a51,#ca404a,#d24644,#da4e3c,#e15635,#e75e2e,#eb6628,#ef6e21,#f3761b,#f57d15,#f8850f,#f98b0b,#fa9207,#fb9706,#fb9d07,#fca108,#fca50a,#fca80d,#fcaa0f,#fcaa0f,#fcaa0f,#fca80d,#fca60c,#fca108,#fb9b06,#fa9407,#f98b0b,#f78212,#f3761b,#ee6a24,#e75e2e,#df5337,#d44842,#c73e4c,#b93556,#ab2f5e,#9b2964,#8d2369,#7f1e6c,#741a6e,#69166e,#5f136e,#57106e,#510e6c,#4c0c6b,#490b6a,#470b6a,#470b6a,#490b6a,#4d0d6c,#520e6d,#5c126e,#67166e,#741a6e,#85216b,#972766,#ab2f5e,#bf3952,#d04545,#e05536,#eb6429,#f2741c,#f78410,#fa9008,#fb9906,#fca108,#fca60c,#fcaa0f,#fcaa0f,#fcaa0f,#fcaa0f,#fca60c,#fca309,#fc9f07,#fb9906,#fa9407,#f98e09,#f8870e,#f68013,#f37819,#f06f20,#ec6726,#e75e2e,#e15635,#d94d3d,#d04545,#c73e4c,#bc3754,#b0315b,#a32c61,#972766,#8a226a,#7c1d6d,#6f196e,#61136e,#540f6d,#470b6a,#390963,#2d0b59,#210c4a,#160b39,#0d0829,#08051d,#030210,#010106,#000004)"></i><i style="background:linear-gradient(#010005,#010108,#030210,#07051b,#0b0724,#120a32,#190c3e,#230c4c,#2f0a5b,#390963,#450a69,#520e6d,#5d126e,#6a176e,#751b6e,#82206c,#8f2469,#9b2964,#a82e5f,#b3325a,#bf3952,#c83f4b,#d24644,#d94d3d,#e05536,#e65d2f,#eb6628,#ef6e21,#f3761b,#f57d15,#f78410,#f98b0b,#fa9008,#fb9706,#fb9b06,#fca108,#fca50a,#fca60c,#fcaa0f,#fcaa0f,#fcaa0f,#fca80d,#fca50a,#fca108,#fb9b06,#fa9407,#f98c0a,#f78212,#f37819,#ef6c23,#e8602d,#df5337,#d44842,#c83f4b,#ba3655,#ad305d,#9d2964,#8f2469,#801f6c,#751b6e,#6a176e,#61136e,#59106e,#540f6d,#4f0d6c,#4c0c6b,#4a0c6b,#490b6a,#4a0c6b,#4d0d6c,#540f6d,#5c126e,#65156e,#741a6e,#84206b,#972766,#a92e5e,#bf3952,#d04545,#df5337,#eb6429,#f2741c,#f78212,#f98e09,#fb9906,#fca108,#fca60c,#fca80d,#fcaa0f,#fcaa0f,#fca80d,#fca60c,#fca309,#fc9f07,#fb9906,#fa9407,#f98c0a,#f8850f,#f67e14,#f3761b,#ef6e21,#eb6628,#e65d2f,#e05536,#d84c3e,#cf4446,#c63d4d,#bc3754,#b0315b,#a32c61,#952667,#88226a,#7c1d6d,#6d186e,#61136e,#540f6d,#470b6a,#390963,#2b0b57,#1f0c48,#160b39,#0d0829,#08051d,#030210,#010106,#000004)"></i><i style="background:linear-gradient(#010005,#010108,#030210,#07051b,#0b0724,#120a32,#190c3e,#230c4c,#2d0b59,#390963,#450a69,#510e6c,#5d126e,#69166e,#751b6e,#82206c,#8f2469,#9a2865,#a62d60,#b3325a,#bd3853,#c73e4c,#d04545,#d94d3d,#e05536,#e65d2f,#eb6429,#ef6c23,#f2741c,#f57d15,#f78410,#f98b0b,#fa9008,#fb9606,#fb9b06,#fca108,#fca50a,#fca60c,#fca80d,#fcaa0f,#fcaa0f,#fca80d,#fca50a,#fca108,#fb9b06,#fa9407,#f98c0a,#f78212,#f37819,#ef6c23,#e8602d,#e05536,#d54a41,#ca404a,#bc3754,#ad305d,#9f2a63,#902568,#84206b,#771c6d,#6c186e,#62146e,#5c126e,#550f6d,#510e6c,#4d0d6c,#4c0c6b,#4a0c6b,#4c0c6b,#4f0d6c,#540f6d,#5c126e,#67166e,#741a6e,#84206b,#952667,#a92e5e,#bd3853,#cf4446,#df5337,#ea632a,#f2741c,#f78212,#f98e09,#fb9906,#fca108,#fca50a,#fca80d,#fcaa0f,#fcaa0f,#fca80d,#fca50a,#fca309,#fb9d07,#fb9706,#fa9207,#f98c0a,#f8850f,#f67e14,#f3761b,#ef6e21,#eb6429,#e65d2f,#df5337,#d84c3e,#cf4446,#c63d4d,#ba3655,#ae305c,#a22b62,#952667,#88226a,#7a1d6d,#6d186e,#5f136e,#520e6d,#450a69,#390963,#2b0b57,#1f0c48,#160b39,#0d0829,#07051b,#030210,#010106,#000004)"></i><i style="background:linear-gradient(#010005,#010108,#030210,#060419,#0b0724,#110a30,#190c3e,#230c4c,#2d0b59,#390963,#450a69,#510e6c,#5c126e,#69166e,#741a6e,#801f6c,#8d2369,#9a2865,#a62d60,#b1325a,#bd3853,#c73e4c,#cf4446,#d84c3e,#df5337,#e55c30,#eb6429,#ef6c23,#f2741c,#f57b17,#f78212,#f8890c,#fa9008,#fb9606,#fb9b06,#fc9f07,#fca309,#fca60c,#fca80d,#fcaa0f,#fcaa0f,#fca80d,#fca50a,#fca108,#fb9b06,#fa9407,#f98c0a,#f78212,#f37819,#ef6c23,#e9612b,#e05536,#d54a41,#ca404a,#bd3853,#ae305c,#a02a63,#922568,#85216b,#781c6d,#6d186e,#65156e,#5d126e,#57106e,#520e6d,#4f0d6c,#4d0d6c,#4c0c6b,#4d0d6c,#510e6c,#550f6d,#5c126e,#67166e,#741a6e,#84206b,#952667,#a92e5e,#bd3853,#cf4446,#df5337,#ea632a,#f1731d,#f78212,#f98e09,#fb9706,#fc9f07,#fca50a,#fca80d,#fca80d,#fca80d,#fca60c,#fca50a,#fca108,#fb9d07,#fb9706,#fa9207,#f98b0b,#f78410,#f57d15,#f2741c,#ef6c23,#eb6429,#e55c30,#df5337,#d74b3f,#ce4347,#c43c4e,#b93556,#ae305c,#a22b62,#932667,#87216b,#7a1d6d,#6c186e,#5f136e,#520e6d,#450a69,#380962,#2b0b57,#1f0c48,#150b37,#0d0829,#07051b,#030210,#010106,#000004)"></i><i style="background:linear-gradient(#010005,#010108,#030210,#060419,#0b0724,#110a30,#190c3e,#230c4c,#2d0b59,#380962,#440a68,#4f0d6c,#5c126e,#67166e,#741a6e,#801f6c,#8c2369,#982766,#a52c60,#b0315b,#bc3754,#c63d4d,#cf4446,#d74b3f,#df5337,#e45a31,#ea632a,#ee6a24,#f1731d,#f57b17,#f78212,#f8890c,#f98e09,#fb9606,#fb9906,#fc9f07,#fca309,#fca60c,#fca80d,#fca80d,#fca80d,#fca80d,#fca50a,#fca108,#fb9b06,#fb9606,#f98c0a,#f78410,#f47918,#ef6e21,#e9612b,#e15635,#d74b3f,#cb4149,#bd3853,#b0315b,#a22b62,#932667,#87216b,#7a1d6d,#6f196e,#67166e,#5f136e,#59106e,#540f6d,#510e6c,#4f0d6c,#4d0d6c,#4f0d6c,#510e6c,#550f6d,#5d126e,#67166e,#741a6e,#82206c,#952667,#a82e5f,#bc3754,#cf4446,#de5238,#ea632a,#f1731d,#f78212,#f98e09,#fb9706,#fc9f07,#fca50a,#fca60c,#fca80d,#fca80d,#fca60c,#fca50a,#fca108,#fb9b06,#fb9706,#fa9008,#f98b0b,#f78410,#f57d15,#f2741c,#ef6c23,#ea632a,#e55c30,#de5238,#d74b3f,#ce4347,#c33b4f,#b93556,#ad305d,#a02a63,#932667,#87216b,#781c6d,#6c186e,#5f136e,#520e6d,#450a69,#380962,#2b0b57,#1f0c48,#150b37,#0d0829,#07051b,#030210,#010106,#000004)"></i><i style="background:linear-gradient(#010005,#010108,#030210,#060419,#0b0724,#110a30,#190c3e,#210c4a,#2d0b59,#380962,#440a68,#4f0d6c,#5a116e,#67166e,#721a6e,#7f1e6c,#8c2369,#982766,#a32c61,#b0315b,#ba3655,#c43c4e,#ce4347,#d74b3f,#de5238,#e45a31,#ea632a,#ee6a24,#f1731d,#f47918,#f78212,#f8870e,#f98e09,#fa9407,#fb9906,#fc9f07,#fca309,#fca60c,#fca80d,#fca80d,#fca80d,#fca80d,#fca50a,#fca108,#fb9b06,#fb9606,#f98c0a,#f78410,#f47918,#ef6e21,#e9612b,#e15635,#d74b3f,#cb4149,#bf3952,#b1325a,#a32c61,#952667,#87216b,#7c1d6d,#71196e,#69166e,#61136e,#5a116e,#550f6d,#520e6d,#4f0d6c,#4f0d6c,#4f0d6c,#520e6d,#57106e,#5d126e,#67166e,#741a6e,#82206c,#952667,#a82e5f,#bc3754,#ce4347,#de5238,#ea632a,#f1731d,#f78212,#f98e09,#fb9706,#fc9f07,#fca50a,#fca60c,#fca80d,#fca60c,#fca60c,#fca309,#fc9f07,#fb9b06,#fb9606,#fa9008,#f8890c,#f78212,#f57b17,#f1731d,#ee6a24,#ea632a,#e45a31,#de5238,#d54a41,#cc4248,#c33b4f,#b73557,#ad305d,#a02a63,#922568,#85216b,#781c6d,#6c186e,#5d126e,#510e6c,#440a68,#380962,#2b0b57,#1f0c48,#150b37,#0d0829,#07051b,#030210,#010106,#000004)"></i><i style="background:linear-gradient(#010005,#010108,#030210,#060419,#0b0724,#110a30,#180c3c,#210c4a,#2b0b57,#380962,#420a68,#4d0d6c,#5a116e,#65156e,#721a6e,#7d1e6d,#8a226a,#972766,#a32c61,#ae305c,#ba3655,#c43c4e,#ce4347,#d54a41,#de5238,#e35933,#e9612b,#ed6925,#f1711f,#f47918,#f68013,#f8870e,#f98e09,#fa9407,#fb9906,#fc9f07,#fca309,#fca50a,#fca80d,#fca80d,#fca80d,#fca60c,#fca50a,#fca108,#fb9b06,#fb9606,#f98c0a,#f78410,#f47918,#ef6e21,#ea632a,#e25734,#d84c3e,#cc4248,#c03a51,#b1325a,#a32c61,#972766,#88226a,#7d1e6d,#721a6e,#6a176e,#62146e,#5c126e,#57106e,#540f6d,#510e6c,#510e6c,#510e6c,#540f6d,#57106e,#5d126e,#67166e,#741a6e,#82206c,#932667,#a82e5f,#bc3754,#ce4347,#de5238,#ea632a,#f1731d,#f68013,#f98c0a,#fb9706,#fc9f07,#fca309,#fca60c,#fca60c,#fca60c,#fca50a,#fca309,#fc9f07,#fb9906,#fb9606,#fa9008,#f8890c,#f78212,#f57b17,#f1731d,#ee6a24,#e9612b,#e45a31,#dd513a,#d54a41,#cc4248,#c13a50,#b73557,#ab2f5e,#9f2a63,#922568,#85216b,#771c6d,#6a176e,#5d126e,#510e6c,#440a68,#380962,#290b55,#1f0c48,#150b37,#0d0829,#07051b,#030210,#010106,#000004)"></i><i style="background:linear-gradient(#010005,#010108,#030210,#060419,#0b0724,#110a30,#180c3c,#210c4a,#2b0b57,#360961,#420a68,#4d0d6c,#59106e,#65156e,#71196e,#7d1e6d,#8a226a,#952667,#a22b62,#ae305c,#b93556,#c33b4f,#cc4248,#d54a41,#dd513a,#e35933,#e9612b,#ed6925,#f1711f,#f47918,#f68013,#f8870e,#f98c0a,#fa9407,#fb9906,#fb9d07,#fca108,#fca50a,#fca60c,#fca80d,#fca80d,#fca60c,#fca50a,#fca108,#fb9b06,#fb9606,#f98c0a,#f78410,#f47918,#f06f20,#ea632a,#e25734,#d94d3d,#ce4347,#c03a51,#b3325a,#a52c60,#972766,#8a226a,#7f1e6c,#741a6e,#6c186e,#64156e,#5d126e,#59106e,#550f6d,#520e6d,#520e6d,#520e6d,#540f6d,#59106e,#5f136e,#67166e,#741a6e,#82206c,#932667,#a82e5f,#bc3754,#ce4347,#de5238,#e9612b,#f1731d,#f68013,#f98c0a,#fb9606,#fb9d07,#fca309,#fca50a,#fca60c,#fca60c,#fca50a,#fca108,#fb9d07,#fb9906,#fa9407,#f98e09,#f8890c,#f78212,#f47918,#f1711f,#ed6925,#e9612b,#e35933,#dd513a,#d44842,#cb4149,#c13a50,#b63458,#ab2f5e,#9f2a63,#922568,#84206b,#771c6d,#6a176e,#5d126e,#510e6c,#440a68,#360961,#290b55,#1e0c45,#150b37,#0d0829,#07051b,#030210,#010106,#000004)"></i><i style="background:linear-gradient(#010005,#010108,#030210,#060419,#0b0724,#110a30,#180c3c,#210c4a,#2b0b57,#360961,#420a68,#4d0d6c,#59106e,#64156e,#71196e,#7d1e6d,#88226a,#952667,#a22b62,#ad305d,#b93556,#c33b4f,#cc4248,#d44842,#dd513a,#e35933,#e8602d,#ed6925,#f1711f,#f37819,#f68013,#f8870e,#f98c0a,#fa9407,#fb9706,#fb9d07,#fca108,#fca50a,#fca60c,#fca80d,#fca80d,#fca60c,#fca50a,#fca108,#fb9b06,#fb9606,#f98e09,#f78410,#f57b17,#f06f20,#ea632a,#e25734,#d94d3d,#ce4347,#c13a50,#b43359,#a62d60,#982766,#8c2369,#801f6c,#751b6e,#6c186e,#65156e,#5f136e,#5a116e,#550f6d,#540f6d,#520e6d,#540f6d,#550f6d,#59106e,#5f136e,#69166e,#741a6e,#82206c,#932667,#a82e5f,#bc3754,#ce4347,#de5238,#e9612b,#f1711f,#f68013,#f98c0a,#fb9606,#fb9d07,#fca309,#fca50a,#fca60c,#fca50a,#fca50a,#fca108,#fb9d07,#fb9906,#fa9407,#f98e09,#f8870e,#f68013,#f47918,#f1711f,#ed6925,#e8602d,#e35933,#db503b,#d44842,#cb4149,#c03a51,#b63458,#a92e5e,#9d2964,#902568,#84206b,#771c6d,#69166e,#5c126e,#4f0d6c,#440a68,#360961,#290b55,#1e0c45,#150b37,#0d0829,#07051b,#030210,#010106,#000004)"></i><i style="background:linear-gradient(#010005,#010108,#030210,#060419,#0a0722,#10092d,#180c3c,#1f0c48,#290b55,#360961,#400a67,#4c0c6b,#59106e,#64156e,#6f196e,#7c1d6d,#88226a,#932667,#a02a63,#ad305d,#b73557,#c13a50,#cb4149,#d44842,#db503b,#e25734,#e8602d,#ec6726,#f06f20,#f37819,#f67e14,#f8850f,#f98c0a,#fa9207,#fb9706,#fb9d07,#fca108,#fca50a,#fca60c,#fca80d,#fca80d,#fca60c,#fca50a,#fca108,#fb9b06,#fb9606,#f98e09,#f8850f,#f57b17,#f06f20,#eb6429,#e35933,#d94d3d,#cf4446,#c33b4f,#b43359,#a62d60,#9a2865,#8d2369,#801f6c,#771c6d,#6d186e,#65156e,#61136e,#5a116e,#57106e,#550f6d,#540f6d,#540f6d,#550f6d,#5a116e,#61136e,#69166e,#741a6e,#84206b,#932667,#a82e5f,#bc3754,#ce4347,#de5238,#e9612b,#f1711f,#f68013,#f98c0a,#fb9606,#fb9d07,#fca309,#fca50a,#fca50a,#fca50a,#fca309,#fca108,#fb9d07,#fb9706,#fa9407,#f98c0a,#f8870e,#f68013,#f37819,#f1711f,#ed6925,#e8602d,#e25734,#db503b,#d34743,#ca404a,#c03a51,#b43359,#a92e5e,#9d2964,#902568,#82206c,#751b6e,#69166e,#5c126e,#4f0d6c,#420a68,#360961,#290b55,#1e0c45,#150b37,#0d0829,#07051b,#030210,#010106,#000004)"></i><i style="background:linear-gradient(#010005,#010108,#030210,#060419,#0a0722,#10092d,#180c3c,#1f0c48,#290b55,#360961,#400a67,#4c0c6b,#57106e,#64156e,#6f196e,#7c1d6d,#87216b,#932667,#a02a63,#ab2f5e,#b73557,#c13a50,#cb4149,#d34743,#db503b,#e25734,#e75e2e,#ec6726,#f06f20,#f37819,#f67e14,#f8850f,#f98c0a,#fa9207,#fb9706,#fb9d07,#fca108,#fca50a,#fca60c,#fca80d,#fca80d,#fca60c,#fca50a,#fca108,#fb9b06,#fb9606,#f98e09,#f8850f,#f57b17,#f06f20,#eb6429,#e35933,#da4e3c,#cf4446,#c33b4f,#b63458,#a82e5f,#9a2865,#8d2369,#82206c,#781c6d,#6f196e,#67166e,#61136e,#5c126e,#59106e,#550f6d,#550f6d,#550f6d,#57106e,#5a116e,#61136e,#69166e,#751b6e,#84206b,#952667,#a82e5f,#bc3754,#ce4347,#de5238,#e9612b,#f1711f,#f68013,#f98c0a,#fb9606,#fb9d07,#fca108,#fca50a,#fca50a,#fca50a,#fca309,#fc9f07,#fb9b06,#fb9706,#fa9207,#f98c0a,#f8850f,#f67e14,#f37819,#f06f20,#ec6726,#e8602d,#e25734,#da4e3c,#d34743,#ca404a,#c03a51,#b43359,#a82e5f,#9b2964,#8f2469,#82206c,#751b6e,#69166e,#5c126e,#4f0d6c,#420a68,#360961,#290b55,#1e0c45,#140b34,#0c0826,#07051b,#030210,#010106,#000004)"></i><i style="background:linear-gradient(#010005,#010108,#02020e,#060419,#0a0722,#10092d,#160b39,#1f0c48,#290b55,#340a5f,#400a67,#4c0c6b,#57106e,#62146e,#6f196e,#7a1d6d,#87216b,#932667,#9f2a63,#ab2f5e,#b63458,#c03a51,#ca404a,#d34743,#da4e3c,#e15635,#e75e2e,#eb6628,#f06f20,#f3761b,#f67e14,#f8850f,#f98b0b,#fa9207,#fb9706,#fb9d07,#fca108,#fca50a,#fca60c,#fca80d,#fca80d,#fca60c,#fca50a,#fca108,#fb9b06,#fb9606,#f98e09,#f8850f,#f57b17,#f1711f,#eb6429,#e45a31,#da4e3c,#d04545,#c43c4e,#b73557,#a92e5e,#9b2964,#8f2469,#84206b,#781c6d,#71196e,#69166e,#62146e,#5d126e,#5a116e,#57106e,#550f6d,#550f6d,#59106e,#5c126e,#62146e,#6a176e,#751b6e,#84206b,#952667,#a82e5f,#bc3754,#ce4347,#de5238,#e9612b,#f1711f,#f68013,#f98c0a,#fb9606,#fb9d07,#fca108,#fca309,#fca50a,#fca50a,#fca309,#fc9f07,#fb9b06,#fb9706,#fa9207,#f98c0a,#f8850f,#f67e14,#f37819,#f06f20,#ec6726,#e75e2e,#e15635,#da4e3c,#d24644,#c83f4b,#bf3952,#b43359,#a82e5f,#9b2964,#8f2469,#82206c,#751b6e,#67166e,#5a116e,#4f0d6c,#420a68,#340a5f,#280b53,#1e0c45,#140b34,#0c0826,#07051b,#030210,#010106,#000004)"></i><i style="background:linear-gradient(#010005,#010108,#02020e,#050417,#0a0722,#10092d,#160b39,#1f0c48,#290b55,#340a5f,#400a67,#4a0c6b,#550f6d,#62146e,#6d186e,#7a1d6d,#85216b,#922568,#9f2a63,#a92e5e,#b63458,#c03a51,#ca404a,#d34743,#da4e3c,#e15635,#e75e2e,#eb6628,#ef6e21,#f3761b,#f57d15,#f8850f,#f98b0b,#fa9207,#fb9706,#fb9b06,#fca108,#fca309,#fca60c,#fca60c,#fca80d,#fca60c,#fca50a,#fca108,#fb9d07,#fb9606,#f98e09,#f8850f,#f57b17,#f1711f,#eb6628,#e45a31,#db503b,#d04545,#c43c4e,#b73557,#a92e5e,#9d2964,#902568,#84206b,#7a1d6d,#71196e,#69166e,#62146e,#5d126e,#5a116e,#59106e,#57106e,#57106e,#59106e,#5c126e,#62146e,#6a176e,#751b6e,#84206b,#952667,#a82e5f,#bc3754,#ce4347,#de5238,#e9612b,#f1711f,#f68013,#f98c0a,#fb9606,#fb9b06,#fca108,#fca309,#fca50a,#fca309,#fca108,#fc9f07,#fb9b06,#fb9606,#fa9207,#f98b0b,#f8850f,#f67e14,#f3761b,#ef6e21,#eb6628,#e75e2e,#e15635,#da4e3c,#d24644,#c83f4b,#bf3952,#b3325a,#a82e5f,#9b2964,#8f2469,#801f6c,#741a6e,#67166e,#5a116e,#4d0d6c,#420a68,#340a5f,#280b53,#1c0c43,#140b34,#0c0826,#07051b,#030210,#010106,#000004)"></i><i style="background:linear-gradient(#000004,#010108,#02020e,#050417,#0a0722,#10092d,#160b39,#1e0c45,#280b53,#340a5f,#3e0966,#4a0c6b,#550f6d,#61136e,#6d186e,#781c6d,#85216b,#922568,#9d2964,#a92e5e,#b43359,#c03a51,#c83f4b,#d24644,#da4e3c,#e15635,#e65d2f,#eb6628,#ef6e21,#f3761b,#f57d15,#f78410,#f98b0b,#fa9008,#fb9706,#fb9b06,#fc9f07,#fca309,#fca60c,#fca60c,#fca80d,#fca60c,#fca50a,#fca108,#fb9d07,#fb9606,#f98e09,#f8850f,#f57d15,#f1711f,#eb6628,#e45a31,#db503b,#d04545,#c63d4d,#b93556,#ab2f5e,#9d2964,#902568,#85216b,#7a1d6d,#721a6e,#6a176e,#64156e,#5f136e,#5a116e,#59106e,#57106e,#57106e,#5a116e,#5d126e,#62146e,#6c186e,#771c6d,#85216b,#952667,#a92e5e,#bc3754,#ce4347,#de5238,#e9612b,#f1711f,#f68013,#f98c0a,#fb9606,#fb9b06,#fca108,#fca309,#fca309,#fca309,#fca108,#fc9f07,#fb9b06,#fb9606,#fa9008,#f98b0b,#f78410,#f57d15,#f3761b,#ef6e21,#eb6628,#e65d2f,#e15635,#d94d3d,#d24644,#c83f4b,#bd3853,#b3325a,#a62d60,#9a2865,#8d2369,#801f6c,#741a6e,#67166e,#5a116e,#4d0d6c,#400a67,#340a5f,#280b53,#1c0c43,#140b34,#0c0826,#060419,#02020e,#010106,#000004)"></i><i style="background:linear-gradient(#000004,#010106,#02020e,#050417,#0a0722,#10092d,#160b39,#1f0c48,#290b55,#340a5f,#3e0966,#4a0c6b,#550f6d,#61136e,#6c186e,#771c6d,#82206c,#8f2469,#9a2865,#a52c60,#b0315b,#ba3655,#c43c4e,#cc4248,#d44842,#db503b,#e25734,#e75e2e,#eb6628,#ef6e21,#f2741c,#f57b17,#f78212,#f8870e,#f98c0a,#fa9207,#fb9606,#fb9906,#fb9d07,#fc9f07,#fc9f07,#fc9f07,#fb9d07,#fb9b06,#fb9706,#fa9207,#f98c0a,#f78410,#f57b17,#f1731d,#ec6726,#e75e2e,#df5337,#d74b3f,#cc4248,#c13a50,#b63458,#a92e5e,#9d2964,#932667,#8a226a,#801f6c,#7a1d6d,#741a6e,#6f196e,#6c186e,#69166e,#69166e,#69166e,#6a176e,#6f196e,#741a6e,#7c1d6d,#87216b,#932667,#a32c61,#b3325a,#c43c4e,#d34743,#e15635,#eb6429,#f1711f,#f67e14,#f8870e,#fa9008,#fb9606,#fb9706,#fb9906,#fb9906,#fb9906,#fb9706,#fa9407,#fa9008,#f98b0b,#f8850f,#f68013,#f57b17,#f2741c,#ef6c23,#eb6628,#e75e2e,#e15635,#db503b,#d44842,#cb4149,#c33b4f,#b93556,#ae305c,#a22b62,#972766,#8a226a,#7d1e6d,#71196e,#65156e,#59106e,#4c0c6b,#400a67,#340a5f,#280b53,#1c0c43,#140b34,#0c0826,#060419,#02020e,#010106,#000004)"></i><i style="background:linear-gradient(#000004,#010106,#030210,#07051b,#0c0826,#120a32,#190c3e,#230c4c,#2b0b57,#360961,#400a67,#4a0c6b,#540f6d,#5d126e,#67166e,#71196e,#7a1d6d,#85216b,#8f2469,#982766,#a22b62,#ab2f5e,#b3325a,#bc3754,#c33b4f,#ca404a,#d04545,#d74b3f,#db503b,#e05536,#e45a31,#e8602d,#eb6628,#ee6a24,#f06f20,#f2741c,#f37819,#f57b17,#f67e14,#f78212,#f78410,#f8850f,#f8850f,#f8850f,#f78410,#f78212,#f68013,#f57d15,#f37819,#f2741c,#ef6e21,#ec6726,#e9612b,#e55c30,#e05536,#da4e3c,#d44842,#ce4347,#c63d4d,#c03a51,#b93556,#b3325a,#ad305d,#a82e5f,#a32c61,#a22b62,#a02a63,#a02a63,#a02a63,#a32c61,#a62d60,#ab2f5e,#b1325a,#b93556,#c13a50,#ca404a,#d34743,#db503b,#e25734,#e8602d,#ed6925,#f06f20,#f3761b,#f57b17,#f57d15,#f67e14,#f67e14,#f67e14,#f57d15,#f47918,#f3761b,#f1731d,#f06f20,#ee6a24,#eb6628,#e9612b,#e65d2f,#e25734,#de5238,#d94d3d,#d34743,#ce4347,#c73e4c,#c03a51,#b73557,#b0315b,#a62d60,#9d2964,#932667,#88226a,#7f1e6c,#741a6e,#6a176e,#5f136e,#550f6d,#4a0c6b,#3e0966,#340a5f,#290b55,#1e0c45,#150b37,#0d0829,#07051b,#030210,#010005,#000004)"></i></div></div>
<div id="cb"></div>
<svg width="960" height="720" viewBox="0 0 960 720">
<path d="M291.1 254L291.6 252.2L290.6 249.6L289.6 250.4L290.4 254M288.7 331.9L287.4 335.7L287.5 337.5L288.8 339.4L290.6 339.9L296 340.5L297.8 339.3L298.8 333.8M300.3 252.2L299.6 247.2L298.5 244.9L296 243.5L294.2 243.5L288.8 245.1L286.9 246.7L286.3 250.4L288.1 254.7M287.3 330.6L284.9 335.7L285.5 339.3L286.8 341.1L288.8 342.4L294.2 344.3L297.8 343.9L299.6 342.8L301.5 339.3L302.1 333.8M303.3 252.2L302.8 246.7L301.4 243.1L297.8 240.8L294.2 240.6L287.8 243.1L284.6 246.7L283.9 250.4L284.2 252.2L286.4 255.8M284 329.1L282.4 332L282.3 333.8L282.8 337.5L284.4 341.1L288.8 344.7L294.2 346.7L299.6 346.4L303.3 343.8L305.1 339.3L305.1 333.8M306.3 252.2L306.2 244.9L304.4 241.3L302.2 239.5L299.6 238.5L294.2 238.4L287.3 241.3L283.6 244.9L281.1 252.2L281.2 255.8L281.9 257.6M281 327.9L279.6 330.2L279.6 333.8L281.5 339.3L283.3 342.4L288.8 346.8L296 349.1L299.6 349.1L302.9 348.4L305.9 346.5L307.4 344.7L309.2 339.3L308.5 332.3M310 254L310.7 248.6L310.5 244.9L307.8 239.5L303.3 236.6L299.6 235.9L296 236L290.6 237.6L286.9 239.6L283.3 242.7L281.8 244.9L279 252.2L279.2 255.8L280.7 258.5M280.1 327L278.4 330.2L277.9 333.8L279.7 339.2L281.5 342.4L286.9 347.6L290.6 349.6L296 351.3L301.5 351.5L305.1 350.9L308.7 349.2L310.5 347.6L312.4 344.7L313.5 341.1L313.7 337.5L312.8 332M314 254L315 248.6L315 244.9L314 241.3L311.9 237.7L308.7 235.3L305.4 234L297.8 233.6L292.4 234.9L288.8 236.6L285.1 239L281.2 243.1L278.4 248.6L277.5 252.2L278 255.8L279.8 259.3M279.3 326.6L277.4 330.2L276.7 333.8L277.4 337.5L280.2 342.9L283.3 346.6L288.8 350.6L294.2 352.9L299.6 354L305.1 354L308.7 353.2L312.4 351.8L316.1 348.4L317.9 344.7L318.7 339.3L318.2 335.7L316.3 330.2M317.9 255.9L319.9 250.4L320.4 246.7L319.7 241.3L317.8 237.1L314.8 234L310.5 232L305.1 231L299.6 231.1L294.2 232.3L288.8 234.7L285.1 237.1L280.9 241.3L277.9 246.3L276.5 250.4L276.6 254L279.1 259.4M278.6 326.6L275.9 332L275.6 335.7L277.6 341.1L281.5 346.8L286.9 351.4L292.4 354.3L297.8 356L305.1 356.8L312.4 356.1L317.8 354.2L321.1 352L324 348.4L325.5 342.9L325.7 337.5L324.6 332L322.4 327.4M324.2 259.4L326.8 254L328.1 248.6L327.6 241.3L325.5 235.9L322 232.2L318.7 230.4L312.5 228.6L306.9 228.1L299.6 228.7L292.4 230.9L286.9 233.8L281.5 238.5L277.1 244.9L275.3 250.4L275.7 254L278.4 259.4M277.9 326.6L275 332L274.8 337.5L277.9 344.2L283.3 350.6L290.6 355.6L297.8 358.4L305.1 359.7L314.2 359.7L325.4 357.4L333.4 353.8L337.8 350.2L341.1 344.7L342.4 337.5L341.2 332L337.5 326.6L330.6 321M334.2 268.6L340.8 263.1L345.7 255.8L347.1 250.4L346.3 243.1L343.7 237.7L338.1 232.2L331.1 228.6L319.6 225.5L310.5 224.8L301.5 225.7L292.4 228.7L285.1 233.1L281.5 236.4L277.9 241L274.5 248.6L274.8 254L277.8 259.5M277.5 326.2L274.1 332L273.5 335.7L274.8 341.1L277.8 346.5L281.5 351.1L286.9 355.7L292.4 358.8L299.6 361.5L308.7 363.2L317.8 363.7L346.8 362.2L377.7 362.1L392.2 360.4L401.3 357.2L408.8 352L412.7 346.5L414.8 339.3L414.7 328.4L411.9 313.9L407.4 304.8L400.8 297.6M409 288.5L406 283L404 275.8L403.9 268.5L405.6 250.4L405.1 244.9L404 241.3L400.5 235.9L396 232.2L388.6 228.7L381.3 226.6L365 224.2L321.4 220.9L308.7 221.5L297.8 223.9L290.6 227.1L285.1 230.8L279.7 236.1L276.2 241.3L273.9 246.7L273.3 250.4L273.9 254L277.4 259.9M277.1 325.8L273.2 332L272.5 335.7L273 339.3L275.2 344.7L279.7 351.5L285.1 356.8L290.6 360.4L297.8 363.8L305.1 366L314.2 367.7L377.7 374.1L392.2 374.6L406.7 373.2L421.2 369.3L432.1 364.2L440.6 357.4L443.5 353.8L446.5 348.4L448 342.9L448.8 335.7L447.5 319.3L444.5 308.4L437.9 297.6M445.7 288.5L443.5 283L442.2 275.8L443.3 252.2L442.9 244.9L441.7 239.5L439 234L434.2 228.6L425.9 223.2L415.8 219.2L401.4 215.9L388.6 214.5L375.9 214L334.1 215.3L314.2 216.8L299.6 220.2L292.4 223.4L285.1 228.2L279.7 233.6L276.1 238.8L273.3 244.9L272.3 250.4L273.1 254L277 260.3M276.7 325.4L273.2 330.2L271.5 335.7L272.3 341.1L274.2 345.9L277.9 351.9L283.3 357.9L290.6 363.3L297.8 367.1L312.4 371.7L384.9 386.8L403.1 388.5L421.2 387.5L430.3 385.8L437.6 383.7L444.8 380.7L452.1 376.8L459 372L464.8 366.7L469.4 361.1L472.8 355.6L475.1 350.2L476.7 342.9L477.2 335.7L476.7 324.8L475.7 317.4L473.9 310.3L471.5 304.8L467.3 297.6M475.4 288.5L473.6 283L472.6 275.8L473.8 252.2L473.3 243.1L471.4 235.9L467.4 228.6L464.4 225L459.3 220.6L448.3 214.1L433.9 208.9L417.6 205.6L394 204L365 205.4L321.4 210.9L310.5 213.2L299.6 216.7L292.4 220.3L285.1 225.4L279.7 230.8L275 237.7L272 244.9L271.3 250.4L273.1 255.8L276.6 260.7M276.2 325L272.3 330.2L270.5 335.7L271.1 341.1L273.8 348.4L277.9 354.9L283.3 361L290.6 366.7L297.8 370.8L310.5 375.9L349.7 388.3L384.9 402.1L401.3 407.4L417.6 411.5L430.3 413.6L441.2 414.5L452.1 414L459.3 412.7L466.6 410.1L472 407L477.5 402.2L481.3 397.4L486.6 388.5L494.9 372L499.6 361.1L501.9 353.8L503.4 344.7L503.7 335.7L503.1 326.6L500.7 312.1L497.7 304.8L493.7 297.6M502.1 288.5L500.5 283L499.8 277.6L501.1 252.2L500.7 241.3L497.8 230.4L492.5 221.3L487.6 215.9L482.9 211.9L475.7 206.9L468.4 203L452.1 196.8L443 194.6L432.1 192.8L419.4 191.8L406.7 191.8L392.2 192.6L375.9 194.6L352.3 198.6L326.9 203.9L312.4 207.8L301.5 211.8L292.4 216.6L285.1 222L279.7 227.6L274.2 235.8L271.3 243.1L270.3 250.4L272.1 255.8L276.2 261.1M275.7 324.4L270.3 332L269.4 335.7L269.5 339.3L270.8 344.7L273.8 352L277.9 358.4L281.5 362.7L288.8 369.3L299.6 376.2L338.5 393.7L355.5 402.8L369.5 411.9L402.1 435.5L412 444.5L418.3 453.6L419.7 457.2L420.8 462.7L420.1 475.4M527.9 288.5L526.3 283L525.7 277.6L527.7 248.6L527.2 235.9L524 223.2L518.5 212.3L513 205L506.5 198.4L499 192.3L490.2 186.7L481.1 182.2L472 178.8L463 176.4L452.1 174.6L439.4 173.8L424.9 174.3L408.5 176.3L392.2 179.3L366.8 185.4L337.8 193.6L317.8 200L303.3 206.1L294.2 211.1L285.1 218.1L277.9 226.2L273.2 234L270 243.1L269.3 250.4L271.1 255.8L275.7 261.6M573.3 475.4L568.8 455.4L564 440.9L558 428.2L542.8 400L535.9 382.8L532.6 366.5L530.3 333.8L528.2 317.5L525.4 308.4L519.4 297.6M275.1 323.8L271.3 328.4L269.2 332L268.4 335.7L268.4 339.3L271 350.2L276.8 361.1L283.3 368.9L292.4 376.8L303.3 383.9L326.5 397.4L337.4 404.6L351.4 415.5L362.7 426.4L372.8 439.1L378.6 450L381.5 460.9L381.9 475.4M467.4 101.6L469 105.2L474.7 112.5L476 116.1L474.3 119.7L467.2 125.2L447 136.1L408.8 154.2L314.2 194.5L299.6 202.2L288.8 210L281.5 217.1L276.1 224.4L272.4 231.1L269.4 239.5L268.2 246.7L268.5 252.2L270 255.8L275.1 262.2M555.1 288.5L553.3 283L552.8 275.8L556.3 241.3L556.8 226.8L555.7 214.1L553.5 203.2L550.6 194.1L546.4 184.1L541.1 174.2L535.6 165.7L522.8 150.2L497.1 125.2L493.1 119.7L492.8 117.9L494.1 114.3L502.6 105.2L504.5 101.6M713.1 475.4L711 462.7L706.2 450L699.5 439.1L691.6 431L686.2 427.5L680.7 425L639 410.8L628.1 406L619 400.1L597.2 384.1L586.4 375.1L579.1 368.1L571.7 359.3L565.4 348.4L561.5 337.5L556.3 313.9L552.8 306.6L546.8 297.6M274.5 323.2L268.9 330.2L267.6 333.8L267.1 337.5L267.5 342.9L269.1 350.2L274.2 362.1L279.7 370.1L286.9 378L296 385.8L314.1 399.2L325.2 408.2L336.6 419.1L346 430L353.1 440.9L357.5 451.8L359.7 462.7L360 475.4M395.9 101.6L395.8 114.3L393.7 123.3L389 132.4L379.8 143.3L369.3 152.4L356.4 161.5L312.4 187.1L299.6 195.2L288.8 203.9L279.7 213.7L274.6 221.3L271.1 228.6L268.6 235.9L267.2 243.1L267 248.6L268 254L269.9 257.6L274.5 262.8M588.5 288.5L586.7 284.9L585.7 281.2L585.9 272.1L588.7 255.8L593.6 238.9L628.1 158.9L633.5 148.1L648.6 121.5L655.1 107L656.5 101.6M807.2 475.4L806.3 468.1L804.4 460.9L801.4 453.6L798.4 448.2L789.8 437.3L775.6 424.6L756.2 410.1L715.2 382.1L662.6 342.6L658.9 341L655.3 340.3L637.2 341.6L629.9 341.3L622.7 339.3L615.4 335.4L607.5 328.4L595.1 310.3L581.7 297.6M273.7 322.5L269.9 326.6L267.6 330.2L265.9 337.5L266 342.9L267.2 350.2L271.4 362.9L276.1 371.5L283.3 381.3L290.6 389.1L316 413.7L325 424.6L331.2 433.7L336.8 444.5L339.8 453.6L341.4 462.7L341.9 475.4M364.1 101.6L363.6 114.3L361.7 123.3L356.9 134.2L350.6 143.3L344 150.6L334.1 159.6L303.3 183.4L292.4 192.5L281.5 204.1L274.2 214.8L270.6 222.4L267.9 230.4L266.4 237.7L265.7 244.9L266 250.4L267.6 255.8L269.9 259.4L273.7 263.6M864 375.7L847.7 376.9L831.3 377.2L816.8 376.4L800.5 374.2L786 371.2L773.3 367.4L762.4 363L749.7 356.5L740.6 350.8L733.7 345.5L727.9 340L722.2 332.8L717.9 325.5L710.5 308.9L700.7 290.5L698.2 281.2L698.2 274L700 261.3L702.1 252.2L704.7 244.9L707.9 238.6L712.3 232.2L717.1 226.8L724.3 220L742.4 206.6L769.6 190.1L782.3 184L828.5 165.1L835.5 161.5L840.1 157.8L842 154.2L842.5 150.6L839.6 125.2L840.7 101.6M272.9 321.6L267.2 328.4L265.7 332L264.7 337.5L265.1 350.2L268.1 362.9L272.4 373.5L279.7 385.8L306.3 419.1L312.5 428.2L316.6 435.5L320.5 444.5L323.2 453.6L324.6 462.7L325.2 475.4M339.2 101.6L338.7 112.5L337.2 121.5L334.2 130.6L329.6 139.7L324.7 146.9L317.2 156L292.4 181.4L283.3 191.8L276.1 202.2L270.1 214.1L267.6 221.3L265.4 230.4L264.4 239.5L264.4 246.7L266.3 255.8L268.8 260L272.9 264.4M864 330.7L847.7 331.4L825.9 330.5L809.6 327.7L797.3 323.4L789.6 318.7L785.3 314.6L782.3 310.8L777.7 301.6L775.9 295.1L775.5 290.9L776.6 282.7L780.5 275.9L787.8 269.7L797.3 265.3L809.6 262.2L824.1 260.5L849.5 260.6L864 261.4M271.9 320.6L268 324.8L265.7 328.4L263.4 337.5L263.1 352L265.5 366.5L268.8 377.2L274.2 389.6L281.5 402.5L296.2 426.4L303.4 440.9L307.5 455.4L309.3 475.4M316.7 101.6L316 112.5L314.6 121.5L312.1 130.6L309.1 137.9L300.8 152.4L283.3 176.8L276.1 188.2L270.4 199.6L265.9 212.3L263.9 221.3L262.8 230.4L263 246.7L263.9 252.2L265.8 257.6L268.1 261.3L271.9 265.4M270.9 319.6L265.2 326.6L263.1 332L261.9 337.5L260.7 353.8L261.9 370.1L264.4 382.8L268.1 395.5L283.6 433.7L287.3 444.5L290.1 457.2L291.8 475.4M294.3 101.6L292.6 119.7L289.7 132.4L285.1 145.1L272.4 172L267.8 183.2L263.8 195.9L261.3 208.6L260.1 228.6L260.6 239.5L261.9 248.6L265.2 259.3L270.9 266.4M270 318.7L267 321.4L264.6 324.8L260.8 335.7L257.8 355.6L257 375.6L257.7 388.3L259.1 401L261.5 414.2L269.2 448.2L272.1 475.4M269.7 101.6L266.6 128.8L257 174.2L255.5 186.9L255.1 201.4L256.5 225L260.4 248.6L262.4 255.8L264.7 261.3L270 267.3M237.6 101.6L235.7 119.7L235.2 137.9L236.1 152.4L238.3 166.9L244.3 192.3L259.3 250.4L263.4 261.6L265.6 264.9L269.2 268.1M269.1 317.8L265.4 321.1L263.4 324.1L258.8 337.5L252 368.3L247 399.2L245.6 413.7L245.5 426.4L249.4 475.4M157.7 101.6L154.9 114.3L155.6 119.7L158.1 125.2L162.4 130.6L168 136.1L198 159.4L208.9 168.6L218 177.5L227.1 188.1L236.1 201.3L245.2 218.5L250.7 231.2L261.8 261.3L264.1 264.9L268.6 268.8M268.5 317.2L263.9 321.1L261.6 324.8L248.8 361.4L241.6 379.3L234.3 394L219.1 420.9L213.4 433.7L210.8 442.7L209.5 453.6L209.7 462.7L211.3 475.4M120 179.2L154.5 180.6L178.1 183.6L189 186L198 188.9L207.1 192.8L214.4 196.7L221.6 201.7L228.9 207.9L239.8 220.6L245.2 228.8L250.7 238.8L261.4 263.1L264.6 266.7L268.1 269.2M268 316.7L264.3 319.3L261.2 323L248.8 351.5L243.4 361.5L238 369.9L227.1 382.8L214.4 393.4L203.5 400.2L192.6 405.7L181.7 410.3L172.6 413.3L161.7 415.9L149 418.1L120 420.5M120 203L165.4 202.2L181.7 202.7L199.8 205.4L214.4 210.2L221.6 213.9L228.9 218.7L239.8 228.9L245.2 235.8L250.7 244.1L261.4 264.9L267.6 269.7M267.5 316.2L261.2 321.1L250.7 342.1L245.2 350.8L239.8 357.9L228.9 368.7L221.6 373.8L214.4 377.8L207.1 380.8L198 383.6L179.9 386.8L163.6 387.7L120 387.8M120 222L138.1 221.3L170.8 217.4L185.3 216.4L199.8 217L214.4 220L227.1 225.6L234.3 230.5L239.8 235.2L245.2 241L250.7 248.3L260.2 264.9L267.2 270.2M267.1 315.8L260 321.1L250.7 337.7L245.2 345.2L239.8 351.2L228.9 360L221.6 364L214.4 366.9L201.7 370L185.3 371.1L170.8 370.4L136.3 366.7L120 366.3M120 240.4L129.1 240L140 238.4L172.6 230.2L187.1 227.4L201.7 226.6L214.4 228L221.6 230L228.9 233.1L239.8 240.2L248.8 249.4L259 264.9L260.7 266.7L267 270.7M267 315.2L260.4 319.3L258.7 321.1L248.8 336.5L239.8 345.9L234.3 350L227.1 354.1L214.4 358.4L201.7 360L187.1 359.2L172.6 356.7L138.1 348.3L129.1 347.1L120 346.7M120 261.9L129.1 261L136.3 259L169 243.9L185.3 238L199.8 235L212.5 234.7L225.2 237.2L232.5 240.1L238 243.3L243.4 247.3L248.8 252.7L259.4 266.7L267 271.4M267 314.5L259.1 319.3L248.8 333.2L243.4 338.6L238 342.7L232.5 345.9L225.2 348.9L212.5 351.4L199.8 351.2L185.3 348.3L170.3 342.9L136.3 327.4L129.1 325.4L120 324.5M267 313.9L257.9 319.2L247 332L241.6 336.4L234.3 340.6L227.1 343.2L219.8 344.6L212.5 344.9L203.5 343.9L192.6 341L181.7 336.2L171.8 330.2L162.6 323L153.7 313.9L148.6 306.6L145.3 299.4L144.4 292.1L145.9 284.9L149.6 277.6L156.9 268.5L164.6 261.3L174.3 254L183.9 248.6L194.4 244.3L205.3 241.7L214.4 241L221.6 241.6L228.9 243.3L236.1 246.2L241.6 249.4L247 253.8L258.1 266.7L267 272M266.4 313.3L258.5 317.5L247 329.3L241.6 333.2L236.1 336L230.7 337.8L223.4 339.1L216.2 339.3L208.9 338.3L200.1 335.7L192.3 332L184.1 326.6L177.9 321.1L171.9 313.9L167.8 306.6L165.4 299.4L164.7 292.1L165.7 284.9L168.5 277.6L173 270.3L177.6 264.9L183.7 259.4L191.8 254L199.8 250.2L208.9 247.5L216.2 246.6L223.4 246.7L230.7 248L236.1 249.8L241.6 252.6L247 256.5L258.9 268.5L266.6 272.6M265.9 312.8L257.9 316.8L247 326.8L238 331.9L232.5 333.6L227.1 334.5L221.6 334.6L214.4 333.7L207.1 331.5L199.8 328L192.7 323L187.2 317.5L183.2 312.1L179.5 304.8L177.6 297.6L177.3 292.1L178.3 284.9L180.1 279.4L184.1 272.1L188.5 266.7L194.4 261.4L200 257.6L207.1 254.2L214.4 252.1L221.6 251.1L227.1 251.3L238 253.9L247 258.9L257.9 268.9L266.1 273.1M265.4 312.3L257.9 315.7L247 324.5L239.8 328.3L234.3 329.8L228.9 330.5L218 329.4L212.5 327.7L206.6 324.8L201.4 321.1L195.8 315.7L191.8 310.3L189.2 304.8L187.6 299.4L186.9 292.1L187.5 286.7L189 281.2L191.6 275.8L195.4 270.3L200.8 264.9L205.9 261.3L212.5 258L218 256.2L228.9 255.2L234.3 255.9L239.8 257.5L247 261.2L257.9 270.1L265.5 273.6M265.2 311.5L257.9 314.6L247 322.4L239.8 325.6L230.7 327L221.6 325.8L216.2 323.9L211.1 321.1L206.3 317.5L202.7 313.9L198.9 308.4L196.5 303L195.1 297.6L194.7 292.1L195.3 286.7L196.9 281.2L202.3 272.1L205.8 268.5L210.7 264.7L216.2 261.7L221.6 259.8L230.7 258.7L239.8 260.1L247 263.3L257.9 271.2L265.2 274.2M265.2 310.5L257 313.9L247 320.3L241.6 322.6L234.3 323.7L225.2 322.7L219.8 320.7L214.5 317.5L210.3 313.9L207.2 310.3L204.9 306.6L202.6 301.2L201.4 292.1L203.1 283L205.7 277.6L208.2 274L211.6 270.3L216.2 266.9L225.2 262.9L234.3 261.9L241.6 263.1L247 265.3L256.1 271.3L265.2 275.3M264.7 309.8L256.1 313.2L247 318.4L241.6 320.2L234.3 320.8L227.1 319.5L219.6 315.7L215.3 312.1L212.2 308.4L208.6 301.2L207.2 292.1L209 283L213.2 275.8L219.8 269.7L223.4 267.6L228.9 265.6L236.1 264.8L243.4 265.9L248.8 268.2L256.1 272.5L264.9 276.1M264 309.1L243.4 317.6L236.1 318.2L230.7 317.1L223.4 313.5L219.6 310.3L216.7 306.6L213.3 299.4L212.4 292.1L213.7 284.9L217.6 277.6L223.3 272.1L230.7 268.5L238 267.4L243.4 268L264.2 276.7M263.4 308.5L245.2 315.2L238.3 315.7L232.5 314.4L225.3 310.3L220.6 304.8L218.1 299.4L217.1 292.1L218.5 284.9L221.5 279.4L227.1 274L232.5 271.2L238 270L245.2 270.4L263.6 277.4M263.4 307.5L245.2 313.3L239.8 313.4L234.6 312.1L228.9 308.6L225.2 304.7L222.5 299.4L221.4 292.1L222.3 286.7L225.2 280.9L230.4 275.8L236.1 273L239.8 272.3L245.2 272.4L263.4 278.2M263.4 306.6L247 311.1L241.6 311.2L237.7 310.3L232.5 307.4L228.5 303L226 297.6L225.4 292.1L226.4 286.7L229.5 281.2L233.4 277.6L238 275.3L241.6 274.5L247 274.6L263.4 279.2M263.4 305.3L247 309.2L243.4 309.1L239.8 308.2L234.4 304.8L231.4 301.2L229.8 297.6L229.1 292.1L230.3 286.7L232.4 283L236.1 279.4L239.8 277.4L243.4 276.5L247 276.4L263.4 280.4M262.9 304.3L248.8 307.2L245.2 307.1L241.6 306.1L238 303.9L235.4 301.2L233.5 297.6L232.7 292.1L233.4 288.5L235.1 284.9L238 281.7L241.8 279.4L245.2 278.5L248.8 278.5L263.1 281.5M262 303.4L250.7 305.3L247 305.2L243.4 304.1L239.8 301.5L238.1 299.4L236.5 295.7L236.2 292.1L237 288.5L239.1 284.9L244.2 281.2L250.7 280.4L262.2 282.4M261.5 302.5L252.5 303.5L248.8 303.2L245.2 302L242 299.4L240.8 297.6L239.7 292.1L241.7 286.7L243.4 284.9L246.7 283L252.5 282.3L261.5 283.3M261.5 301.4L254.3 301.8L248.8 300.6L244.8 297.6L243.9 295.7L243.3 292.1L244.6 288.5L246.2 286.7L248.8 285.1L254.3 284L261.5 284.4M261.5 299.9L254.3 299.6L250.7 298L248.4 295.7L247.6 292.1L249.5 288.5L252.5 286.7L256.1 285.9L261.5 285.9M261.5 296.9L256 295.7L254.1 293.9L254 292.1L256.1 289.9L261.5 288.6" fill="none" stroke="#fff" stroke-opacity="0.45" stroke-width="1.8" stroke-linejoin="round"/>
<path d="M664 278.6A3.6 3.6 0 0 1 665.6 286.6M666 294.4A3.8 3.8 0 0 1 663.8 301.6" stroke="#fff" stroke-opacity=".42" stroke-width="1.6" fill="none"/>
<circle cx="301.3" cy="292.7" r="44.65" fill="#fff" stroke="#000" stroke-width="1.7"/>
<path d="M338 284.7L480 283.8L560 283.3L663.4 282L663.4 298.4L560 299.3L480 300.1L338 300.9Z" fill="#fff"/>
<rect x="120" y="102" width="744" height="373" fill="none" stroke="#000" stroke-opacity=".835" stroke-width="2"/>
<rect x="120" y="558" width="744" height="37" fill="none" stroke="#000" stroke-opacity=".835" stroke-width="2"/>
<path d="M120 476v6M211 476v6M301 476v6M392 476v6M483 476v6M574 476v6M664 476v6M755 476v6M846 476v6M119 474h-6M119 384h-6M119 293h-6M119 202h-6M119 112h-6M120 596v6M213 596v6M306 596v6M399 596v6M492 596v6M585 596v6M678 596v6M771 596v6M864 596v6" fill="none" stroke="#000" stroke-opacity=".835" stroke-width="2"/>
<text x="193.00" y="90.00" font-size="25.40" textLength="51.00" lengthAdjust="spacingAndGlyphs">flow</text>
<text x="253.00" y="90.00" font-size="25.40" textLength="23.83" lengthAdjust="spacingAndGlyphs">at</text>
<text x="286.00" y="89.00" font-size="25.40" textLength="123.44" lengthAdjust="spacingAndGlyphs">t=4.930s,</text>
<text x="417.00" y="90.00" font-size="25.40" textLength="108.29" lengthAdjust="spacingAndGlyphs">pressure</text>
<text x="534.00" y="90.00" font-size="25.40" textLength="108.63" lengthAdjust="spacingAndGlyphs">contours</text>
<text x="651.00" y="90.00" font-size="25.40" textLength="69.81" lengthAdjust="spacingAndGlyphs">every</text>
<text x="730.00" y="90.00" font-size="25.40" textLength="57.81" lengthAdjust="spacingAndGlyphs">61Pa</text>
<text x="104.00" y="505.00" font-size="22.95" textLength="31.70" lengthAdjust="spacingAndGlyphs">0.0</text>
<text x="195.00" y="505.00" font-size="22.95" textLength="30.71" lengthAdjust="spacingAndGlyphs">0.1</text>
<text x="285.00" y="505.00" font-size="22.95" textLength="30.71" lengthAdjust="spacingAndGlyphs">0.2</text>
<text x="376.00" y="505.00" font-size="22.95" textLength="31.70" lengthAdjust="spacingAndGlyphs">0.3</text>
<text x="467.00" y="505.00" font-size="22.95" textLength="31.67" lengthAdjust="spacingAndGlyphs">0.4</text>
<text x="557.00" y="505.00" font-size="22.95" textLength="30.71" lengthAdjust="spacingAndGlyphs">0.5</text>
<text x="648.00" y="505.00" font-size="22.95" textLength="31.70" lengthAdjust="spacingAndGlyphs">0.6</text>
<text x="739.00" y="505.00" font-size="22.95" textLength="30.71" lengthAdjust="spacingAndGlyphs">0.7</text>
<text x="830.00" y="505.00" font-size="22.95" textLength="31.70" lengthAdjust="spacingAndGlyphs">0.8</text>
<text x="73.00" y="482.00" font-size="22.95" textLength="31.70" lengthAdjust="spacingAndGlyphs">0.0</text>
<text x="73.00" y="392.00" font-size="22.95" textLength="30.71" lengthAdjust="spacingAndGlyphs">0.1</text>
<text x="73.00" y="301.00" font-size="22.95" textLength="30.71" lengthAdjust="spacingAndGlyphs">0.2</text>
<text x="73.00" y="210.00" font-size="22.95" textLength="31.70" lengthAdjust="spacingAndGlyphs">0.3</text>
<text x="73.00" y="120.00" font-size="22.95" textLength="31.67" lengthAdjust="spacingAndGlyphs">0.4</text>
<text x="97.00" y="625.00" font-size="22.95" textLength="44.67" lengthAdjust="spacingAndGlyphs">0.00</text>
<text x="190.00" y="625.00" font-size="22.95" textLength="44.67" lengthAdjust="spacingAndGlyphs">0.25</text>
<text x="283.00" y="625.00" font-size="22.95" textLength="44.67" lengthAdjust="spacingAndGlyphs">0.50</text>
<text x="376.00" y="625.00" font-size="22.95" textLength="44.67" lengthAdjust="spacingAndGlyphs">0.75</text>
<text x="469.00" y="625.00" font-size="22.95" textLength="44.57" lengthAdjust="spacingAndGlyphs">1.00</text>
<text x="562.00" y="625.00" font-size="22.95" textLength="44.57" lengthAdjust="spacingAndGlyphs">1.25</text>
<text x="655.00" y="625.00" font-size="22.95" textLength="44.57" lengthAdjust="spacingAndGlyphs">1.50</text>
<text x="748.00" y="625.00" font-size="22.95" textLength="44.57" lengthAdjust="spacingAndGlyphs">1.75</text>
<text x="841.00" y="625.00" font-size="22.95" textLength="44.67" lengthAdjust="spacingAndGlyphs">2.00</text>
<text x="422.00" y="654.00" font-size="21.69" textLength="80.00" lengthAdjust="spacingAndGlyphs">velocity</text>
<text x="509.00" y="653.00" font-size="20.05" textLength="54.39" lengthAdjust="spacingAndGlyphs">[m/s]</text>
<text x="60.00" y="309.00" font-size="20.05" textLength="35.61" lengthAdjust="spacingAndGlyphs" transform="rotate(-90 60.00 309.00)">[m]</text>
</svg>
</div>
</body></html>
